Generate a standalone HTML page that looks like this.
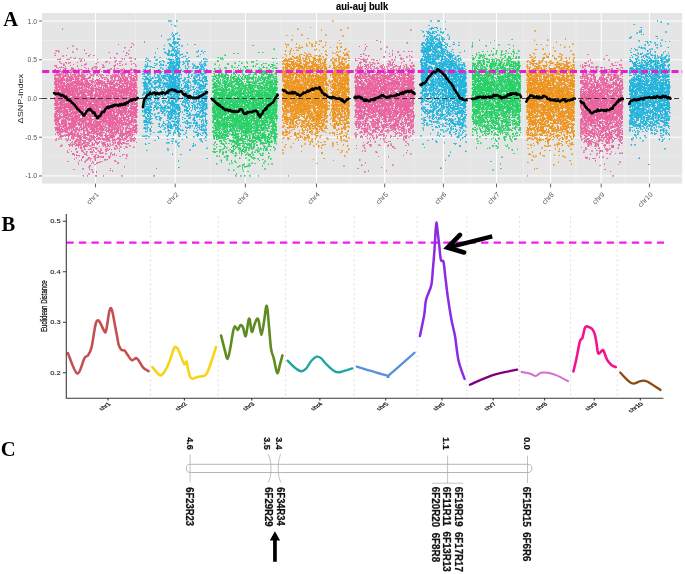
<!DOCTYPE html>
<html><head><meta charset="utf-8"><title>aui-auj bulk</title><style>html,body{margin:0;padding:0;background:#fff}svg{display:block;will-change:transform}</style></head><body>
<svg width="685" height="574" viewBox="0 0 685 574" font-family="Liberation Sans, sans-serif">
<rect width="685" height="574" fill="#fff"/>
<rect x="42.0" y="13.0" width="640.2" height="170.6" fill="#e5e5e5"/>
<path d="M42.0 40.41H682.2M42.0 79.14H682.2M42.0 117.86H682.2M42.0 156.59H682.2M135.35 13.0V183.6M210.30 13.0V183.6M280.95 13.0V183.6M350.60 13.0V183.6M414.05 13.0V183.6M469.95 13.0V183.6M523.55 13.0V183.6M575.90 13.0V183.6M625.35 13.0V183.6" stroke="#f0f0f0" stroke-width=".6" fill="none"/>
<path d="M42.0 21.05H682.2M42.0 59.77H682.2M42.0 98.50H682.2M42.0 137.22H682.2M42.0 175.95H682.2M95.50 13.0V183.6M175.20 13.0V183.6M245.40 13.0V183.6M316.50 13.0V183.6M384.70 13.0V183.6M443.40 13.0V183.6M496.50 13.0V183.6M550.60 13.0V183.6M601.20 13.0V183.6M649.50 13.0V183.6" stroke="#fff" stroke-width="1" fill="none"/>
<defs><marker id="m0" markerUnits="userSpaceOnUse" markerWidth="1.60" markerHeight="1.60" refX="0.80" refY="0.80"><rect width="1.60" height="1.60" fill="#e9639f"/></marker><marker id="m1" markerUnits="userSpaceOnUse" markerWidth="1.60" markerHeight="1.60" refX="0.80" refY="0.80"><rect width="1.60" height="1.60" fill="#21b4dd"/></marker><marker id="m2" markerUnits="userSpaceOnUse" markerWidth="1.60" markerHeight="1.60" refX="0.80" refY="0.80"><rect width="1.60" height="1.60" fill="#27d066"/></marker><marker id="m3" markerUnits="userSpaceOnUse" markerWidth="1.60" markerHeight="1.60" refX="0.80" refY="0.80"><rect width="1.60" height="1.60" fill="#ee941d"/></marker></defs>
<g fill="none" stroke="none">
<path d="M54.8 75.9l0 14.2 0 .7 0 26.2 0 4 .1-42.2 0 18.9 0 1.1 0 4.8 0 .2 .1-34.2 0 12.5 0 1.7 0 .2 0 10.4 0 10.4 0 2.6 0 12.5 .1-54 0 9.1 0 4.4 0 2 0 12.8 0 15.1 0 4.9 .1-58.9 0 14.2 0 8.4 0 9.5 0 6.7 0 19.5 0 2 .1-62.2 0 45.4 0 1.3 0 16.1 0 11.1 .1-39.2 0 16.7 0 2.6 0 1 0 5.8 0 6.3 0 10.1 .1-38.3 0 8.9 0 2.2 0 4.9 0 3 0 .2 0 3 0 5.6 0 7.7 0 .2 0 .1 .1-23.3 .1-19.9 0 6.5 0 6.9 0 .4 0 3.3 0 1 0 .4 0 30.9 .1-53.8 0 4.6 0 7.1 0 1.4 0 6.5 0 2.8 0 13.8 0 7.1 0 .8 0 4.4 .1-48.8 0 5.1 0 3 0 7 0 5.9 0 1 0 2.1 0 4.8 0 9.6 0 4.4 0 17.1 .1-64.8 0 2.9 0 10.3 0 16.5 0 14.1 .1-36 0 1 0 .5 0 2 0 25.2 0 2.3 0 3.3 0 4.3 0 5.8 .1-76.7 0 36.7 0 2.8 0 .2 0 27.5 .1-52.5 0 16.5 0 5.3 0 13 0 2.7 0 2.3 0 7.6 0 15.1 .1-49.4 0 12.3 0 .1 0 5.1 0 23.9 0 18.6 .1-71.8 0 12.4 0 1.3 0 .6 0 4.8 0 25.8 0 17.3 .1-45.5 0 .6 0 4.3 0 16.6 0 2.9 0 15.8 .1-44.7 0 14.1 0 1.6 0 3 0 .7 0 8.6 0 11.2 0 5.7 .1-56.5 0 7 0 8.9 0 4.5 0 .9 0 6.9 0 1.7 0 4.1 0 3.1 .1-24.4 0 4.7 0 7.4 0 9.5 0 3.9 0 4.8 0 3.7 0 5.5 .1-48.4 0 23.7 0 10.6 0 4.8 0 22.3 .1-48.3 0 6.2 0 1.2 .1-16.5 0 14.5 0 12.8 0 5.8 0 12.2 0 5.1 0 3.2 0 1.1 .1-56.2 0 6.9 0 10 0 3.5 0 2.2 0 1.1 0 2.6 0 11.6 0 4.3 0 11.3 0 .4 .1-56.5 0 2.1 0 15.7 0 12.1 0 18.6 .1-45.5 0 18.5 0 8.4 0 2.8 0 6.8 .1-51.1 0 27.8 0 6.6 0 2.4 0 10.7 0 12 0 9.6 0 3 0 2 .1-44.7 0 10.9 0 21.3 0 8.4 0 2.3 .1-51 0 9.5 0 2.6 0 5.8 0 5.4 .1-23.1 0 36.6 .1-67.2 0 24.1 0 4.3 0 4.7 0 3.3 0 3.2 0 2.8 0 5.3 0 1.9 0 28.4 .1-44.3 0 34.6 0 3.5 0 1.7 0 5 .1-34.1 0 3.8 0 10.4 0 2 0 .1 0 1 0 9 0 8.9 .1-44.6 0 22.1 0 2.1 0 4.9 0 5.5 .1-37 0 11.2 0 5.9 0 4.6 0 13.5 0 12.3 .1-54.9 0 15.6 0 5.5 .1-17.6 0 2.7 0 1 0 9 0 11.9 .1-44.3 0 8.9 0 12.2 0 14.2 0 9.6 0 .3 0 17.1 0 13.7 .1-83.7 0 25.8 0 5 0 2.5 0 2 0 24.9 0 26.8 .1-67.1 0 8.5 0 23 0 7.7 0 12.5 0 1 0 3.2 0 4.8 .1-39.2 0 3.3 0 18 0 13.7 .1-46.1 0 7.4 0 3.7 0 26.5 0 9.8 .1-48.9 0 26.5 0 2 0 8.6 0 0 0 .4 0 6.8 0 2 .1-53.2 0 6.7 0 15.7 0 .1 0 21.4 0 6.5 0 3.4 0 3.4 0 0 0 2.6 .1-58.1 0 30.9 0 2.6 0 8.4 0 6.5 .1-53 0 5.7 0 10.9 0 .6 0 7.6 0 2.3 0 1.8 0 8.1 0 21.6 .1-48.4 0 7.1 0 10.7 .1-17.6 0 5.1 0 4.2 0 2 0 6.1 0 2.1 0 9.6 0 2.9 0 3 0 8.5 0 5.3 .1-68.1 0 19.9 0 15.3 0 7.5 0 4 0 7.2 0 10.7 0 2.7 0 5.2 .1-66.7 0 6.9 0 .7 0 10.8 0 25.1 0 5.6 0 9.5 .1-46.2 0 18.2 0 5.6 0 3.7 0 9.4 0 20 .1-77.7 0 22.3 0 10.9 0 1.1 0 3.9 0 .5 .1-14.9 0 3.8 0 7.3 0 8 0 .5 0 1.8 0 20.4 0 0 0 4.4 0 1.9 .1-57.1 0 4 0 16.8 0 16.6 0 0 0 1.6 .1-23.8 0 19.1 0 7.3 .1-33.2 0 .5 0 13.1 0 9.1 0 26.7 0 2.3 0 .7 .1-58.7 0 23.1 0 4.8 0 1.3 0 1.4 0 1.8 0 24.3 .1-73.7 0 10.7 0 23.7 0 5.6 0 4.8 .1-6.3 0 2.4 0 3.1 0 .1 0 15 0 6.3 0 21.7 .1-74.9 0 22 0 3.2 0 4.5 0 3.2 0 32.6 .1-57.5 0 .4 0 14.7 0 10.2 0 3.4 0 .8 0 27.9 .1-73.3 0 16.4 0 5.2 0 7.7 0 9.2 0 6.6 0 3 0 5.1 0 13.1 0 5.7 .1-46.4 0 9.6 0 10.8 0 22.3 .1-47.5 0 3 0 4.6 0 5 0 7.7 0 2.4 0 2.2 0 19.9 0 .5 .1-38.7 0 0 0 7.5 .1-31.2 0 26.7 0 5.6 0 9.2 0 14.2 0 .7 0 3.3 .1-52.2 0 21.8 0 2.9 0 5.8 0 3.1 0 15.7 0 4.4 .1-55.6 0 6.9 0 12.6 0 5.8 0 16.4 0 6.5 0 2.9 0 15.1 .1-60.6 0 11.8 0 13.3 0 7.7 0 18 0 2.6 0 13.5 .1-64 0 .7 0 7.2 0 9.4 0 1.5 0 3.4 0 9 0 4.1 0 4.3 0 10.9 .1-54.4 0 6.2 0 .1 0 4.8 0 1.8 0 1.2 0 .9 0 2.1 0 4.9 0 6.1 0 16.7 0 14.1 .1-64.9 0 29.3 0 2.7 0 2.4 0 2.2 0 18.8 .1-48.5 0 4.7 0 3.6 0 2.6 0 10.9 0 10.3 0 .8 0 6.1 0 2.8 0 1.6 0 14.5 .1-56.6 0 .2 0 1.3 0 2.6 0 3.6 0 0 0 .4 0 1 0 4.5 0 6.2 0 .9 0 2.3 0 2.6 0 18.2 .1-94.1 0 47.5 0 9.3 0 4.7 .1-9.8 0 6.6 0 11.9 0 2.7 0 2 0 19.3 0 6.7 .1-35.3 0 2.4 0 1.8 0 3.4 0 29.5 .1-57.1 0 6.4 0 7.5 0 2.2 0 2.4 0 1.6 0 29.6 0 4.9 .1-57.4 0 7.5 0 8.2 0 3.6 0 .6 0 10 0 18.8 .1-28.4 0 .6 0 3.1 0 11 .1-51.1 0 24 0 16.6 0 11.3 0 2.6 0 2.4 .1-27.6 0 11.3 0 5.2 .1-34.2 0 4.4 0 15 0 .6 0 .8 0 9.2 0 4.8 0 18.5 0 5.4 .1-38.4 0 35.3 .1-37.4 0 .4 0 3.7 0 5.7 0 6.9 0 16.5 0 6.4 0 2 0 2.4 .1-56.9 0 4.5 0 13.6 0 2.4 0 6.8 0 7.8 0 .2 0 2.4 0 11.5 .1-51.4 0 22.1 0 7.4 0 .5 0 4.9 0 14.5 0 5.4 .1-55.7 0 4 0 2.7 0 1.6 0 18.6 0 4.8 0 6.2 0 .3 0 12.6 0 10.9 0 4.5 .1-71.8 0 12 0 7.2 0 2.8 0 3.6 0 10.8 0 4.1 0 10.6 .1-23 0 2.3 0 13 0 6.6 0 .3 0 .3 0 1.5 0 .2 0 4.8 0 10.3 .1-66.3 0 17.2 0 2.8 0 0 0 8.5 0 10.4 0 9.8 0 1.2 0 2 .1-38.8 0 11.5 0 24.6 0 6.2 0 6.1 .1-47 0 .3 0 21.1 0 8.5 0 1.4 0 15.5 .1-50.6 0 4.5 0 2.7 0 2.2 0 7 0 7.7 0 2 0 5.3 0 .6 0 3.8 0 .8 0 11.7 .1-32.1 0 .8 0 3.1 0 .5 0 2.1 0 9.5 .1-23.9 0 6.9 0 .4 0 3.8 0 1 0 3.6 0 7.3 0 2.5 0 7.4 0 5.5 0 .5 0 1.3 0 4.4 .1-53.4 0 11.1 0 19.4 0 .6 .1-22.5 0 .5 0 6.9 0 2.6 0 4.4 0 15.2 0 .8 0 15.4 0 1.8 .1-6.4 0 6 0 3.8 .1-51.6 0 5.3 0 1.1 0 3.6 0 19.1 0 4.7 0 7 .1-33.9 0 24.8 0 5.7 0 1.3 0 .9 .1-54.6 0 1.2 0 34.5 0 2 0 2.7 0 10.8 .1-15.1 0 15.3 0 2.6 .1-49 0 12.8 0 2.4 0 15.4 0 5.6 0 21.1 .1-56.1 0 11.4 0 3.8 0 1 0 1.2 0 16.2 0 6 0 1 0 .4 .1-39.2 0 12.2 0 7.7 0 9.1 0 12.5 0 .3 0 8.3 0 5.8 .1-69.8 0 4.2 0 2.1 0 6.9 0 31.2 0 .5 0 1.9 0 1.6 0 .9 0 24.8 .1-60.9 0 19.7 0 14.6 0 18.6 .1-56.5 0 .9 0 25.5 0 .4 0 5.8 0 6.3 0 13.4 .1-55.9 0 29 0 2.8 0 10.9 0 13.8 0 7.1 .1-44.6 0 2.6 0 11.3 0 4.5 0 .5 0 13.6 0 12.5 0 6.4 .1-53.4 0 2.9 0 .1 0 6.4 0 10.6 0 5.8 0 5.9 .1-41.5 0 5.1 0 5.1 0 35.7 0 1.2 0 2.6 0 1.8 0 .6 0 7.7 .1-55.8 0 8.5 0 10.1 0 5.6 0 5.9 0 1.3 0 1.5 0 12.8 0 .5 0 2.9 0 1.3 .1-50.6 0 2.9 0 9.4 0 2.9 0 11.7 0 9.8 0 .3 0 .8 0 .8 0 4.9 0 6.9 .1-43.1 0 3 0 2.8 0 12.9 0 10.2 0 11.5 0 .2 .1-55.9 0 18.2 0 9.5 0 1.7 0 8.4 0 5.3 0 3.3 .1-62.5 0 7.5 0 9.1 0 22.8 0 2.5 0 6.3 0 10.6 0 1 0 1.1 0 8.3 .1-39.4 0 12.6 0 2.5 0 6.6 0 .1 0 3.5 0 3.5 0 20.8 .1-35.8 0 13 0 6.2 .1-44.7 0 5.3 0 17.9 0 31.2 0 1.2 .1-69.7 0 15 0 6.6 0 6.8 0 7.9 0 5.5 0 1.9 0 .3 0 8.9 0 1.8 0 1.1 .1-37 0 6 0 3.9 0 3.9 0 6 0 .9 0 .4 0 1.8 0 30.1 0 9.5 .1-69.4 0 7.4 0 6.3 0 4.1 0 3.9 0 14.4 0 7.5 0 2.8 .1-38.4 0 1.5 0 13.3 0 .3 0 8.9 0 10.4 0 15.5 0 .6 .1-53.5 0 19.6 0 14.6 0 1.7 0 22.7 .1-86.7 0 35.2 0 0 0 16.8 0 4.5 0 5 0 2.8 0 19.9 0 19.8 .1-79.3 0 7.6 0 7 0 4 0 5.2 0 22.5 0 31.8 .1-61.4 0 8.1 0 .4 0 14.6 0 1.6 0 20.4 0 17.7 .1-82.1 0 11.3 0 8.5 0 4.3 0 11.4 0 3.7 0 1.8 0 18 .1-42.9 0 5.5 0 4.5 0 1.9 0 8.2 .1-29.4 0 2.6 0 10.7 0 1.4 0 2.7 0 4.9 0 14 0 2.3 0 16.9 .1-57.9 0 16 0 14.9 0 .9 0 21.7 0 33.4 .1-89.3 0 13.2 0 .8 0 6.9 0 13.2 0 13.8 0 3.7 0 15.4 .1-63.2 0 17.3 0 30.1 0 .3 .1-21 0 .7 0 20.8 0 2.8 .1-42.7 0 6.7 0 6.1 0 8.5 0 31 .1-42.9 0 13.8 0 7.9 0 .6 0 1 0 5.9 0 .2 0 3.1 0 7.8 0 2.8 0 1.3 .1-55 0 36.7 0 13 0 1.3 0 10.3 .1-81.4 0 21.3 0 3.3 0 3 0 6.3 0 10.7 0 26.2 .1-53.6 0 16.4 0 7.2 0 .7 0 29.4 0 1 0 .4 .1-76.2 0 29.8 0 .6 0 6.7 0 2.2 0 5.7 0 2.2 0 8.6 0 5.5 0 15.1 .1-42 0 2.2 0 4.7 0 18.5 .1-29.8 0 .2 0 1.4 0 17.2 0 10.3 .1-30.8 0 16.9 0 .6 0 5.4 0 3.9 0 12.6 0 3.7 0 14.3 0 4.6 .1-43.3 0 5 .1-23 0 12.8 0 24.1 0 3.7 .1-36 0 9.5 0 13 0 8.3 0 22.6 .1-68.1 0 1.4 0 .9 0 24.5 0 13.9 0 4.4 .1-51 0 13.8 0 5.9 0 .8 0 1.2 0 6.5 0 8.5 0 7.7 0 7.5 .1-47.2 0 6.3 0 6.8 0 9.6 0 .8 0 7.1 0 8.4 0 3.5 .1-33.5 0 6 0 9.7 0 6.6 0 5.1 0 10.5 0 3.2 .1-49.2 0 2.8 0 0 0 .4 0 26.7 0 18.4 .1-41 0 9.9 0 8.9 0 2.4 0 33.9 .1-70.1 0 4.6 0 2.4 0 14.4 0 13.5 0 3.4 0 1.3 0 5.6 .1-23.2 0 .9 0 1.5 0 4.5 0 1.5 0 5.5 0 21.4 .1-64.9 0 23.9 0 13.6 0 43.5 .1-78.2 0 15.2 0 3.5 0 27.5 .1-30.7 0 21 0 23 .1-67.3 0 15.3 0 3.4 0 2.6 0 12.1 0 2.2 0 12.9 0 1.9 0 15.8 0 9.7 0 11.7 .1-72.7 0 5.5 0 2.3 0 4.8 0 10.4 0 4.6 0 2.7 0 4.3 0 2.5 0 4.6 0 2.9 0 10.2 0 .6 0 4.7 0 1 .1-31.8 0 1.4 0 5.5 0 1.7 0 2.2 0 7.1 0 14.5 0 0 .1-46 0 20.6 0 9.5 0 7.2 0 3.4 .1-49 0 7.9 0 .7 0 .2 0 2.4 0 6.9 0 6.1 0 27.6 .1-42.4 0 1.5 0 8.8 0 1.9 0 50 .1-75.8 0 8.8 0 4.2 0 19.1 0 1 0 .8 0 4.1 0 6.6 0 16.8 0 5.2 .1-61.8 0 17.9 0 8.1 0 6.5 0 1.4 0 16.7 0 6.5 0 .4 .1-59 0 4.4 0 6.4 0 1.8 0 4 0 12.5 0 25.6 .1-48.1 0 23.3 0 .6 0 6.9 0 5.9 0 4.9 .1-59.3 0 1.9 0 15.4 0 .6 0 8.3 0 7.7 0 1.8 0 3.8 .1-35.9 0 27.9 0 2.8 0 18.9 0 .8 0 9.6 .1-62.8 0 14 0 23.1 0 1 0 17.4 0 0 0 8.6 0 1.8 .1-57.8 0 12.8 0 9.1 0 1.1 0 16 0 .5 0 10.6 0 7.7 .1-51.9 0 1.3 0 .7 0 3.4 0 1 0 2.7 0 .2 0 2.4 0 5 0 14.2 0 2.9 0 10.9 0 4.5 0 1.1 0 2.9 0 2.1 0 7 .1-68.8 0 7.7 0 8.9 0 7.1 0 2.8 0 7.3 .1-10.1 0 17.4 0 13.5 0 10.9 0 4.4 .1-62.2 0 23.6 0 11 0 25.7 .1-61.5 0 7.5 0 4.1 0 5.6 0 8.3 0 3.5 0 8 0 .9 0 .2 0 14.1 .1-47.4 0 .7 0 7.3 0 .4 0 4.8 0 15 0 2.5 0 .7 0 2.9 0 32.5 .1-79.8 0 8.8 0 38.3 0 3.5 0 28.6 .1-101.7 0 27.2 0 0 0 3 0 15.2 0 15.2 0 7.4 0 10.6 0 5.4 .1-89.9 0 22.6 0 21.2 0 .1 0 3.2 0 3 0 4 0 4.5 0 .7 0 3.8 0 13.1 0 5.6 .1-50.2 0 7.3 0 8.8 0 5 0 3.4 0 2.4 0 2.2 0 7.2 0 3.9 0 3.6 0 5.7 0 1.2 0 10.6 .1-49.7 0 2.8 0 4.7 0 7.8 0 7.5 .1-23.3 0 2.7 0 16.1 0 5.4 0 6.7 0 5.2 0 .5 0 10.3 0 1.6 .1-27.5 0 12.8 0 .6 0 5.1 0 1 .1-64.9 0 13 0 4.3 0 4.9 0 8.7 0 .9 0 8.5 .1-35.8 0 2.7 0 25.8 0 20.9 .1-29.3 0 4.8 0 .9 0 17.8 0 13.3 0 .1 0 43.7 .1-97.9 0 11 0 17.3 0 6.7 0 6.2 0 8.2 0 0 0 1 0 14.7 0 17.4 .1-79.2 0 12.4 0 .1 0 2.6 0 18.9 0 13.9 0 7.1 0 .1 0 4 0 4.5 .1-80.1 0 33.1 0 11.7 0 17.1 0 1.5 0 3.7 .1-19.2 0 20.7 0 6.7 0 10.4 .1-73.7 0 11 0 4 0 21.6 0 15 .1-27.1 0 2.2 0 6.8 0 .9 0 1.4 0 6.7 0 .7 0 2.8 0 7.7 0 .1 0 11.1 .1-61.9 0 31.2 0 4.5 0 7.1 0 39 .1-82.8 0 20.3 0 3.7 0 1.6 0 3.9 0 6.9 0 4.2 0 12.3 0 16.8 .1-54.4 0 13 0 1.5 0 1.4 0 2 0 .8 0 .3 0 2.6 0 3.4 0 46.5 .1-55.1 0 7.4 0 12 .1-49.4 0 1 0 1.3 0 5.7 0 3.6 0 .5 0 12 0 3 0 5.2 0 10.3 0 24.8 .1-71.7 0 5.6 0 7.8 0 14.4 0 1.5 .1-22.3 0 34.5 0 22.8 .1-44.9 0 6.9 0 20.9 0 1.9 0 .1 0 12.8 .1-52.6 0 9.3 0 15.3 0 10.8 0 .9 0 1.9 0 14.8 .1-56.3 0 14.9 0 4.3 0 .4 0 5.2 0 5.7 0 .4 0 .9 0 .2 0 4.4 0 4.2 0 4.6 0 19.5 .1-43.7 0 1.8 0 4.5 0 2.4 0 7.4 0 1.3 0 11.5 0 9.1 0 8 0 6.2 .1-72.5 0 41.7 .1-60.4 0 22.9 0 17.8 0 4.2 0 21.8 0 6 0 15 .1-55.7 0 11.5 0 2.7 0 8.4 0 1.9 0 8.3 0 6.4 .1-48.2 0 4 0 6 0 5.5 0 .1 0 7 0 3.3 0 6.4 .1-34.2 0 3.3 0 .3 0 7.9 0 .3 0 2 0 1.4 0 11.5 0 3.6 0 6.5 0 3.5 0 5.1 0 18.9 .1-65.2 0 3.8 0 6 0 9.4 0 39 0 9 .1-72 0 3.1 0 .8 0 15.3 0 1.8 0 16.4 0 4.4 0 5.4 0 7.4 .1-45.4 0 1.4 0 3.9 0 29.1 0 23.9 0 .1 .1-43.6 0 1.7 0 6.3 0 4.3 0 18.6 0 16.6 0 4 .1-66.4 0 18.2 0 .9 0 6 0 9.9 0 7.2 .1-42.6 0 .7 0 3.1 0 17.2 0 26.8 0 2 0 8.1 0 15.2 .1-78.6 0 7.6 0 1.9 0 14.7 0 .8 0 4.9 0 5.9 0 45.4 .1-108.7 0 29.2 0 23.5 0 1.6 0 4.8 0 .8 0 9.3 0 1.2 0 19.5 0 13 .1-49 0 5.1 0 3.4 0 6.8 0 22.8 0 3.7 .1-63.3 0 3.2 0 6.1 0 .6 0 20 0 10.3 .1-25 0 2.8 0 13.6 0 8.1 .1-35.1 0 17.1 0 2 0 7.5 0 4 0 11 0 1.7 0 4.9 0 1.2 .1-56.3 0 9.5 0 1 0 1.4 0 .4 0 10.3 0 4.9 0 2.8 0 6.6 0 2.5 .1-52.5 0 14.4 0 2.9 0 15.7 0 11.3 0 18.3 .1-48.1 0 4 0 11.8 0 15.1 0 5.7 0 22.1 .1-76.8 0 30.7 0 6.1 0 5.7 0 31.1 .1-60.6 0 16.7 0 3.2 0 0 0 21.9 0 6.3 0 10.7 0 17.9 .1-70.4 0 2.7 0 9.5 0 7.1 0 5.1 0 4.7 0 28.5 0 5.5 .1-68.5 0 18.4 0 2.8 0 7.3 0 4.4 0 46.1 .1-76 0 11.2 0 3.2 0 6.1 0 3.3 0 2.8 0 1.6 0 3.1 0 5.1 0 1.4 0 12.6 0 4.4 .1-58.1 0 .8 0 1.8 0 10.1 0 24.3 0 7.3 0 12.5 0 .5 .1-39.7 0 5.3 0 7.5 0 1.7 0 28.9 .1-66.2 0 3.1 0 5 0 2.2 0 1.4 0 5.2 0 7.6 0 .2 0 3.6 0 8.3 0 16.7 0 15.7 0 2.3 .1-58.5 0 20.3 0 19.1 0 23.9 0 17.6 .1-79.6 0 11.8 0 8.2 0 .7 0 3.1 0 8.5 0 2.2 0 5.1 0 5.3 0 5.3 0 27.6 .1-84.8 0 31.8 0 23.5 .1-64.3 0 7.2 0 8.2 0 8.2 0 1 0 .1 0 5.7 0 12.5 0 2.5 0 29.5 0 2.4 .1-70.3 0 9 0 11.8 0 .7 0 14 0 17.8 0 6 .1-47 0 37 0 10.7 .1-62.3 0 6.8 0 4.2 0 16.2 0 3.4 0 2.8 0 2.4 0 15.8 .1-31.9 0 5.2 0 11.3 0 5.2 0 3.6 0 3.9 0 7.5 .1-13.2 0 6.7 0 11.9 0 8.5 0 1.4 0 10.3 .1-62 0 3.8 0 4.8 0 8.4 0 8.7 .1-49.3 0 11.8 0 4.9 0 1.1 0 9.5 0 2.3 0 9.1 0 1.7 0 11.7 0 22.1 .1-74 0 4.9 0 7.7 0 1.3 0 5.8 0 9.8 0 6.9 0 2.3 0 5.3 0 16.9 0 4.8 0 1.3 0 .7 0 22.6 .1-82.3 0 8.6 0 4.8 0 7.2 0 2.4 0 8.7 0 2.4 0 16.1 0 13.6 .1-59.4 0 6.6 0 5.5 0 17.4 0 2.9 0 1.8 0 7.4 0 12.4 .1-78 0 25.4 0 13.2 0 9.8 0 1 0 4.1 0 8.6 0 10.8 0 6.3 0 2.3 .1-58.4 0 9.5 0 2.4 0 4.8 0 10.9 0 10.4 0 20.5 .1-38.8 0 5.3 0 1.2 0 11.5 0 .4 0 5.3 .1-49.4 0 27.8 0 2.6 0 21.1 .1-44.9 0 24.6 0 29.4 .1-45.2 0 1.8 0 10.1 0 11.3 0 5 0 16.2 .1-59.5 0 .1 0 26.5 0 30.8 .1-71.9 0 26.9 0 23.1 0 4 0 5.1 0 6.2 0 11.8 .1-53.7 0 5.3 0 1.4 0 9 0 .6 0 5.4 0 12.1 0 19 0 3.6 .1-57.5 0 27.5 0 1.5 0 12.3 0 12.1 0 8.3 .1-69.7 0 .6 0 15 0 5.4 0 2.1 0 9.7 0 20.9 0 6.1 0 12 .1-48.7 0 2.2 0 3.6 0 4.8 0 11.3 0 16.7 0 5.4 .1-73.6 0 11.1 0 3.1 0 13.1 0 7.7 0 3.2 0 6.7 0 15.3 .1-53.2 0 17.1 0 7.4 0 2.5 0 4.6 0 10.5 0 5.6 0 24.2 .1-65.5 0 5.2 0 3.9 0 18.6 0 13.9 0 13.6 0 1.6 0 5.2 .1-84.1 0 8.8 0 10.1 0 8.2 0 5.4 0 16.3 0 9 0 .3 0 2.9 0 15.6 0 9.5 0 .9 .1-60.1 0 18.7 0 1.2 0 5.9 0 11.5 .1-50.7 0 8.2 0 15.1 0 4.8 0 5.7 0 11 0 9 0 2 0 3.9 .1-56.5 0 13.2 0 .5 0 7.8 0 10.2 0 .4 0 11.7 0 3 0 2.1 0 34 .1-100.3 0 27.3 0 36.7 0 2.7 0 32.7 .1-77 0 2.2 0 1.5 0 12.8 0 10.3 0 9.5 0 10.2 .1-63.3 0 7 0 8.2 0 2.5 0 3.6 0 1.3 0 3.3 0 6.5 0 8.8 0 1.2 0 4.6 0 5.9 0 9.8 0 22.5 .1-75.7 0 13.8 0 5.7 0 .8 0 4.4 0 14.7 .1-29.7 0 8.1 0 4.4 0 9.3 .1-28.4 0 24 0 6.4 0 2.7 0 10.8 0 6.5 0 11.9 .1-69.9 0 1.4 0 7.6 0 5.9 0 1.3 0 13.5 0 7 0 4.8 0 38 .1-57.9 0 .2 0 .3 0 4 0 17 0 6.9 0 .4 0 1.8 0 21.2 .1-54.7 0 .3 0 3.3 0 2.2 0 1.6 0 8.2 0 1.4 0 38 .1-68.3 0 4.2 0 1.6 0 21.2 0 9.2 0 9.4 0 .5 0 21.8 .1-85.3 0 31.3 0 7.1 0 15 0 4.6 0 .1 0 1 0 3.7 0 36.3 .1-54.9 0 1.6 0 1.7 0 2.9 0 12.3 .1-47.1 0 4.1 0 11.6 0 14.2 0 2.9 0 1.9 0 2.9 0 7 0 3.6 0 14.1 .1-61.4 0 8.2 0 4.2 0 19.4 0 6.8 0 15.6 0 5.2 0 16.6 0 5.2 0 12.6 .1-92.1 0 16 0 3.9 0 4.6 0 8 0 7.6 0 2 .1-33.5 0 15.7 0 13.9 0 7.2 0 6 0 29 .1-74.1 0 9.6 0 1.5 0 1.5 0 3.6 0 7.1 0 3.8 0 13.8 0 51.3 .1-73 0 5.6 0 7.1 0 14.5 0 11.2 .1-62 0 .8 0 17.1 0 6.3 0 8 0 11.2 0 5.5 0 3.6 0 1 0 43.7 .1-97.6 0 6.1 0 26.6 0 4.7 0 10.6 0 1.1 0 14.9 0 1.2 .1-69.1 0 22.6 0 .2 0 5 0 2.3 0 2.3 0 3 0 5.1 0 9.4 0 1.3 0 5.4 0 2.5 .1-50.2 0 8.2 0 12.1 0 20.9 0 5.8 0 .1 0 .1 0 7.3 0 14.6 .1-75.2 0 1.2 0 13.4 0 .3 0 2.3 0 7.1 0 19.6 0 5.4 0 7 0 9.1 0 4.2 0 .1 .1-68.9 0 20.5 0 .5 0 .5 0 4.3 0 11 0 1 0 2.6 0 23.4 0 3.8 0 1.4 .1-57.8 0 3.6 0 27.9 0 14.7 .1-40.8 0 .5 0 5.4 0 .9 0 3.1 0 16.8 0 10.8 .1-52.8 0 12.8 0 4.4 0 1.7 0 3.2 0 14.3 .1-39 0 1.6 0 .8 0 40 0 29.7 0 5.3 .1-103.9 0 21.6 0 4.2 0 2.7 0 13.4 0 18.1 .1-37.2 0 11.3 0 .3 0 .5 0 5 0 1.1 0 1.6 0 6.7 0 28.4 .1-67.8 0 25.2 0 1.4 0 3.7 0 .4 0 3.2 0 .9 0 11.3 0 7.2 0 4.7 0 14.9 0 4.7 0 6 .1-76.4 0 36 .1-13.7 0 45.2 0 3.1 .1-73.1 0 14.2 0 2.7 0 2.9 0 6.8 0 5.2 0 6.2 0 7.8 0 2.2 0 7.4 0 6.5 0 10.9 .1-61.7 0 19.3 0 3.8 0 11 0 3.9 0 13.8 0 9.2 0 3.6 0 21.4 .1-80.7 0 24.6 0 2.6 0 7.5 0 6.9 0 15.6 0 .2 0 7.6 .1-59.4 0 8.5 0 2.4 0 37.8 0 14.1 .1-50 0 8 0 4.3 0 7.1 0 5.3 0 17.6 .1-60.6 0 14.7 0 17.6 0 8 .1-37.8 0 11 0 5.1 0 10.7 0 3.9 0 2 0 28.9 .1-64.5 0 16.9 0 15.9 0 20.7 .1-50.6 0 6.4 0 5.2 0 7.2 0 18.4 0 1.9 0 2.4 0 .5 0 28.8 .1-75.7 0 2.6 0 2.7 0 .1 0 11.6 0 5 0 36.9 .1-73.8 0 24.2 0 4.2 0 25.5 0 5.2 0 1.4 0 20 .1-90.9 0 31.1 0 .9 0 6.7 0 4.9 0 3.1 0 3.9 0 1.1 0 6.5 0 18.9 0 12.1 .1-60.6 0 16.9 0 4.8 0 8.1 0 5.8 0 8 0 3.9 0 24 .1-67.2 0 11.7 0 1.3 0 .8 0 2.3 0 1 0 13.8 0 7.8 0 12.5 0 8.1 0 14.8 .1-78.4 0 7.5 0 6.2 0 5.7 0 23.7 0 2.4 0 11.6 .1-70.7 0 23.7 0 13.9 0 1.6 0 3.5 0 8.1 0 32.2 .1-61.8 0 21.8 0 .7 0 6.8 0 10.6 0 16.6 .1-65.6 0 2.8 0 8.8 0 12.1 0 .9 0 .3 0 1 0 22.5 .1-50.2 0 31.3 0 1 0 3 .1-3.6 0 5.7 0 12.9 0 5.1 0 3.1 0 14.5 .1-69.1 0 .1 0 8 0 13.6 0 2.4 0 39.7 0 8.7 .1-81 0 6.5 0 5.7 0 13.7 0 30.2 0 29.3 .1-81.1 0 4.2 0 3.3 0 14.1 0 11.4 0 .3 0 7.6 .1-32.2 0 10.9 0 7.2 0 3.2 0 9.2 0 6.8 0 4.5 0 .2 0 5.8 0 7.4 .1-58.4 0 29.9 0 21.1 0 4.3 .1-58.4 0 20.3 0 11 0 12.7 0 8.4 .1-50.9 0 10.3 0 7.6 0 5.4 0 7.5 0 10.5 0 9.2 .1-22.2 0 2.5 0 .6 0 3.4 0 7.4 0 6.9 0 .4 0 12.1 0 31.8 .1-59.1 0 16.1 .1-42.6 0 2.6 0 5.9 .1-8.2 0 17.7 0 5.6 0 6.2 0 6.7 0 4 .1-40.7 0 4.7 0 .8 0 14.3 0 25.3 .1-43.9 0 6.5 0 6 0 6.3 0 5.1 0 3.2 0 6.2 0 10.4 0 10 0 14 .1-44.8 0 8.7 0 16 .1-55.4 0 11.1 0 13.6 0 10.7 0 8.4 .1-58.8 0 9.7 0 6.4 0 3.5 0 54.4 0 6.9 .1-80.5 0 38.5 0 12.1 0 4.1 0 1.8 .1-43.1 0 4.9 0 14 0 3.3 0 11.1 0 11.6 .1-71.5 0 45.7 0 1.7 0 1.6 0 21.1 0 8.2 .1-46.1 0 3.6 0 9.8 0 4.8 0 8.5 0 4.8 0 12.9 0 10.9 .1-65.5 0 8.1 0 .4 0 12.7 0 10.2 0 6.6 0 7.5 0 3.8 0 31.2 .1-73.4 0 7.6 0 10.7 0 9.1 0 28.5 0 8.9 0 24.3 .1-90.1 0 7.3 0 7.5 0 .6 0 21 0 37.1 0 9.7 .1-73.3 0 5.4 0 9.7 0 13.5 0 9.6 .1-48.5 0 18.7 0 7 0 4.8 0 1.6 0 1.7 0 3.5 0 3.9 0 1.2 0 14.9 .1-46.4 0 4.1 0 14.3 0 8.5 0 47.8 .1-96.3 0 14.6 0 6.4 0 7.2 0 1.1 0 1.1 0 4.6 0 3.6 0 2.2 0 1.8 0 1.1 0 5.5 0 18.3 .1-38.9 0 3.4 0 12.9 0 .2 0 19.2 .1-39.6 0 8.8 0 1.6 0 7.2 .1-37 0 2.9 0 27.5 0 12 0 2.4 0 1.3 0 8.6 0 6.2 .1-62.1 0 7.8 0 44.6 0 6.7 .1-40.7 0 4.4 0 2.8 0 5.4 0 8.6 0 3.1 0 26.5 .1-55.4 0 2.3 0 18.5 0 .1 0 6.9 0 14.7 0 6.3 0 1.2 0 .8 0 24.4 .1-71.6 0 9.4 0 .4 0 12.6 .1-39.2 0 10.8 0 .6 0 21.2 0 5.6 0 8.1 .1-38.1 0 8.9 0 12.3 0 10.6 0 9.7 0 21.2 0 4 .1-97.7 0 16.7 0 2.1 0 45.1 .1-.2 0 4.8 0 1 0 22.5 0 4.8 0 9.1 .1-68.3 0 1.3 0 17 0 5.3 0 42.9 .1-74.6 0 12.7 0 .5 0 2.4 0 2.6 0 .9 0 .9 0 1.4 0 11.2 0 1.7 0 9.6 .1-53 0 5.4 0 9.7 0 1.8 0 .7 0 3.5 0 11.1 0 .8 0 6.8 0 1.4 0 3.4 0 1.6 0 8.3 0 6.5 0 13.6 .1-54.2 0 6 0 2.8 0 3.2 0 3.7 0 10.9 0 3.2 0 .1 .1-31.7 0 1.4 0 1.1 0 .7 0 6 0 2.2 0 3.3 0 5 0 22.1 0 2.6 .1-28.6 0 12 .1-46.2 0 15.8 0 2.5 0 7.1 0 2.9 0 .4 0 9.5 0 19.4 0 19.5 .1-62.4 0 3.9 0 13.2 0 11.4 0 .5 0 1.3 0 11.5 0 31.6 .1-80.7 0 4.1 0 8.8 0 4.6 0 7.5 0 20.9 0 8.7 0 3.1 .1-58.5 0 6.6 0 17.5 0 17.4 .1-36.9 0 1.7 0 5 0 2 0 .1 0 20.9 0 .5 0 2.7 0 7 0 .9 0 24.4 .1-67.1 0 22.1 0 9.5 0 8 0 .9 0 44.9 .1-100.8 0 19.9 0 .3 0 1.2 0 3 0 12.8 0 4.7 0 26.4 0 7.6 .1-52.8 0 5.8 0 17.5 0 .6 0 15.4 0 16.2 .1-39.3 0 20.1 0 1.6 0 3.4 0 21.1 .1-72.1 0 10.4 0 18.6 0 18.5 0 9.5 0 3.3 0 9.3 .1-84.8 0 15 0 1 0 10.5 0 5.5 0 6.6 0 9.8 0 12.4 .1-48.2 0 8.8 0 11 0 13.3 .1-43 0 11.1 0 11.1 0 3.8 0 11 0 23.9 0 12.7 0 .3 0 1.3 .1-59.4 0 5.4 0 4.3 0 3.5 0 6.6 0 3.1 0 6.1 0 5 0 11.2 0 8.2 0 22.7 .1-94 0 36.5 0 4.9 0 2.7 0 13.3 .1-46.3 0 52.4 .1-56.5 0 12.8 0 .9 0 12.1 0 4.6 0 31.9 0 34.9 .1-82.2 0 1.5 0 33.5 0 5 0 6.8 .1-38.7 0 3.8 0 12.8 0 33 .1-71.5 0 13.5 0 17.4 0 .3 0 .8 0 16.9 0 .4 0 10.4 .1-47.1 0 22.1 0 4.2 0 4.3 0 4.5 0 .7 0 25.4 .1-76.9 0 27.6 0 5.1 0 4.6 0 9.1 0 2.9 0 .2 0 7.8 0 14.4 0 5.5 .1-68.3 0 8.5 0 9.6 0 9.1 0 6.5 0 6.3 0 1.6 0 10.5 .1-32.4 0 2.9 0 3.7 0 4.1 0 3.8 0 10.2 0 23.3 0 13.1 .1-63 0 5.4 0 2 0 21.1 0 3.2 0 1.3 .1-77.4 0 16.4 0 16.8 0 39.3 0 10 0 1.3 .1-48.6 0 19.5 0 5.1 0 1 .1-13.8 0 2.7 0 1 0 19.1 0 4.1 0 1.6 0 26.1 .1-70.8 0 36 0 9.7 0 5.5 .1-42.1 0 14.3 0 16.7 0 6.7 0 3.6 .1-63.7 0 34.6 0 18.6 0 14 0 3.3 0 1.7 0 6.3 .1-62.9 0 25.9 0 3.9 0 12.5 .1-34.2 0 .1 0 3.9 0 26.9 0 16 .1-68.8 0 28.9 0 5.2 0 1.9 0 1.1 0 20.2 .1-65 0 28.5 0 1.7 0 14.3 0 1.6 0 0 0 5.7 0 1.7 0 2.5 0 17.7 .1-67.2 0 9.5 0 13.6 0 .4 0 2.2 0 5 0 .3 .1-19.1 0 11.8 0 3 0 .6 0 4.6 0 5.4 0 4 0 5.7 0 9.4 0 17.6 0 .2 .1-66.5 0 7.2 0 6.6 0 0 0 31.7 0 37.7 .1-78.3 0 11.7 0 4.3 0 6.8 .1-36 0 12.2 0 15.4 0 4.1 0 50.6 0 1.5 0 .3 0 1.5 0 1.3 .1-73.6 0 2.3 0 8.3 0 0 0 3.5 0 5.3 0 15.9 0 2.5 0 13.6 0 4.1 .1-61 0 44.9 0 7.1 0 9.4 .1-75.4 0 24.3 0 8.6 0 14.6 0 1.4 0 .9 0 26 .1-57.9 0 2 0 6.4 0 13.1 0 3.3 0 3.3 0 2.2 0 5.1 0 7.8 0 32.5 .1-70.9 0 4.4 0 7.8 0 1.3 0 18.3 0 2.2 0 4 0 4.3 0 9.6 0 6.4 0 28.3 .1-67.7 0 3.2 0 4 0 .1 0 9.3 0 1.1 0 .9 0 25.6 .1-64.4 0 26 0 1.1 0 3.7 0 1.1 0 11.5 .1-62.9 0 20.7 0 2 0 3.3 0 20.4 0 11.1 0 8.2 0 8.6 0 6 .1-85.1 0 26.4 0 5.8 0 10.4 0 12.9 0 6.7 0 5.7 .1-61.5 0 28.7 0 11.3 0 .7 0 3.3 0 1.3 0 6.2 0 .5 0 3.3 0 7.6 0 15.3 .1-60.2 0 13.3 0 3.4 0 25.6 0 6.2 0 2.6 0 32.7 .1-89.6 0 23 0 6.4 0 3.5 0 14.3 0 46.4 .1-84 0 .8 0 3.4 0 .3 0 2.2 0 .5 0 .5 0 15.7 0 33.8 0 5.5 .1-79 0 6.7 0 1.3 0 11.7 0 5.3 0 22 0 2.5 0 3.1 0 44.3 .1-105.4 0 12.8 0 8.9 0 14.3 0 3.4 0 .9 0 19.9 .1-47.4 0 19.9 0 23.3 0 2.5 0 1.2 0 2.3 0 34.1 .1-80.7 0 1.2 0 16.2 0 1.8 0 6.6 0 .4 0 6.9 0 11.3 0 2 0 7.5 0 6.2 .1-67.3 0 36.8 0 1.9 0 1 0 21.1 .1-61.7 0 5.8 0 4.2 0 10.8 0 11.1 0 11.1 0 .2 0 7.2 0 14 0 18.7 .1-77.8 0 19.9 0 2.6 0 3.1 0 8.5 0 12.2 0 18.1 .1-84.7 0 38.7 0 2.6 0 16.1 0 8.5 0 9.5 0 13.5 0 .3 .1-43.8 0 5.2 0 6.2 0 7.8 .1-17.5 0 12.8 0 10.6 0 14 .1-71.1 0 11.5 0 8.3 0 1.1 0 4.9 0 .3 0 3.7 0 29.2 0 11.7 .1-61.2 0 1.7 0 17.3 0 15.4 0 2.7 0 2.6 0 11.8 .1-49.1 0 5.3 0 14.3 0 5.8 0 1.4 0 3.2 0 .6 0 6.1 .1-59 0 23.9 0 2.7 0 20.8 0 1.8 0 .7 0 9.6 0 9.6 0 26.1 .1-77.5 0 2.1 0 22.9 0 2.6 0 1 0 17.4 0 17.3 0 18.9 .1-80.4 0 10.6 0 4.3 0 2.5 0 9.9 0 3.5 0 6.3 0 19.1 0 17.6 .1-82.5 0 27.8 0 1.3 0 1.4 0 5.2 0 3.8 0 2.1 0 27.7 0 8.3 .1-66.3 0 16.6 0 2.5 0 14.4 0 5.3 .1-46.7 0 14 0 5.5 0 21.1 0 7.6 0 18.2 .1-55 0 .8 0 6.6 0 1.9 0 3.5 0 9.5 0 .7 0 11.5 0 16.8 .1-50.3 0 21.4 0 6.8 0 6.6 0 10.3 0 3.5 0 1 0 18.4 .1-73.2 0 23.2 0 7.5 0 .2 0 4 0 11.8 .1-2 .1-56.8 0 11.4 0 8.1 .1-1.8 0 5.3 0 3.6 0 .6 0 2 0 1.9 0 9.2 0 12 .1-17.6 0 9.8 0 .5 0 4.7 0 3.6 .1-44.8 0 12.5 0 3.6 0 18.1 0 14.8 0 3.7 .1-39.4 0 .8 0 .1 0 28.1 0 11.7 0 7.5 0 .7 .1-61.7 0 4.3 0 2.6 0 1.9 0 5.3 0 3.6 0 6 0 10.2 0 2.9 0 3.9 0 14 0 18 .1-78.9 0 35.9 0 1.8 0 25.5 0 14 .1-73.2 0 16.4 0 21.9 0 17.9 0 11.8 .1-63.4 0 .6 0 6.6 0 8 0 .8 0 13.5 0 2.6 0 12.7 0 34.3 .1-80.1 0 7.1 0 15.1 0 2.7 0 17 .1-49.5 0 19.8 0 .6 0 1.2 0 1.2 0 16.2 0 10.8 0 15.3 .1-59 0 6.9 0 13.3 0 13.4 0 1.6 0 2.9 0 6.8 0 8 0 23.3 .1-87.5 0 20.3 0 4.3 0 13 0 .6 0 5 0 7.4 0 6.6 .1-44.7 0 .2 0 22.9 0 5.4 0 8.5 0 5.2 0 15 .1-35.6 0 0 0 .1 0 .5 0 .7 0 17.8 0 7.2 .1-37.7 0 .8 0 3.2 0 7.3 0 23.6 0 2.4 0 6.9 0 15.4 .1-75.5 0 34.7 0 1.1 0 6.6 0 3.5 0 11.1 0 .1 .1 2 0 17.8 .1-34.3 0 6.2 0 1.1 .1-38.1 0 30.8 0 3.7 0 7.4 0 1.8 0 17.3 .1-65.3 0 13.6 0 3.7 0 16.4 0 10.6 0 25.3 .1-77.1 0 11.4 0 2.2 0 1.3 0 7 0 3.9 0 13.6 0 6.6 0 4.2 0 .1 0 3.1 0 3.7 0 17.4 .1-39.3 0 16.6 0 1.1 0 6.7 .1-52.6 0 15.4 0 1.2 0 4.1 0 25.3 0 9.4 .1-66.9 0 36.2 0 1.5 0 .2 0 11.8 0 29 .1-72.6 0 7.8 0 .3 0 5.5 0 12.7 0 5.5 0 7.7 0 8.3 0 7 0 8.9 .1-49.8 0 9.8 0 7.4 0 21.6 .1-41.2 0 9.7 0 3.1 0 1.7 0 1.1 0 .4 0 8.7 0 3.3 0 10.6 0 1.7 .1-47.9 0 9.8 0 12.5 0 25.8 0 .1 .1-40.4 0 4.7 0 7.5 0 8 0 6.7 0 3.5 0 6.4 .1-45.5 0 11.5 0 5.2 0 3.4 0 2.5 0 6.4 0 .9 0 6.6 0 10.7 0 6.5 0 22.3 .1-72.6 0 .9 0 9.5 0 7.2 0 4.1 0 5.7 0 .8 0 1.7 0 0 0 5.7 0 1.7 0 8.2 0 8.6 .1-24.9 0 29.9 0 18.2 .1-86.6 0 19.6 0 2 0 1.6 0 5.5 0 6.4 0 1.9 0 3.9 0 1.1 0 10.5 0 8.4 .1-52.3 0 8.2 0 .7 0 15.2 0 11.7 .1-41.1 0 6.3 0 14.5 0 .9 0 12.7 0 4.4 0 6.3 0 15.9 0 5.3 .1-59.4 0 7.1 0 2.8 0 9 0 2.4 0 10.9 0 9.9 0 3.8 0 8.1 0 .3 .1-54.4 0 6.1 0 5.9 0 5.2 0 3.2 0 1.5 0 4.1 0 .9 0 2.9 0 6.6 0 14.4 .1-68.4 0 24.1 0 1.7 0 11.7 0 2.5 0 13.5 0 3.1 0 5.5 0 3.1 0 .2 0 6.2 0 3.4 0 10.6 .1-70 0 23 0 32.9 0 .1 0 5.3 0 13.1 .1-92.3 0 28 0 17.4 0 3.1 0 6.5 .1-37.2 0 11.9 0 1.1 0 .9 0 6.6 0 1.2 0 5 0 .7 0 11.4 .1-23 0 3.5 0 13.4 0 30.4 .1-57.3 0 20.1 0 19.8 0 1.3 .1-54.4 0 44.6 0 10.6 .1-29.8 0 .1 0 5.1 0 19.6 0 .2 0 4 0 .2 .1-63.1 0 22.6 0 22.8 0 3.6 0 3.3 0 1 0 36.5 .1-69.6 0 .5 0 21.1 0 0 0 5.2 0 4.2 0 21.8 0 36 .1-90.2 0 4.1 0 3.5 0 11.8 0 1.7 0 14.9 0 1.1 0 3.4 0 12.4 0 4.5 .1-76.1 0 10.5 0 11.4 0 2.6 0 10.9 0 16.5 0 2.2 .1-34.9 0 8.3 0 4 0 10.7 0 2.8 0 7.6 0 1.5 .1-37.6 0 15.4 0 4.4 0 3.4 0 1.1 0 1.8 0 22.9 .1-50.3 0 35.8 0 21 .1-52.8 0 5.8 0 6 0 5.2 0 6.9 0 3.9 0 1.9 0 12.3 0 14.7 .1-33.9 0 9.1 .1-19.3 0 7.1 0 3.4 0 26.1 0 7.8 .1-61.7 0 8.4 0 16.1 0 .9 0 1.7 0 8.9 0 42.3 .1-80.7 0 14.4 0 15.7 0 4 0 30.6 .1-47.6 0 18.8 0 5.9 .1-37.5 0 .6 0 14.8 0 1.3 0 .8 0 4.3 0 4.5 0 3 0 9.4 .1-17.4 0 3.9 0 .8 0 5.3 0 1.2 0 .2 0 14.2 0 15.1 .1-40 0 38.9 0 .4 .1-65.1 0 6.6 0 5.2 0 5 0 22 0 8.6 0 13 .1-67.9 0 21.2 0 30.9 .1-26.4 0 5.9 .1-26.3 0 10.4 0 10.5 0 5.7 0 2.7 0 4.9 0 4.7 0 4.5 0 4.8 0 23.8 .1-63.7 0 10.6 0 2.9 0 19.5 0 2 0 5.1 0 10.8 0 5.8 .1-55.1 0 12.9 0 .6 0 11.1 0 12.9 0 4.7 .1-29.3 0 .9 0 .2 0 15.8 0 7.9 0 8.9 0 .8 0 .4 0 11.8 .1-63.2 0 5.5 0 .8 0 29.5 0 31.3 0 3 0 6 .1-82.3 0 7.1 0 5.5 0 5.4 0 12.8 .1-46.3 0 30.5 0 17.2 0 4 0 1.2 0 24.5 .1-44.3 0 .1 0 5 0 5.8 0 .4 0 6.1 0 1.8 0 3.5 0 20 .1-60.3 0 10 0 5 0 5.3 0 14.5 0 24.8 .1-38.5 0 4.5 0 3.6 0 15.2 0 6.9 0 3 .1-18 0 1.1 0 1 0 4.8 .1-45.3 0 25.3 0 12.9 0 7.5 0 2.5 0 4.1 .1-40.4 0 24.5 0 1.4 0 .5 0 9.2 0 6.3 0 2.3 0 8.8 0 8.7 0 2.4 .1-79 0 23.9 0 9.1 0 2.2 0 4 0 19.5 .1-39.3 0 8.3 0 7 0 31 .1-52.7 0 11.4 0 14.4 0 7.4 0 1.9 0 .5 0 1.1 0 15.2 0 1 0 0 .1-54.5 0 15.8 0 5.6 .1-43.8 0 20.2 0 3.7 0 .4 0 .8 0 3.5 0 11.9 0 .4 0 11.8 0 22.4 .1-57.6 0 56.4 0 3 0 2.9 0 18.1 .1-76.3 0 4.1 0 5.4 0 4.7 0 8.7 0 42.4 .1-68.4 0 .3 0 13.1 0 1 0 2.5 0 13.3 0 2.6 0 2.7 0 1.4 0 22.5 0 5.1 0 .4 .1-51.8 0 7.4 0 2.5 0 13.1 0 27.6 .1-55 .1 6.7 0 5.8 0 7.2 0 22.5 0 4.8 .1-38.5 0 15.6 0 9.9 0 8.2 0 15.7 0 3.6 .1-51.4 0 7.6 0 5.1 0 1.3 0 15.2 .1-58.4 0 11 0 .7 0 17.4 0 2.3 0 1.9 0 2.8 0 4.1 0 3.8 0 31.7 .1-69.8 0 15.2 0 3.5 0 6.7 0 1.9 0 11.6 0 1.7 0 7.9 0 .2 0 6.9 0 7.6 .1-57.5 0 8.5 0 1.6 0 5 0 16.9 0 12.2 .1-31.3 0 5.9 0 7.7 0 4.7 0 .2 0 6.5 0 19.9 .1-59 0 8 0 13.8 0 6.1 0 8.6 0 5 0 4.7 0 5.8 .1-50.1 0 9.6 0 2.3 0 3.3 0 7.3 0 12.8 0 14.7 0 6.3 .1-40.8 0 4.2 0 2.3 0 4.9 0 7.4 0 19.5 0 4.6 .1-34.1 0 1.3 0 9.7 0 1.2 0 6.8 0 10.4 .1-52.2 0 12.5 0 16.1 0 8.5 0 19.3 .1-47.1 0 19.5 0 3.5 0 14.1 0 .3 .1-56.4 0 50.3 .1-11.9 0 2.7 0 2.7 0 10.9 .1-75.8 0 47.9 0 5.5 0 16.3 0 6.4 0 12.5 0 15.6 0 1.3 .1-95.2 0 48.6 0 16.5 0 5.8 0 4.2 0 11.3 .1-66.1 0 11.5 0 1.5 0 2.3 0 12.5 0 8.5 0 .6 0 8.6 0 18 .1-50.4 0 1.9 0 12.6 0 14.6 0 1.4 0 10.6 .1-47.3 0 .6 0 7.5 0 .8 0 3.8 0 7.1 0 8.5 0 7 .1-55.6 0 12.9 0 11.6 0 4.6 0 3.9 0 3.2 0 3.1 0 .4 0 15.4 0 15.9 .1-58.4 0 2.2 0 4.8 0 3.6 0 5.7 0 7 0 13.5 0 5.7 0 5.3 0 26.6 .1-74.8 0 1.7 0 .5 0 4.1 0 14.1 0 18 0 1.2 0 1.9 .1-36.3 0 21.9 0 .3 0 23.1 0 2.8 0 1.5 .1-52.6 0 7.2 0 .2 0 17.4 0 .3 0 4.6 0 1.1 0 1 0 2.5 0 4.7 0 7.6 .1-46.6 0 2 0 15.8 0 5.6 0 5 0 1.1 0 .3 0 11.2 0 18.9 0 26.5 .1-112.3 0 35.4 0 12.3 0 5.1 0 15 0 .1 .1-42.1 0 6.1 0 6.1 0 6.2 0 20.1 0 8.5 0 23.9 0 13.6 .1-90.7 0 9.9 0 3.3 0 3.9 0 4.7 0 5.5 0 13.9 0 4.8 .1-42.7 0 7.1 0 1.5 0 1.9 0 0 0 8.6 0 16.4 0 .4 0 3.3 .1-23.6 0 14.6 0 3.7 0 7.1 0 4.3 0 10.8 0 8.2 .1-69.7 0 28.3 0 4.4 0 14.4 .1-36.2 0 1.8 0 1.6 0 3.6 0 11.4 0 .6 0 12.2 0 1.5 0 2.8 0 7.3 .1-51.8 0 15.4 0 4.9 0 7.2 0 .8 0 4.3 0 27.1 0 15.8 .1-84.4 0 19.9 0 6.9 0 7.3 0 9.7 0 .6 0 2.5 0 20.3 .1-54.9 0 2.3 0 15.9 0 7.5 0 5.6 0 2.5 0 12.2 0 7 .1-49.8 0 11.6 0 7.1 0 .6 0 2.2 0 24.9 0 5 0 13.9 .1-65.8 0 23.5 0 7.5 .1-31.8 0 1.6 0 3.7 0 .4 0 23.7 0 .6 0 4.9 0 10.3 0 2.9 .1-22.1 0 12.9 0 9.1 0 5.7 .1-59.6 0 1.4 0 7.9 0 4.7 0 2.2 0 3.8 0 7.7 0 5.1 0 1.3 0 4.4 0 1.2 0 3.2 0 1.4 0 3.5 0 4.1 0 3.5 0 5.3 .1-29.4 0 19.1 .1-44.7 0 .4 0 4.2 0 13 0 8.7 0 8 0 6.8 0 .5 .1-44.7 0 3.1 0 4.7 0 7.2 0 9 .1-26.3 0 10.4 0 12.9 0 4.4 0 6.4 0 4 0 12.4 0 1.6 0 1.5 0 6.3 .1-53.1 0 4.4 0 14.3 0 33.1 .1-17.3 0 7.1 0 9.2 .1-43.5 0 7.3 0 7.6 0 4 0 1 0 13.1 .1-31.5 0 24.3 0 4.5 0 49.3 .1-77.2 0 23.2 0 1.4 0 4.4 0 4.1 0 27.8 .1-79.8 0 15.8 0 3.2 0 6.9 0 7.4 0 17.2 0 4 0 3.6 0 7.8 0 1.6 .1-66 0 10.2 0 33.2 0 1 0 16.3 0 2.1 .1-56.3 0 20.9 0 .5 0 2 0 .3 0 17.1 0 21 .1-35.8 0 6.7 0 9.5 0 7.7 .1-44 0 4.6 0 10.3 0 3.4 0 6.4 0 8.1 0 .3 .1-41 0 .9 0 4.7 0 18.9 0 9.2 0 4.9 0 16.7 0 4.2 .1-54.9 0 .5 0 11.1 0 4.7 0 16.4 0 .9 .1-34.8 0 5 0 8.1 0 .6 0 .5 0 6.6 0 1.4 0 13.6 0 1.3 0 13.2 .1-58.4 0 13.9 0 4.9 0 8.7 0 8 0 7.9 0 7.6 0 5.2 0 10.9 .1-62.7 0 17.9 0 7.6 0 5.1 0 6.3 .1-32.6 0 4.3 0 3.7 0 3.2 0 4.8 0 5 0 6.5 0 1.5 0 9.5 0 5.8 0 6.4 .1-59.2 0 13.4 0 21.3 0 1.5 0 .6 0 1.3 0 2.7 .1-24.2 0 4.8 0 24.8 0 1.6 0 3.6 .1-42.9 0 2.6 0 22.1 0 1.6 0 .3 0 3.4 .1-48.8 0 3.6 0 17.4 0 0 0 1.2 0 15.1 0 .1 0 12.1 0 6.2 0 14.7 0 18.4 .1-69.1 0 9.9 0 2.8 0 6.3 0 8.2 0 24 0 3.1 .1-58.2 0 7.1 0 12.5 0 16.3 0 12.9 0 2.7 .1-37.2 0 32.5 0 1.2 .1-55.9 0 2.9 0 13.9 0 8.9 0 1.6 0 4.3 0 10.4 0 2.8 0 13.1 .1-65.1 0 1.8 0 21.1 0 29.8 0 17 0 11.2 0 6.1 .1-95.8 0 20 0 1.1 0 6 0 7.2 0 6.5 0 4.5 0 45.5 0 11.9 .1-60.6 0 17.7 0 4.7 0 16.9 .1-58.8 0 12.4 0 24 0 8.6 0 .6 .1-50.4 0 1.5 0 19.4 0 2.2 0 .9 0 1.1 0 7 0 23.4 0 9.4 .1-79 0 24 0 8.8 0 23.7 0 24.1 0 .6 .1-50.1 0 2.1 0 7.6 0 .7 0 31.5 .1-59.7 0 15.4 0 10.6 0 3.6 0 15.1 0 9.3 .1-63.8 0 36 0 15.1 0 6.8 .1-48.8 0 2.6 0 14 0 1.4 0 .1 0 2.6 0 1.8 0 6.8 0 12.3 0 .7 0 32.7 .1-57.4 0 9.9 0 3.4 0 17.4 0 4.6 .1-41.5 0 3.2 0 19.6 0 14.8 0 .3 0 1.1 0 7 0 .4 0 13.6 .1-33.2 0 2.8 0 4.8 0 4 .1-49.1 0 5.5 0 11.2 0 1.9 0 13.1 0 13.4 .1-48.9 0 3.7 0 14.7 0 .5 0 10.7 0 6.8 0 11.1 0 13.6 0 1.1 .1-49.8 0 1.1 0 5.6 0 6.1 0 .6 0 14.8 0 8 0 5.5 .1-64.7 0 22.8 0 6.4 0 6.8 0 1.8 0 7 0 1.1 0 3.5 0 51.5 .1-72.9 0 5.1 0 8.5 0 6.7 0 11.6 0 8.2 0 10.5 0 16.3 .1-72.4 0 8.4 0 1.5 0 1.5 0 .6 0 .3 0 13.7 0 .6 0 6.6 0 1.9 0 3.1 0 .2 0 12.2 0 11.9 .1-54.9 0 5.1 0 15.6 0 5 0 5.7 0 2.5 .2-71.2 0 23.2 0 19.4 0 8.2 0 .2 0 5.1 0 .4 0 6.6 0 5.3 0 8.5 0 .2 .1-46.7 0 14.8 0 2.5 0 5.4 0 9.4 0 12 0 2 .1-53.8 0 43.1 0 12.1 0 15.5 .1-49.9 0 2.3 0 .6 0 5 0 9.9 .1-39.5 0 8.2 0 .5 0 32.3 0 0 0 1.4 0 13.7 .1-51 0 16.1 0 15.9 0 2.5 0 6.2 0 5 0 3 0 19.3 .1-94.6 0 31.4 0 28.7 0 1.7 0 3.3 0 4.3 .1-41.8 0 3.2 0 1.2 0 8 0 2.9 0 22.3 0 3.3 0 .5 0 21.1 .1-79.8 0 50.7 0 2.5 0 9 0 12.4 0 3.9 .1-35.5 0 6.8 0 1.4 0 .1 0 2.4 0 6 0 6.1 0 13 .1-70.9 0 18.2 0 9.6 0 14.7 0 11.5 0 16.8 .1-74.2 0 22.9 0 5.4 0 8.5 0 9.6 0 7.1 0 7.3 0 8.7 .1-53.5 0 25 0 13.2 0 6.1 0 34.3 .1-49.4 0 1.3 0 5.4 0 2.5 0 19.8 .1-54.4 0 1.3 0 1.6 0 12.7 0 6.3 0 1.2 0 10.6 0 5.6 .1-32.7 0 14.8 0 4.5 0 18.1 0 .8 0 6.5 .1-95.3 0 28.6 0 4 0 1.6 0 8.8 0 10.7 0 8.2 0 4.6 0 2 0 20.6 0 29.7 .1-78.5 0 2.5 0 9.9 0 1.8 0 2.4 0 7.9 0 4.5 0 .9 0 7.4 0 19.7 .1-43.5 0 .6 0 31.5 0 1.4 0 12.6 .1-70.2 0 15.4 0 48.4 0 1.4 .1-62.4 0 3.4 0 .2 0 9.7 0 23.2 0 8 0 16.3 .1-57.9 0 9.9 0 12.7 0 1.2 0 3.9 0 15.3 0 4.4 .1-31.6 0 3.2 0 0 0 3.8 .1-26.4 0 29.9 .1-23 0 7.7 0 8.8 0 .7 0 6.4 0 1.5 0 .3 0 4.4 0 4.5 .1-25.4 0 1.1 0 9.6 0 17.4 0 4.8 .1-33.7 0 .6 0 31 0 2.3 0 23.7 .1-68.2 0 .3 0 15.6 0 3.2 0 9.6 0 .9 0 .5 0 .5 0 1.6 0 .5 0 4.9 0 5.2 0 18.1 0 3.5 .1-59.8 0 6.9 0 1.8 0 5.5 0 9.8 0 3.6 0 7.4 0 4.2 0 14.7 0 2.1 .1-56.8 0 .8 0 1.7 0 2.1 0 16.9 0 2.8 0 4.4 0 22.9 0 15.3 .1-87.6 0 13.7 0 21.8 0 8.7 0 5.1 .1-51.3 0 18.9 0 15.8 0 10.4 0 1.1 0 4.5 0 6 0 5.1 0 13.2 .1-54.7 0 8.5 0 17 0 3.3 0 2.4 0 8 0 6.7 0 5.8 0 1.7 0 3.1 0 1.3 0 3.9 .1-78.3 0 15.9 0 .7 0 5.3 0 .6 0 13 0 2.9 0 1.9 0 4.9 0 31.7 0 1.1 .1-40.9 0 27.4 0 4.4 0 6 0 16.1 .1-85.6 0 7 0 2 0 2 0 10.8 0 .4 0 18.5 0 1.2 0 15.7 0 18 .1-54.7 0 6.4 0 6.4 0 .7 0 7.5 0 1.6 0 7.6 0 1.8 .1-28.3 0 1.9 0 8.2 .1-31.5 0 21.4 0 24.1 .1-33.2 0 6.3 0 12.1 0 7.1 0 3.4 0 8.3 0 5.8 0 5.6 0 7.6 .1-60.2 0 .4 0 14.4 0 2.6 0 32.4 0 2.9 0 1.5 0 2.9 .1-68.8 0 8.2 0 .9 0 16.7 0 15.7 0 1.5 0 12.1 0 5.6 0 15.8 .1-56.9 0 4.5 0 4.2 0 27.9 .1-46.4 0 7.3 0 14.3 0 3.7 0 5.1 0 8.2 0 1.7 0 2.5 0 11 .1-51.1 0 2.4 0 0 0 4.8 0 6.1 0 1.8 0 3.2 0 3.7 0 9.1 0 4.1 0 .2 .1-48.8 0 17.3 0 16 0 2.7 0 .3 0 37.7 .1-71.6 0 7.1 0 6.5 0 7.2 0 12.2 0 3.7 0 3.5 0 4.1 0 7.6 .1-52.4 0 4.1 0 11.5 0 1.2 0 5.2 0 8.4 0 .2 0 7.3 0 11.9 0 12.5 .1-72.5 0 13.9 0 7.9 0 2.4 0 6.4 0 2.3 0 1.7 0 2.7 0 2.5 0 9.7 0 4.2 .1-31.5 0 8.1 0 3.7 0 7.7 0 1 0 8 0 1.1 .1-38.9 0 6.7 0 9.8 0 32.2 0 14.6 0 6.5 .1-67.8 0 4.2 0 5.3 0 12.7 0 7.3 0 .5 0 25.9 0 43.8 .1-79.7 0 14.4 0 3.6 .1-43.4 0 26.7 0 17 0 3.2 0 7.2 0 10.3 .1-43.8 0 5.1 0 10.9 0 5 0 8.3 0 11 0 2.6 0 5.1 .1-80.5 0 10.6 0 3.2 0 14.4 0 .9 0 3.8 0 7.3 0 5.4 0 .9 0 6.8 0 17.8 0 6 0 3.4 .1-74.5 0 11.5 0 2.2 0 13.9 0 .7 0 15.1 0 16.2 0 2.7 0 8.9 .1-63.6 0 11.7 0 16.1 0 2.7 0 9.1 0 1.9 0 .1 0 19.9 0 1.4 .1-48.6 0 .6 0 3.5 0 9.4 0 20.7 0 2.3 0 8.8 0 4.9 .1-46.7 0 14.2 0 8.7 0 24.2 0 17.8 .1-79.7 0 26.8 0 5.6 0 12.5 0 18.6 0 3.5 .1-68.5 0 .5 0 23.4 0 17.1 0 9.8 .1-43.6 0 8.2 0 .1 0 10.9 0 34.5 .1-57.8 0 6.9 0 40.7 0 3.4 0 7 .1-51.4 0 9 0 9.3 0 7.1 0 5.6 0 1.3 0 7.7 .1-51.1 0 1.2 0 3.7 0 13.7 0 4.5 0 3.8 0 2.6 0 8.4 0 6.9 .1-33 0 7 0 7.4 0 19.5 0 .7 0 3.3 0 .8 0 6.3 .1-78 0 27.3 0 6.9 0 7.2 0 7.6 0 3.2 0 3.8 0 8.2 0 7.3 0 5 .1-36.6 0 2.9 0 4.1 0 13.7 0 7.7 .1-51.2 0 22.3 0 9.1 0 43.5 .1-63.7 0 16.1 0 2.4 0 13.9 0 22.9 .1-55.8 0 25.3 0 2.1 0 10.6 0 16.3 .1-61.1 0 13.8 0 8.6 0 3.1 0 2.1 0 8.9 0 24.5 0 21.1 .1-66 0 13.7 0 16.9 0 21.1 0 2.2 .1-70.5 0 1.9 0 5.8 0 11.2 0 3.6 0 8.5 0 .6 0 3.8 0 1.1 0 26.3 .1-10.2 .1-65.4 0 10.2 0 10.9 0 .9 0 6.9 0 21.8 0 13 0 11.8 0 3.5 .1-67.1 0 14.6 0 .8 0 .5 0 2.5 0 44.3 0 33.1 .1-91.4 0 16.1 0 .6 0 14.5 0 3.5 0 1.4 0 6.5 0 3.9 0 26.5 .1-72 0 6.6 0 6.5 0 .5 0 .5 0 7.6 0 10.1 0 5 0 4.8 .1-70.3 0 31.8 0 3.1 0 8 0 2.2 0 1.2 0 24.6 .1-42.3 0 13.4 0 .1 0 2 0 6.9 0 9.3 0 11.9 0 23.6 .1-60.2 0 14.5 0 8.7 0 12 .1-45.5 0 7.6 0 16.8 0 36.2 0 4.6 .1-60.7 0 4.5 0 7.4 0 12.5 0 1.2 0 4.3 0 6.8 0 8.4 .1-13.9 0 1.6 .1-31.1 0 19 0 14.4 0 12.5 0 6.9 0 6.5 .1-29.6 0 15.3 .1-50.6 0 7.9 0 23.9 0 12.3 0 .1 .1-36.1 0 38.2 0 3.3 0 9.2 .1-68.2 0 19.6 0 21.3 0 23.6 0 .4 .1-48.5 0 1.9 0 1.7 0 2.4 0 1.9 0 3 0 8.5 0 8.1 0 2.8 0 6.5 0 13.6 .1-75.5 0 27.7 0 9.5 0 18.3 0 1.9 0 14.7 0 6.6 0 5.2 .1-52.9 0 7.5 0 1.7 0 7.9 0 32.8 .1-57.5 0 4.1 0 19.9 0 5.2 0 38.6 0 11.6 .1-69.4 0 19.4 0 1 0 29.9 0 7.7 .1-56.2 0 5.8 0 2.4 0 1.6 0 5.5 0 16.1 0 14.9 .1-59.3 0 9.3 0 2.2 0 2.2 0 12.3 0 1 0 1.6 0 6 0 10.7 0 12.8 0 1.2 0 4.4 .1-54.3 0 8.8 0 5.3 0 6.4 0 2.2 0 .5 0 20.4 0 13 .1-57.1 0 2.4 0 6.5 0 4.3 0 3.5 0 3.4 0 7.9 0 1.3 0 .1 0 16.8 0 1.8 0 4.8 .1-86.4 0 26.9 0 .6 0 10.4 0 9.9 0 2 0 5.8 .1-22.1 0 5.5 0 10 0 1 0 17 0 4.2 0 3.7 0 26.4 0 1.8 .1-73.9 0 2.6 0 13 0 8.4 .1-28.5 0 16.3 0 22.8 0 6.7 0 2.4 .1-40.2 0 33.6 0 8.4 0 5 .1-54.1 0 12.3 0 6.6 .1-25.4 0 7.6 0 8.4 0 17.3 0 1 0 25.2 0 4.7 0 11.1 .1-60.9 0 10.9 0 3 0 1.8 0 14.7 .1-28.7 0 2.8 0 4 0 19 0 6.8 0 11.6 0 1.4 0 3.7 .1-66 0 17.4 0 2.8 0 2.4 0 6.3 0 3.7 0 1.4 0 3.1 .1-24.7 0 5.2 0 2.4 0 5.9 0 27 .1-41.3 0 9.3 0 19.1 0 29.5 .1-59.2 0 9.9 0 52.1 .1-52.4 0 .6 0 8.7 0 1.1 0 3.7 0 6.4 0 4 0 10 0 10.2 .1-38.2 0 6.5 0 13 0 7.1 0 7.5 .1-56.6 0 14 0 9.9 0 5.6 0 1.5 0 .1 0 33.8 .1-65.2 0 6 0 10.5 0 2 0 16.5 0 1.1 0 4.8 0 16.6 0 0 0 2.8 .1-81.2 0 20.1 0 17.9 0 9.4 0 11.5 0 5.4 0 1.5 0 11 .1-60 0 31.7 0 2.5 0 4.9 0 9.2 0 14.8 0 1.3 .1-51.8 0 5.3 0 1.5 0 8.3 0 3 0 .9 0 15.5 0 1.5 0 2.3 .1-48.9 0 14.4 0 1.1 0 6.9 0 33.2 .1-54.4 0 26.8 0 10.8 0 4.4 0 7.1 0 1.5 0 7.1 .1-42.5 0 11.8 0 3.3 0 10.9 .1-38.7 0 21.8 0 .8 0 .7 0 18.3 .1-67.7 0 30.7 0 5.9 0 2 0 8.6 0 3.1 0 14.5 0 8.7 .1-49.9 0 19.4 0 2.3 0 2.9 0 3.5 0 16.2 0 13.3 .1-32.5 0 33.8 .1-49.5 0 1.7 0 23.2 0 14.1 0 12.5 0 2.4 .1-79.5 0 32.1 0 7.6 .1-10.8 0 8.7 0 2.4 0 3.6 0 9.4 0 16.2 0 1.1 .2-54.4 0 57.4 0 14.5 .1-69.2 0 12.9 0 7.5 0 1.4 0 1.9 0 11.7 0 8.6 0 .9 0 10.7 .1-50.8 0 2.8 0 8.1 0 2.3 0 2.9 0 5.1 0 6 0 5.6 0 8.6 0 7.1 .1-36 0 3.7 0 33.8 0 4.1 .1-57.3 0 4.7 0 5.2 0 4.8 0 1.7 0 14 0 7.5 0 23.3 .1-52.7 0 1.7 0 3 0 4.7 0 3.7 0 6 0 17.1 0 7.1 0 4.5 0 3.9 .1-47.2 0 5.5 0 13.6 0 1.6 0 1.4 0 2.6 0 6.2 0 .8 0 10.4 0 7 .1-70.8 0 16.6 0 .9 0 5 0 22.6 0 14.5 0 1.4 .1-52.3 0 5.2 0 2.3 0 12.5 0 15.8 .1-22.1 0 15.8 0 4.5 0 16.2 .1-54.1 0 2.8 0 3.6 0 10.4 0 2.6 0 1.3 0 1.7 0 15.8 0 16.2 0 .5 0 6.7 .1-65.8 0 20 0 5.9 0 6.1 0 28.8 0 7.2 0 3.3 .1-83.4 0 3.2 0 17.1 0 9.7 0 .9 0 13.3 0 1.6 0 6.2 0 1.9 0 26.5 .1-69.2 0 8.5 0 1.8 0 .6 0 4.6 0 28.9 0 11.2 .1-77.6 0 26.9 0 12.6 0 7.7 0 8.4 0 7.8 0 2.8 0 .8 0 .9 0 .3 0 7.1 0 9 .1-67.3 0 12.7 0 14.5 0 2.1 0 5.2 0 4.3 0 4.2 0 1 0 12.3 0 .7 0 15.3 .1-60.6 0 6.8 0 11.6 0 11.1 0 8.5 0 .4 .1-34.7 0 .1 0 .1 0 42.2 0 .7 0 8.8 .1-61 0 13.6 0 .2 0 7.6 0 2.3 0 20.9 .1-36.5 0 1.8 0 25.5 0 2.9 0 9.6 .1-36.1 0 .5 0 2.6 0 .4 0 6.8 0 1.4 0 9.6 0 .8 0 4.8 0 9.9 0 2.5 0 11.9 0 6.8 .1-62 0 1.1 0 7.6 0 3.8 0 .4 0 7.7 0 18 0 22.2 .1-66.8 0 3.2 0 5.1 0 4.7 0 4.6 0 24 0 4.6 0 .6 0 2.7 .1-78.3 0 40 0 11.3 0 8 0 .1 0 13.3 0 .3 0 2.4 0 1 .1-37.5 0 .3 0 21.5 0 27.9 0 2.3 .1-54.6 0 4.4 0 6.2 0 23.6 0 3 .1-25 0 6.3 0 9.7 0 5.8 .1-31.6 0 8.5 0 5.8 0 .8 0 3.5 0 10.6 0 1.2 0 16.4 0 6.7 .1-38.2 0 3.8 0 5.1 0 7.1 0 7.4 0 4.3 .1-44.9 0 14.2 0 7.2 0 18.9 0 6.9 .1-48.7 0 23.8 0 11.7 0 16.2 .1-46.8 0 1.6 0 2.3 0 3.9 0 27.4 .1-48.9 0 14.8 0 11 0 4.4 0 1.4 0 6.1 0 30.9 .1-36.2 0 .1 0 5.8 0 5.3 0 17 .1-32.8 0 5.6 0 13.6 0 12.5 0 .5 0 8.8 .1-61.4 0 1 0 3 0 7.2 0 14.7 0 7.3 0 12.8 0 6.6 0 8.5 .1-50.5 0 2.2 0 7 0 5 0 7.8 0 .4 0 .8 0 16.7 0 .9 .1-84.1 0 30.6 0 18 0 6.7 0 6.8 0 23.7 .1-51.8 0 1.8 0 26.6 0 19 .1-37.4 0 6.2 0 2.4 0 18.2 0 31.7 .1-83.8 0 21.5 0 3.1 0 0 0 5.9 0 3.3 0 18.4 .1-28.6 0 22.7 0 2.3 0 .4 0 9.5 0 10.6 .1-45.7 0 7 0 10.3 0 .6 0 29.8 0 6 0 .5 .1-60.8 0 7.8 0 5.1 0 28.6 0 5 0 13.8 .1-70.4 0 6.7 0 2.4 0 7.4 0 13.2 0 1.5 0 20.1 .1-44.8 0 8.2 0 3 0 3.1 0 1.1 0 2 0 13.1 0 3.1 0 3 0 4.4 0 1.9 0 1.7 0 .8 .1-38.4 0 5.1 0 13 0 .8 .1-23.5 0 3.2 0 2.2 0 2.3 0 10.9 0 5.9 0 .4 0 5.8 0 17.4 .1-55.9 0 18.4 0 17.7 0 .9 0 11.9 0 17.7 .1-67.8 0 16.2 0 1.4 0 2.2 0 2.5 0 22.5 0 16.5 .1-46.6 0 .8 0 2.1 0 11.3 0 4.8 0 10.8 0 2.8 0 13.5 0 .5 0 .2 .1-48.5 0 9.4 0 3.7 0 16.5 0 1.3 0 .9 0 6 0 8.6 .1-46.8 0 10 0 20.6 0 12.1 0 4.9 0 8.7 .1-64.7 0 6.6 0 4.3 0 18.9 0 22.1 .1-67 0 44.7 0 4.4 0 6.8 .1-50.5 0 37 .1-25.2 0 7.9 0 3.2 0 10.9 0 .7 0 12.5 0 8.4 0 5 0 7.4 .1-44.8 0 7.1 0 2 0 9.9 0 .5 0 10.4 .1-58.3 0 23.6 0 4.5 0 2.6 0 6 0 13.6 0 .8 0 6.3 0 3.8 0 8.8 0 .9 0 2.1 .1-62.5 0 2.2 0 5 0 18.1 0 .1 0 33.6 .1-39.1 0 17.8 0 .9 0 8.5 0 4.2 .1-54.8 0 14 0 4.3 0 30.5 0 7.6 0 3.6 .1-54 0 12.9 0 1 0 4.7 0 13.2 0 7.4 .1-37.7 0 9.1 0 8.3 0 1.4 0 3.3 0 32.1 0 .1 .1-55.8 0 2.8 0 2.1 0 3 0 14.5 0 4.4 0 5.6 0 3.1 0 7.5 0 2.3 0 4.5 .1-9.1 0 13.8 0 5.7 0 .7 .1-39.8 0 4.4 0 6.8 0 13.3 0 24.7 .1-66.8 0 16.2 0 13.5 0 10.6 0 13.6 0 .1 .1-39.3 0 4.6 0 .7 0 9.5 0 .3 0 4.3 0 .6 0 6.8 0 8 0 2.2 .1-51.5 0 2.4 0 1.8 0 11 0 2.5 0 9.1 0 3.7 0 3.7 0 2.3 0 4.2 0 11.9 .1-35.2 0 11.9 0 1.1 0 10.3 0 8.7 0 6 .1-60.1 0 16.6 0 12.3 0 3.3 0 6.7 .1-13.5" marker-start="url(#m0)" marker-mid="url(#m0)" marker-end="url(#m0)"/>
<path d="M142.7 74l0 21 0 15.4 0 1.3 .1-14.2 .1-26 0 7.2 0 57.5 .2-37.7 0 16.8 .1-32.4 .2 11 0 22.3 .4-15.6 .1-24.1 0 6.2 0 0 0 10.3 0 13 .1-36.1 0 16.2 0 3.2 0 11.2 .1-17.3 0 45 .1-54.3 0 11.2 0 6.7 0 1.6 0 .4 0 4.9 0 21.8 0 1.6 0 .4 .1-38 0 7.2 0 6.4 0 17.2 .1-73.1 0 55.6 0 5.3 0 .9 0 6.7 .1-23.4 0 4.6 0 6.2 .1-22 0 13.2 0 0 0 18.2 0 4.2 0 3.4 .1-32.8 0 6.5 0 10.2 0 2.7 0 19.6 .1-20.3 0 15.3 0 8.6 .1-58.4 0 13.1 0 19.7 0 4.6 0 5.3 0 2 0 25 .1-36.3 0 28.7 .1-47.5 0 2.4 0 3 0 6.1 0 19.9 0 14.9 .1-33.8 0 5.4 0 7.4 0 3.9 0 3.3 .1-11.4 0 3 0 17.3 .1-57.7 0 21.2 0 9.6 0 33.4 0 14.5 .1-74.4 0 3.4 0 26.4 .1-39.3 0 22.4 0 .9 0 22.9 0 6.1 0 9 .1-32.6 0 21.8 0 1.1 .1-49.8 0 23.1 0 14.7 0 4.5 0 13.7 0 14.3 0 12.8 .1-56.4 0 22.9 0 10.6 0 3.2 0 3.3 .1-51.5 0 12.2 0 12.3 0 16.4 0 .6 0 1.9 .1-52.8 0 10.3 0 20 0 40.8 .1-65 0 3.8 0 1.2 0 .9 0 17.8 0 11.9 0 4.6 0 4.4 0 3.8 0 .2 .1-38.7 0 10.7 0 3.5 0 2.6 0 20.9 .1-29.3 0 10.2 0 .1 0 5.1 0 2.2 0 3.5 .1-46.5 0 21 0 1.9 0 9.5 0 10.4 .1-50.8 0 39.1 .1-4.5 0 .7 0 2.7 0 6.5 0 33.1 .1-50.8 0 2 0 4 0 .9 0 4.7 0 1.1 0 2.1 0 24.6 0 26.2 .1-91.9 0 18.8 0 9.5 0 3.3 0 14.1 0 .2 .1-19.6 0 7.5 0 17.3 .1-18.2 0 8.3 0 29 .1-62.2 0 20 0 1.9 0 11.5 0 24.2 .1-59.5 0 13.5 0 .2 0 34.2 .1-39.3 0 5.7 0 12 0 30.9 .1-59 0 28.8 0 12.3 0 5.2 0 5.3 0 4.1 0 7.6 0 4.8 .1-44.7 0 32.5 .1-30 0 3.3 0 .7 0 5.9 0 1.3 0 16 0 5.7 .1-55.8 0 6.3 0 20.9 0 5.3 0 0 0 11.9 .1-39.6 0 4.1 0 31.9 0 9.7 .1-46.1 0 15.9 0 8 0 2.6 0 19.2 .1-43 0 35.4 0 2.2 0 16.9 .1-67.5 0 15.1 0 3.5 0 4.6 0 32.3 .1-32.8 0 .8 0 15 0 5.8 0 7.9 .1-11.5 0 8.5 0 9.1 0 2.2 .1-41.7 0 12.1 0 4.7 0 13.2 .1-35.6 0 5.9 0 1.6 0 9.9 0 .5 0 8.1 0 10.9 .1-29.3 0 9.2 0 10 0 10.6 .1-28.9 0 9 0 16.7 .1-14.6 0 17.5 0 9.8 0 2.9 .1-9.9 0 .1 0 23.5 .1-56.5 0 2.7 0 24 0 3.2 .1-21.7 0 33.7 0 21.4 .1-59.6 0 9.4 0 14.5 0 3.3 0 7.9 .1-49.1 0 13.4 0 5 0 4.7 .1-23.6 0 22.9 0 9.5 0 18.1 .1-16.2 0 9.2 0 .8 .1-32.1 0 10.2 0 4.4 0 .5 0 16.6 .1-40 0 6.2 0 .9 0 3.8 0 14.5 .1-10.8 0 .1 0 6.1 0 17.9 0 2.1 .1-37.3 0 4.1 0 48.3 0 .1 .1-68.3 0 10.5 0 3.1 0 5.5 0 36.9 .1-50.3 0 30.5 0 8 0 4.8 0 .4 0 20.4 .1-37.4 0 13.7 .1-37.8 0 2.2 0 18.7 0 22.4 0 3.1 0 8 .1-52.2 0 11.6 0 17.1 0 16.4 0 2.4 0 9.5 .1-30.4 0 12.2 0 .4 0 19.7 0 3.6 .1-33.4 0 6.8 0 16 .1-33.3 0 4.5 0 2.7 0 10.3 0 11.3 .1-35.6 0 33 0 5.6 .1-41.5 0 12.5 0 .2 0 10 0 27.9 .1-34.2 0 .3 0 2.5 0 7.1 0 .6 .1-28.6 0 31.1 .1-24.7 0 11.5 .1-30.1 0 20.2 .1 40.1 .1-24.5 .2 11.2 .1-9.5 .1-19.1 0 38.5 .1-28.3 0 23.3 .2-4.1 .3-27.5 0 4.5 .1 32.1 .1-56.1 0 10.8 .3 24.1 .1-24.7 0 4.7 0 10.3 .1 4.5 .1-1.4 0 1.7 0 10.8 .3 2.2 .1 22.2 .2-50.2 .1 5.2 0 .4 .1-20.6 0 108.5 .1-80.6 0 6.7 0 13.6 .1-32.1 0 21.9 0 1.6 .1-35.8 0 4.8 0 15.5 0 13.9 .1-32.1 0 36.1 .1-52.3 0 6.2 0 17.4 0 8.8 .2-16.3 0 9 .1 2 0 3.4 0 26.6 .1-40.4 0 14.2 0 52.5 .1-75.2 0 34.7 .1-7.5 .1 3.6 0 9.4 0 .4 .1-32.8 0 16.7 .1-36.9 0 20.8 0 9.3 0 9.4 0 14.4 .1-29.4 0 15 .1-14.6 0 8.8 0 8.1 0 2.2 0 6.1 0 4.1 0 10.7 .1-37.1 .1 6.1 0 18.4 .1-45.2 0 23 0 15.3 .1-8 0 26.5 .1-23.3 0 23.4 0 51.6 .1-72.6 .1 5.4 .1 7.5 .1-38.4 .1-6.3 0 29.7 0 9.9 .1-9.8 0 14.9 0 7.5 0 3.3 .1-10.7 .1-26.8 0 5.1 .1 4.6 .1 1.6 0 3.8 .1-37.4 0 14.9 0 57.9 .1-55.6 0 4.2 0 11.1 .1-43.8 .1 49.1 .1 2.7 0 6.9 0 29.2 .1-42.3 0 4.4 0 .9 0 3.4 .1-21.6 .1-.3 0 32.2 .2-36.6 0 60.8 .1-50.8 0 17.7 0 3.4 .1-21.1 0 15.8 .1-16.3 0 2.2 .1-8.7 0 19.5 0 8.8 0 30.5 .1-69 0 6.7 0 4.7 0 16.9 .1 15.4 0 18.7 .1-56.4 0 41.1 .1-38.3 0 4.4 0 41.9 0 1.9 .1-47.2 0 6.7 0 37.6 .1-45.4 0 6 0 10.8 0 31.9 0 5.4 .2-69.4 0 56.5 .1-32 0 10.4 0 5.4 .1-29.3 .1-8 0 16.3 0 5 0 18.6 .1-44.3 0 56.7 .2-60.7 0 37.8 0 25.6 .1-35.5 .1-13.8 0 11.2 0 10.4 0 26 0 12.2 .1-58.5 0 1.2 0 21.8 0 .7 .2-18.3 0 2.6 0 13.2 0 10.9 0 5.3 0 17.5 .1-66 0 2.5 0 8.7 0 10.2 0 25 0 9.4 .1-49.6 0 4.6 .1 60.2 .1-52.8 0 8 0 43.6 .1-37.1 0 24 .1-12 0 5.1 .1-75.5 0 43.5 0 1.8 0 6.2 0 38.9 .1-16.1 .1-34.3 0 13.3 .2-13.6 0 1.1 0 14.5 0 7.4 .2-27.1 0 20.4 .1-26.8 0 24.8 0 2.5 0 14.6 0 6.3 .1-5.2 .2-30.8 0 31.5 .1-21.3 0 8.5 0 5.8 0 9.7 .1 1.5 .1-12.1 0 23.5 .1-46.2 0 4.8 0 4.3 0 5.5 0 19.6 0 .5 .1-43.8 0 31.2 0 7.2 .1-46.9 0 35.2 .1-20.2 0 10.3 .1 14.9 .1 6.9 0 18.1 .1-61.5 0 1 0 26 0 30.2 .1-60.1 0 14 0 22.2 .1-32.4 0 15.5 0 4.4 0 16.7 0 20.2 .2-45.8 0 7.5 0 .3 .1-22.2 0 16.3 0 11.2 0 13.7 0 6.7 .1 1.6 0 12.2 0 6.1 .1-80.6 0 29 0 45.6 .2-47.8 .1 7.7 0 3.4 .1 21.8 .1-25.9 0 6.4 0 17 .1-60.8 0 43.2 0 1.6 0 5.2 0 5 .1-5.4 0 15.2 0 3.7 0 9.7 .1-71.3 0 63.4 .1-8.2 0 3.2 0 16.7 .1-48 0 21.1 0 7.7 .1-34.6 0 1.7 0 8.8 .1-7.2 0 15.3 0 36.2 .1-43.2 0 1.2 .1-13.6 0 22.6 0 36.4 .1-7.3 .1-31.7 0 1.5 0 7.1 .1-27.9 0 9.7 0 15.4 0 7.6 .1 18.6 .1-71.5 .1 12.2 0 13.3 .2 19.9 0 6.7 .1-36.2 0 33.1 0 6.4 .1-50.2 .1 25.8 0 27.8 .1-37.9 0 6.3 0 6.5 .2-6.7 0 3.8 0 2.7 .1-10.6 0 66.7 .1-72.9 .1 14.8 0 26.3 .1-28.7 0 8.3 0 30 0 15.2 .1-47.4 .1 15.6 .1-49.3 0 8.8 .1 34.1 0 9.3 0 11.4 .1-46.9 0 54.8 0 1.5 0 11.7 .1-65.3 0 40.8 0 10.6 0 23.1 .1-94.8 0 16.4 0 5.9 0 4.4 0 2.5 0 3.6 0 3.1 0 6.5 0 5.7 0 5.9 0 9 0 10.6 .1-87.6 0 14.1 0 33.9 0 9.6 0 9.5 0 16.9 .1-70.1 0 9.4 0 17.1 0 .5 0 3.6 0 .6 0 65.2 .1-90.8 0 8 0 21.3 0 4.7 0 18.1 0 19.4 .1-76.7 0 23.5 0 13.6 0 3.1 0 7 0 7 0 21.3 .1-40.9 0 .4 0 3 0 .7 0 14.2 0 9.1 0 1 0 8.8 .1-57 0 2.1 0 15.7 0 .4 0 9.6 0 15.2 0 9.1 0 13.7 .1-84.8 0 20.2 0 20.7 0 8.2 0 18.2 .1-66.5 0 4.4 0 45.6 0 12.4 0 2.2 0 6.8 0 9 .1-80.3 0 34 0 57.9 .1-121.8 0 47.1 0 0 0 2.6 0 19.2 0 13.7 0 23.3 .1-83.4 0 15.5 0 7.9 0 1.2 0 3.9 0 6.4 0 8.5 0 5.9 0 14.5 0 .5 0 3.9 .1-49.3 0 9.4 0 1.1 0 19.2 0 41.1 .1-80.4 0 9.7 0 6.5 0 9.1 0 14.8 0 4.3 0 1.9 0 1.8 0 18.1 .1-43 0 3.5 0 13.9 0 24.3 .1-53.2 0 3.8 0 14.7 0 2.7 0 6.8 0 1.2 0 5.9 0 30.9 .1-64.9 0 4.7 .1-.9 0 3.2 0 10.8 0 11 .1-49.7 0 7 0 20.9 0 1.8 0 9.5 0 23.8 0 6.8 .1-52.1 0 13.4 0 10.8 0 22.1 .1-69.8 0 21.6 0 42.3 0 24.7 .1-58.7 0 9.3 0 2 0 1.1 0 7.3 0 30.5 .1-41.5 0 10.3 0 .2 0 15 0 8.8 0 11 0 2.1 .1-79.1 0 9.3 0 4.5 0 3.7 0 49.7 0 5 .1-51.8 0 9.3 0 1.4 0 12.4 0 1.4 .1-25.3 0 11.8 0 13.4 0 1.1 0 33.2 .1-30.1 0 12 0 4.1 0 4.1 0 2.3 0 1.7 0 3.5 .1-60.7 0 10.7 0 11.9 0 2.4 0 4.3 0 .1 0 7.1 0 18.2 0 9.8 0 4.2 0 2.5 .1-55.9 0 4.7 0 1 0 6.9 0 2.4 0 1.2 0 5 0 30.2 .1-65.4 0 3.9 0 3.3 0 15.6 0 2.3 0 36.6 .1-103.8 0 23.5 0 18.1 0 1.5 0 3.7 0 4.5 0 31.3 0 5.9 .1-19.2 0 4.7 0 8.8 0 1.2 0 12.2 0 .9 0 9.8 .1-62 0 15.9 0 15.8 0 27.6 .1-54.1 0 5.5 0 3.4 0 1.8 0 8.7 0 5.4 0 31 .1-72.7 0 15.4 0 7.6 0 3.7 0 1 0 3.1 0 11.7 0 8.4 0 9.2 .1-89.7 0 54.6 0 3.9 0 5.7 0 21.2 .1-64.4 0 14.7 0 .7 0 11.6 .1-37.9 0 16.3 0 12.4 0 12.2 0 16.1 0 10.8 .1-35.1 0 12.2 0 15.1 0 8.2 0 7.1 0 3.1 .1-66.6 0 9.2 0 3.7 0 2.5 0 5.5 0 19.3 0 4.2 0 9.6 0 1 0 .5 0 2.4 0 7.6 0 4 0 11.2 .1-72.2 0 32.8 0 17.9 0 9.2 .1-36.7 0 .8 0 7.4 0 5.4 .1-37.5 0 .4 0 .4 0 .3 0 27.5 0 8.3 0 1.6 0 25.6 0 2.7 0 7.6 0 9.9 0 2.7 .1-50.9 0 6.9 0 7.4 .1-61.6 0 26.9 0 4.1 0 .7 0 22.6 .1-64.5 0 3.5 0 10.7 0 17 0 3.7 0 30.3 0 8 0 1.8 0 3.6 0 42.7 .1-106.3 0 30.1 0 5.3 0 19.8 0 1.5 0 5.3 0 2.9 0 30.6 .1-86.7 0 17 0 32 0 5.6 .1-64.7 0 16.4 0 37.8 0 7.8 0 6.7 0 3.2 .1-50.3 0 2.6 0 4.1 0 7 0 .6 0 3 0 11.7 0 14 0 30.4 .1-78.3 0 2.9 0 4.8 0 1.5 0 1.5 0 1.6 0 1.3 0 13 0 1.8 .1-24.2 0 9.2 0 9.7 0 25.5 0 6.4 .1-82 0 11.8 0 1.7 0 .1 0 4.3 0 5.4 0 6.4 0 12.3 0 4 0 2.1 0 .4 0 2.1 0 39.5 .1-75.9 0 17.1 0 6.3 0 .9 0 4.4 0 2.5 0 1 0 39 .1-50 0 21 0 3.6 0 5.9 0 3.2 .1-50 0 10.3 0 2.8 0 11.6 0 1.8 0 3.7 0 2.8 0 2.9 0 11.4 0 .3 0 .6 0 18 .1-78.6 0 21.2 0 11.6 0 1 0 7.8 0 10.7 .1-60.8 0 6.5 0 2.5 0 25.9 0 5.5 0 4.3 0 2.2 0 .6 0 1.1 0 14.2 0 16.4 0 10.7 0 10.5 0 4.1 .1-96.1 0 12.7 0 11.5 0 13.3 0 3 0 49.6 .1-93.6 0 11 0 12.7 0 24.4 0 22.8 .1-49 0 20.8 0 5.8 0 2.5 0 9.2 0 4.6 0 7.1 .1-19 0 3.9 .1-58.4 0 31.5 0 33.9 0 .1 0 3.1 0 15.3 .1-86.1 0 3.8 0 11.1 0 29.8 0 12.4 0 2.5 0 11.8 0 2.3 0 12 0 3.9 .1-80.1 0 3.1 0 28.5 0 10.4 0 26.9 .1-75.5 0 12.4 0 1 0 21.3 0 6.2 0 7.4 0 26.8 .1-72.2 0 1.7 0 18.4 0 12 0 6.8 0 2.7 0 7.6 0 14.6 0 1.3 0 26 .1-46 0 24.1 0 1.5 0 10.9 .1-97.4 0 41.9 0 1.4 0 4 0 11.3 0 3.8 0 1.6 0 2.6 0 1.6 0 11.5 0 4.2 0 21.4 .1-62.9 0 5.8 0 5.3 0 6.3 0 8.9 0 22.7 0 7.5 .1-82.2 0 1.6 0 22 0 .2 0 4 0 .3 0 7.6 0 5.6 0 14.6 0 7.1 0 5 .1-47.8 0 .4 0 5.8 0 21.2 0 1 .1-40.4 0 5.2 0 10 0 3.6 0 .5 0 12.5 0 8.2 0 20.7 0 14.6 .1-75.7 0 5.5 0 15.7 0 9.5 0 4 0 9 0 25.7 .1-41.6 0 15.4 0 4.9 0 1.1 0 8.5 .1-35.8 0 7.1 0 4 0 14 0 27.6 0 3.2 0 4.9 .1-78.7 0 3.2 0 11.9 0 17.2 0 11.2 0 2.8 0 7.3 0 11.9 .1-65.4 0 26.1 0 3.5 0 1.1 0 16.3 0 14.9 0 9.6 .1-99.2 0 7.7 0 7.7 0 1.5 0 34 0 4.6 0 22.3 0 7.5 0 6.3 0 6.6 .1-69.9 0 .7 0 16.5 0 13.1 0 32.6 0 6.6 .1-56.2 0 4.2 0 4.2 0 9.1 0 1.5 0 1.6 0 2.8 0 10.5 0 10.3 0 1.9 0 14.8 .1-81.8 0 43.9 0 10.4 0 6 0 14.4 0 19.2 0 1.4 .1-90.5 0 7.1 0 1.5 0 3.8 0 26.9 0 3.5 0 5.3 0 7.7 0 0 0 10.7 .1-63.2 0 13.9 0 .4 0 31.8 0 4.8 .1-40 0 4 0 2.3 0 4.6 0 3.5 0 7.6 0 16.6 0 .5 0 16.8 0 .5 .1-75.4 0 26.6 .1 1.5 0 7.7 0 2.8 0 .6 0 .7 0 6.9 0 7.1 0 6.3 .1-56.2 0 5.5 0 5.5 0 29.1 0 13.2 .1-50.7 0 9.5 0 .9 0 13.2 0 14.9 0 4.8 0 24.3 0 4.1 .1-104.5 0 32.2 0 3 0 .3 0 4.1 0 4.2 0 12.9 0 .3 0 11.1 0 5.4 0 2 0 8.6 .1-19 0 3.8 0 14.7 0 23.4 .1-66.8 0 2.8 0 22.5 0 1.4 0 4.7 0 12.2 0 3.6 .1-49.6 0 18.6 0 13.2 0 0 0 18.2 0 4.6 0 3 0 11.2 .1-94.3 0 9.2 0 .8 0 10 0 6 0 3.9 0 5.9 0 .5 0 19.1 0 10.1 0 2.1 .1-54.3 0 11.6 0 10.2 0 20.1 0 7.2 0 35.1 .1-81.7 0 21.6 0 6.8 0 6.2 0 2.2 0 19.9 0 4.1 0 13.1 .1-63.7 0 9.1 0 .3 0 17.3 0 1.9 0 6.8 0 24.3 0 25.8 .1-105.9 0 25.1 0 14.9 0 20.3 0 6 .1-66.2 0 20.3 0 2.8 0 10.7 0 4.4 0 8 0 3.5 0 1.1 0 1.3 0 16.1 0 14.9 0 4.4 .1-75.6 0 14.5 0 22.9 0 8.6 0 3 0 5.2 0 11.5 0 15 .1-67.6 0 29.1 .1-33.9 0 9.6 0 .3 0 7.2 0 3.6 0 1.9 0 9 0 15 0 14.6 0 7.1 0 1.8 0 14.3 .1-50 0 4.8 .1-36.8 0 8.8 0 .2 0 37.2 0 2.6 0 4.1 0 16.8 .1-89 0 30.4 0 5.7 0 43.3 0 .7 0 3.3 .1-45.8 0 33.5 0 4 0 11.4 .1-75.7 0 13.1 0 1.7 0 10.8 0 6.6 0 5.9 0 14.1 0 8.3 0 3.7 0 16.3 0 27.4 .1-96.4 0 19 0 3.3 0 9.2 .1-57 0 .6 0 35.2 0 11.7 0 12.8 0 5.4 0 11.8 0 7.4 0 11 .1-77 0 7.1 0 .5 0 .6 0 31.5 0 12.9 0 2 0 16.9 0 3.1 .1-79.6 0 17.4 0 1.7 0 1.5 0 14.5 0 2.3 0 18.4 0 1.6 0 3.2 0 32.7 0 21.4 .1-105.8 0 2.6 0 20.6 0 .1 0 7.7 0 1.7 0 39 0 2.8 .1-91.5 0 36.8 0 3.2 0 6.1 0 15.6 0 1.7 0 5.8 0 4.7 0 2.1 0 21.8 .1-94.3 0 14.4 0 16.2 0 19.7 0 17.2 .1-55.7 0 1.6 0 13.1 0 13.2 0 40.4 .1-92.9 0 15.7 0 11.1 0 50 .1-53.5 0 7.9 0 9.4 0 14.7 0 2 0 15.1 .1-44.5 0 13.1 0 4 0 9.8 0 5.3 0 17.1 0 23.5 .1-74.2 0 5.6 0 15.2 0 25 0 2.3 0 26.5 .1-97 0 34.3 0 4.9 0 8.5 0 2.1 0 19.8 .1-35.1 0 7.2 .2-26.3 .1 79 .2-61.4 0 28.9 .1 28.4 .1-18.1 0 13.9 .1-33.4 .2 62.3 .2-84.7 .1 8.3 .1-3.3 0 10.9 .2-1.5 .2 4.3 .1-34.1 0 49.5 .1-58.2 .1 43.8 .2-32.1 0 72.7 .1-41.5 .1 30.8 .1-65.4 0 43.7 0 14.2 0 27.4 .1-51.1 .1 13.5 0 3.1 0 12.5 .1-53.1 .1 16.3 .1-9.3 .1 17.1 0 14.2 0 19.7 .1-60.6 0 19.1 .1 49.5 .1-35.2 0 5.8 .2-17.3 .1-27 0 14.6 0 19.1 .3 24.3 .1-51.5 0 71.2 .1-54.3 0 7.3 0 10.9 0 7.5 .1-20.3 0 11.5 0 9.4 .1-11.6 0 .5 0 4.5 0 11.1 0 23.5 .1-62.5 0 19.3 0 15.4 0 3.2 0 8.8 .2-16.4 0 4.8 .1-36.5 0 11.8 0 3.9 0 12.1 .1-20.1 .1 24.1 .1-6.4 0 26.2 .1-42.4 0 17.9 .1-12.8 0 10.4 0 5.2 0 2.9 0 19.5 .1-33.5 0 29.3 .1-62.3 0 9.7 0 1 0 32.6 .1 3.4 0 .4 0 1.6 0 22.1 .1-16.7 .1-49.1 0 25.6 0 16.1 0 7.1 .1-26.2 0 13.8 0 35.2 .1-38.2 0 .1 0 1.4 .1-27.8 0 23.6 .1-30.4 0 26 0 18.8 0 3.8 .1-57.6 0 20.5 0 34 .1-34.5 0 20.2 0 .3 0 20.6 0 9.7 0 7.4 .1-45.1 0 24.7 0 26.5 .1-36.9 0 9.2 0 11.5 .1-39 0 5.5 0 6.6 0 27.2 .1-62 0 24.3 0 18.1 0 8.9 .1 .8 0 16.9 0 9.6 .1-29.7 0 8.3 .2-38.7 0 35.8 .1-43.5 0 19.2 0 5.9 0 13.7 .1-64 0 18.3 0 24.2 0 6 0 4.2 0 30.5 .1-74.8 0 11.8 0 4.1 0 13.6 0 15.5 0 2.4 .1-11.5 0 14.1 0 18.2 0 3 .1-39.5 0 1.3 0 25.1 0 11.2 .1-24.2 0 2.1 0 7.5 0 4 .1-18.4 0 3.9 0 3 0 2.8 0 20.2 .1-59.3 0 28.2 0 19.2 0 4.6 .1-54.6 0 50.3 .1-31.3 0 6.6 0 1.2 0 2.6 .1-8.1 0 12.5 0 10 .1-33.8 0 3.3 0 6.9 0 .3 0 23.2 .1-25.3 0 5.8 0 10.3 .1-29.3 0 8.9 0 35.9 .1-53.8 0 9.4 0 29.9 0 7.5 .1-27.4 0 41.4 .1-17.8 0 14.3 0 12.5 .1-66.3 0 12.6 0 3.9 0 4.4 0 36.8 .1-12.5 0 8.3 .1-24.2 0 .9 .1 10.8 0 7.5 0 3.9 0 12.2 .1-53.7 0 37.3 0 13.6 .1-61.6 0 47.9 .1-27.3 .1 32.2 0 13.8 .1-32.7 0 18.1 .2 2.6 0 34.1 .1-62.1 0 30 .1 8.3 .1-47.5 0 7.1 .3-2.6 0 16.5 0 8 .2-21.8 0 29.5 .2-25 0 32.7 .3-46.7 0 20.4 0 14.1 .4-8 .3-27.8 .1-3.9 0 25.5 .1 8.8 0 20.5 .1-28.1 0 8.5 .1 1.2 .1 1.5 .3-5.6 0 2.4 0 40.5 .1-82.2 0 17.2 .1-13.5 0 19.3 0 27.7 .1-25.1 0 9.9 .1-1.9 0 22.2 .1-23.5 0 1.2 .1-19 0 16.7 0 6.4 0 .3 0 17.4 0 4.3 0 20.1 .1-75.3 0 20.7 0 9 .1-11 0 5.8 0 38.1 .1-44.7 0 50.4 .1-18.3 0 .1 .1-52.6 0 15.7 0 18.2 0 2.6 0 42.9 .1-64.9 0 38.4 .1-41.6 0 4.8 0 12.3 0 23.2 0 5.2 .1-49.1 0 30.7 .1-11.8 0 3.8 0 1.7 0 1.3 .1-19.7 0 .2 0 9.6 0 31.2 0 .3 .1-42.7 0 19.4 0 10.3 0 9.1 .1-51.9 0 18.5 0 7.6 0 15 0 14 0 .3 0 7.7 .1-50.7 0 37.5 .1-31 0 12.5 0 10.7 0 2.3 .1-.6 0 14 .1-78.3 .1 31.3 0 26 0 4 0 26.2 .2-52.2 0 3.9 0 4.7 0 7.8 0 14.3 0 34.3 .1-65.8 0 41.2 .1 6.3 .1-60.6 .1 6 .1 9.1 0 17 0 16.7 0 10.7 .1-51.6 .1 8.1 0 .7 0 14 .1-28.7 0 .2 0 25.8 0 7.5 .1-9.3 0 .2 0 5.4 0 26.3 0 7.9 .1-31.1 0 21.9 0 1.9 0 3.8 .1-57.4 0 36.6 .1-25.5 0 11.8 0 6.5 0 .5 0 14.3 .1-34.4 0 6.5 0 10.5 0 15.2 0 10.4 .2-47.3 0 37.3 0 8.7 .1-25.7 0 18.1 0 1.4 0 1.5 .1-61.1 0 20.6 0 13.1 0 4.5 0 40.3 .1-83.1 .1 14.8 0 13.7 0 23.7 .1 4.2 .1-40.5 0 15.3 0 15.3 0 5.5 0 30.7 0 1.9 .1-69.8 0 27 0 30.1 .1-17.6 0 1.3 0 4 0 4.3 0 10.3 0 .4 0 3.7 .1-46.2 .1 .8 .1-10 0 17 0 3.5 0 37.3 .1-41.8 0 5.3 0 7.4 0 .2 0 23.9 0 6.6 .1-54.4 .1-4.2 0 11.8 .1-31.3 0 10.7 0 28 0 12.7 .1-24.6 0 28.7 0 4.5 .1-65.3 0 23.5 0 24.3 .1-31 0 23 0 3.6 0 5 0 1.3 0 34.7 .1-33.4 0 9.9 .1-19.9 0 8 0 33.8 .1-59.3 0 29.5 0 10.5 0 .8 .1-32.2 0 5.2 0 4.2 0 4.9 0 28.4 .1-29.3 .1-9.2 0 16.6 .1-23.5 0 5.9 0 2 0 5.2 0 32.5 .1-21.4 0 4.4 .1-23.1 0 7.5 0 12.3 0 19.8 0 2.6 0 .4 .1-52.4 0 3.2 0 9.9 0 6.4 .1-31.2 0 13.7 0 41.5 0 20.3 .1-41.2 0 14.5 .1-43.4 0 32.3 0 15.1 .1-32.4 .1 20.3 .1-42.3 0 6.3 0 16.2 0 10.9 0 1.4 0 10.7 0 4.2 0 17.4 .1-12.5 .1-14.5 .1-48.2 0 34.4 0 .4 0 5.8 0 15.7 .1-45.1 0 22.3 0 4.1 0 14.3 0 27.9 .1-65.9 0 12.6 0 8.8 0 6.9 .1-23.2 0 13.2 0 8.4 0 15.5 .1-30.2 0 21.2 .1-35.3 0 7.4 0 12.1 0 43.9 0 9.2 .1-70 0 4.4 .1 .7 0 12 0 9.2 0 31.7 0 13.9 .1-79.8 0 24.7 0 13.2 0 22.9 0 2.7 .1-57.4 0 48.6 0 .6 0 6.1 .1-37.9 0 13.1 0 13.4 .1-46.7 0 2.2 0 13.7 0 6.6 0 24.7 0 9.4 0 4.3 .1-39.4 0 8.2 0 13.8 0 9 0 11 .1-76.5 0 22.1 0 22.7 0 4.3 0 1.3 0 3.6 0 24.6 .1-43.7 0 8.7 0 3.1 0 9.7 0 27.9 .1-59.9 0 14 0 2.3 0 4.3 0 5.4 .1-9.8 0 6.5 0 2 0 3 0 5.9 0 6.8 0 1.1 0 13.1 .1-42 0 14.8 0 23.3 .1-52 0 5.7 .1 14 0 2.9 0 3.1 0 11.6 .1-46.5 0 17 0 24.1 0 4.4 0 1.1 .1-33.7 0 7.7 0 15.7 0 11.9 0 6.4 0 22 .2-75.3 0 42.3 .1-15.1 0 8.4 0 5.2 0 3 0 1.2 0 2.1 0 6.3 0 6.4 .1-48.2 0 8.1 0 21.6 0 16.5 0 8.9 .1-65.7 0 9.9 0 4.6 0 13.5 0 9 0 2.8 0 7.9 .1-46 0 29.4 0 14.7 .1-60.4 0 35.4 0 3.8 0 1.1 0 11.3 0 5.9 0 2.7 0 16.1 .1-70.2 0 24.2 0 9.8 .1-11.6 0 39.7 .1-46.5 0 .1 0 20.4 0 26.7 0 2.1 .1-38.8 0 22.1 .1-33.6 0 30.3 0 26 .1-32.7 0 15.2 0 12.7 0 7.3 .1-68.3 0 23.6 0 18.2 .1-34.8 0 5.7 0 11.2 0 .6 0 14.3 0 2.3 0 4.1 0 16.5 .1-24.3 0 15.2 .1-22.8 0 2.4 .1-9.8 0 18.7 .1-39.3 0 10.2 0 17.9 0 1.4 0 43.3 .1-69.6 0 8.7 0 10.3 .1-26.3 0 3.6 0 5.7 0 17.1 0 5.4 0 37.7 .1-51.5 0 5.6 0 5.5 0 8.8 0 .3 .1-48.6 0 21.4 0 3.8 0 14.8 0 7.9 0 5 0 25.7 .1-66.6 0 22.7 0 12.8 .1-40 0 22.7 0 4.5 0 13.1 0 13.9 0 3.6 .1-15.5 0 13.2 0 1 0 17.1 .1-47.9 0 20 0 9.9 0 3.6 .1-45.1 0 24.9 0 2 0 4.1 0 4.7 0 1.4 .1-15.1 0 19.5 0 4.8 0 1.5 0 6.3 .1 10.1 .1-65.5 0 1.1 0 5.1 0 44.3 .1-60.8 0 3.6 0 13.1 0 3.6 0 2.1 0 9.4 0 5.4 0 1.6 0 8.8 0 28 .1-60.4 0 20 0 25.6 .1-43.3 0 27.3 0 .9 0 22.1 0 3.5 0 1.1 0 6.6 .1-60.1 0 11.5 0 9.5 0 24 .1-48.4 0 22.1 0 22 .1-48.9 0 18.7 0 8.2 0 2.4 0 28.6 .1-57.6 0 27.4 0 4 0 10 .1-41 0 8.5 0 14.9 .1-17.4 0 11.1 0 7.4 .1 6.8 0 1.7 0 2 0 6.8 0 6 0 14.3 .1-65.2 0 11.9 0 16.4 0 25.3 .1-63.8 0 2.2 0 22.6 0 5.2 .1-18 0 23.1 0 2.1 0 11.8 .1-27.8 0 67.6 0 10.1" marker-start="url(#m1)" marker-mid="url(#m1)" marker-end="url(#m1)"/>
<path d="M212.7 80.8l0 18 0 28.6 .1-50.8 0 27.4 0 3.9 0 2.3 0 2 0 3.5 0 6.3 0 9.4 0 .4 .1-44 0 19.5 0 .2 0 1.2 0 1.8 0 2 0 3.8 .1-24.3 0 .1 0 .6 0 6.9 0 9.7 0 .9 .1-18.5 0 15.2 0 .7 0 2.2 0 41.6 .1-72.1 0 4.7 0 4.6 0 2.1 0 27.9 0 2.5 .1-49.5 0 26.7 0 12.2 0 8.6 .1-35 0 22 0 .1 0 5.2 0 5.9 0 13.1 0 4.3 0 1.5 0 15.4 0 .4 .1-75.2 0 31.6 0 14.4 0 8 0 4.2 0 3.1 0 6.6 .1-30.4 0 4.7 0 1.2 0 5.3 .1-43.9 0 3.6 0 25.6 0 1.6 0 15.8 .1-40.8 0 12.2 0 17.6 .1-33.5 0 15.2 0 1.7 0 .4 0 .4 0 1 0 6.3 0 8.7 0 1.4 .1-33.1 0 1.3 0 .1 0 9.8 0 .9 0 2.2 0 19.4 .1-45.7 0 2.8 0 8.4 0 10.6 0 1.3 0 15.9 0 19.7 0 .1 0 16.7 .1-54.3 0 6.5 0 5 0 .6 0 2.5 .1-40.7 0 5.8 0 10.1 0 5 0 3.6 0 3.4 0 7.9 0 5.6 0 8.5 0 .7 0 26 .1-66.9 0 4.6 0 7.8 0 14.5 0 3.8 0 4.7 0 12.6 0 6.7 0 5.7 .1-34 0 3.9 0 4.7 .1-28.7 0 1.2 0 9.2 0 1.8 0 .5 0 5 0 14.2 0 18.9 0 1.2 0 .4 0 5.9 .1-74.1 0 7 0 7.9 0 2.1 0 6.6 0 6.7 0 4.9 0 11.4 0 15.3 0 5.1 0 16.1 .1-80.4 0 14.4 0 1 0 2.5 0 12.6 0 5.2 0 .2 0 2 0 3.8 0 35.6 .1-73.6 0 4.1 0 10.3 0 7.2 0 .4 0 5.6 0 1 0 1.7 0 5.5 0 12.4 0 3.1 0 25.6 .1-55.7 0 1.7 0 1.1 0 2.5 0 3.7 0 6.6 0 4.1 0 6.5 0 1.5 .1-29.3 0 30.8 0 .5 .1-62.1 0 12 0 11.1 0 11.1 0 6 0 2.6 0 10.5 .1-34.8 0 10.1 0 7.4 0 15.7 0 10.1 0 6.8 .1-47 0 1.1 0 7.6 0 6.7 0 1 0 9.9 0 1.3 0 4 0 15.6 0 9.2 .1-58.9 0 2 0 28.1 0 16.8 .1-52.9 0 13.8 0 5.9 0 1.9 0 24.8 .1-8.9 0 3.5 0 10.8 0 6.2 .1-58.1 0 19 0 11.7 0 6.8 0 4.9 0 3.8 0 4.7 .1-41.6 0 7.3 0 5.1 0 4.3 0 1.2 0 6.6 0 4.5 0 11.6 0 3.4 0 1.9 .1-27.9 0 28.4 0 2.4 .1-49.8 0 2.5 0 2.5 0 9.1 0 1.2 0 4.2 0 5.6 .1-38.8 0 35.2 0 7.8 0 .4 .1-33.5 0 7.2 0 4.6 0 44.5 0 .8 0 8.4 .1-72 0 5.8 0 2.9 0 1.2 0 9.2 0 2 0 3.6 0 2.6 0 1.6 0 12.6 0 .4 .1-36.2 0 10 0 1.6 0 2.2 0 25.9 0 3.6 0 2.9 .1-34.4 0 6.8 0 1.8 0 6.4 0 9.6 0 3.8 0 15.6 0 .5 0 1.7 .1-61.3 0 6.2 0 17.4 0 8.1 0 11 0 43.6 .1-91.5 0 8.7 0 8.7 0 30.8 0 1.6 0 22.5 .1-69.2 0 14.7 0 .1 0 2.9 0 4.6 0 9.1 0 .9 0 .4 0 7.4 0 13.5 0 1.7 0 4.5 .1-56.6 0 10.4 0 3 0 .8 0 5.6 0 1.6 0 34.1 0 17.4 0 4.5 .1-69.3 0 11 0 1.6 0 3.6 0 6.7 0 3.7 0 1.4 0 11.4 0 10.5 .1-47.1 0 23 0 16.8 0 .5 .1-57.2 0 9.1 0 30.4 0 2.8 0 5.4 0 8.4 .1-68.2 0 10.2 0 8.4 0 .8 0 10.3 0 2.7 0 4.9 0 23.5 0 8.3 .1-49.2 0 6.2 0 8.4 0 7 0 1.1 0 4.2 0 1.6 0 3.6 0 .6 0 5.3 0 17.4 .1-64.2 0 14.1 0 23.4 0 8.3 0 2.8 0 2.5 0 2.5 0 1 0 1.8 .1-49 0 23 0 14 0 6.8 0 2.4 0 14.4 .1-78.2 0 31.2 0 13.8 0 9.1 0 4.6 0 4 .1-29.5 0 12.7 0 28.5 .1-78.4 0 3.6 0 25.9 0 10.5 0 .9 0 5.1 0 3.3 0 3.4 0 2.8 0 1.3 0 5.9 0 .3 0 9 0 7.6 .1-58.5 0 .1 0 28.4 0 4.8 0 1.6 0 19.1 .1-57.1 0 18.3 0 0 0 8.6 0 5.7 0 1.1 0 26.5 .1-59.8 0 4.5 0 12.8 0 4.4 0 12.1 0 2.2 0 4.2 0 .8 0 20.2 .1-61.5 0 18.4 0 .8 0 12.8 0 15.5 0 9.7 .1-65.1 0 15.4 0 3 0 33.5 0 7.7 0 11.4 .1-45.2 0 9 0 8.1 0 2.4 0 11.2 0 1.3 0 .8 0 .6 0 .4 0 8.4 0 .2 .1-61.9 0 18.5 0 2.6 0 2.5 0 8.3 0 4.8 0 5 0 1.1 0 6.2 0 6.8 .1-51.5 0 4.9 0 42.8 .1-54.4 0 3.1 0 7.2 0 7.5 0 10.4 0 3.1 0 4.3 0 4.1 0 5.5 0 5.1 .1-39.9 0 6.4 0 .1 0 1.4 0 7.3 0 1.2 0 7.1 .1-30.5 0 32 0 16.5 .1-50.6 0 16 0 5.3 0 10.5 0 5.6 0 7.5 0 7.6 0 3.4 0 4.2 .1-58 0 15.1 0 19.1 0 11.9 0 7.1 0 8.3 0 19.8 .1-57.7 0 2.7 0 1.2 0 4.8 0 .3 0 1.1 0 4 0 22.4 .1-57.9 0 9.1 0 3.9 0 8 0 3 0 3.8 0 20.2 0 3.1 0 7.7 0 1.9 0 3.5 .1-76.1 0 17.9 0 14.8 0 25.9 0 7.2 .1-44.6 0 19.8 0 1.3 0 .5 0 5.4 0 9.4 0 10.2 0 4.1 .1-61.4 0 8.4 0 5.8 0 5.3 0 5 0 30.1 0 21.6 .1-54.9 0 5.5 0 6.8 0 4.9 0 18.7 .1-39.3 0 .8 0 6.2 0 7 0 .9 0 1.4 0 4.6 0 .2 0 9 0 1.5 0 12 0 1.1 0 11.4 .1-66 0 6.3 0 .5 0 20.3 0 2.7 0 4.4 0 .5 0 6 0 .9 0 1.9 0 7.6 .1-65.8 0 7.4 0 11.6 0 4.6 0 13.2 0 35 0 5.5 .1-66.7 0 15.5 0 6.9 0 1.7 0 3.4 0 9.5 0 .9 0 6.8 0 26.5 .1-56.2 0 1.5 0 8.8 0 3.4 0 3 0 1.7 0 .9 0 9.1 .1-42.3 0 1.9 0 15.7 0 2.1 0 2.5 0 4 0 .2 0 3.6 0 4.7 0 13.2 .1-70.9 0 42.7 0 .4 0 12.5 .1-20.9 0 20.4 .1-17.2 0 .5 0 5.2 0 4.6 0 6 0 .5 0 13.8 .1-28.8 0 5.1 0 2.8 0 3 0 3.5 0 6.1 0 3.3 0 16.7 0 2.7 .1-55.9 0 10 0 11.5 0 17.6 0 19.6 .1-84.7 0 34.8 0 15.4 0 5.3 0 2.1 0 .4 0 16.9 .1-57.5 0 25.3 0 3.2 0 11.1 0 44.5 .1-86.5 0 17.7 0 11.6 0 6.1 0 6.3 0 2 0 14.9 0 5.3 0 4.6 .1-41.8 0 3 0 1.3 0 3.6 0 2.1 0 18.8 0 2.6 0 4.4 0 4.5 0 2.8 .1-68.5 0 32.7 0 1.1 0 9.7 0 1.9 0 21.3 0 20.3 .1-60.1 0 4.3 0 18.8 .1-37.8 0 2 0 1.6 0 4.9 0 7 0 4.6 0 .7 0 10.1 .1-41.7 0 22.4 0 9.2 .1-31.1 0 13.4 0 6.6 0 3.6 0 9.6 .1-9.1 0 5.7 0 28.5 0 14.1 .1-73.1 0 14.4 0 2 0 1.2 0 2.3 0 3.7 0 2.3 0 5.3 0 9.4 0 2.4 0 3.5 0 3.1 .1-26.1 0 2.5 .1-12.2 0 3.7 0 3 0 1.5 0 18.5 0 1.3 0 2.2 0 7.4 .1-69.7 0 16.1 0 .8 0 2.5 0 10.5 0 5.8 0 2.4 0 2.6 0 .7 0 4 0 20.7 0 0 0 11.7 0 1 .1-38.5 0 1.1 0 7.7 0 6.2 0 .6 0 15.3 0 6.4 .1-55.8 0 .8 0 8.2 0 4.4 0 12.5 0 2.6 0 8.3 0 17.5 .1-58 0 17.9 0 2 0 9.5 0 1.7 0 1.1 0 7.3 0 19.6 .1-51.5 0 2.2 0 3 0 .6 0 6.8 0 0 0 12.8 0 5.1 0 4.9 0 .4 0 5.3 0 1 0 1.7 0 2.3 0 0 0 14.3 .1-52.9 0 13.1 0 .6 0 5.8 0 .4 0 26.1 0 1 .1-78.5 0 22.5 0 16.4 0 2.1 0 6.1 0 6.3 0 21.8 0 17.1 0 1.2 .1-58.2 0 2.1 0 6.1 0 50.7 .1-79.5 0 22.1 0 4.9 0 6 0 12.5 0 1.6 0 3.1 0 19.5 .1-48.6 0 26 0 11.4 .1-43.9 0 3.2 0 .7 0 1.2 0 5.9 0 8.9 0 .9 0 1.8 0 23.2 0 9.5 .1-66.6 0 13.9 0 2.6 0 12.2 0 19.4 0 11.6 0 11.4 .1-55.8 0 .6 0 6.1 0 3.4 0 16.9 .1-42.7 0 1.3 0 16 0 11.9 0 6.5 0 1.5 .1 8.7 0 1.4 0 7 0 8.3 .1-61 0 11.9 0 4.4 0 .5 0 1 0 28.7 0 1.5 0 4.7 0 2.9 .1-44.3 0 .6 0 8.3 0 6.1 0 5.4 0 11.9 0 .4 0 5.2 0 6.5 .1-53.5 0 18.1 0 5.7 0 6.5 0 .9 0 1.3 0 5.4 0 9.8 .1-45.6 0 10.1 0 18.2 0 13.1 0 5.1 0 2.1 .1-50.7 0 13.5 0 2.6 0 8.6 0 4.1 0 18.3 0 8.3 0 1.2 0 8.2 .1-58.2 0 6.1 0 2.2 0 3.8 0 .9 0 2.4 0 15.8 0 4 0 1.3 0 8.2 0 12.8 0 3.5 .1-52.3 0 10.4 0 14.2 0 .1 0 9.9 0 .2 .1-25.5 0 7.2 0 21.9 .1-45.3 0 5.9 0 21.6 0 .9 0 0 0 .7 0 9 .1-51.5 0 .5 0 7.9 0 5 0 1.5 0 12.2 0 1.4 0 5.1 0 5.1 0 5.1 0 15.1 0 2.1 .1-56.4 0 2.3 0 1.3 0 .3 0 1.2 0 14 0 3.7 0 .4 0 7.1 0 6.7 0 6.7 0 8.2 0 6.5 0 17.7 .1-89 0 18.2 0 .5 0 2.8 0 18.5 0 18.3 0 2.2 0 18.6 .1-71.8 0 3.2 0 19.1 0 15.7 0 .1 0 5.6 0 6.9 0 1.2 0 14.7 .1-86.4 0 20.6 0 .5 0 2.3 0 14.2 0 5.8 0 2.1 0 6.2 0 2.8 0 2.9 0 2.4 0 9 0 6.5 .1-35.4 0 42.7 0 8.8 .1-43.5 0 23.1 0 5.6 0 3 .1-46.8 0 1.8 0 16.1 0 2.2 0 2.5 0 .2 0 15.9 0 7.4 0 1.2 .1-59.2 0 9 0 16.5 0 1.8 0 8.9 0 2.2 0 4.7 .1-37.3 0 20.7 0 20.5 0 1 0 27.8 .1-66.3 0 2.2 0 0 0 10.9 0 5.1 0 7.1 0 2.3 0 15.2 .1-54.3 0 7.7 0 9.1 0 1.7 0 39.3 .1-54.3 0 9.3 0 6.6 0 4.1 0 3 0 1.1 0 51 .1-68.5 0 14.4 0 4.2 0 6.9 .1-41.4 0 5 0 9.3 0 5.5 0 19.6 0 13.7 0 2.1 0 1.3 0 18.4 .1-64.1 0 11 0 15.7 0 11.9 0 .5 0 4 0 .7 0 2.9 .1-34.3 0 5.8 0 16.6 0 4.4 0 13.4 0 .1 0 19.9 .1-68.4 0 8 0 3.3 0 .6 0 1.2 0 27.8 0 27.8 0 4 .1-61.5 0 8.7 0 23 0 13.3 .1-43 0 10.7 0 3.3 0 10.4 0 6.1 0 5.1 .1-30.6 0 1.2 0 8.5 0 14.8 0 3.3 0 5.2 0 13.4 .1-76.6 0 8.2 0 10.5 0 11.9 0 18 0 10.1 0 4.3 0 1.7 0 .1 .1-54.2 0 8.2 0 6.8 0 5.3 0 9.7 0 13.4 0 10.6 0 19.8 .1-68.8 0 10.1 0 2.9 0 3.6 0 .8 0 54 0 1.6 .1-85.4 0 .6 0 4.3 0 19.2 0 11.5 0 .5 0 .7 .1-36.5 0 12.8 0 8 0 8.4 0 3.8 0 2.6 0 13.4 0 3.4 0 2.1 .1-49.1 0 5.5 0 24.1 0 3.7 0 7.1 0 13 0 2.4 .1-36.7 0 2.4 0 13.7 0 7.6 0 2.2 0 5.8 .1-53.1 0 18.6 0 2 0 .3 0 17.8 0 .6 0 1.4 0 1.6 0 10.4 0 5.7 .1-58.5 0 7.7 0 6.9 0 2.1 0 15.1 0 10.1 .1-55.9 0 14.4 0 3.1 0 27.2 0 0 .1-30.8 0 .7 0 1.5 0 29 0 10.4 0 14.2 0 .1 0 2 0 2.9 0 17.7 .1-72 0 19.8 0 6.7 0 .8 0 0 0 .6 0 4.7 0 2.7 0 7.2 .1-62.1 0 30.3 0 12.6 0 9.5 0 7.4 .1-27.1 0 8.9 0 16.5 0 3.6 0 5.4 .1-47.6 0 26.3 0 1.6 0 44.6 .1-78.1 0 11.5 0 12.5 0 34.1 .1-60.7 0 7.6 0 7 0 3 0 1.3 0 12.7 0 1 0 .4 0 4.8 .1-19.4 0 8.4 0 4.5 .1-18.2 0 8.3 0 21.4 0 14.3 0 17.6 0 19.2 .1-83.5 0 57.3 .1-57.9 0 21.3 0 5.3 0 12.1 .1-39.9 0 1.6 0 9.6 0 3.7 0 .8 0 .9 0 16.4 0 3.2 .1-22.1 0 4.3 0 1 0 17.1 .1-28.1 0 .7 0 1.6 0 1.1 0 10.4 0 0 .1-24.2 0 22.8 0 6.2 0 6.2 0 1 0 4.2 0 6.7 0 10 .1-50.5 0 5.5 0 8.5 0 1.3 0 3.1 0 20 0 2.6 .1-47.2 0 15.2 0 8.5 0 57.3 .1-92.8 0 .2 .1 18.7 0 1.9 0 12.6 0 1.7 0 9.5 0 10.6 .1-27.8 0 6.2 0 10.2 .1-30.4 0 16.5 0 7.5 0 1 0 5.6 0 3.2 0 6.9 0 5.9 0 3.4 0 6 .1-48.2 0 .8 0 12.5 0 1.3 0 3.4 .1-29.4 0 27.4 0 8.5 0 24.1 .1-44.6 0 .9 0 .6 0 7.5 0 19.4 0 24.7 .1-77.7 0 8.7 0 4.2 0 1.9 0 13 0 13.2 .1-40 0 4.6 0 24.8 .1-5.6 0 14.4 0 5 0 2.2 0 2.2 0 7.7 .1-51.2 0 19 0 3.7 0 2 0 2.6 0 2.4 0 1 0 4.7 0 6.2 0 4.8 .1-40.4 0 11 0 6.4 0 1.9 0 23.1 0 3.1 0 1.3 0 .9 .1-51.3 0 7.4 0 12.6 0 5.9 0 1.8 0 13.1 .1-33.3 0 11.1 0 11.2 0 1.8 0 3.8 0 9.8 .1-19.5 0 3.3 0 1.2 0 1.6 0 4 0 10.9 0 .7 .1-41.4 0 10.9 0 4.2 0 9.2 0 7.7 0 23.3 0 .5 .1-57.9 0 68.9 .1-54.1 0 6.9 0 8.7 0 10.2 0 11.2 0 9.2 .1-68.3 0 11.1 0 11.1 0 16.6 0 6.6 .1-46.7 0 6.6 0 12.2 0 7.8 0 4.1 0 3.1 0 9.8 0 23.6 0 2.9 0 3 .1-56.4 0 7.2 0 2.8 0 16.7 0 42.9 .1-77.1 0 8 0 3.1 0 6.2 0 15.1 0 9.5 .1-47.4 0 12.9 0 4.8 0 3.6 0 2.5 0 8.4 0 30.7 0 9.9 .1-55.7 0 6.3 0 10.4 0 4.9 0 12.4 0 1.7 0 .1 .1-65 0 23 0 1.6 0 .9 0 7.1 0 15.7 0 6.5 0 4.5 0 5.3 0 21.6 0 10.8 .1-78 0 2.2 0 5.3 0 8.7 0 7.2 0 17.5 .1-58.4 0 14.3 0 19.1 0 7.7 0 5.9 0 1.6 0 8 0 1.9 0 24.3 0 .8 .1-73.5 0 12.5 0 5.2 0 5.4 0 5.4 0 8.9 0 3.6 0 .4 0 2.8 0 3.2 0 2.1 0 .8 .1-39.2 0 15.6 0 6.6 0 2.5 0 3.6 0 17.6 .1-44.7 0 30.1 .1-28.4 0 2.6 0 8.7 0 12.2 0 .2 0 .9 .1-10.5 0 3.2 0 10.7 0 .7 0 26.2 .1-56.8 0 4.5 0 18.1 0 34.3 .1-68.8 0 4.5 0 4.6 0 25.3 0 1.8 0 5 0 13 0 1.6 0 1 0 7.4 0 4.1 .1-67.6 0 15.4 0 4.6 0 35 0 2 0 5.1 .1-59.3 0 8.8 0 9.6 0 3.1 0 4.2 0 5.5 0 9.3 0 4.2 0 8.9 0 6.6 .1-53.8 0 10.9 0 .2 0 .3 0 .1 0 10.2 0 7.7 0 7.5 0 1.4 0 6.5 0 4.7 0 9.3 0 7.1 .1-74.5 0 7.9 0 10.3 0 10.6 0 19.5 0 6.5 .1-57 0 14.1 0 2.8 0 6.1 0 18.4 0 1.3 0 7.3 0 1 0 .5 0 17.4 0 1.9 0 3.2 .1-68.6 0 5.3 0 3.5 0 .9 0 7.6 0 3.2 0 3.4 0 4.2 0 4.1 0 2.3 0 23.2 0 .7 .1-71.4 0 3.7 0 14.2 0 12.6 0 13.3 0 5.1 0 5.7 0 .5 0 3.4 0 5.1 0 16.1 0 2.6 .1-58.7 0 2 0 12.2 0 .4 0 2.4 0 .5 0 8.4 0 51.4 .1-72 0 31 0 11.2 .1-66.5 0 2.9 0 21 0 10.1 0 7.3 0 6.6 0 8 0 2.6 .1-51.2 0 12.6 0 9.4 0 21.4 0 .1 0 15.7 0 2.2 .1-89 0 18.5 0 32.7 0 0 0 .1 0 3.8 0 10.3 0 1.3 0 29.2 .1-76 0 8.2 0 3.2 0 1.1 0 15 0 3.7 0 2.6 0 30.4 .1-48.8 0 25.4 0 23.3 0 7.8 .1-67.2 0 19.4 0 5.9 0 .3 0 2.3 0 .2 0 8 0 5.7 0 10 0 4.7 .1-46.4 0 22.9 .1-22.6 0 2.4 0 6.7 0 21 0 3.5 0 3.9 0 2.6 0 1.8 0 5 0 13.9 .1-54.2 0 12 0 6.5 0 6 0 2.8 0 18.8 .1-46.2 0 6.6 0 3.9 0 14.7 0 4.3 .1-48.1 0 26.3 .1-35.2 0 50.3 0 5.3 0 20.5 .1-80.8 0 17.1 0 9.4 0 3.3 0 1.1 0 .7 0 5.4 0 22 0 4.4 0 .4 0 8 0 11.9 0 14.6 .1-59.1 0 3.9 0 12.4 0 12.9 0 4.5 0 20.1 .1-72.4 0 12.6 0 15.5 0 1.2 0 .4 0 5.5 0 19.4 .1-63.7 0 1.8 0 13.1 0 26.2 0 14.9 0 12.8 .1-56.9 0 13.7 0 13.8 0 5.4 0 12.7 0 1.2 0 15 .1-77.2 0 10.1 0 12.9 0 8.4 0 1.8 0 3.2 0 10.2 0 5.9 0 1.8 0 1.9 0 9 0 .7 .1-43.5 0 14.3 0 8.2 0 18.4 0 18.1 .1-68.1 0 .1 0 3.1 0 1.1 0 4.4 0 3.4 0 5.2 0 1.2 0 2.7 0 9.2 0 10.1 0 16.8 0 34.3 .1-87.6 0 3.9 0 1.1 0 8.6 0 5.7 0 14.5 0 11.3 0 20.1 0 9.2 .1-78.8 0 26 .1-31 0 2.8 0 32.1 0 7.4 0 .6 0 33.5 .1-78.6 0 2.4 0 15.9 0 25 0 4.7 .1-51.2 0 17.8 0 8.9 0 4 0 6.6 0 10.3 0 1.6 0 1 0 50.2 .1-102.4 0 33.3 0 4 0 21.3 0 4.1 0 1.9 .1-27.6 0 20 .1-50.1 0 12.5 0 10.4 0 5.3 0 9.6 0 2.7 0 10.3 0 7.6 .1-56.6 0 2 0 10.1 0 11.9 0 2.4 0 1.2 0 32 0 3 0 1 0 3.4 0 .5 .1-49.2 0 14.5 0 1.5 0 19.3 0 6.6 0 2.2 .1-48.7 0 23.5 0 9.4 0 2.2 .1-44.7 0 7.4 0 .4 0 27.5 0 5.2 0 9.2 0 4 .1-57.4 0 23 0 27.3 0 7 0 6.6 .1-45.8 0 19.5 0 12.2 0 11.6 .1-74.5 0 10.3 0 24.3 0 0 0 9.2 0 6.5 0 16.7 .1-33.9 0 4.1 0 8.2 0 1.3 0 2.5 0 2.7 0 6.1 0 9.1 .1-53.3 0 22.1 0 .5 0 11.9 0 4.9 0 .6 0 3.9 .1-37.4 0 6.8 0 3.3 0 7.1 0 2.2 0 6 0 4.7 0 4.1 0 5.6 0 9.2 0 9 .1-68.3 0 1.6 0 2.8 0 6.3 0 .1 0 .9 0 21.6 0 2.6 .1-59.9 0 26.1 0 4.1 0 7.9 0 5.2 0 9.3 0 10.3 0 21.9 0 2.4 .1-58.7 0 2.9 0 9.2 0 4.8 0 5.5 0 2.5 0 13.1 0 10.8 0 5.9 0 8.3 .1-51.7 0 3.5 0 .6 0 .3 0 11.7 0 3 .1-21.4 0 19.9 0 12.6 0 1.9 0 9.7 0 2 0 1.6 0 .1 0 2.6 0 2.6 0 22.9 .1-88.6 0 9.1 0 .4 0 8.2 0 8.7 0 .7 0 1.5 0 3 0 18.4 0 12.5 .1-71 0 14.6 0 5.1 0 11.6 0 7.2 0 7.8 0 2.9 0 2.6 0 1.5 0 13.7 0 5.1 .1-56.8 0 10.1 0 1.6 0 11.2 0 17.3 0 12.8 0 .2 .1-61.2 0 2.2 0 22.2 0 10.7 .1-24.5 0 32.5 0 25.2 .1-43.6 0 14.5 0 1.8 0 3.6 0 1.2 0 16 0 10.4 .1-83.9 0 17 0 3.4 0 18.6 0 2.2 0 4.4 0 25.6 .1-61.4 0 3.1 0 14.1 0 7.8 0 4.5 0 5.4 0 .7 0 14.7 0 8.2 .1-47 0 25.2 0 6.8 0 1.6 0 4.2 0 2.3 .1-45.1 0 2.6 0 11.1 0 6.8 0 8.3 0 15 0 5.7 .1-34.8 0 1 0 15.3 0 7.5 0 5.6 0 22.3 0 .2 .1-57.3 0 6.7 0 .4 0 .9 0 3.8 0 12.3 0 .8 0 27.5 .1-52.5 0 1.8 0 13.9 0 8.5 0 3.5 0 4.7 0 8.1 0 9.2 0 8.2 .1-69.6 0 5.7 0 3.1 0 18.1 0 5.3 0 5 0 5 0 19.1 0 4.7 .1-83.5 0 25 0 .9 0 4.4 0 .1 0 1.4 0 5.3 0 11.3 0 7.7 0 .1 0 22.1 0 5.3 0 7.7 .1-54.9 0 .4 0 11.5 0 10.7 0 37.6 0 7.6 .1-94.9 0 9.4 0 16.1 0 19.3 0 4.8 .1-36.8 0 10.7 0 3.5 0 3.1 0 0 0 2.6 0 7.7 0 15.9 0 1.1 0 1.5 0 15.4 0 5.8 .1-55.2 0 27.2 0 17.2 .1-50.4 0 1 0 11 0 36.8 0 .1 .1-58.6 0 15.4 0 5 0 6.7 0 4.1 0 32 .1-66.9 0 12.6 0 5.7 0 20 0 6.6 0 16.6 0 1.4 .1-37.5 0 1.6 0 2.9 0 41.8 .1-79.3 0 11.2 0 5.6 0 .1 0 24.8 0 14.1 0 1.7 .1-33.1 0 6.4 0 2.2 0 14.2 .1-30.9 0 64.5 .1-61.6 0 4.4 0 7.9 0 5 0 6.4 0 3.2 0 4.8 0 6.2 0 14.1 .1-44.1 0 25.8 0 7.2 0 4.4 0 .1 .1-41.6 0 41.5 0 6.5 0 36 .1-85.4 0 8.2 0 13.6 0 3.6 0 2.1 .1-37.1 0 .6 0 2.3 0 7 0 4 0 3.6 0 1.3 0 2.4 0 .4 0 1.8 0 4.1 0 9.1 0 7 0 2.8 0 .1 0 .8 0 12.1 .1-56.5 0 10 0 .1 0 12.1 0 .5 0 3.3 0 4.2 0 17.6 0 19.4 0 1.8 .1-72.2 0 14.7 0 2.3 0 18.9 0 .8 0 14.9 0 .2 .1-43.5 0 5.7 0 15.2 0 11.3 0 1.4 0 8.7 0 23.8 .1-61.7 0 32.7 .1-43.8 0 .1 0 17.9 0 1.8 0 4.9 0 5.9 0 4 0 3 0 16.5 0 2.2 .1-75.4 0 15.5 0 40.5 0 4.4 0 5.8 0 7.4 .1-59 0 .7 0 8.1 0 9.9 0 29.7 0 2.6 0 8.4 0 3.2 0 .2 .1-52.5 0 .5 0 16.1 0 4 0 1.8 0 2.7 0 4.5 0 8.9 0 8.7 0 3.7 0 4.5 .1-72.4 0 1 0 10.9 0 10.7 0 8 0 4.2 0 4.9 0 6.3 0 36.6 .1-64.2 0 18.2 0 2.3 0 13.6 0 2.2 .1-55.5 0 6.2 0 24 0 9.2 0 5.9 0 7 0 2.4 0 5.2 0 10 0 1 0 10.6 .1-38.2 0 9.6 .1-45.4 0 1.7 0 3.6 0 .1 0 1.9 0 .5 0 17.1 0 6.3 0 4.8 0 4.5 0 .9 0 12.7 0 35.2 0 2 .1-75.7 0 10.2 0 9.3 0 4.5 0 14.1 0 18.4 0 .8 .1-67.4 0 13.4 0 6.1 0 4.7 0 8.2 0 30.4 .1-75.6 0 3.9 0 20.1 0 7.3 0 6.7 0 2.4 0 .9 0 6.5 0 1.7 0 3.1 0 4.6 0 .6 0 3.2 .1-30.3 0 2.6 0 22.8 0 .5 0 19.5 0 19 .1-68.4 0 11.2 0 .8 0 .6 0 17.1 .1-27 0 3.3 0 5 0 11.6 0 8.1 0 37 .1-71.1 0 4 0 14.9 0 3 0 11.7 0 15 0 1.4 0 5.8 .1-65 0 32.8 0 4.3 0 18.6 .1-16.1 0 7.1 0 17 .1-64.5 0 6.7 0 8.6 0 11.6 0 60.6 .1-50.4 0 10.3 0 4.2 .1-43.5 0 0 0 1.8 0 9.2 0 5.9 0 11.9 0 30.9 .1-76.5 0 11.2 0 .8 0 1.3 0 4.9 0 .9 0 30.4 0 11.1 .1-56.2 0 12.9 0 6.9 0 1.1 0 6.2 0 2 0 .4 0 5.2 0 0 0 1.3 0 10.9 0 6.8 .1-47.2 0 21.1 0 1.9 0 2 0 .7 0 7 0 2.1 0 2.2 0 9.8 0 5.7 0 6.4 .1-43.6 0 10.3 0 1.2 .1-45.9 0 19 0 5.7 0 8.5 0 26.1 .1-31.7 0 2.2 0 1.9 0 .5 0 3.4 0 14.6 0 14.1 0 16.1 0 .4 0 2.9 0 16.1 .1-81.2 0 28.2 0 11.1 0 1.7 0 1.6 .1-46.4 0 10.1 0 12.7 0 8.4 0 10.4 0 8.4 0 9.9 .1-64.5 0 12.6 0 7 0 9.5 0 14.8 0 3.4 0 39.9 .1-73.7 0 14.1 0 2.5 0 17.5 0 .8 0 .4 0 9.4 0 17 .1-56.4 0 .8 0 6.5 0 13.3 0 6 0 53.4 .1-97.1 0 7.2 0 20.3 0 6.9 0 3.6 0 10.3 0 4.8 0 .7 0 6.6 0 0 .1-49.8 0 4.2 0 3.5 0 14.1 0 .5 0 3 0 10.9 .1-37.2 0 4.9 0 16.1 0 .4 0 7.6 0 6.6 0 17.5 .1-46.4 0 10 0 .3 0 11 0 13 0 5.3 0 8.6 0 23.7 .1-90.7 0 7.5 0 17.6 0 15.6 0 2.8 0 .2 0 9.1 0 3.2 .1-64.1 0 19.2 0 2.6 0 .3 0 10.6 0 3 0 4.9 0 8.6 0 3.3 0 5.7 0 10 0 19.4 .1-71.9 0 1.2 0 4.2 0 2.4 0 18.1 0 27 0 .6 .1-40.5 0 15.2 0 7 0 .8 0 10.3 0 0 0 4.4 .1-58.9 0 .1 0 13.6 0 42.2 0 1.8 .1-20.7 0 5.9 0 5.6 0 2.1 0 4.1 0 20.5 .1-73.1 0 9.6 0 28.1 0 24.1 0 18.7 .1-86.6 0 28.4 0 1.3 0 1.1 0 6.2 0 14.6 0 1.2 0 1.9 0 4.2 0 6.4 0 10.1 0 .9 0 2.4 .1-63.2 0 6.3 0 2.9 0 5.2 0 3 0 .6 0 7.8 0 4.2 0 11.6 0 .9 0 5.6 0 13.9 0 5.2 .1-54.5 0 .8 0 .7 0 20.4 0 7.8 0 7.2 .1-41.1 0 2.8 0 28.8 0 16.8 .1-45.1 0 9.6 0 3.4 0 12 0 12 .1-73.9 0 17 0 13.7 0 13.9 0 3.9 0 4.7 0 0 0 .3 0 1.4 0 9 0 1.7 0 2.9 0 2.9 0 14.2 .1-38.5 0 8.7 0 .7 0 10.1 0 20 .1-67.2 0 12.1 0 7.9 0 19.4 0 1.4 0 2.3 .1-23.6 0 6.9 0 8.7 0 3 0 1.1 0 2.5 0 2.3 0 18.9 0 22.4 .1-97.2 0 .6 0 8.9 0 17.8 0 1.2 0 8.8 0 .2 0 10.3 0 1.4 0 3.3 0 9.9 0 .3 .1-51.1 0 3.9 0 17.4 0 3.5 0 16.6 0 21.4 .1-77.1 0 18.7 0 3.4 0 15.6 0 15.2 .1-37.5 0 7.8 0 5.7 0 5.8 0 9.1 0 11.3 0 6.4 0 7.9 0 11.4 .1-84.6 0 41.6 0 11.1 0 .9 0 .3 0 7.5 .1-30 0 9.7 0 9.3 0 12.6 0 26.4 .1-74.8 0 4.8 0 23.2 0 15.4 0 7.2 0 4.6 0 8.3 .1-70.1 0 10.8 0 25.3 0 23.4 0 7.3 0 7.5 0 21 .1-90.7 0 24.9 0 2 0 24 0 3.6 0 15.3 .1-26.8 0 5.4 0 8.5 .1-31.7 0 1.7 0 12.7 0 6.2 0 8.2 0 1.6 .1-54.3 0 15.6 0 .3 0 19.5 0 1.9 0 7.2 0 .9 0 11.3 .1-53.8 0 2.4 0 .5 0 14.5 0 7 0 9 0 5.5 0 4.6 0 30.8 0 17.3 .1-93.5 0 9.8 0 2.2 0 2.1 0 3 0 10.4 0 16.7 0 17.3 .1-54.9 0 6.3 0 6.1 0 6.3 0 2.9 0 2.6 0 15.5 .1-1.6 0 9.7 .1-41.8 0 9.9 0 2.3 0 11.7 0 6.9 0 5.5 .1-31.7 0 13.4 0 16.5 0 18.5 0 11.7 .1-72.8 0 14.3 0 2.1 0 8.8 0 10.9 0 10 0 1.8 0 2.1 0 11.9 .1-69.5 0 16.3 0 .3 0 9 0 2.8 0 10.4 0 29.8 .1-61.3 0 1.9 0 2.8 0 .3 0 20.4 0 4.8 0 13.4 0 4.3 0 17.7 0 .9 0 1.5 0 16 .1-96.3 0 26.7 0 11.1 0 16.4 0 .2 0 2.1 0 3 0 1 0 10.1 0 .2 .1-55 0 .6 0 2.8 0 4.6 0 11.1 0 5.2 0 4.4 0 2.9 0 4.4 0 6.2 0 11.7 0 24.6 .1-68 0 7 0 14.5 0 17.4 0 25.2 .1-83.1 0 5.1 0 1.4 0 9.4 0 4.5 0 13.4 0 6 0 7.8 0 10 0 8.6 0 16.6 .1-81.1 0 23.4 0 25.4 0 2.5 0 10.1 .1-58.3 0 22.9 0 2.8 0 6.1 0 12.7 0 12.1 0 6 0 .3 0 2.7 0 7.2 .1-76 0 4.2 0 15.2 0 3.6 0 3 0 2.6 0 2 0 39.2 .1-63.9 0 8 0 0 0 6.3 0 1.9 0 19.5 0 9.5 0 6.7 0 11.8 .1-43.6 0 18.8 0 7.3 0 4.5 0 2.1 0 3.1 0 .2 0 4.4 .1-63 0 4.5 0 15.3 0 6.7 0 9.5 0 14.4 0 43.4 .1-89.7 0 36.2 0 9.1 0 9.8 0 4.6 .1-71.9 0 12.5 0 0 0 .7 0 19 0 49.7 .1-73.2 0 3.8 0 1.8 0 11.5 0 3.4 0 9.3 0 .9 0 2 0 14 0 36 .1-77.5 0 .5 0 .3 0 24.1 0 1.8 0 14.5 0 9.6 0 16 .1-68.6 0 14.8 0 24.6 .1-35.7 0 3.3 0 2 0 .5 .1-17.5 0 14.5 0 .5 0 8.4 0 10.6 0 4.2 0 3.8 0 6.5 .1-44.2 0 2.9 0 8.7 0 14.9 0 37.6 .1-76.1 0 16.5 0 .9 0 24.1 0 1.3 0 9.7 0 5.2 0 4.1 0 12.8 .1-54.2 0 5.9 0 0 0 12.6 0 2.4 0 3.6 0 10.4 0 3.1 0 .1 .1-41.2 0 3.8 0 5 0 24 0 12.3 0 8.3 .1-63 0 6.6 0 22.2 0 13 0 2.7 0 2.4 0 .1 0 18.8 .1-55.5 0 33.2 0 3.4 .1-47 0 33.1 0 10.4 0 22.6 0 1.8 .1-63.6 0 2.1 0 .7 0 2.7 0 1 0 4.9 0 4.6 0 10 0 .9 0 12.7 0 4.8 0 1.5 0 3.3 0 12.6 .1-56.5 0 8.7 0 2.3 0 6 0 1.5 0 1 0 1.8 0 2.2 0 4.7 0 10.9 0 20.5 0 9.6 .1-87.2 0 30.1 0 2.7 0 5 0 3.1 0 5.7 0 6.4 0 4.3 .1-55.7 0 26.2 0 1 0 6.3 0 5.7 0 3.3 0 11.1 0 2.4 0 12.7 .1-78.1 0 27.2 0 2.3 0 5.3 0 6.7 0 12.2 0 3.1 0 8.2 0 13.8 0 22.7 .1-91.2 0 5.4 0 39.5 0 10 0 1 0 2.8 0 18 0 4.3 .1-60.3 0 16.2 0 .6 0 18 0 3.8 0 26 .1-71.4 0 9.3 0 0 0 3 0 6.2 0 29.4 .1-54.8 0 15 0 .2 0 48.3 .1-51.1 0 4.1 0 13.1 .1-26.6 0 8.5 0 0 0 5.2 0 1.4 0 9.3 0 .1 0 10.4 0 20.4 0 .9 0 2.6 .1-42.4 0 13.2 0 40.2 .1-63.8 0 4.3 0 5 0 7.4 0 6.9 0 4.8 0 35.7 .1-47.3 0 4.5 0 18.3 0 21.1 .1-60.8 0 11.7 0 1.1 0 2.4 0 7.5 0 2.7 0 2.8 0 4.2 .1-35.1 0 9.3 0 3.7 0 1.3 0 4.4 0 1.9 0 1.8 0 4.6 0 3.3 0 2.1 0 2.7 0 20.9 0 16.7 .1-91.3 0 10.5 0 1 0 22.6 0 4.4 0 4.3 0 9.7 0 4.9 .1-40.8 0 11.6 0 1.8 0 .3 0 2.8 0 33.6 0 3.1 0 11.4 .1-102.3 0 16.4 0 10.6 0 13.7 0 6.1 0 10.2 0 8.7 0 5.7 0 2.6 0 15.2 0 1 0 19.3 .1-71.5 0 2.5 0 11.1 0 22.6 0 8.7 0 8.3 0 5.5 .1-76.4 0 9.4 0 3.8 0 25.6 0 2.6 0 .1 0 7.3 0 5.1 0 20.9 .1-51.4 0 2.7 0 22.5 0 4.7 0 3.9 0 15.2 0 8.8 .1-66.5 0 10.7 0 6.7 0 .4 0 3.5 0 1.3 0 12 0 43.7 .1-69.9 0 .8 0 15 0 6.4 0 1.2 0 .4 0 3.6 0 .8 0 1.9 0 1.9 0 5.4 0 17.6 .1-66.8 0 12.7 0 12.6 0 4.1 0 7.1 0 1.4 0 26.1 .1-43.9 0 .5 0 4.5 0 8.1 0 1.1 0 1.6 0 11.7 .1-42.9 0 37.4 0 11 0 6.6 0 .8 0 8.4 0 .9 .1-33.4 0 20.2 0 11 .1-45.3 0 1.1 0 8.2 0 23 0 15.8 .1-62.3 0 13.5 0 2.9 0 5.1 0 1.2 0 2.3 0 12.9 .1-26.4 0 5.2 0 10.5 0 1 0 6.9 0 6.6 .1-25.8 0 12.3 0 23.4 .1-44.9 0 6.8 0 6.1 0 0 0 1 0 8.3 0 .2 0 .5 0 2.6 0 40.2 .1-84.8 0 34.1 0 .8 0 .5 0 3.8 0 3.3 .1-32.2 0 3.7 0 6.5 0 14.2 0 3.7 0 7 0 2.1 .1-45.8 0 8.8 0 7.5 0 7.6 0 2.3 0 1.1 0 9.4 0 26.7 0 2.5 0 11.8 .1-55.1 0 6.8 0 1.2 0 23.1 0 2 0 13.1 0 20 .1-90.3 0 26.8 0 8 0 1 0 12.5 0 37.3 .1-76.4 0 12.3 0 1.4 0 15.4 0 27.3 0 2.3 .1-74.9 0 11.4 0 3.3 0 9.6 0 19.2 0 27.7 .1-46.7 0 8.1 0 9.3 0 1 0 12.2 0 .1 0 .5 0 1.3 .1-49.3 0 17.7 0 8.5 0 7 0 17.4 0 1.2 0 7.6 .1-14.8 0 4.4 0 2.4 0 6.6 .1-52.9 0 15.6 0 45 .1-54.5 0 .6 0 2 0 10.9 0 2.4 0 0 0 4.7 0 3.2 0 16 0 2.8 0 7.5 0 3.6 .1-48 0 13.5 0 7.1 0 0 0 2.4 0 0 0 6.8 0 1.5 0 5.1 0 4 .1-57.5 0 3.8 0 31.3 0 3.9 0 .9 .1-8 0 .1 0 5.7 0 18.5 0 20.5 .1-54.9 0 7.5 .1 15.3 0 3 0 4.1 0 12.5 0 4.1 .1-67.1 0 8.2 0 8.7 0 .3 0 8.4 0 16 0 2.4 0 1.3 0 .5 0 8.4 0 8.4 0 .1 0 7.6 .1-54 0 10.1 0 5.9 0 21.5 .1-35.1 0 5.6 0 3.9 0 5.8 0 1.3 0 5.6 0 10.1 0 1.3 0 1.3 0 4.3 .1-72.3 0 12.2 0 35.7 0 7.5 0 1.1 0 10.5 0 14.7 .1-50.7 0 .6 0 2.2 0 6.1 0 7.1 0 .3 0 5.1 0 1.5 0 9.8 0 13.1 .1-44.9 0 2.1 0 1.7 0 0 0 2.7 0 1.2 0 3.2 0 22.4 0 5 .1-66.5 0 31.1 0 9.5 0 12.5 0 5.6 0 16.7 .1-53.7 0 9.7 0 7.9 0 .1 0 .5 0 10.1 0 1 0 5.1 0 .5 0 3.1 0 7.8 .1-50.8 0 .7 0 22.6 0 1.3 0 0 0 22 .1-32.1 0 10.7 0 2.6 0 4.7 0 6.4 0 1.8 0 15.5 0 8.2 .1-63.9 0 4.8 0 10.9 0 3.6 0 .1 .1-21.7 0 12 0 31.1 0 1 0 3 0 2.3 0 11.1 .1-51.4 0 6.8 0 4 0 7.7 0 2.1 0 12.6 0 2.7 0 1.3 0 7.7 .1-38.6 0 13.5 0 7.3 0 10.5 0 10.2 0 2.4 .1-38.1 0 7.7 0 12 0 9.8 0 .8 0 6.4 0 13.4 0 1.7 .1-65 0 12.3 0 4 0 13 0 3.7 0 1.8 0 6.1 0 5.5 .1-40.1 0 .8 0 5.8 0 25.8 0 3.9 0 .4 0 18.2 .1-64.5 0 19 0 1.6 0 9.8 0 12.8 0 .4 0 10.3 .1-56.4 0 4.9 0 5.1 0 4.4 0 .3 0 22.7 0 3.2 0 8.7 0 28.4 .1-82 0 12.1 0 12.6 0 2.7 .1-9.7 0 2.5 0 .3 0 1.7 0 1.5 0 2.2 0 1.2 0 14 0 14.6 0 8 0 35.3 .1-61.7 .1-22.3 0 13.2 0 7.3 0 4.1 0 8.7 .1-36.3 0 5 0 4 0 1 0 2.1 0 34.1 0 3.4 0 1.8 .1-87.8 0 24.3 0 18.8 0 6 0 1.2 0 5.2 0 2.7 0 40.7 .1-81.6 0 16.2 0 2.2 0 1.8 0 43 .1-54 0 9.1 0 3.8 0 13.1 0 .2 0 11.1 0 1.4 0 9.7 0 13 .1-56.8 0 46.2 0 6.8 .1-47.2 0 4.5 0 1.3 0 16.5 0 1.4 0 16.9 0 7.3 0 .4 0 1.4 .1-47.5 0 5.4 0 0 0 5.9 0 1 0 6.7 0 .6 0 7.4 0 4.6 .1-55.4 0 3.2 0 20.7 0 12.7 0 9 0 5.6 0 4.9 .1-23.2 0 4.9 0 6.2 0 4.9 0 4 0 8.9 0 9 .1-33.6 0 1.6 0 1.9 0 .2 0 8 0 8.9 0 24.2 0 10.6 .1-52.8 0 1 0 13.4 .1-48.6 0 18.9 0 3.3 0 28.8 0 29.2 .1-81.8 0 8 0 3.4 0 1.4 0 .5 0 8.3 0 15.4 0 3.1 0 1.3 0 .6 0 4.5 .1-39.5 0 16.3 0 8.5 0 2.1 0 1.1 0 19.2 .1-31.7 0 7.3 0 2.7 0 28.2 0 .9 .1-42.2 0 3.7 0 14.1 0 3.7 0 11.8 0 17.3 .1-43.3 0 3.3 0 18.7 0 5.2 0 17.9 0 4.6 .1-67.7 0 10.4 0 4 0 9.3 0 4.6 0 39.6 .1-62.3 0 8.1 0 1.9 0 3.5 0 17.1 0 11.8 0 2.3 0 .6 0 8.3 .1-62.2 0 30.1 .1-20.4 0 3.2 0 .8 0 23.2 0 20.8 0 2.4 0 17.3 .1-57.6 0 20.9 0 21.9 0 .3 .1-37 0 .5 0 .4 0 4 0 35.6 .1-74.7 0 1.1 0 7.1 0 9.1 0 2 0 11.2 0 1.5 0 9.3 0 5.5 0 24.9 .1-60.5 0 2.6 0 7.2 0 5.5 0 2.3 0 17.7 0 2.5 0 8.9 0 1 0 2.5 0 7.5 0 11 .1-53.2 0 3.3 0 6.2 0 8 0 30.1 .1-66.2 0 10.3 0 1.2 0 5.1 0 .2 0 10.9 0 .1 0 7.5 0 1.5 0 .7 0 11.5 0 .5 0 2.3 0 .5 0 8.5 .1-39.3 0 3 0 1.2 0 3.3 0 3.1 0 1 0 6.6 0 12.3 .1-52.2 0 26.2 0 5.7 0 11.8 0 9 0 12.8 .1-22.9 0 6.7 0 .6 0 11 .1-73.1 0 10.7 0 13.7 0 2.9 0 10.2 0 9.8 0 9.2 0 2.8 0 3.8 .1-44.7 0 3.1 0 8.6 0 2 0 1.6 0 .5 0 11.8 0 2.3 0 1.8 0 7 .1-6.3 0 8.6 0 11.8 0 19.3 .1-71.9 0 19.4 0 .1 0 .5 0 9.4 0 3.8 0 8.1 0 .8 0 12.3 .1-63.4 0 2.5 0 16 0 2.6 0 11.7 0 2.3 0 19.7 0 5 .1-60.7 0 5.1 0 26.7 0 3.8 0 1.1 0 3.3 0 23.2 .1-58.8 0 6.1 0 9 0 2.6 0 1 0 4.9 0 1.5 0 19.7 0 5.1 0 37.9 .1-75.5 0 6.8 0 3 0 20.6 0 15.9 .1-57.5 0 7.9 0 2.3 0 8.1 0 1.7 0 12.4 0 2.1 0 7.7 0 14.4 0 1.7 .1-42.4 0 15.6 0 8.1 0 11.8 0 12.1 .1-90 0 19 0 17.4 0 5.2 0 .6 0 .3 0 14.6 0 2 0 1 0 20.5 0 10.7 0 11.2 .1-82 0 14.4 0 19.3 0 6.2 0 40.3 .1-56 0 3.1 0 23.1 0 12.4 0 23.6 .1-81.7 0 1.2 0 19 0 4 0 .8 0 18.2 0 1 0 5.6 0 1 0 7.8 0 1.5 .1-70.2 0 14.2 0 6.8 0 4 0 7.3 0 3.5 0 7.8 0 11.2 0 2.5 0 4.1 .1-46.2 0 5.3 0 18.9 0 21.3 .1-40.4 0 27.4 0 2.8 0 3.2 0 27.6 0 1.6 .1-49.2 0 .6 0 2 0 5.3 0 20.6 0 3.8 0 12.4 .1-79.6 0 9.2 0 26.7 0 .9 0 17.2 0 1.7 0 1.7 0 11.7 .1-50.2 0 10 0 3.2 0 5.7 0 3.1 0 35.5 .1-79.3 0 40.1 0 30.6 0 3.4 .1-67 0 3.8 0 24.7 0 10.3 0 4.6 0 13.1 0 8 .1-63.2 0 13.1 0 2.7 0 4.2 0 20.3 0 .6 0 17.4 0 12.7 0 20.3 .1-95.9 0 10 0 13.6 0 18.1 0 2.3 0 4.3 0 7 .1-41.5 0 .7 0 23.6 0 7.5 0 19.8 .1-61.2 0 8.4 0 2.5 0 4.9 0 5 0 4.7 0 2.5 0 5.4 0 14.6 0 16.7 .1-63.8 0 6.4 0 9.9 0 24.5 0 4 0 5.7 0 23.1 0 1.7 .1-74.2 0 13.8 0 4.1 0 10.2 0 13.1 0 2.6 0 5.2 0 2.1 .1-12.6 0 8.2 .1-33.7 0 7.2 0 14.6 0 .6 0 1.8 .1-30.7 0 7.2 0 7.5 0 .9 0 9 0 9.3 0 1.9 0 19.2 0 5.6 .1-60.8 0 27.8 0 4.5 0 2.3 0 23.4 0 5.6 .1-50.7 0 11.5 0 3.9 0 5.9 0 3 0 3.4 0 1.6 0 .7 0 .1 0 2.3 0 3.6 0 3.5 .1-46.7 0 27.3 0 2.5 0 21.7 0 2.7 0 29.1 .1-89.4 0 3.1 0 10.1 0 12.4 0 5.4 0 7.3 0 8.9 .1-53.2 0 15.2 0 7.3 0 4.7 0 24.2 0 2.2 0 11.5 0 22.6 .1-82.8 0 6.4 0 11.2 0 2.8 0 1.8 0 3 0 5.9 0 6.3 0 2.9 0 5.9 0 4 .1-51.1 0 11.3 0 3.6 0 8.8 0 5.3 0 4 0 2.3 0 7.4 0 1.6 .1-30.9 0 2.7 0 4.9 0 14.7 0 .9 0 10.3 0 22.3 .1-68.7 0 11.8 0 .9 0 16.7 0 .6 0 9.7 0 18.4 0 7.1 .1-71.1 0 5.1 0 11.1 0 4.1 0 2 0 .4 0 27.7 0 5.2 0 7.1 0 15.8 .1-78.5 0 25.5 0 26.9 0 12.1 0 12.2 .1-85.2 0 14.5 0 15.8 0 5.7 0 3.9 0 13 0 24.7 .1-41.6 0 .6 0 1.4 0 1.3 0 19.6 0 8 .1-57.5 0 10.9 0 3.6 0 17.4 0 .5 0 5.8 0 1.7 0 4 .1-8.1 0 .4 0 2.1 0 2.5 0 4.2 0 3.3 .1-25.8 0 1.5 0 17.3 0 3.3 0 2.1 0 8.5 0 15.4 .1-51.6 0 1.8 0 8.8 0 11.6 0 6.6 0 6.7 .1-60.1 0 6.5 0 10.1 0 12 0 13.8 0 4.9 0 1.8 0 4 .1-33.4 0 .1 0 .5 0 29 0 33.1 .1-55.4 0 17.5 0 25.7 .1-63.4 0 6.2 0 5.3 0 8.6 0 .8 0 3.9 0 1.5 0 12.9 0 6.3 0 17.9 .1-56.2 0 1.5 0 3.9 0 3.4 0 3.4 0 10.8 0 0 0 .6 0 3.7 0 9.2 0 7.5 0 22.7 .1-80.1 0 28.5 0 7.7 0 2.4 0 2.9 0 4.3 0 .2 0 0 0 14.2 0 10 0 3.7 .1-57.4 0 .3 0 .3 0 64.8 .1-51.2 0 .8 0 17.9 0 12.7 .1-42.3 0 1.5 0 .1 0 5.7 0 6 0 22.7 0 5.1 0 2.3 .1-23 0 .5 0 3.4 0 2.5 .1-36.3 0 5.6 0 14.1 0 15.4 0 11.9 .1-40.3 0 3.9 0 1.1 0 17.5 0 5.2 0 .6 0 1.8 0 7.1 0 8.4 .1-53.5 0 3 0 13.1 0 4 0 4.2 0 3.8 0 1.8 0 0 0 15.2 0 9 0 5.5 0 5.2 0 .3 .1-51.8 0 2 0 1.7 0 16.9 0 .4 0 6.7 0 2.9 0 19.2 0 1 .1-64.7 0 11.6 0 7.6 0 4 0 1.3 0 8.2 0 2.4 0 28 .1-65.2 0 7.2 0 12 0 17 0 1.7 0 4.3 0 22.8 .1-44.9 0 6.5 0 8.4 0 4.4 0 17.7 0 10.8 0 4.1 .1-63.3 0 11.3 0 1.7 0 15.3 .1-12.5 0 26 0 11.3 0 1.4 0 6.3 0 2.3 0 6.7 0 3.9 .1-80.4 0 1.8 0 10.4 0 .4 0 1.9 0 11.8 0 11.2 0 2.4 0 10.3 0 31.9 .1-62.5 0 7.7 0 .8 0 5.5 0 17.6 0 3.8 0 32.9 .1-89.8 0 22.1 0 .4 0 7.7 0 5.8 0 2.7 0 1.5 0 12.6 .1-62.1 0 18.3 0 19.9 0 7 0 2.9 0 5.1 0 16.6 .1-51.7 0 16.8 0 1.2 0 0 0 .8 0 5.4 0 1.8 0 .6 0 5.6 0 10.5 0 8.1 .1-58.8 0 3.9 0 2.6 0 17.8 0 .5 0 4.7 0 22.1 0 7.3 0 19.4 .1-76.4 0 11.9 0 11.2 0 4.7 0 4.4 0 7.8 0 .4 0 24.1 .1-56.4 0 5 0 7.6 0 4.8 0 .2 0 32.1 0 9.7 .1-75.3 0 14 0 6.2 0 .5 0 4.4 0 7.8 0 3.4 0 6.6 0 .7 0 5.1 0 10.6 0 13.6 0 1.8 .1-67.1 0 6.1 0 .3 0 13.9 0 1 0 9.8 0 3.6 0 10.9 .1-20.9 0 14 0 23.9 .1-52 0 4.1 0 6 0 10.6 0 16.3 0 2.1 0 29.9 .1-82.6 0 8.5 0 4.3 0 8.7 0 4.5 0 2.9 0 35.2 .1-58.7 0 3.4 0 16.3 0 12.1 0 8.2 0 15 .1-53.3 0 2.3 0 6.3 0 6 0 4.5 0 .6 0 1.9 0 .1 0 14.5 0 2.5 0 6.7 .1-55.3 0 17.5 0 4.3 0 10 0 1.5 0 3.3 0 3.6 0 26.5 0 8.2 .1-70.5 0 7.9 0 4.9 0 2.1 0 16.4 0 2.2 0 1.1 0 .9 0 .4 0 .7 0 1.2 0 24.7 .1-62.7 0 13.5 0 3.7 0 3.7 0 6.7 0 10.9 0 8.2 0 .9 0 .3 .1-39 0 3.2 0 1.2 0 14.1 0 3.6 0 24.8 .1-56.8 0 9.1 0 1.9 0 10.7 0 8 0 12.2 0 2.7 0 12.4 .1-45 0 1.6 0 13.8 0 9.4 0 4 0 1.1 0 1.9 0 .4 .1-40.6 0 4.1 0 6.1 0 2.9 0 6.1 0 1.9 0 9.6 0 6.6 0 1.8 .1-50.2 0 24.3 0 3.7 0 12.6 0 16.1 0 2.8 0 23.7 .1-74.9 0 6.8 0 4.1 0 32.6 .1-41.7 0 26.3 0 5.4 0 17.9 0 6.1 0 26.1 .1-82.9 0 5.8 0 2 0 17.1 0 17.9 0 2.6 0 17 0 4.2 .1-55.6 0 1 0 .1 0 7 0 11.8 .1-23.3 0 3.7 0 4.9 0 5.4 0 3.1 0 .5 0 .4 0 4.5 0 15.9 0 .8 0 10.8 0 2.6 .1-51 0 15.6 0 6.4 0 34 .1-51.2 0 3 0 3.4 0 8.2 0 9.9 0 1.2 0 1.3 0 1.6 0 17.5 .1-71.5 0 7.5 0 8.4 0 9.9 0 7.6 0 3 0 1 0 5.2 0 19.5 .1-40.9 0 26.9 0 8.1 .1-18.9 0 11.1 0 9.5 0 9.5 0 .1 0 4.2 0 10.2 .1-72.4 0 1.7 0 10.8 0 3.8 0 8.8 0 2.8 0 .8 0 14.1 0 12.5 0 2.4 0 2.8 0 6.4 .1-69.3 0 11.3 0 6.9 0 .1 0 30.2 0 6.2 0 7 0 9.2 .1-44.2 0 .5 0 2.3 0 6.1 0 5.3 0 2.3 0 5.1 0 13.5 .1-66.8 0 15.4 0 8.6 0 15.7 0 3.8 0 4.3 0 3.3 .1-37.5 0 6.7 0 6.6 0 1.5 0 15 0 6.1 0 2.6 0 18 0 4.9 0 22.2 .1-51.7 0 5.9 0 1.6 0 6.4 0 3.3 .1-64.1 0 23 0 22.4 0 0 0 3 0 .7 0 .6 0 14.9 0 3.3 .1-55.8 0 4.5 0 2.5 0 4.8 0 7.2 0 2.9 0 1.4 0 1.6 0 16.6 0 7 0 2.7 .1-43.5 0 1.2 0 3.6 0 4.5 0 18.4 0 12.8 .1-67 0 23.3 0 7.5 0 23.7 .1-21 0 6.4 0 4.8 0 3 0 16.4 0 5 0 8.8 .1-71.5 0 .2 0 10 0 16.2 0 .9 0 6 0 2.8 0 5.5 0 16.7 .1-54.8 0 21 0 6.8 0 6.3 0 .9 0 5.5 0 13.5 0 6.7 0 1 0 .7 .1-42.7 0 1.4 0 3.2 0 7.9 0 19.8 0 3.7 0 4 .1-38.3 0 2.4 0 6.2 0 12.4 0 7 0 4.4 0 11 .1-48.8 0 4.1 0 .4 0 1.6 0 1.2 0 2.2 0 11.5 0 8 0 8.4 .1-59.1 0 8.3 0 29.3 0 11.7 0 5.2 0 4 0 9.8 .1-53.5 0 5.5 0 10.8 0 5.2 0 8.1 0 14.1 0 9.3 0 .3 .1-37.4 0 5.5 0 1.6 0 12.6 0 5.4 0 6.8 0 4.2 .1-40.9 0 16.4 0 5.3 0 11.5 .1-63.3 0 44.8 0 1.7 0 27.7 0 4.7 .1-49.2 0 16.7 0 9.3 0 11.6 0 3.3 0 1.2 0 6.7 0 10.2 .1-79.5 0 9.2 0 16.6 0 5.3 0 1.9 0 2.1 0 .4 0 2 0 3.9 0 .3 0 27.6 .1-42.7 0 8.1 0 .6 0 5.3 0 1.8 0 .4 0 .2 0 13.6 0 7.4 .1-52.5 0 1.5 0 14.5 0 13.8 0 7.3 .1-67.1 0 44.2 0 9.5 0 6.7 0 9.2 0 7.5 0 12.5 .1-43.8 0 2.8 0 2.2 0 2.4 0 1.6 0 18.5 0 7.7 0 20.3 .1-62.6 0 2.8 0 5.5 0 3.2 0 1.8 0 2.2 0 15.8 .1-40.6 0 19.9 0 6.6 0 7.8 0 3.1 0 7.5 0 11.5 .1-45.6 0 7 0 19.8 0 5 0 13.6 0 .3 .1-56.5 0 8.5 0 5.1 0 1.6 0 10 0 5 0 3.4 0 2.8 0 19.8 0 6 .1-75.4 0 22.7 0 2.2 0 1.8 0 4.8 0 8 0 5.6 0 .1 0 13.6 0 1.3 .1-39.1 0 2.2 0 4.9 0 13 0 2.7 0 3.3 0 24.2 0 3.8 .1-55.5 0 28 0 5.6 0 14.1 0 1.3 0 3.2 0 5.8 .1-59.2 0 4.9 0 2.3 0 4.3 0 20.1 0 10.1 0 12.4 0 10.9 .1-74.9 0 7.2 0 .7 0 .4 0 13.7 0 6.2 0 6 0 25.7 0 5.3 .1-71 0 .2 0 18.3 0 52.6 .1-55.7 0 7.5 0 .3 0 8.8 0 4.4 0 22.5 .1-53.8 0 5 0 6.4 0 5.6 0 15.3 0 11.1 0 1 0 7 0 1.5 0 8.1 .1-40.5 0 2 0 13.3 0 17.2 0 14.8 .1-60.2 0 6.5 0 .6 0 7.6 0 3.7 0 12.3 0 .7 0 12.1 0 13.5 .1-40.1 0 1.2 0 1.2 0 11.8 0 .9 0 11.4 0 3.4 0 1.6 0 12.4 .1-47.6 0 5.2 0 2.6 0 .6 0 3.9 0 3.6 0 1.1 .1-38.2 0 10.2 0 1.2 0 .1 0 .1 0 17.4 0 3.1 0 10.2 0 1.4 0 10.8 .1-50.5 0 13.9 0 19 0 19.5 0 1.6 0 4 0 2.8 .1-48.6 0 1.2 0 13.9 0 5 0 1.9 0 1.1 .1-38 0 10.3 0 4.5 0 9.5 0 5.1 0 1.6 0 4.4 0 1.3 0 .6 0 .5 .1-53.4 0 17.8 0 4.3 0 20.4 0 10.8 0 15.1 0 10.7 .1-65.5 0 7.2 0 6.1 0 4.4 0 5 0 .8 0 16.5 0 5.2 0 26.6 .1-61.2 0 2.9 0 12.7 0 2.9 0 6.5 0 11.6 0 1.7 0 9.7 .1-62.6 0 11 0 2.7 0 12.4 0 1.6 0 .3 0 .6 0 3.2 0 4.6 0 10.7 0 2.8 0 .6 0 18.4 .1-64.6 0 12.1 0 4.4 0 1.6 0 3.2 0 15.5 0 7.5 .1-34.6 0 19.8 0 4.1 0 28 .1-70.4 0 18.2 0 6 0 18.9 0 11.4" marker-start="url(#m2)" marker-mid="url(#m2)" marker-end="url(#m2)"/>
<path d="M282.6 100.7l0 .3 0 3 0 3.1 0 27 0 8.4 .1-84.8 0 6.3 0 15.2 0 9.3 0 5.4 0 .7 0 5.9 0 3.1 0 1.1 0 4.1 0 1 0 22.1 0 18.3 .1-88.7 0 12.7 0 14.2 0 6.1 0 .4 0 6.3 0 8 0 11 .1-45.6 0 3.7 0 3.1 0 17 0 2.6 0 16.1 .1-48.9 0 7 0 1.8 0 21.1 0 .1 0 35.8 0 19.1 .1-72.4 0 9.4 0 7.4 0 2 0 1.7 0 25.1 0 .9 0 11.3 .1-49.3 0 6.2 0 13.1 0 6.8 0 .6 0 17 .1-65.7 0 10.3 0 20.3 0 4.9 0 20.3 .1-52.5 0 .2 0 1.2 0 .5 0 23.1 0 2.9 0 10.2 0 2.6 .1-42.2 0 0 0 23.9 0 3.7 0 6.2 0 24.9 .1-29.7 0 4.5 0 24.3 .1-41 0 3 0 .5 0 3.5 0 .7 0 .5 0 7.4 0 12.9 .1-53.7 0 2.7 .1 10.7 0 10.7 0 .7 0 10.9 .1-4.3 0 9.3 0 7.2 0 2.4 0 24.6 .1-68 0 4.1 0 5.3 0 .5 0 12.1 0 4.5 0 19 0 19.5 .1-52.1 0 .6 0 .1 0 14.5 0 8.5 0 .3 0 6.6 0 12.4 0 14.2 .1-50.7 0 1 0 14.2 0 4.7 .1-27.3 0 6.6 0 4.2 0 10.3 0 1.7 0 14.7 0 .2 0 1.6 .1-58.8 0 1 0 3.7 0 31.1 0 9.6 0 2 0 16.1 .1-42 0 7.4 0 2.9 0 3.8 0 26.1 0 4.4 .1-44.7 0 6.3 0 8 0 15.7 0 2.2 0 .5 0 32.8 .1-82.2 0 10.3 0 7.7 0 2 0 3.2 0 5.8 0 14.2 .1-35.9 0 4.6 0 4.7 0 13.9 0 3.1 0 8.3 0 5.1 0 7.9 .1-48.6 0 1.6 0 15.3 0 26.8 .1-50.1 0 8.6 0 3.7 0 8.8 0 14.1 0 .5 0 16.3 .1-62.1 0 19.8 0 2.1 0 16.5 0 3.1 0 1.8 0 3.4 .1-42.8 0 12.7 0 .3 0 13.7 0 33.2 0 1.7 .1-68.5 0 34.3 0 14.4 0 5.3 0 1.8 0 27.7 .1-67.7 0 15.9 0 3.1 0 6.5 0 .5 0 6.4 0 7.5 0 14.3 .1-77.6 0 25.5 .1-18.9 0 10.3 0 5.2 0 9.6 0 1.2 0 14.6 0 3 0 1.7 0 21.1 0 12.2 0 1.4 0 13.7 .1-76.2 0 5.4 0 15.5 0 11.5 0 1.9 0 6.4 0 1.9 0 1.2 0 6.7 .1-48.8 0 3.3 0 2.7 0 4.1 0 4.7 0 12.5 0 .5 0 3 0 7.5 0 24.1 .1-73.1 0 6.3 0 3.4 0 1.3 0 5 0 8.2 0 9.7 0 6.1 0 1.1 0 19.1 .1-55.9 0 23.1 0 8.5 0 10.1 .1-11.3 0 4.6 0 1.5 0 6.1 0 4.3 0 12.5 .1-62.1 0 0 0 28.2 0 6 0 6.5 0 1.1 0 4.2 0 7.2 0 10.3 .1-47.5 0 .7 0 17.4 0 4.1 .1-35.4 0 13.7 0 .5 0 4.1 0 2.1 0 3.3 0 4.6 0 7.9 0 .5 0 .4 .1-53.9 0 9.1 0 11.4 0 3.1 0 .6 0 4.1 0 6.3 0 3.2 0 .7 0 6.8 0 6.3 0 1.9 0 2.3 0 1.5 0 11.2 0 5.6 .1-85.6 0 36.8 0 4.1 0 .2 0 56.3 .1-60.9 0 27.9 0 3.7 0 14.7 0 16.6 .1-70.7 0 29.6 0 3.5 0 3.8 0 .9 0 15 0 14.8 .1-87 0 38 .1-12.7 0 11 0 23.7 0 1.1 0 4.4 0 17.5 .1-58.9 0 22.1 0 .7 0 18.1 0 9.5 0 3.5 0 9.3 .1-69.1 0 4.8 0 12.1 0 8.7 0 7.2 0 2.8 0 29.5 .1-63.5 0 1.4 0 11.2 0 28.6 0 7.1 0 8 .1-56.2 0 20.4 0 1.4 0 37.9 .1-60.7 0 3.3 0 4.4 0 28.8 .1-5.4 0 2.9 0 14.3 0 6.1 .1-52 0 10.7 0 .9 0 3.1 0 2.5 0 20.2 0 1.6 0 4.7 0 9.9 .1-59.3 0 1.3 0 3.7 0 1.4 0 3 0 6.4 0 2.4 0 17.9 0 2.5 0 12.2 0 6.6 0 6.8 0 13.4 .1-66 0 4 0 4.8 0 1.4 0 3.2 0 17.9 0 4.1 .1-25.4 0 5.2 0 0 0 10 0 15 .1-67.2 0 20.5 0 7.9 0 8.2 0 18 0 2.2 0 2.4 0 1.2 0 34.2 .1-58.6 0 23.6 0 6.5 .1-66.6 0 40.5 0 9 0 6.9 0 11.8 0 8.6 0 .4 .1-56 0 12.6 0 13.3 0 4.3 0 1.8 0 1.9 0 3.3 0 4.5 0 68.6 .1-116.1 0 11.4 0 .6 0 3.8 0 8.5 0 4.5 0 .8 0 9.8 0 7.8 0 10.7 .1-34.5 0 2.6 0 1.4 0 8.9 0 23.4 0 13.7 .1-56 0 .9 0 8.5 0 .2 0 8.2 0 1.5 0 .7 .1-33 0 1.6 0 5.5 0 1.6 0 19.9 0 4.5 0 14.7 .1-25 0 11.2 0 6.3 0 1.1 0 32.6 .1-64.1 0 12.5 0 2.5 0 1.2 0 3.1 0 6.3 0 2.3 0 3.1 0 .9 0 21.3 0 .8 .1-68.9 0 13.9 0 24.9 .1-23 0 17.9 0 4.3 0 4 0 2.1 0 1.3 0 .1 0 19 .1-57.3 0 3.4 0 3.4 0 .6 0 6.6 0 10.8 0 4.4 0 2.1 0 21.4 .1-57.9 0 3.5 0 2.2 0 24.6 0 6.2 0 6.9 0 2 .1-26.5 0 4.5 0 2.9 0 6.4 0 3.1 .1-30 0 15.2 0 3.1 0 5.2 0 7.1 0 1.9 0 18.2 0 13.2 .1-54.5 0 15 0 6.2 0 20.5 0 1.1 0 3.3 0 3.8 .1-72.4 0 18.6 0 2.7 0 3.2 0 28.3 0 26 .1-71 0 5 0 19.1 0 4.4 0 8.5 0 13.1 .1-60.2 0 20.4 0 14.1 0 12.6 0 6.3 0 20.7 .1-50.6 0 .5 0 30.4 0 2.4 0 1.5 .1-45 0 8.5 0 8.6 0 10.5 0 .4 0 16.2 0 9.6 0 2.1 .1-41.8 0 .5 0 1.4 0 5.6 0 2.3 0 6.2 0 9.9 0 2.7 0 15.3 .1-40.6 0 13.5 0 1.4 0 .9 0 11.5 0 0 .1-59.3 0 1.6 0 25.3 0 2.6 0 3.8 0 15.2 .1-40.5 0 1.2 0 20.7 0 17.1 0 6.3 0 2.3 0 7.6 0 3.7 0 2.7 0 7.3 .1-60.8 0 11.2 0 13 0 8.9 0 2.4 0 7.4 0 1.9 0 11.8 .1-54.6 0 3.6 0 2.1 0 3.9 0 9.8 0 2.3 0 3.7 0 4.9 0 4.1 0 12.9 0 5.8 0 2.5 .1-51.4 0 30.5 0 44 .1-88.2 0 10 0 6 0 7.6 0 6.6 0 47.3 .1-77.8 0 .2 0 2.8 0 3.1 0 8.2 0 19.5 0 5.6 0 1.9 .1-32.7 0 24.1 0 3.4 0 1.9 0 .3 0 11.2 0 3.1 0 .4 0 8.7 .1-41.5 0 14.4 0 15.4 0 1.9 0 20.2 .1-62.7 0 20 0 1.3 0 20.4 0 4.4 .1-65.3 0 13.7 0 6.9 0 13.6 0 .7 0 10.6 0 17.6 .1-40.8 0 9.9 0 1.5 0 6.6 0 6.3 0 7.3 0 4.3 0 2.9 .1-46.2 0 19.4 0 2.1 0 24.8 0 5.9 0 4.8 0 6.6 .1-38.5 0 9.7 .1-58.6 0 19.7 0 9.2 0 8.5 0 2.4 0 3.3 0 3.5 0 8.1 0 4.5 0 .2 .1-31.1 0 2.5 0 18.6 0 2.9 0 19.4 0 7.4 .1-39.3 0 5.1 0 8.9 0 .8 0 .4 .1-33.3 0 2.6 0 17.7 0 9.7 0 .3 0 .7 0 8.3 0 1.9 0 11.3 .1-78.6 0 27.5 0 20.5 0 5.2 0 1.1 0 6.8 0 3.9 0 5.1 .1-49.3 0 9.2 0 41.3 0 5.7 0 8.1 0 .7 0 3 .1-49.1 0 11.9 0 23.8 .1-51.2 0 36.8 0 11.1 0 6.9 0 15 .1-66.8 0 9.1 0 23.8 0 .7 .1-34.8 0 .9 0 11.6 0 9.5 0 4.9 0 13.3 0 2.1 0 6.6 .1-38.7 0 15.9 0 5.2 0 16.6 0 7.2 0 5.5 0 1.1 .1-59.7 0 23.1 0 30.5 0 .9 0 1.8 0 2.1 .1-53.3 0 .7 0 8.6 0 13.7 0 8.7 0 6.5 0 .1 0 1.1 0 2.4 0 12.2 0 4.7 .1-65.4 0 5.3 0 10.6 0 5.7 0 5.3 0 1.3 0 16.7 0 .4 0 15 .1-51 0 1.1 0 1.1 0 9.8 0 10.5 0 13.9 0 18.6 .1-69.5 0 14.6 0 3.8 0 .9 0 5.2 0 26.9 0 3.6 0 6.4 0 2 0 0 .1-69.7 0 21.5 0 10.3 0 28.4 0 32.8 .1-52.2 0 3 0 3.6 0 29.3 .1-69.5 0 9.7 0 13.9 0 9.5 0 9 0 0 0 2.2 0 1 .1-41.7 0 3.6 0 1 0 3.2 0 .8 0 4.9 0 20 0 3.4 0 1.8 0 6.4 0 11.5 0 1.4 0 5.8 .1-60.4 0 20.9 0 4.7 0 17.3 0 3.3 .1-37.1 0 19.6 0 .8 0 1 0 5 0 1.1 0 12 0 1.3 0 2.3 0 2.2 .1-34.9 0 1.7 0 3.9 0 1.9 0 4.4 0 7.1 0 3.7 0 8.4 .1-31.9 0 6.7 0 6.3 0 12.8 .1-44.4 0 18 0 17.2 0 6.3 0 8.1 .1-60.7 0 29.8 0 3.7 0 .9 0 9.2 0 6.4 0 12.4 .1-43.4 0 8.4 0 21 0 11.5 0 15.5 .1-70.8 0 8.7 0 0 0 15 0 .8 0 5.8 0 2.7 0 .7 0 4.5 0 2.4 0 2.5 0 .3 0 2.7 0 11.6 .1-27.8 0 12.3 0 4.3 0 4.5 0 24.3 0 .9 .1-70.5 0 22.5 0 2.1 0 1.1 0 16.1 0 7.7 .1-33.3 0 8.4 0 20.9 0 5.6 .1-15.7 0 3.8 0 31.8 0 .2 .1-21 0 3.8 0 14.5 0 1.5 0 1 .1-47.6 0 10.2 0 24.7 .1-43.7 0 8.1 0 1.8 0 6.4 0 3.4 0 3.5 0 12.9 0 3.8 0 6.9 0 1.8 0 12.3 .1-62.4 0 5.3 0 21.6 0 .5 0 1 0 3.1 .1-13 0 1.1 0 1.8 0 12.9 0 2.1 0 3.6 .1-39.8 0 3.8 0 13.3 0 15.9 0 .2 0 23.7 .1-49.9 0 22.9 .1-44.4 0 .3 0 13.8 0 2.8 0 2.1 0 .6 0 8.9 0 6.4 .1-39.3 0 14.8 0 .2 0 7 0 9.5 0 7.7 0 2.5 0 12.6 0 13 .1-59.2 0 .3 0 7.1 0 6.8 0 11.7 0 4 0 4.1 0 .6 0 4.4 .1-57.9 0 16.9 0 13.8 0 1.5 0 7.6 0 14.9 0 7.3 0 .4 0 12.3 0 .1 .1-78.5 0 16.7 0 15.8 0 1.9 0 24.1 0 2.1 0 0 0 8.6 .1-35.6 0 9.5 0 1.7 0 11.5 0 2.5 0 8.1 0 .3 0 4.2 0 1.7 0 4.2 0 1.2 0 1.2 .1-58.8 0 6.7 0 15.3 0 6.4 0 1 0 2.3 0 18.8 0 21 .1-70.1 0 19.7 0 .3 0 5.7 0 .8 0 3.4 0 3.3 0 8.6 0 5.1 0 4.3 .1-59.7 0 25 0 9.7 0 5.6 0 14.5 0 4.6 .1-41.7 0 22.7 0 6.9 .1-46.2 0 6.1 0 9.9 0 41 0 2.8 .1-45.9 .1-22.3 0 15.5 0 .3 0 3.5 0 4.1 0 10.8 0 22.7 0 5.9 0 .6 0 24.2 .1-81.5 0 12.9 0 11.5 0 1.7 0 9.9 0 .7 0 6.6 0 8.1 0 1.2 .1-45.5 0 1.3 0 10 0 5 0 2.6 0 9.6 0 25.9 0 .4 .1-49.1 0 8.4 0 8.6 0 1.1 0 .2 0 23.8 0 9.3 0 3.2 .1-63.6 0 1.1 0 26.2 0 23.3 0 1 0 .4 0 21.7 .1-33.6 0 3.6 0 3.2 0 19.8 .1-61.8 0 20.3 0 2.3 0 4.8 0 6.4 0 1.7 0 3.7 0 .9 0 7.7 .1-83.6 0 39.8 0 20.8 0 3.7 0 4.3 0 14.6 0 13.9 .1-61.3 0 14.3 0 1.8 0 .8 0 1.5 0 15.2 0 7.1 0 2.4 .1-27.3 0 8.3 .1-2.1 0 5 0 12.6 0 8.1 .1-51.1 0 4.2 0 5.2 0 3.8 0 .6 0 13 0 5 0 2.2 0 6.6 .1-11.6 0 28.5 0 .3 0 14.3 .1-76.2 0 6.7 0 6.2 0 12.2 0 1.8 0 9.5 0 5.4 0 38.1 0 1.9 .1-88.7 0 16.6 0 9 0 5.1 0 8 0 6.7 0 28.3 0 13.3 0 3 .1-64.9 0 16 0 2.2 0 4.1 0 1.7 0 6.5 0 8.3 .1-34.2 0 2.3 0 1.8 0 9.4 0 7.9 0 3.8 0 4.2 0 7.2 .1-69.2 0 34.8 0 7.5 0 1.4 0 7 0 18.7 0 16.1 .1-74.2 0 5.3 0 1.4 0 9.8 0 6.6 0 1.5 0 15.1 0 .3 0 5.1 0 1.7 0 2.1 0 25.4 .1-67.4 0 2.4 0 24.4 .1-22.5 0 17.5 0 15.6 0 7.9 0 3.3 0 2.5 0 3.6 .1-50.9 0 15.3 0 6.3 0 11.2 0 2.6 .1-59.8 0 9.9 0 24.1 0 26.2 0 17.4 .1-62.2 0 9.8 0 3.7 0 .5 0 12.1 0 10.8 0 13.8 0 2.8 0 16.3 .1-70.9 0 12.4 0 5.7 0 10.8 0 16.1 0 3 .1-43.8 0 16.3 0 4.9 0 8.2 0 5.4 0 1.6 0 1.8 0 9.1 0 3.9 0 15.6 .1-55.6 0 9.5 0 12.2 0 .9 0 1.5 0 .3 0 4.1 0 5.4 0 5.6 .1-35 0 13.5 0 .8 0 3.7 0 3.8 0 2 0 .3 0 .4 0 7.6 .1-54.9 0 6.6 0 .6 0 1.9 0 2.1 0 6.7 0 1.7 0 5.1 0 10.1 0 3.7 0 15.2 0 1.4 .1-63.9 0 6.5 0 7.1 0 5.7 0 7.6 0 6.3 0 3.5 0 3 0 .4 0 1.4 0 1.2 0 3.4 0 2.1 0 1.2 0 1.4 .1-37 0 4.2 0 19.4 0 5.3 0 10.6 0 1.4 0 5.4 0 11.9 0 15.8 .1-47.5 0 4.5 0 5.5 0 39 .1-75.9 0 30.2 0 2 0 5.9 0 5.5 0 3.4 0 2.9 .1-44 0 37.3 0 2.1 0 13.7 .1-61.6 0 25.1 0 6.5 0 2.6 0 11.9 0 3 .1-21.1 0 .8 0 3 0 3.9 0 1.1 0 .2 0 5.8 0 2.4 .1-19 0 4.6 0 .5 0 2.4 .1-29.2 0 .1 0 2.5 0 24.6 0 12.8 0 8.9 .1-38.8 0 16.9 0 5.5 0 3.7 0 2.6 0 6.2 0 2.9 0 25.6 .1-76.4 0 2.9 0 14.1 0 16 0 7.1 0 .9 0 4.9 .1-40.2 0 6.9 0 4.3 0 7 0 3.1 0 3.2 0 18.6 0 5 0 11.9 0 .4 .1-58.9 0 35.3 0 7.6 .1-33.2 0 1.6 0 10.5 .1-23.7 0 2.2 0 10.6 0 8 0 13.4 0 11.6 0 4.1 0 35.9 .1-64.7 0 13.5 0 4.1 0 5 0 17.8 .1-58.4 0 45.6 .1-43.1 0 9.6 0 7.3 0 1.2 0 16.7 0 40.1 .1-111.4 0 19.8 0 17.6 0 14.7 0 21.3 0 7.9 .1-50.2 0 20.3 0 6 0 4.8 0 6.2 0 .4 0 29.4 .1-44.1 0 23.5 0 1.6 0 8.2 0 1.9 0 .3 .1-57.8 0 1.9 0 4.8 0 1.6 0 18.9 0 8.2 0 1.1 .1-55.8 0 19.3 0 15 0 27 0 12 0 8.9 .1-55.6 0 1.1 0 34.5 0 2.6 0 25.2 .1-71.7 .1 19.2 0 4.6 0 2.4 0 22.4 0 14.5 .1-41 0 13 0 5.4 0 2.8 .1-41.4 0 4.8 0 26.9 0 2.3 0 3.8 0 4.6 0 16.1 .1-55.1 0 .5 0 7.7 0 5.9 0 2.2 0 7.6 0 17.1 0 21.8 .1-55.8 0 4.2 0 2.3 0 4.4 0 1.2 0 1 0 0 0 8 0 .4 0 9.9 0 7.4 0 14 .1-63.4 0 1 0 12.4 0 14.7 0 .9 0 14.3 0 11.2 .1-63 0 11.3 0 26.2 0 18.1 0 16.5 .1-55.2 0 22.2 0 .5 0 6.1 .1-32.7 0 28.7 0 0 0 10.3 0 10.5 .1-47.4 0 14.3 0 29.2 .1-59.2 0 11.5 0 4.5 0 9.2 0 14.4 0 8.9 .1-42.5 0 16.2 0 8.8 0 2.2 0 1.4 0 6.8 0 12.1 .1-35.9 0 25.5 0 2.1 0 3.9 .1-46.2 0 15.2 0 1.3 0 20.3 0 2.4 0 2.9 0 5.7 0 4.2 .1-33.5 0 19.9 0 4.6 0 22.8 0 7.5 .1-63.2 0 4.1 0 .2 0 2.3 0 9.3 0 1 0 3.9 0 29.9 0 1.4 0 2.1 .1-48.9 0 26.5 0 3.8 0 16.1 0 9.6 .1-76.9 0 13 0 13.5 0 5 0 14.7 0 3.4 0 11.7 0 22.2 .1-64.1 0 23.4 0 7 0 1.9 0 1.6 0 6.7 .1-63.2 0 12.4 0 5.7 0 2.2 0 2.6 0 8.3 0 .5 0 3.9 0 26.3 0 4.4 .1-57.2 0 4 0 23.4 0 23.9 0 17.7 0 6.6 .1-68 0 22.4 0 15.4 0 1.9 0 2.2 .1-34.2 0 8.3 0 8.5 0 6.4 0 9.2 .1-42.3 0 .5 0 21.1 0 .1 0 6.8 0 3.6 .1-38.1 0 17.3 0 17.9 0 9.8 0 33.9 .1-67.5 0 10.8 0 3.8 0 9.2 0 7.1 0 17.4 0 23.3 .1-72.9 0 33.4 0 23.1 .1-69.1 0 7.8 0 12 0 2.4 0 2.1 0 8.2 0 3.2 0 12.1 0 2.7 0 1.1 0 10.9 .1-59.2 0 12.6 0 10.7 0 7 0 8.8 0 28.8 .1-68.5 0 11.9 0 15.8 0 11.8 0 6.3 0 22.3 .1-39.5 0 5.2 0 5.6 .1-39.7 0 3.7 0 6.7 0 4.1 0 1.9 0 1.7 0 1.7 0 1.9 0 16.5 0 6.4 .1-32.4 0 1.1 0 14.5 0 5 0 3.8 0 9.1 0 1.8 0 1.4 0 9 0 7.7 0 11.5 .1-84.4 0 28.8 0 10.5 0 1.9 0 1 0 4.5 0 8.7 .1-45.8 0 48.1 0 2 0 7.6 0 .6 .1-40.3 0 2.7 0 3.6 0 18.6 0 .8 0 13.5 0 17.1 .1-78.4 0 .2 0 6.3 0 13.1 0 .5 0 6.6 0 1.2 0 2.6 0 1.7 0 3.8 0 23.1 0 1.9 0 .3 0 3.9 .1-67.1 0 1.6 0 11.8 0 1.2 0 13.6 0 4.5 0 7.7 0 .9 0 .9 0 5.9 0 15 .1-53.5 0 2.5 0 20 0 11.5 0 2.9 0 6.2 0 28.8 .1-94.4 0 24.6 0 14 0 11.4 0 3.3 0 20.6 .1-44.4 0 17.8 0 25.1 0 7.9 .1-51.3 0 17 0 .5 0 2 0 1.2 0 2.2 0 1 0 4.3 0 22.8 0 1.1 0 1.5 .1-59.9 0 23.2 0 .9 0 1.8 0 1.8 0 .9 0 8.3 0 4.3 0 3.3 0 6.5 .1-62 0 8.9 0 4.5 0 3.8 0 15.2 0 1.2 0 16.6 0 5.5 0 4.7 .1-54.3 0 16.8 0 22.4 0 8.1 .1-63.4 0 26.2 0 1.5 0 17 0 15.4 0 12 0 6.9 .1-69.6 0 4.3 0 18.7 0 6.4 0 8.4 0 7.6 0 .4 0 6.9 0 5.5 0 16.9 0 4.9 .1-72.8 0 1.3 0 4.8 0 26.5 0 4.8 0 .4 0 2 0 2.9 0 11.3 0 8.6 .1-49.5 0 15 0 .2 0 2.9 0 8.8 0 6.5 0 .3 0 14.5 .1-40.1 0 9.7 0 2.4 0 .9 0 2.9 0 18.8 0 13.4 .1-55.8 0 6.9 0 16.6 0 1.6 0 1.9 0 4.1 0 22.1 0 2.3 0 4.3 .1-52.9 0 29.8 .1-31.5 0 1.7 0 7.1 0 1.4 0 4.4 0 .6 0 21.3 0 11.8 .1-49.2 0 26.4 0 29.9 0 .7 .1-73.8 0 15.6 0 30.2 0 14.1 .1-43.6 0 22.3 0 .3 0 6.6 0 3.2 .1-55.6 0 40.7 0 6 0 2.7 0 3.2 0 5.4 .1-75.9 0 28.1 0 4.3 0 .3 0 13.2 0 .6 0 7.8 0 .5 0 8 0 8.9 0 1.1 0 3.9 0 1.2 0 5.2 .1-67.6 0 26.3 0 3.8 0 4.5 0 .7 0 14.7 0 9.4 .1-31.7 .1-16.5 0 20.2 0 17.2 0 32 0 5.8 .1-74.1 0 1.9 0 13.6 0 10.8 0 17.5 0 5.7 .1-31.6 0 10.7 0 5.8 0 7.1 0 3.7 0 11 0 4 .1-60.5 0 .5 0 31.8 0 4.6 0 1.5 0 6 0 1 0 5 0 8.4 .1-68 0 5.7 0 .2 0 10.1 0 1.9 0 7.2 0 11.8 0 5 0 .5 0 1.9 0 4.3 0 21 0 12 .1-62.3 0 3.6 0 13.5 0 .7 0 7.8 0 6.5 0 4.1 0 8.1 .1-48.4 0 5.8 0 .2 0 8.8 0 11 0 2.7 0 4.6 .1-46.7 0 18.2 0 15.7 0 44.5 .1-74.9 0 11.4 0 3.8 0 3.9 0 17.3 0 10.6 0 1.7 .1-35.7 0 10.2 0 1.6 0 .1 0 4.8 0 7.3 0 16.9 0 12 0 3.4 .1-88.7 0 .5 0 45.9 0 27.2 .1-56.4 0 21.6 0 12 0 19.9 0 8.9 .1-59.6 0 14.2 0 5.5 0 14.7 0 8.1 0 2.4 0 5.7 0 19.3 .1-72.3 0 6.9 0 7 0 16.4 0 53.9 .1-75.2 0 2.9 0 2.9 0 31.2 0 .2 0 .6 0 1.4 0 2.3 0 16.8 .1-61.2 0 20.3 0 .7 0 10.3 .1-43.5 0 14 0 31.1 0 11.3 0 3.2 0 4.1 0 .2 0 .4 0 7.8 0 2.5 0 .3 0 3.4 .1-59.3 0 2.8 0 4.3 0 7.5 0 7.4 0 2.4 0 1.3 0 7.5 0 9.1 0 3.9 0 6.2 0 16.4 .1-75.6 0 .1 0 5.5 0 10.6 0 1.9 0 58.8 .1-76.1 0 28.9 0 5.8 0 6 0 .2 0 10.7 .1-38.7 0 10 0 2.4 0 2.7 0 3.9 0 7 .1-78.5 0 26.8 0 19.2 0 23.4 0 6.1 .1-23.5 0 3.2 0 20.2 0 8.3 0 2.7 .1-34.5 0 16.1 0 .5 0 12.2 0 15.5 0 7.8 .1-62.3 0 7 0 4.1 0 3.7 0 1.9 0 2.1 0 11.6 0 9 .1-38.5 0 19.7 0 4.6 0 7.9 0 .3 .1-40.9 0 22.2 0 1.4 0 1.3 0 .1 0 6.1 0 4.1 0 19.7 .1-60.5 0 15.6 0 6.7 0 24 0 3.2 0 7.7 .1-46.6 0 9.4 0 .6 0 4.1 0 1.5 0 4.1 0 13.3 .1-29.6 0 12.6 0 1.2 0 0 0 3.1 0 3.1 0 14.9 0 9.2 0 1.6 .1-38.1 0 2.4 0 9.2 0 2.1 0 22.4 .1-34.6 0 1.3 0 5.7 0 1.3 0 5.2 0 3.6 .1-30.8 0 0 0 5.2 0 5.2 0 1.7 0 3.9 0 6.1 0 .5 0 35.8 .1-60.6 0 27.4 0 11.3 0 14 0 4.8 0 9.8 .1-86.5 0 23.1 0 14.1 0 9.4 0 4.6 0 4.1 0 13.2 0 18.3 0 3.2 0 6.9 .1-69.6 0 .4 0 16.9 0 2.4 0 14.7 0 11.7 0 7.4 .1-80.2 0 21.9 0 18.5 0 15 0 0 0 1.2 0 1.9 0 3 0 8.2 0 3.6 0 20.9 .1-92.8 0 17.5 0 18.7 0 .1 0 3.5 0 11.9 0 26.8 0 3.5 0 4.7 .1-71.3 0 2.2 0 12.1 0 2.8 0 10.8 0 1 0 8.5 0 16.1 .1-49.6 0 1.7 0 19.4 0 26.3 0 2.1 0 6 0 5.2 0 12.3 .1-44.2 0 2.2 0 20.7 0 2.4 0 7 0 15.3 .1-74.4 0 12.5 0 3.3 0 15.1 0 4.1 0 18.8 .1-52.1 0 10.8 0 20.7 .1-29.6 0 .9 0 .1 0 2.4 0 7.7 0 11.5 0 2.8 0 1.4 0 7.6 0 16.2 .1-57.8 0 27.2 0 2.8 0 5.2 0 1.7 0 4.4 0 9.3 .1-52.1 0 34.9 0 .3 0 10.2 .1-40.8 0 1.7 0 7.2 0 14.3 0 3.7 .1-36.1 0 10.8 0 7.9 0 4.2 0 13.3 0 7.2 0 17.1 0 .7 .1-48.8 0 1.1 0 5.7 0 3.7 0 9 0 11 0 2 0 .5 0 .8 0 3.4 0 6.3 .1-52.4 0 7.3 0 14.3 0 6.3 0 36.6 0 3 .1-57.5 0 9.3 0 12.7 0 14.7 0 9.7 0 42 .1-96.8 0 17.9 0 .9 0 6 0 10.4 0 5 0 6.3 .1-33.2 0 3.6 0 9.7 0 5.7 0 8.5 0 42.3 .1-77.1 0 6.7 0 5.7 0 8.2 0 .3 0 5.1 0 7.9 0 4.4 0 9.6 0 3.4 .1-61.5 0 12.2 0 .3 0 2.4 0 12.6 0 1.5 0 10.5 0 10.8 0 1.8 0 .5 0 5.4 0 .8 0 1.3 .1-59.5 0 20.2 0 5.8 0 4.2 0 .2 0 4.5 0 6 0 23.5 .1-58.9 0 .2 0 5.2 0 20.3 0 5.8 0 10.3 0 11.9 0 1.2 .1-59 0 25.3 0 12.8 0 27.6 .1-68 0 10.1 0 15.5 0 7.3 0 1.7 0 6 0 4.3 0 5.9 .1-42.7 0 13.2 0 .8 0 27 0 12 0 3.8 0 3.6 .1-68.5 0 23.4 0 1.2 0 2.6 0 1.3 0 11.2 0 4.9 0 .4 0 17.4 .1-54.9 0 12.5 0 15.6 0 19 .1-53 0 .2 0 15.2 0 10.7 0 1.2 0 7.2 0 12.8 0 4 0 1.1 0 3.3 0 2.3 .1-58.6 0 19.3 0 12.7 0 3.1 0 7.4 0 4.9 0 14 .1-62.7 0 32.9 0 2.6 0 32.4 0 8.1 .1-84.2 0 10.8 0 10.9 0 12.8 0 3.9 0 3.9 0 34.2 .1-70.5 0 7.3 0 15.7 0 13.9 0 12.3 .1-59.2 0 40.3 0 6.6 0 1.8 0 .3 0 4.4 0 1.2 0 3.1 0 .9 0 23.7 .1-50.2 0 22.2 0 1.6 0 23.3 .1-65.9 0 26.9 0 5 0 7.5 0 20 0 1.1 0 5.6 .1-43.8 0 2.1 0 1.2 0 5.8 0 1.2 0 2.2 0 14.7 0 1 0 3.3 0 12.1 .1-62.4 0 3.6 0 12 0 7.4 0 1.9 0 4.2 0 9.1 0 22.7 0 15.3 .1-60.8 0 5.7 0 2.2 0 .1 0 11.5 0 4.7 0 1 0 7.5 0 12.3 0 2.1 .1-55.7 0 1.5 0 4.5 0 8.3 0 3.6 0 14 0 31.7 .1-68.6 0 11.2 0 .5 0 9.7 0 7.2 0 9.1 0 2.4 0 10.5 0 13.2 .1-86.2 0 23.3 0 4.3 0 7 0 1.8 0 3.1 0 2.4 0 7.5 0 4.5 0 16.3 0 23.1 .1-92 0 35.5 0 3 0 5.9 0 3.6 0 3.4 0 1.2 0 .3 0 8.9 0 10.7 0 12.3 0 1.3 .1-55.5 0 17.2 0 3.9 0 .9 0 2 0 2.4 0 37.2 .1-88.3 0 35.2 0 17.2 0 19 0 1.5 0 .1 0 8.7 .1-54.8 0 3.1 0 13.3 0 7.6 0 11.6 0 4.7 0 2.7 0 2.4 0 22.6 .1-80 0 3.1 0 20.3 0 3.2 0 21.5 0 1.5 0 11.7 .1-63.8 0 20.5 0 3.3 0 8 0 1.9 0 1.5 0 7.3 0 8 0 13.1 .1-51 0 .4 0 19.7 0 6.8 0 15.8 .1-48.4 0 2.8 0 16.6 0 5.6 0 .4 0 .8 0 1.9 0 .5 0 2.2 0 24.9 0 11.6 .1-80.2 0 4 0 6.2 0 14.3 0 11.8 0 .3 0 3.9 0 .5 0 6.5 0 5.4 0 8.1 .1-37.3 0 9.8 0 4.1 0 6.5 0 2 0 2.4 0 4.1 0 9.9 0 4 0 41.4 .1-85.3 0 8.6 0 .6 0 15.2 0 9.3 0 6.6 0 .4 0 10.7 .1-70.3 0 8 0 21.7 0 7.7 0 18.1 0 1.5 0 16.9 .1-73.4 0 8.5 0 9.4 0 28.1 0 4.7 0 7.1 0 8.6 .1-55.5 0 10 0 15.1 0 1.2 0 3.7 .1-28.4 0 40.2 0 7.6 0 8.6 0 1.2 .1-45.4 0 2.8 0 3.4 0 9.9 0 3.7 0 .1 0 15.6 .1-54.9 0 3.9 0 17.2 0 20.5 0 8.4 0 9.7 0 6.6 0 4.2 .1-70.7 0 11.4 0 9.8 0 6.3 0 5.1 0 6 0 11.4 0 17.6 .1-37.6 0 22.2 0 6.8 .1-57.7 0 9.7 0 2.8 0 3 0 8.3 0 12.7 0 13.5 0 25.5 .1-69.6 0 4.1 0 9.6 0 .6 0 10.5 0 10.2 0 5.9 0 .6 .1-44.4 0 7.2 0 1 0 .6 0 22.6 0 14.2 0 1.6 .1-54.8 0 .4 0 6.7 0 18.7 0 7.5 0 .3 0 5.8 0 46 .1-85.1 0 4.3 0 17.9 0 3.5 0 13.3 0 8.7 .1-18.4 0 1.2 0 1 0 2.3 0 4.4 0 .3 0 7.5 0 3.1 0 8.3 0 .1 0 2.5 0 2.6 0 2.1 .1-70.1 0 18.6 0 4.7 0 19.6 0 .3 0 13.4 0 2.9 .1-48.5 0 3.7 0 4.5 0 1.8 0 2 0 1.3 0 12.1 0 12.7 0 10 0 2.4 .1-58.3 0 .4 0 36.4 0 1.8 0 1.7 0 .7 0 4 0 15.4 0 25.6 .1-64.4 0 1.7 0 18 0 2.2 0 9.6 .1-30.8 0 6.7 0 1.8 0 8.4 0 3.5 .1-58.1 0 38 0 4.5 0 3.4 0 2.3 0 4.3 0 4.7 0 12.8 .1-37.8 0 7.4 0 1.7 0 7.7 0 1.6 0 3.1 0 7.2 0 6.6 0 3.2 0 4.5 0 1.9 0 1.7 .1-72.6 0 7.4 0 19.8 0 1.4 0 3.3 0 16.1 0 17.8 0 9.5 .1-61.3 0 4.1 0 10.1 0 4.7 0 3.2 0 1.1 0 13.1 0 16.4 0 8.8 .1-70.3 0 11 0 12.2 0 .9 0 13 0 .7 0 1.1 0 9 0 5.2 .1-50.2 0 12.9 0 8.1 0 15.9 0 2.3 0 2 0 7.1 0 24.5 .1-65 0 17.6 0 14 0 9.8 0 19.2 0 2.2 .1-46.6 0 33.9 0 2 .1-77.4 0 14.6 0 12.4 0 3.7 0 7.7 0 6.9 0 10.2 0 19.7 0 2.8 .1-30.2 0 7 0 10.8 .1-47 0 31.4 0 23.7 0 2.5 0 2.2 0 17.5 .1-77 0 2 0 16.5 0 15.1 0 9.1 0 2.4 0 0 0 4.9 0 5.1 0 1.8 .1-57.2 0 6.4 0 5.5 0 29.4 0 3.6 0 1.6 0 7.5 .1-50.6 0 15.8 0 5.2 0 5.6 0 6.2 0 5.3 0 2.7 0 5.8 .1-31 0 .4 0 5 0 5.8 0 20.8 0 .1 0 9.1 .1-63.9 0 12.7 0 4.4 0 1.3 0 3.8 0 13.6 0 4.4 0 4.5 0 9.5 0 4.2 0 4.8 0 3.9 0 .2 0 3.9 0 .7 .1-57.2 0 7.4 0 2 0 4.6 0 2.8 0 2.5 0 23.5 .1-31.4 0 5.7 0 18.5 .1-42.8 0 1.5 0 4.2 0 2.5 0 29.7 0 10.1 .1-26 0 8.8 0 10 0 2.2 0 5.8 0 5.5 0 17.8 .1-76.8 0 17.4 0 2.1 0 2.1 0 5 0 3 0 .6 0 2.8 0 2 0 1.1 0 1.7 0 2.4 0 17.9 0 25.6 .1-72.4 0 6.9 0 26.9 0 3.1 0 19.1 .1-96.1 0 54.9 0 4 0 .1 0 3 0 1.4 0 1.5 0 .7 0 8.1 0 18.2 .1-68.3 0 19.4 0 8.2 0 16.8 0 1.4 0 3.8 0 .2 0 3 0 5.1 0 9.1 0 2.1 0 3.7 0 21.4 .1-107.1 0 31.6 0 16.8 0 11.5 0 16.2 .1-49.4 0 2.4 0 6.8 0 17.3 0 1 0 .1 0 1.2 0 1.3 0 10.9 0 1.1 0 19.8 0 .9 0 15.4 .1-56.4 0 2.7 0 1.9 0 4.2 0 1.2 0 2.8 0 8 0 3.1 0 14.8 0 .6 .1-46.7 0 3.7 0 .1 0 12.8 0 2 0 52.5 .1-82.5 0 1.5 0 7.2 0 9.5 0 17.3 0 10 0 6.8 .1-41.5 0 1.6 0 2.9 0 7.5 0 13.9 0 7.5 .1-46.3 0 9.8 0 3 0 2.1 0 11.8 0 16.6 0 1.2 0 13.6 0 3.7 .1-59.9 0 1.3 0 6.1 0 8.7 0 1.2 0 3.5 0 4.8 0 2.6 0 9.4 0 45.1 .1-85.2 0 26 0 7.2 0 6.5 0 1.9 0 21.5 .1-70.4 0 29 0 12.3 0 4.8 0 11 .1-51 0 15.1 0 .3 0 6.2 0 .4 0 .6 0 .8 0 2.5 0 .9 0 10.1 0 .6 0 1.7 .1-20.6 0 7.7 0 .1 0 2.6 0 1.1 0 5.5 .1-30 0 53.7 .1-62.3 0 11.2 0 21.6 0 23.9 0 3.8 0 2.1 .1-54.1 0 4.2 0 .4 0 10.7 0 9.2 0 1.6 0 46.8 .1-79 0 24.2 0 8.8 0 1.3 0 3.1 0 16.1 .1-62.5 0 5.8 0 15.4 0 .8 0 19.9 0 4.6 0 1.5 0 2.4 0 15.9 0 2 .1-78.2 0 37.8 0 2.1 0 12 .1-26.5 0 7.6 0 2.1 .1-17.7 0 20.3 0 1.6 0 2 0 11.1 0 24.8 .1-40.4 0 5.7 0 5.9 0 2.4 0 25.3 .1-42.2 0 7.8 0 1.7 0 17.8 .1-37.2 0 12.4 0 7.9 0 .1 0 5.5 0 18.4 0 2.3 0 2.2 0 3.5 .1-49 0 3 0 15.7 0 18.4 .1-41.1 0 2.7 0 7.1 0 7.8 0 2.2 0 9.2 0 .4 0 6.1 0 .1 0 .9 0 8.3 0 9.7 .1-45.1 0 .4 0 8.6 0 16.4 0 5.7 0 1.1 0 7.4 0 1.6 0 .4 .1-61.8 0 4.8 0 23 0 7.2 0 7.7 0 3.8 0 6.5 0 18.4 0 27.5 .1-90.8 0 11.8 0 9.7 .1-29.6 0 14.6 0 6.7 0 10.4 0 11.1 0 5.9 0 11.5 .1-48.9 0 3.8 0 4.7 0 19 0 14.3 0 1.1 .1-34.2 0 14 0 20.5 .1-22.6 0 7.4 0 2.5 0 .2 0 4.9 0 .3 0 17.6 .1-61.5 0 6.2 0 2.6 0 3.9 0 22.4 0 1.6 0 1.6 0 26.9 0 13.7 .1-76.1 0 12.5 0 10.4 0 10.6 0 16.2 0 2.9 0 .8 .1-57.8 0 6 0 23.4 0 5.9 0 10.4 0 .8 0 1.8 0 5.9 0 13 .1-67.7 0 5.6 0 10.6 0 17.2 0 22.4 .1-53.9 0 9.9 0 .3 0 12.1 0 7.6 0 4.4 0 .1 0 7.5 0 40 .1-76 0 30.5 0 0 .1-53.9 0 33.9 0 18.6 0 7.6 0 1.8 0 2.9 0 3.5 0 .9 .1-63.4 0 3.3 0 25 0 1 0 12.9 0 14.7 0 14.1 .1-52.8 0 21.4 0 13.7 .1-43.7 0 22.9 0 8.9 0 1.2 0 13.4 0 6.1 .1-31.1 0 8.2 0 5.5 0 4 .1-64.5 0 39.3 0 35.4 0 1.5 0 3.7 0 17.5 .1-89.9 0 16.9 0 15.8 0 1.3 0 .5 0 24.2 .1-29.4 0 7.5 0 4.8 0 9.1 0 .7 0 .4 0 5.3 0 3.7 0 6.1 0 .9 0 8.1 0 8.7 .1-68.8 0 5.9 0 9.9 0 19.1 0 4.2 0 3.2 0 6.2 0 18.9 .1-66.6 0 12.1 0 10.8 0 15.7 0 4.8 0 1 0 2.6 0 1 0 .6 0 5.4 0 3.3 0 11.7 .1-76.6 0 47.1 0 .6 0 6.5 0 6.8 .1-45.4 0 1.9 0 6.9 0 5.4 0 3.6 0 .1 0 7.8 0 4.8 0 10.5 .1-29.2 0 3.5 0 1.4 0 10.1 .1-39.1 0 35.5 0 3.7 0 6.4 0 1.6 0 10.8 .1-44.4 0 18.8 0 1.7 0 13.5 0 2.1 .1-26.8 0 13.2 0 .6 0 4.5 0 6.5 0 3.3 0 2.1 0 .3 0 .3 0 1.4 0 6.7 0 4.1 .1-50 0 1.3 0 21 0 2 0 5.5 0 5.2 0 2 0 9.2 .1-61.4 0 28.2 0 18.4 0 26.3 .1-6.6 0 16.2 .2-22.5 .4-21.5 0 2.1 .1-12 0 .9 .1 53.7 .1-30 .5-23 .1 3.7 .1 6.5 .1-14.8 .1 20.8 .1-4.3 0 11.3 .2-41.4 0 38.1 .2-25.6 0 23 .4 30 .1-50.3 0 32.3 .3-49.1 .1 20.1 .1-38.5 0 41.5 0 30.2 0 4.6 .1-48.2 0 6.5 .1 30.7 .1-30.9 .2 14.4 .1-21.8 0 9.8 .1-24.3 .1 32.9 .1 17.8 0 7.4 .3-27.6 .1-9.2 0 27.6 .1-49.3 0 27.3 0 5.5 0 12.6 .4-32.8 0 8.7 0 44.6 .2-32 0 7.1 0 6.8 .1-31.9 0 6.1 0 4.2 0 2.3 0 3.7 0 2.2 0 .8 0 8.3 0 4.9 0 3.7 0 3.2 .1-39.4 0 5.8 0 6.3 0 12.2 0 5.3 0 4.3 0 4.5 0 1.1 0 5.6 .1-99.8 0 47.5 0 5.4 0 6.5 0 52.2 .1-55.3 0 7.5 0 12.1 0 .5 0 2.3 0 3.4 0 9 0 30.9 .1-70 0 .1 0 11.2 0 17 0 19.7 0 12.1 0 11.2 0 2 .1-93.4 0 10.3 0 24.3 0 4.7 0 12.7 0 .8 .1-47.4 0 3.8 0 12.6 0 23 0 18.3 0 2.3 .1-55.8 0 26.2 0 14.4 0 3.3 0 9.6 0 3.9 .1-36.9 0 2.8 0 6.7 0 6.8 .1-25.1 0 5.4 0 7.7 0 .6 0 .3 0 5.3 0 4.4 0 13.5 0 9.3 .1-26.6 0 14.4 0 5.2 0 5.6 0 1 .1-43.5 0 1.8 0 12 0 .7 0 0 0 21.1 0 6.5 0 8.3 0 .4 0 32.8 .1-86.6 0 4.5 0 15.8 0 1.4 0 .9 0 9.8 0 1.5 .1-40.4 0 21.1 0 11.4 0 8.6 0 1.6 0 3.4 0 .5 0 10.5 0 2 .1-60.7 0 20.7 0 6.9 0 .6 0 1.7 0 14.6 0 7.3 0 10.3 0 5.8 .1-68.8 0 15.5 0 3.2 0 13.2 0 9.5 0 8.5 0 6.1 0 .4 .1-45.2 0 14.7 0 17.7 0 3.4 0 2.8 0 3.9 .1-44.9 0 12.5 0 7.9 0 7.3 0 8 .1-46.3 0 23.8 0 3.6 0 37.9 .1-59.9 0 3.8 0 25 0 2.7 0 11.8 0 4.7 0 1.3 0 17.2 .1-67.6 0 13.8 0 9.8 0 5.9 0 9.2 0 .4 0 1.9 0 3.9 .1-36.9 0 9.3 0 13.7 0 2.1 0 4.3 0 4.8 0 22.9 .1-72.1 0 8.7 0 6.5 0 2.5 0 0 0 1.8 0 5.7 0 13 0 2.4 0 3.9 0 14.3 .1-47.9 0 13.4 0 9.5 0 5.5 0 1.4 0 24.1 .1-65.9 0 22.3 0 6.5 0 .9 0 6.9 0 16.8 0 13.4 .1-55 0 10.1 0 4.7 0 3.5 0 4.1 0 1 0 11.7 0 18 .1-45.4 0 .7 0 3.9 0 9.7 0 2.7 0 4.6 0 23.4 0 5 .1-63.1 0 9.5 0 1.1 0 9.9 0 14.3 0 2 0 24.8 .1-55.8 0 2.9 0 7.5 0 7.1 0 2.7 0 13.2 0 8.1 0 7.8 .1-46.2 0 39.7 .1-30.6 0 2.9 0 5.3 0 6.3 0 .6 0 .3 0 11.5 0 10.1 .1-67.2 0 32.1 0 1.5 0 5.7 0 7.2 0 8.9 0 4.3 0 2.1 .1-41 0 4.5 0 10 0 3.6 0 7.8 0 1.7 .1-33.7 0 26.4 0 2.5 0 6.5 0 12.8 0 .9 .1-43.7 0 7.3 0 4.2 0 10.1 0 2.4 0 7.2 0 4.6 0 12 .1-51 0 1.8 0 7.7 0 .1 0 11.8 0 0 0 10.2 .1-40.4 0 5.9 0 5.9 0 3.2 0 .4 0 8.7 0 3.3 0 19.3 0 6.9 .1-54.8 0 21 0 5.6 0 17.6 .1-23.8 0 .5 0 8.7 0 10.8 .1-30.8 0 15.7 0 8.5 0 7 0 3.8 .1-24.9 0 15 0 11.9 0 15.7 .1-64.2 0 2.3 0 26 0 2.6 0 5.7 0 6.4 0 9.6 0 12 .1-71.1 0 18.1 0 4.8 .1 7.7 0 9.3 0 .5 0 6 0 7.4 0 9.6 0 7.7 0 1.7 0 5.5 0 4.3 0 7.9 .1-51.3 0 17.1 0 1.7 0 1.7 .1-16 0 0 .1-48.4 0 19.8 0 6 0 18.9 0 2.6 0 4 0 3.1 0 3 0 .5 .1-50.2 0 19.9 0 23.4 0 1.3 0 16 .1-73 0 48.7 0 1.4 0 9.7 0 .6 0 5.4 0 5 0 8.2 .1-51.8 0 3.7 0 7.9 0 23.3 0 1.8 0 5.5 0 24.6 0 1.5 0 4.5 .1-93.7 0 29.4 0 1.5 0 12.1 0 20 0 3.4 0 29.3 .1-77.8 0 17.5 0 12.3 0 8.7 0 12 0 4.5 0 3.8 0 6.9 .1-55 0 2.5 0 13.2 0 6.1 0 2.1 0 7.6 0 2.5 .1-40.8 0 7.5 0 4.5 0 .6 0 9.9 0 21.8 .1-45 0 7.9 0 19.3 0 9 .1-50.6 0 19.5 0 2.4 0 7.8 0 3.1 0 8.5 0 1.3 0 .4 0 6 0 10.3 0 3.1 0 5.9 .1-52.1 0 .7 0 11.1 0 2.3 0 9.9 .1-30.4 0 7.9 0 .3 0 9.6 0 11.2 0 19.5 0 35.7 .1-82 0 22.8 0 4 0 .2 0 2.3 0 .2 0 5 0 9 0 7.8 .1-59.4 0 31 0 33.5 .1-71.2 0 22.7 0 7.6 0 8.9 0 32.2 0 4.8 .1-59.5 0 15.7 0 2.7 0 3.7 0 32.3 .1-66.8 0 12.7 0 18.7 0 13.7 0 3.9 .1-45.4 0 29.6 0 2.7 0 5.3 0 27.2 .1-66.6 0 3.9 0 22.1 0 2.3 0 9 0 2.7 0 10 0 20.5 .1-61.6 0 1.3 0 4.5 0 16 0 7.4 0 2.1 .1-22.8 0 .8 0 14.4 0 19.7 0 .1 0 .1 0 1.9 0 1.2 .1-57.9 0 5.6 0 14.4 0 11.9 0 11.3 0 11.5 .1-32.5 0 5.1 0 4.9 0 1.6 0 1.7 0 4.2 0 15.8 0 7 0 15.3 .1-75.2 0 29.6 0 1.1 0 1.6 0 12.8 0 .4 0 2.9 .1-43.7 0 16.8 0 10.3 0 2.8 0 2.5 0 8.1 0 .3 0 18.5 .1-82.5 0 34 0 4 0 13.7 0 5.2 0 .5 0 4.1 .1 6.6 0 11.6 .1-31.8 0 .3 0 9.9 0 6.3 0 16.9 .1-58.6 0 11.7 0 7.5 0 6.8 0 44.5 .1-70.1 0 1.4 0 6 0 2.2 0 12.8 0 13.2 0 1 0 13.9 0 5.7 0 .8 0 2.4 .1-79.7 0 7.8 0 15.7 0 14.9 0 7 0 2.9 0 8.9 0 9.1 0 10.9 .1-45.7 0 23.5 0 6 0 13.5 .1-34.2 0 6.9 0 22.2 0 2.8 0 2.5 .1-61.1 0 12.6 0 9 0 1.5 0 4.5 0 2.9 0 17.2 0 .6 0 7.2 0 2 0 1.2 .2-38.3 0 2.5 0 4.7 0 7.9 .1-15.4 0 29 0 .2 .1-39.4 0 3.8 0 28.8 0 5.5 0 12.8 .1-34.7 0 3.2 0 2.2 0 1.9 0 9.9 0 16.8 0 7.1 0 12.5 .1-106.8 0 13.6 0 23.6 0 6.5 0 12.4 0 9.8 0 7.1 0 6.7 .1-62.6 0 33.7 0 2.6 0 1.8 0 7.5 .1-45.8 0 21.6 0 2.1 0 8.4 0 7.2 0 1.6 0 13.7 0 .3 0 14.6 0 20.9 0 .5 0 .2 0 2.1 0 12.7 .1-85.9 0 27.1 0 .9 0 12.3 0 4.4 0 2.2 .2-42.8 0 6.9 0 17.5 0 8.9 0 16.4 0 20.3 .1-43.8 0 6.9 0 7.5 0 5.5 0 14.2 0 1.4 .1-71.4 0 10.8 0 2.6 0 32.7 0 3.8 0 22.2 .1-71 0 1.8 0 25.3 0 21 0 3.9 0 14 0 3.5 .1-67.4 0 19.8 0 5.6 0 .2 0 2.6 0 25 0 7 .1-42.9 0 3.5 0 2.6 0 20.9 0 8.7 0 11.6 .1-69.9 0 4 0 4.6 0 1.3 0 13.7 0 .7 0 .5 0 .2 0 5.3 0 15.6 0 .7 0 10.4 0 1.2 0 3.4 0 30.2 .1-82.2 0 .3 0 17.4 0 11.3 0 5.8 0 2 0 14.9 0 4.2 .1-62.9 0 17.4 0 13.2 0 10.5 0 5.7 0 1.6 0 1.8 0 19.7 .1-56.7 0 13.9 0 7 0 10.8 0 1.5 .1-38.9 0 11.4 0 1.6 0 .2 0 .5 0 11.1 0 1.3 0 .2 0 2.5 0 2.2 0 6 0 4.1 0 18.2 .1-70.1 0 14.4 0 .1 0 8.2 0 24.3 0 2.6 .1-44.1 0 27.4 0 12.1 0 16.9 .1-35.2 0 6.3 0 10.8 0 2.4 0 16.4 .1-85.2 0 22 0 22.3 0 7.7 0 1.1 0 11.4 0 3.1 0 .8 .1-33.7 0 3.2 0 3.4 0 4.6 0 1.8 0 3.7 0 21.2 .1-44.8 0 1.4 0 21.9 0 .5 0 7.9 0 5.2 0 16.4 .1-38.6 0 17.9 0 14.8 .1-21.5 0 3 .1-.9 0 1 0 4.2 0 11.9 .1-38.8 0 3.7 0 3.5 0 6.3 0 5.3 0 3.7 0 .7 0 3.9 0 1 0 47 .1-92.1 0 50.3 0 33.5 .1-62.3 0 3.9 0 .4 0 2.2 0 14.1 0 11.3 0 1.1 0 .7 0 .6 0 18.4 .1-60.1 0 2.3 0 14.6 0 .4 0 8.6 0 14.8 .1-48.9 0 21 0 8 0 .9 0 0 0 7.1 0 12.7 .1-40.8 0 11.3 0 29.5 0 9 0 10.7 0 12 0 26.1 .1-101.5 0 9.8 0 17 0 19.1 0 2.8 0 9.6 .1-59.1 0 6.5 0 8.4 0 15.9 0 5.2 0 .4 0 .5 0 21.8 0 12.9 .1-80.4 0 17.1 0 4.6 0 4.3 0 12.3 0 4.8 0 18.5 0 3.3 .1-19.4 0 .2 .1-37.5 0 6.9 0 20.3 0 11.9 0 6.4 0 3.3 0 17.3 .1-69.6 0 8.4 0 15.1 0 4.2 0 21.4 0 2.3 .1-61.5 0 4.5 0 21.3 0 6.3 0 31.9 0 14.3 .1-49.3 0 2.2 0 3.3 0 20.1 0 3.5 0 5 0 6.4 0 5.1 0 31.6 .1-89.4 0 12.4 0 1.7 0 4.9 0 14.9 .1-22.1 0 2 0 5.9 0 .4 0 2.7 0 3.5 0 3.9 0 8.8 0 13.8 0 5.2 .1-41.9 0 9.5 0 3.1 0 17.8 0 6.1 0 6.1 0 1.2 0 1.5 .1-54 0 23.2 0 17.9 .1-42.8 0 16.1 0 20.6 .1-37.9 0 13.1 0 17.3 0 2.4 0 .1 0 11.6 0 13.7 0 3.1 .1-65 0 7.5 0 4.8 0 1.8 0 5.6 0 3.9 0 10.3 0 2 0 2.2 0 8.4 .1-38.1 0 13 0 .6 0 4.4 0 1.3 0 28.3 .1-63.7 0 15.1 0 19.5 0 .4 0 8.1 .1-53.8 0 6.6 0 22.1 0 2.6 0 .2 0 .9 0 1.4 0 8.5 0 6.1 0 7.4 0 0 0 11 0 3.6 0 .7 0 16.1 .1-64.9 0 .6 0 3.7 0 26.7 0 6.5 .1-47 0 6.3 0 6.7 0 3.6 0 17.3 0 3 0 3.7 0 .5 0 38.2 .1-69.2 0 25.6 0 3.4 .1-42.2 0 17 0 2.8 0 1.5 0 8.4 0 2.6 0 10.7 0 2.6 .1-37.5 0 6 0 2 0 16.1 0 2.8 0 2.8 0 24.2 0 16.7 .1-54.6 0 .3 0 4.9 0 .6 0 12.5 0 26.4 0 8.8 .1-64.1 0 18.7 0 .1 0 2.7 0 12.4 0 3.6 .1-55.4 0 11.7 0 10.8 0 21.1 0 11.1 0 8.7 .1-29.8 0 1.5 0 9.4 0 11 0 .6 0 5.5 0 1.9 0 34.2 .1-86.2 0 2.8 0 9.5 0 45.1 .1-54.6 0 14.2 0 14.1 0 14.3 0 11.3 .1-50.4 0 8.5 0 3 0 .5 0 13 0 .4 0 .7 0 20.8 0 4.6 0 10.2 .1-80.5 0 17.1 0 3.1 0 5.4 0 .1 0 .5 0 17.2 .1-28.4 0 6.2 0 8.9 0 7.6 0 11.2 0 4.7 0 .5 0 1.2 0 13 .1-66.3 0 16 0 3.1 0 5.1 0 1.4 0 2 0 2.2 0 23.4 0 37.9 .1-48.5 0 15.6 .1-48.7 0 7.5 0 8.6 0 2.3 0 2.2 0 16.9 .1-37.3 0 1.8 0 17.4 0 6.1 0 1.8 0 15.2 0 24.2 0 9.4 .1-58.9 0 .7 0 2.5 0 5.3 0 6.5 0 6.1 0 7 0 1.3 0 11.7 0 3.4 .1-61.8 0 10.2 0 1.4 0 4.7 0 2.5 0 5.3 0 3 0 4.9 0 2.8 0 10.8 0 .6 0 3.5 0 31.1 .1-78.1 0 15.4 0 7 0 2.9 0 4.2 0 5.4 0 1.1 0 1.3 0 12.9 .1-89.6 0 27.6 0 22 0 13.6 0 .8 0 5.1 0 1.6 0 5.8 0 1.7 0 3.3 .1-54.5 0 18.5 0 7.1 0 9.6 0 13.5 0 9.2 .1-38.6 0 9.3 0 4.3 0 8.8 0 6.4 0 14.3 0 5.8 0 7.8 .1-74.9 0 8.1 0 2 0 23.8 0 8.1 0 3.1 0 20.5 0 4.4 0 4.7 .1-70.1 .1 19 0 4.9 0 1.7 0 22 0 .3 0 13.3 .1-43.5 0 2 0 9.2 0 9.9 .1-32.3 0 5.6 0 27.2 0 9.9 0 3 0 .3 .1-55.1 0 9.6 0 .2 0 3.4 0 2.2 0 15.9 0 2.7 0 2.2 0 12.1 0 3 0 4.4 0 2.2 0 2.6 0 5 0 25.6 .1-97.8 0 28.6 0 22.8 0 3.1 0 9.5 .1-54.8 0 4.9 0 22.9 0 3.9 0 13 0 6.6 0 11.3 0 3.8 0 10.9 .1-64.6 0 76.2" marker-start="url(#m3)" marker-mid="url(#m3)" marker-end="url(#m3)"/>
<path d="M355.1 81.1l0 19.3 0 16.4 0 17.2 .1-57.9 0 1.8 0 4.2 0 5.5 0 7.1 0 2.4 0 2.5 0 6.2 0 4.6 0 12.8 .1-64.2 0 15.7 0 10.5 0 16.1 0 8.8 0 11.6 .1-46.4 0 1.4 0 8.9 0 1.6 0 13.6 .1-9 0 2.9 0 5 0 11.6 .1-51 0 35.8 0 9.2 0 5.7 0 2.4 .1-35.7 0 15.8 0 39.5 .1-58.5 0 14 0 2.3 0 .2 0 46.1 .1-67.5 0 1.1 0 8.1 0 18.5 0 15 0 2.9 0 20.6 .1-64.8 0 15.5 0 1.8 0 1.3 0 1.8 0 2.9 0 .2 0 10.7 0 6.6 0 13.7 .1-51.8 0 3.1 0 25 0 7.8 0 15.2 .1-33.7 0 9.8 0 .8 0 8.5 0 4.4 0 6.8 0 3.5 .1-.9 0 24.4 .1-66.8 0 10 0 7.5 0 27.9 .1-49 0 0 0 1.1 0 13.5 0 8.8 0 9.9 0 .7 .1-51.3 0 12.6 0 6.9 0 16.9 0 .5 0 8 0 1.5 0 38.4 .1-84.8 0 20.1 0 19.5 0 2.9 0 18.4 0 2.2 .1-45.1 0 11.3 0 .8 0 4.7 0 22.2 .1-37.4 0 .1 0 6.7 0 5.7 0 1.3 0 .5 0 1.1 0 8.8 0 12.8 .1-34.3 0 9.4 0 5.8 0 1.7 0 .2 0 10.4 0 12.3 .1-53.7 0 16.3 0 1.8 0 2 0 .9 0 .1 0 3 0 17.5 0 .1 0 23.9 .1-53.2 0 12.2 0 2.9 0 4.9 0 7.2 0 2.7 0 3.1 0 5.3 0 9.8 .1-28.6 0 6.8 0 4 .1-41.7 0 5.7 0 6.5 0 2.6 0 11.1 0 3.8 0 3.8 0 16.2 .1-48.7 0 5.4 0 3.5 0 30.8 0 9.1 .1-27.5 0 26.9 .1-25.3 0 .4 0 5.6 0 1.6 0 9.1 0 1.6 .1-45.1 0 10.4 0 22.9 0 5.7 0 7.8 0 5.5 .1-46.2 0 14.6 0 4.2 .1-23.5 0 18.3 0 1.8 0 14.5 .1-31.5 0 12.4 0 12.1 0 5.5 0 3.1 0 9.2 0 13.4 .1-60.5 0 10.3 0 3.6 0 3.5 0 7.1 0 15.7 0 5.9 0 9.9 0 45.8 .1-61.6 0 4.1 0 13.6 0 3.5 .1-56.1 0 4.9 0 7.9 0 10 0 3.3 .1-29.8 0 .2 0 26.4 0 2.5 0 .2 0 .4 0 1.8 0 2.7 0 3.3 0 4.4 0 14.7 .1-60 0 7.7 0 16.5 0 12.3 0 12.1 0 5.7 .1-32.3 0 6.8 0 5.5 0 19 0 .5 0 2.6 0 6.8 .1-49.6 0 47.2 .1-57.4 0 49 .1-58.8 0 19.6 0 3.2 0 16.2 0 2.4 0 1.4 0 9.9 0 4.5 0 8 0 2.9 .1-36.9 0 8.2 0 9.8 0 7 0 1.1 .1-48.6 0 4.2 0 6.3 0 4.4 0 4.1 0 6.6 0 2.1 0 5.3 0 6.6 0 9.1 0 2.4 .1-35.8 0 16.9 0 12.6 0 2.3 0 6.8 0 5.1 .1-39.5 0 2.9 0 3.6 0 2.8 0 7.8 0 .4 0 1 0 .3 0 2.3 0 1.8 0 17.4 .1-64.3 0 26.7 0 2.1 0 6.3 0 13.8 0 5 .1-70.3 0 36.9 0 .1 0 4.8 0 .5 0 1.3 0 4 .1-19 0 7 0 9.7 0 6.1 0 12.8 0 1.1 0 13 0 35.2 .1-88.3 0 4.4 0 10.3 0 3.1 0 5.5 0 8 0 3.2 .1-32.6 0 4.4 0 3.7 0 5.4 0 20.5 0 2.2 .1-39.9 0 13.8 0 9.2 0 23.7 .1-48 0 1.7 0 .6 0 20.7 0 41.2 .1-63.2 0 5.7 0 12.2 0 10.5 0 2.3 0 7.9 0 9.5 0 1.8 0 3.8 .1-59.6 0 26.2 0 4.8 0 13.8 .1-42.3 0 11.5 0 9.6 0 .3 0 2.1 0 6.4 0 6.9 0 1.6 0 5.8 0 11.3 0 .6 .1-55.8 0 11.2 0 .2 0 10 0 17 0 18.9 0 2.9 .1-51.9 0 19 0 2 0 6 0 9.7 0 3.8 0 1.6 0 2.4 .1-57 0 4.8 0 22.1 0 2.4 0 3.5 0 13.5 0 7.8 0 2.5 .1-39.4 0 2.2 0 1.1 0 4.5 0 12.2 0 10.5 0 26.5 .1-82.2 0 17.2 0 4.6 0 19.1 0 7.9 0 10.2 0 4.6 0 19.5 .1-77.8 0 3 0 6.6 0 40.8 0 8.5 0 13.8 .1-75.9 0 28.3 0 3.7 0 14.6 0 14.4 0 5.5 0 8.9 .1-58.6 0 8.1 0 .7 0 .1 0 14 0 10.1 0 7.7 0 1.6 0 .2 .1-47.7 0 13.6 0 13.8 0 21.1 .1-35.9 0 9.1 0 .2 0 3.8 0 2.4 0 1.5 0 2.9 0 1 0 1.4 .1-31.9 0 2.8 0 13 0 6.8 0 5.7 0 .8 0 11.4 0 4.4 0 10.8 .1-48.3 0 23.3 0 11.2 0 5.2 0 17.7 .1-52.2 0 4.9 0 7.1 .1-21.5 0 10.5 0 2.5 0 25.1 0 53.1 .1-95.7 0 13.7 0 2.5 0 7.5 0 4.1 0 31.5 0 3.8 .1-42.6 0 1.3 0 3.5 0 .5 0 5.3 0 4.4 0 1.4 0 4 0 17.7 .1-60.2 0 19.9 0 8.4 .1-18.2 0 29.7 0 4 0 4.2 .1-56.4 0 12.2 0 17.4 0 .9 0 6.4 0 2.9 0 5.5 0 19.3 0 .9 0 11.9 .1-70.5 0 9.2 0 8.8 0 10.5 0 4.4 0 1.4 0 7.6 .1-29.9 0 8.1 0 2.4 0 5.3 0 7.1 0 5.8 0 10.5 .1-36.8 0 8.1 0 .2 0 3.2 0 3.9 0 36.1 0 18.6 .1-74.8 0 11.2 0 5.3 0 2.9 0 18.7 0 .6 .1-19.2 0 3.6 0 3.1 0 8.9 0 6.3 0 6.6 .1-37.9 0 .1 0 1.2 0 26.8 0 4 0 3.1 .1-45.4 0 18.8 0 2.5 0 21.6 .1-25.3 0 7.8 0 5 0 1.8 0 16.3 .1-40.1 0 3.5 0 57.9 .1-62.9 0 15.5 0 14.1 0 11.9 0 18.1 .1-82.2 0 10.4 0 7.2 0 34.2 0 .8 0 5.4 0 10.4 .1-40.3 0 5.3 0 2 0 1.3 0 3.2 0 2.4 0 13.8 0 1.3 .1-33.9 0 3.2 0 8.8 0 1 0 2.2 0 4 0 2.9 0 .3 0 15.2 .1-67.4 0 30.7 0 4.4 0 .5 0 6.5 0 1.5 0 3 0 33.9 .1-75.5 0 23.7 0 15.7 0 24.6 .1-49.2 0 11.2 0 19.3 .1-44.4 0 24.4 0 15.9 0 6.5 0 7.3 0 16.6 .1-69.5 0 22.8 0 3.3 0 1.7 0 .6 0 .8 0 1 0 5.7 0 2.5 0 1.6 0 5.2 0 .3 0 5.5 .1-8.7 0 3.2 0 9.4 .1-49.7 0 14.3 0 12 0 14.8 0 5.8 0 31.7 .1-71.6 0 1.2 0 3.1 0 19.6 0 1.8 0 1.6 0 2.8 .1-53.2 0 10.6 0 27.8 0 20.1 0 6.7 0 9.1 0 2.1 0 3.5 .1-65.9 0 11.6 0 16.4 0 1 0 5.5 0 15.1 0 6.8 0 7.9 0 4.5 .1-31.3 0 8.2 0 3.8 0 .8 0 10.3 0 23.2 .1-48.6 0 12.5 0 2.1 0 0 0 11.6 0 6.4 0 39.6 .1-98.5 0 5.4 0 9.5 0 0 0 11 0 7.6 0 13.8 0 10.8 .1-40.4 0 2.9 0 2.6 0 23.9 .1-47.6 0 2.9 0 15.3 0 17.5 .1-40 0 9.2 0 2.8 0 6.8 0 3.7 0 6.1 0 2 0 3.7 0 7.9 0 40.3 .1-101.9 0 35.4 0 15.8 0 .8 0 22.8 0 39 .1-114.8 0 17.9 0 8.4 0 13.5 0 10.9 0 .3 0 8.9 0 .5 0 1.1 0 .4 .1-38.3 0 1.4 0 6.8 0 13.6 0 4.1 0 6 0 2.5 0 8 0 11.6 .1-81.1 0 46.8 0 27.4 0 13.8 .1-58.5 0 18.8 0 .5 0 3.8 0 1.5 0 6.6 0 15 0 2 0 6 0 1 0 .3 0 2.3 .1-50.6 0 32.6 0 6.8 0 1.3 0 3.4 .1-65.2 0 5 0 4.9 0 7.2 0 9.6 0 2.4 0 3.3 0 .4 0 6.4 0 1 0 4.6 0 25.7 0 6 .1-74.6 0 17.7 0 7.1 0 16.2 0 7.6 0 11 0 1.9 .1-67.9 0 6.9 0 23.1 0 9.3 0 7.7 0 2.2 0 9.3 .1-48.1 0 8.3 0 2.2 0 11.5 0 4.2 0 1.5 0 5 0 5.3 0 1.9 0 1 0 11.7 .1-36.5 0 7.1 0 3.2 0 24.4 .1-49.5 0 6.2 0 8.6 0 9.1 0 23.1 .1-33.3 0 10.9 0 .1 0 27.4 .1-28.4 .1-44.4 0 27.2 0 6 0 23.5 0 2.9 .1-28.4 0 3.5 0 15.8 0 3.8 0 14 0 15.3 .1-30 0 30.9 .1-20 .1-13.4 0 7.6 0 9 0 29.1 .1-54.8 0 5.6 .1-8.7 0 1.1 0 .2 0 23.9 0 3.7 0 11.4 0 2.1 .1-56 0 12.1 0 11.9 0 1.7 0 4.9 0 1 0 3.5 0 .6 0 5.9 0 18.1 .1-72.4 0 22.6 0 11.2 0 .2 0 3.2 0 2.3 0 19 0 2.9 0 14.5 .1-55.5 0 10.4 0 7.8 0 1.2 0 7 0 1.6 0 11.3 0 19.3 .1-68 0 25.6 0 1.3 0 .4 0 12.3 0 19.3 .1-60.5 0 18.1 0 .8 0 1.8 0 3.1 0 6.9 0 8 0 .1 0 10.3 0 .9 0 1.7 .1-54.7 0 19.1 0 3 0 1.5 .1-18.7 0 5.9 0 10.8 0 11.6 0 3.6 0 1.3 0 11.7 0 8.5 .1-59.1 0 11.1 0 7.8 0 4.7 0 3.3 0 7.9 0 5.2 0 6.3 0 13 0 8.8 .1-60.6 0 12.2 0 3.7 0 1 0 2.7 0 6 0 8.8 0 1.3 0 34.1 .1-52.8 0 12 .1-16 0 17.9 0 5.5 0 2 0 5.1 .1-42.2 0 1.6 0 .3 0 18.5 0 3 0 1 0 6.6 0 9.9 0 56.4 .1-91.8 0 6 0 11.6 0 5 0 9.8 0 13.2 .1-68.8 0 19.7 0 3.8 0 4.3 0 1 0 11.2 0 8.5 0 3.6 0 8.6 .1-49.4 0 15.4 0 5.2 0 5.4 0 1.1 0 10.2 0 28.7 .1-54.2 0 8.3 0 14 0 8.7 0 2.9 .1-32.6 0 5.5 0 12.6 0 8.8 .1-31.4 0 .3 0 9.2 0 14.7 0 .8 0 26.2 .1-46.4 0 .5 0 3.7 0 .2 0 5.5 0 1.6 0 5.6 0 2.3 0 4.4 0 7.3 .1-36.7 0 2 0 6.9 0 16 0 6.3 0 8 .1-31.5 0 4.2 0 12.5 0 2.9 0 3.9 0 6 .1-30.9 0 3.3 0 17.5 0 36.7 .1-67.1 0 2 0 2.3 0 7.6 0 4.4 0 4.6 0 6.5 0 2.2 0 6.8 0 .9 0 1.5 .1-26.7 0 15.6 0 8 0 .8 0 3 0 5.5 0 9.4 0 2.6 .1-38 0 21 0 15.4 0 17.6 .1-82 0 25.8 0 4.6 0 4.6 0 5 0 31.6 .1-41.7 0 4.2 0 3.6 0 5.1 0 .3 0 11.6 .1-34.2 0 4.1 0 .7 0 1 0 5.8 0 19.5 .1-33.1 0 3.7 0 2.7 0 1.1 0 1.3 0 7.2 0 20 0 4.1 .1-53.2 0 15.1 0 5.2 0 3.5 0 1.7 0 5.3 .1-20.7 0 3 0 .4 0 4.9 0 10.4 0 14.5 0 25.9 .1-71.3 0 75 .1-41.6 0 9.8 .1-37.3 0 4 0 12.8 0 3.8 0 .3 0 3.3 0 3.3 0 .4 0 8.7 .1-37.2 0 22.7 0 .6 0 12 0 23.5 0 3.6 0 12.4 .1-81.1 0 31.6 0 5.3 0 2.4 0 40.2 .1-63.7 0 4.9 0 3.6 0 3.9 0 3 0 6.3 0 10.2 0 4.8 .1-39.6 0 5.1 0 6.3 0 2 0 .4 0 4.6 0 7.9 0 8.1 0 3.8 0 2.1 0 4.3 0 12.3 .1-52.5 0 1.1 0 3.2 0 2.2 0 1.4 0 15.3 .1-36.8 0 23.1 0 .6 0 12 0 0 0 18.6 .1-46.2 0 0 0 7.9 0 4.5 0 2.1 0 14.3 0 2.2 .1-22.6 0 6.2 0 14.7 0 .7 0 10.1 .1-38 0 .5 0 22.2 0 7.5 0 8.8 .1-53.3 0 21.6 0 3.2 0 5.8 0 .1 0 10.8 0 .5 .1 18.4 .1-65.4 0 23.4 0 7.6 0 .9 0 9.3 0 4.6 0 .8 0 3.8 .1-14.3 0 6.7 0 6.3 0 9.1 .1-22.4 0 9.1 0 6.5 0 2.6 .1-34.8 0 8.3 0 18.9 0 3.6 0 12.2 .1-57.5 0 13.2 0 2.3 0 10.9 0 .8 0 5.9 0 0 0 4.3 0 18.2 0 13.5 .1-58.4 0 27.7 0 2.1 .1-29.5 0 8.9 0 3.9 0 16.4 0 4.5 0 2 0 24.4 .1-69.1 0 12.6 0 4.9 0 4.5 0 .7 0 4.5 0 .5 0 2.8 0 20.6 0 8.5 0 10.8 .1-74.1 0 25.6 0 6.6 0 13.3 0 7.7 0 10.7 0 .9 0 8.5 .1-59.3 0 10.6 0 9.1 0 14.3 0 2.8 .1-35.3 0 3.8 0 .3 0 5.1 0 6.6 0 29.9 0 6.7 0 1.6 .1-46.8 0 2.7 0 .3 0 6 0 8.8 0 9.6 0 7.2 .1-44.8 0 9.1 0 7.1 0 2 0 1.8 0 36.7 .1-69.1 0 37.5 0 .6 0 10 0 2.2 .1-36.2 0 25 0 9.7 0 11.6 .1-53.5 0 2.6 0 9.3 0 6.7 0 4.7 0 .7 0 7.9 0 19.4 .1-32.7 0 7.3 0 2.6 0 .1 0 21.1 0 4.6 0 1.9 .1-45 0 3.7 0 6.4 0 1.4 0 .3 0 1.4 0 21.3 0 4.4 .1-31.9 0 1.3 0 3.1 0 .8 0 0 0 11.1 0 12.8 0 21.8 .1-78.9 0 31.3 0 29.3 0 9.5 .1-50.6 0 14.2 0 1.9 0 .5 0 2.8 0 .7 0 3.2 0 5.7 0 .1 0 13 0 2.4 .1-49.4 0 2.6 0 14.5 0 1.4 0 14.7 0 2.1 0 4.7 0 17.2 .1-53 0 8.4 0 5.3 0 2.5 0 17.5 0 11.6 .1-57.6 0 4.4 0 8.9 0 11.5 0 3.2 0 .3 0 16.6 0 5.6 0 10.4 0 10.2 .1-61.6 0 16.7 0 5 0 4.2 0 .3 0 1 0 3.6 .1-38.4 0 4.4 0 10.1 0 4.5 0 15.7 0 20.5 0 2 .1-45.5 0 8.9 0 1.3 0 3.5 0 2 0 6.3 0 3.3 0 3.1 0 15.3 .1-30.8 0 3 0 3.2 0 7.3 0 1.1 .1-43.7 0 10.6 0 4.9 0 7.5 0 4.1 0 14.4 0 5.2 .1-35 0 2.4 0 10 0 .1 0 3.9 0 1.9 0 .9 0 .4 0 8.6 0 1.3 0 .2 0 18.6 .1-28.5 0 2.3 0 .8 0 .5 0 3.4 0 5.6 0 .6 0 22.7 .1-37.8 0 10.3 0 1.8 0 6.3 0 10.3 .1-36.8 0 8.4 0 5.1 0 3.5 0 13.6 .1-34.6 0 .7 0 2.7 0 .4 0 5.9 0 .5 0 3.2 0 3 0 44.2 .1-70.1 0 11 0 7.4 0 19.5 0 2.7 0 1.4 0 .5 0 2 0 3.4 0 1.7 0 7.2 .1-39.8 0 16.6 .1-22.2 0 10.4 0 2.1 0 3.7 0 8.1 0 4.8 0 1.3 0 2.9 0 9.6 .1-38.2 0 .6 0 .5 0 2.4 0 2 0 3.1 0 6.3 0 2.5 0 8.9 0 14.6 0 1.5 .1-50.3 0 15.6 0 1 0 1.5 0 8.4 0 17.4 .1-49.5 0 16.4 0 6.5 0 3.3 0 31.5 .1-43.5 0 6.8 0 6.6 0 26.1 .1-59.7 0 15.6 0 6.9 0 12.2 0 16.6 0 3.4 0 5.1 .1-50.3 0 8.4 0 14.3 0 1.4 0 7.9 0 7.8 0 4.9 0 29.3 .2-63.3 0 4.4 0 6.1 0 7.3 0 8.5 0 8.1 .1-62.5 0 34.1 0 12.9 0 4.4 0 15.8 0 1.5 0 6.1 0 17.3 .1-53.8 0 .5 0 1.2 0 7.6 .1-27.7 0 9.8 0 16 0 3.8 0 27.9 .1-49.9 0 .5 0 8.6 0 5.4 0 0 0 4.8 .1-66.7 0 27.2 0 7.4 0 9.7 0 6.3 0 4.8 0 .6 0 11 0 12.7 0 32.4 .1-78.7 0 5.7 0 6.7 0 19.6 0 5.4 0 3.2 0 22.7 .1-63.1 0 4.2 0 22.7 0 .9 0 6.3 0 1.8 0 1.4 0 8.5 0 7.3 0 9.5 .1-64 0 3.9 0 4.4 0 2 0 3.5 0 1.3 0 3.8 0 6.6 0 24.2 0 6.3 .1-48.6 0 19.4 0 9.9 0 2.2 .1-51.1 0 24.5 0 12.5 0 5.4 0 8.2 0 7.6 .1-37.9 0 2.4 0 20.7 0 3.2 .1-34 0 1.1 0 3.5 0 47.1 0 7.8 .1-40.4 0 2.9 0 11.6 0 2.5 0 9 0 .7 .1-48.2 0 7.5 0 14.1 0 4.7 0 3.7 0 5.8 0 .9 0 12 .1-56.3 0 6.8 0 14.2 0 17.4 0 26.2 .1-43.4 0 8.4 0 18.1 .1-30.7 0 9.5 0 30.3 0 1.9 0 2.4 .1-55.8 0 31.4 0 12.1 0 9.3 0 4.6 0 3.2 .1-56.3 0 8.2 0 6 0 0 0 11 0 .9 0 24.4 .1-36.3 0 5.5 0 15 0 3 0 16.9 .1-52.6 0 9 0 .3 0 11.4 0 15.5 0 .9 0 4.6 0 40.2 .1-68.2 0 6.4 0 10.9 0 6.7 .1-40.2 0 5.3 0 13.8 0 9 0 .9 0 3.1 .1-30 0 .5 0 8.4 0 11.5 0 18.4 0 8.7 .1-58.3 0 7.6 0 10.7 0 9.5 0 21.2 0 .6 .1-41.9 0 3.2 0 18.6 0 7.9 0 19.9 0 24.2 .1-64.7 0 .2 0 1.4 0 20.9 0 2.1 0 1.9 0 4.8 0 2 0 21.6 .1-63.8 0 2 0 9.4 0 10.7 0 1.1 0 .8 0 14.8 0 8.8 0 11.1 .1-39.8 0 7.5 0 17.3 0 6.7 .1-37.9 0 1.7 0 .2 0 8.6 0 6.2 0 13.1 0 .3 .1-47.7 0 7.6 0 6.6 0 .2 0 .7 0 10.6 0 2.3 0 .4 0 1.1 0 14.3 0 1 0 6.2 .1-27.2 0 13.6 0 4.2 0 2.6 0 9.5 .1-60.5 0 33.2 0 1.3 0 .8 0 7.3 0 14.6 0 .9 0 9.4 0 6.4 .1-41.7 0 2.9 0 4.1 0 10.3 0 2.8 0 6.5 .1-40.1 0 8 0 16.9 0 24.4 .1-42.2 0 9.3 0 11.8 0 2.9 0 1.4 .1-24.7 0 9.1 0 10.6 .1-32.1 0 3.1 0 7.1 0 .2 0 7.8 0 11.3 0 3.9 .2-29.2 0 2.7 0 9.8 0 3.9 0 20.9 .1-44.9 0 9.6 0 6.4 0 .1 0 13.1 0 1.1 0 1.9 .1-21.9 0 .7 0 5.7 0 1.2 0 5.8 0 17.3 0 23.2 0 4.3 0 6.7 .1-103.4 0 24.7 0 4.9 0 .3 0 12.8 0 1.6 0 8.7 0 36.8 .1-57.4 0 5.6 0 7.8 0 3.2 0 5.3 0 1.1 0 1.8 0 1.6 0 12.2 .1-23.3 0 11.4 .1-13.7 0 4.3 0 21.8 0 1 0 7.8 .1-73.3 0 17.9 0 25.9 0 3.1 0 .9 0 .2 0 5.2 0 32.7 .1-50.6 0 2.6 0 2 0 .9 0 4.2 0 12 0 6.7 0 3.8 .1-51.2 0 10.4 0 16.8 0 7.1 0 9.7 0 .4 0 3 0 2.5 .1-16.3 0 26.3 0 7.1 .1-64 0 14.5 0 8.7 0 6 0 24.5 .1-39.7 0 12.8 0 .3 0 5.7 0 4.6 0 11.6 0 5.6 .1-39.9 0 4.3 0 1.3 0 .1 0 5.1 0 15.8 0 4 0 8.7 0 7.9 0 37.2 .1-85.9 0 4.9 0 13.5 0 12.5 0 19 .1-60.6 0 32.4 0 .8 .1-36.6 0 4.2 0 6.6 0 2.3 0 21.5 0 2 0 5.2 0 5.5 .1-35.4 0 7.1 0 39.7 .1-51.1 0 4.8 0 12.2 0 3.9 0 2.9 0 2.9 0 6.4 0 3.1 0 3.7 0 19.6 .1-67 0 36.2 0 7.1 0 2.6 0 5.8 .1-50.3 0 7.3 0 11 0 12.4 0 5.9 0 1.5 0 8 0 16.9 .1-47.2 0 6 .1-24.3 0 22.3 0 .3 0 .9 0 37.8 .1-51.6 0 24.9 0 5.6 0 20.3 .1-39.1 0 2.8 .1-2.1 0 7.6 0 1.1 0 2.1 0 6.4 0 19.5 .1-48.5 0 5.8 0 7.6 0 14.1 0 25.9 .1-49.9 0 6.5 0 15.3 0 2.3 0 1.6 .1-22.7 0 4.7 0 5.1 0 4.4 0 4.3 0 8.6 0 3 0 11.9 .1-60.1 0 27.7 .1-14.5 0 .7 0 18.2 0 19 .1-40.3 0 2.4 0 3.3 0 22.1 0 2 0 .9 0 7.6 0 12.6 0 2.7 .1-52.6 0 5.8 0 4.2 0 23 0 8.4 0 3.2 .1-42.7 0 17.2 0 4.5 0 5.4 0 19.3 0 9.7 .1-66.1 0 4.4 0 38.8 0 4.8 0 21.5 .1-57.8 0 .6 0 5.9 0 13.6 0 12.2 0 1.9 0 6.5 0 .4 0 6.1 .1-55.3 0 7.4 0 3 0 2.6 0 2.4 0 1.9 0 3.9 0 42.4 .1-78.9 0 16.5 0 1.5 0 10.2 0 8.9 0 3.7 0 2.4 0 28 0 5.4 0 6.2 .1-63.2 0 3.5 0 16.8 0 14.8 0 7.2 0 16.6 .1-79.2 0 22.3 0 3.4 0 8.1 0 7.8 0 4.7 0 13.1 0 10.4 .1-22.5 0 2.4 0 10.5 0 7.6 .1-51.1 0 34.2 0 7 .1-30.9 0 3.5 0 2.3 0 2.5 0 0 0 15.7 .1-40.3 0 7.1 0 15.6 0 12.3 0 6.7 0 1.9 0 1.8 0 5.9 0 2.7 .1-44.7 0 7.9 0 3.7 0 1.2 0 7.1 0 2.1 0 2.5 0 .5 0 3.3 0 19.6 .1-55 0 1.8 0 19.8 0 8.1 0 11.1 0 7.7 .1-40.6 0 12.8 0 1.3 0 17 0 .7 0 4.7 0 13.3 0 14.9 .1-54.3 0 11.8 0 10.8 0 5.9 .1-43.6 0 .2 0 36.7 0 1.8 0 3.1 0 1.2 0 1.7 0 1.7 0 .1 .1-46.7 0 1.2 0 1.8 0 46.8 0 8.9 .1-39 0 7.5 0 3.3 0 5.3 0 1.4 .1-33.8 0 14.3 0 9.8 0 8 0 4.7 .1-60.7 0 24 0 13.1 0 15.9 0 2.1 0 8.2 0 4.8 0 5.5 .1-53.2 0 8.7 0 17 0 9.4 0 1.9 0 .4 0 1.3 0 6.2 0 20.8 .1-60.6 0 3.1 0 5.5 0 2.1 0 3.6 0 4 0 9.1 0 3.9 0 .9 0 .1 0 9.5 0 2 0 3.4 0 .7 .1-49.4 0 8.1 0 2.7 0 18.9 0 19.2 0 5.9 .1-52.2 0 5.4 0 3.3 0 1.1 0 1.1 0 1.4 0 2 0 9.8 0 2.7 0 20.1 .1-40.9 0 .4 0 19.5 0 1.1 0 20.7 .1-49.3 0 1.9 0 3.1 0 4.9 0 .1 0 2.9 0 14.2 0 3.8 0 2.7 0 11.3 .1-28.6 0 9.6 .1-25.4 0 32.4 0 7.7 0 7.7 .1-36.2 0 27.6 .1-23.6 0 42.9 .1-48.3 0 21.5 0 5.4 0 5.5 0 50.8 .1-79.4 0 13.8 0 37.2 .1-66.4 0 9.2 0 7.7 0 1.2 0 5.5 0 .6 0 3 0 13.3 0 11 0 4.2 .1-59 0 19.6 0 .2 0 3.4 .1-28.9 0 9.9 0 10.8 0 9.8 0 8.4 0 5.4 0 1.6 0 10.6 .1-76.4 0 29.1 0 22.6 0 16.1 .1-21.3 0 11.2 0 12.7 0 7.7 .1-39.9 0 2.6 0 20.8 0 2.2 0 3.7 .1-42.2 0 12.6 0 9.6 0 .3 0 5.3 0 2.2 .1-10.8 0 15.4 0 22.9 .1-60.8 0 5.5 0 21.8 0 .9 0 1.7 0 7.7 0 2 0 5.3 .1-36.6 0 .9 0 7.5 0 2.4 0 7.4 0 2.4 .1-6.7 0 13.7 0 3.9 0 1.8 .1-38 0 6.5 0 2.5 0 2.1 0 13.9 0 2 0 3.1 0 2.8 0 40.3 .1-66.1 0 2.3 0 1.4 0 8.8 0 11.1 0 29.4 .1-68.7 0 27.4 0 13.7 0 9.5 0 6.9 0 3.6 0 2.5 .1-57.5 0 6.7 0 13.2 0 13.5 0 .3 0 5.7 0 3.8 0 16.5 .1-25.8 0 52.7 .1-73.8 0 10 0 1.2 0 3.1 0 7.1 0 16.3 0 24.4 .1-62.3 0 5.6 0 1.1 0 9.2 0 8.8 0 3.8 0 .3 .1-45.3 0 12.3 0 7.5 0 4.1 0 10.6 0 4.8 0 2.5 0 .4 .1-42.2 0 12.5 0 6.8 .1 4.6 0 4.7 0 1.1 0 17 0 .7 0 .2 .1 7.3 .1-21.3 0 12.9 0 28.7 .1-80.2 0 3.3 0 8 0 3.3 0 .2 0 8.2 0 2.5 0 8.8 0 8.5 0 2.2 0 10.7 0 .9 0 13.1 .1-34.7 0 3.1 0 11 0 9.5 0 3.8 .1-70.2 0 29.8 0 13.9 0 12.5 0 1.3 .1-26.4 0 2.1 0 .5 0 1.6 0 12.5 0 1 0 5.5 0 1.2 0 2.1 0 3.6 0 9.9 .1-41.8 0 2 0 13.3 0 6.6 0 4.7 0 5.2 0 1.2 0 3 0 7.9 .1-52.5 0 3.9 0 26.6 .1-48.3 0 20.6 0 22.6 0 6.2 0 6.8 0 4.2 0 3.5 .1-8.7 0 .4 0 7 .1-39.5 0 9.8 0 21.2 0 8.9 .1-47 0 5 0 5.3 0 19.5 .1-27.7 0 29.7 0 9.4 .1-50.4 0 14 0 22.9 0 23.5 .1-61.3 0 9.2 0 12.2 0 1 0 0 0 7.6 0 16.7 0 8.6 0 24.1 .1-72.3 0 8.4 0 6.7 0 15.8 0 3.8 0 10 0 1.1 0 1.3 0 9.2 0 1.3 0 10.6 .1-67.5 0 5.4 0 16.9 0 12.3 0 3.7 0 1.2 0 .3 0 7.3 0 11 0 13.2 .1-61.4 0 10.2 0 4.3 .1-29.3 0 10.2 0 10.4 0 2.3 0 14.6 0 .3 0 .7 0 10.2 0 7.2 .1-49.2 0 10.6 0 8.6 0 13.7 0 4.4 .1-34.5 0 18 0 .7 0 10.1 0 .8 0 1 0 3.2 0 3 0 5.9 0 4.4 0 8.9 .1-61.8 0 4.5 0 10.7 0 1.1 0 12.3 0 .4 0 3.8 0 2.4 0 4.6 0 27.4 0 8.1 .1-59.6 0 14.4 0 .3 0 12.3 0 6.3 0 10.2 .1-44.3 0 14.2 0 47.4 .1-65.2 0 2.5 0 9.7 0 8 0 .9 0 .9 0 10.8 0 23.4 .1-60.6 0 7 0 3.7 0 15.6 0 2.4 0 3.2 0 .8 0 3.4 0 7.8 .1-30.2 0 4.1 0 6.1 .1 17.3 .1-42.2 0 13.6 0 6.8 0 31.8 .1-48.6 0 1.3 0 10.3 0 2.7 0 33.2 .1-49.8 0 2.3 0 15.7 0 12.5 0 .7 .1-42 0 9.4 0 4 0 2 0 .8 0 4.9 0 7.1 0 27 0 4.8 .1-65.4 0 23.1 0 4.8 0 8.1 0 12.8 0 16.6 .1-42.9 0 7.3 0 15.3 0 5.5 0 5.7 0 13.7 .1-59.8 0 10.6 0 2.3 0 18.1 .1-46 0 8 0 10.5 0 .7 0 9 0 8.2 0 15.2 0 7.8 0 4.3 .1-44.2 0 7.1 0 9.1 0 6.3 0 49.9 .1-96.2 0 3 0 11 0 14.2 0 7.4 0 3.1 0 20.2 .1-12.7 0 8.4 .1-17 0 3.4 0 6.9 0 4.4 0 16 .1 8.9 .1-43.7 0 2 0 5 0 5 0 7.8 0 2.9 0 1.5 0 8.6 0 2.8 0 45.3 .1-97.3 0 6.9 0 8.1 0 1.4 0 2.7 0 3.9 0 22 .1-8.9 0 11.2 .1-45.8 0 2.1 0 7.3 0 12.4 0 3.1 0 8.3 0 7.9 0 .9 0 13.9 0 6.4 .1-36.6 0 18.1 0 3.4 .1-42.3 0 3.8 0 25.9 0 7 0 10.4 .1-59.3 0 20.7 0 13.5 0 .7 0 .2 0 16.4 0 2.9 0 .9 0 14 .1-42.9 0 11.6 0 18 0 28.9 .1-74.7 0 8.6 0 2 0 2.4 0 10 0 .3 0 17.6 0 3 0 10.9 0 .9 .1-61 0 25.3 0 37 0 7.4 .1-66.2 0 3 0 4.5 0 3.2 0 1.9 0 3.5 0 .1 0 23.8 0 .7 0 1.1 0 11.8 0 .7 .1-44 0 12.4 0 1.1 0 16.8 0 14.7 .1-44.7 0 8 .1-18.3 0 4.2 0 8.4 0 3 0 1.9 0 4.4 0 5.2 0 .3 0 18.1 .1-51.7 0 13.2 0 4 0 21.2 .2-20.6 0 1.5 0 4.7 0 .3 0 2.3 0 3.7 0 15.2 0 13.8 .1-41.5 0 2.5 0 .3 0 15.2 0 25.1 0 1 0 1.7 .1-68.3 0 15.7 0 .5 0 19.9 0 6.6 0 6.7 0 10.2 .1-49.2 0 22.1 0 38.2 0 17.9 .1-67.2 0 3.5 0 4 0 5.3 0 .9 0 3.2 0 16.3 .1-27.8 0 15.3 0 4.5 0 5.3 .1-31.8 0 33 0 2.1 0 7.3 0 10.3 .1-75.5 0 .3 0 55.8 0 6 0 1 0 6.2 .1-52.9 0 9.5 0 .7 0 1.7 0 8.5 0 22.6 0 5.8 0 6.8 0 6.9 .1-69.8 0 7.2 0 .3 0 13 0 10.2 0 10.4 0 3.6 0 1.2 .1-36.2 0 5.9 0 7.4 0 5.5 0 1.5 0 22.2 0 1.8 .1-15.1 0 2 0 1.2 0 12.5 0 4.9 .1-49.5 0 23.9 0 2.9 0 3.8 0 .7 0 .8 0 1.9 0 13.3 0 .8 0 4.5 .1-28.9 0 10.9 0 9.2 0 2.1 0 2.9 .1-20.2 0 29.5 .1-53.3 0 16.7 0 4.1 .1-19.2 0 10.2 0 1.1 0 3.9 0 11.1 0 15.2 0 9.3 .1-55.7 0 6.9 0 2.1 0 .6 0 12.6 0 3.6 0 8 0 1.8 0 1.1 0 2.5 0 3.2 .1-54.3 0 17.4 0 9.5 0 2.7 0 12.7 0 6.8 0 16.6 .1-62.3 0 24.2 0 .8 0 3.5 0 3.9 0 7.1 0 .6 0 6 .1-45.1 0 11.2 0 15.4 0 15.1 0 2.9 0 1.8 .1-37.5 0 3.8 0 30.1 .1-34.5 0 7.9 0 8.2 0 2.2 0 2.2 0 15.5 0 4.7 0 2.6 0 3.1 .1-38.5 0 .4 0 18.2 0 .5 0 .3 0 8.2 0 0 .1-42 0 15.4 0 1.2 0 9 0 7.9 0 2.2 .1-35.1 0 15.7 0 .8 0 7.1 0 9.8 0 2 0 4.5 .1-30.3 0 12 0 1.6 0 2.1 .1-24.8 0 11.8 0 1.3 0 10 0 3.9 0 7.9 0 13.2 0 .3 .1-44.8 0 17.7 0 13.8 0 2.2 .1-38.5 0 14.1 0 17.1 0 14.9 .1-47.5 0 15.8 0 2.1 0 3 0 6.7 0 3.3 0 7.2 .1-28.7 0 6.1 0 11.7 0 1.3 0 4.7 0 18.1 0 3.1 0 2.1 0 .1 0 6 0 5.2 .1-35.7 0 1.6 .1-37.7 0 14.9 0 2.2 0 10.8 0 .3 0 3.7 0 13 0 9.6 0 3 .1-39.5 0 7.2 0 2.8 0 4.8 0 14.3 .1-61.6 0 32.6 0 10.7 0 4.8 0 3.8 0 2.7 0 5.1 0 9.9 0 3.4 .1-42.4 0 5 0 18.9 0 .3 0 5.1 0 16.7 .1-45.4 0 26.2 .1-39.6 0 12 0 2.7 0 1.1 0 11.3 0 4.1 0 11.3 0 5.1 0 4.8 0 .5 .1-54 0 31.5 0 2.8 0 10.2 .1-61.3 0 27.8 0 8.3 0 2.1 0 12.7 0 22.5 .1-56.4 0 36.4 .1-5 0 2.2 0 18.1 .1-51.9 0 13.5 0 2.9 0 9.7 0 5.6 0 4 .1-29.7 0 8.7 0 12.1 0 2.3 0 32.1 .1-53 0 .2 0 5.1 0 1.7 0 11.2 0 4.3 0 3.9 0 15.6 .1-40.7 0 5 0 14.7 0 18.5 .1-49.3 0 7.9 0 10.4 0 24.2 0 10.3 .1-45.8 0 10.2 0 1.8 0 5.1 0 1.3 0 24.3 .1-44.5 0 15.9 0 6.6 0 1.3 0 .4 0 21.7 0 4.5 0 4.5 .1-57.3 0 2.1 0 27 0 7.1 0 6 0 2.3 0 18.2 .1-40.5 0 11.4 0 12.2 0 11.3 0 9 .1-80.7 0 39.5 0 5.2 0 4.9 0 3.5 .1-17.1 0 3 0 11.4 0 1.6 0 1.8 0 24.3 .1-55.6 0 12 0 3.3 0 3.8 0 13.5 0 4.5 0 4.2 .1-47.7 0 15 0 7 0 8.7 0 7.4 0 6.2 0 1.2 0 18.6 .1-56.5 0 9.4 0 2.8 0 1.1 0 13.8 0 11.4 .1-51.2 0 23.1 0 7.2 0 5.9 0 .4 .1-37.1 0 25 0 6.1 0 1.9 0 1.5 0 3.5 0 1 0 10.6 0 8.3 0 0 .1-55.8 0 13 0 7.9 0 9.2 0 1.1 0 6.5 0 2.7 .1-5.7 0 .1 0 9.1 0 2.2 0 .5 .1-56.3 0 36 0 1.5 0 28.6 0 5.3 .1-45.2 0 9.9 0 5.7 0 9 .1-36.4 0 8.6 0 6 0 5.4 0 4.3 0 5.1 0 4.3 0 6.5 0 4.8 0 6.7 .1-65.5 0 21.1 0 8.9 0 1.5 .1-15.4 0 16.1 0 15.9 0 4.6 0 16.2 .1-55.4 0 1.3 0 5.5 0 .2 0 12.6 0 .9 0 3.3 0 5.6 0 4.8 0 1.4 0 8 0 1.7 0 16 .1-70.8 0 28.9 0 8.2 0 23.3 .1-41.7 0 6.1 0 .6 0 21.3 0 3.3 0 12.5 .1-35.7 0 2.6 0 1.3 0 .9 0 1.1 0 .3 0 6.6 0 9.1 0 2.9 0 6.7 .1-47.3 0 1.7 0 14.9 0 13.6 0 11.4 .1-27.6 0 13 0 4 0 2.4 0 21.1 0 2.8 .1-47.8 0 16 0 35.6 .1-75.7 0 18.5 0 43.9 .1-51.8 0 2.4 0 .3 0 11.1 0 1.8 0 2.6 0 2 0 6.4 0 11 0 3 0 2.4 .1-27.6 0 16.6 .1-7.8 0 13.4 0 5 0 6.5 .1-49.3 0 9.3 0 9.6 0 2.6 0 1 0 5.2 0 7.6 0 1.7 0 7.9 0 2 .1-31.1 0 2.5 0 1.6 0 .4 0 5.7 0 9.4 0 6.3 0 7.2 0 4.4 0 7.6 .1-31 0 2.3 .1-29.3 0 4.7 0 9.3 0 40.3 .1-45 0 .1 0 11.4 0 9.8 0 25.7 .1-57.1 0 6.9 0 8.1 0 8.2 0 11.8 .1-10.4 0 18.1 .1-33.4 0 33.3 0 8.6 .1-48.8 0 16 0 1.7 0 9.4 0 8.2 0 15.2 0 2.3 .1-57.1 0 5.4 0 1.9 0 7.7 0 1.5 0 1.5 0 0 0 .2 0 9 0 2.7 .1-41.2 0 23.3 0 3.2 0 9.6 0 14.3 0 .1 0 6.7 .1-44.3 0 12.7 0 .1 0 5.6 0 8.5 0 1.7 0 9.5 0 .9 0 15.6 0 13.1 .1-73.7 0 6.5 0 .5 0 12.7 0 11.5 0 17.2 0 41.7 .1-83.5 0 1.3 0 1.1 0 4.5 0 12.8 0 1.9 0 9.2 .1-21.5 0 3.6 0 7 0 3.8 0 1.4 0 6.9 0 33.1 .1-59.6 0 11.1 0 16.5 0 3.8 0 5.1 0 2.8 0 12.1 0 2.8 .1-42.2 0 6 0 1 0 9.4 0 .5 0 26.8 .1-81.8 0 9.7 0 6.8 0 7 0 .2 0 4.6 0 1 0 7.7 0 9 0 3.8 0 11 0 17.5 0 1.1 .1-43.8 0 7.9 0 4.7 0 4.3 0 .4 0 1.9 0 2.6 0 19.8 0 11.2 .1-33.4 0 .8 0 2 0 5.9 .1-34 0 2.1 0 8.4 0 3.1 0 2.8 0 7.7 0 9.4 .1-48.3 0 35.9 0 1.8 0 .3 0 8.2 0 2.6 0 .6 0 5.9 .1-32.6 0 10.8 .1-28.4 0 28.5 0 1.5 0 4.1 0 21.3 .1-49.9 0 1.4 0 6.6 0 25.5 0 9.3 .1-46.3 0 3 0 3.2 0 15.8 0 6.7 0 31.1 .1-43 0 5.3 0 1.9 0 3.9 0 9.3 .1-19 0 2.4 0 .2 0 2.4 0 10.4 0 2.2 0 10.5 0 3.8 .1-49.8 0 7.5 0 11.9 0 24.5 0 18.5 .1-38.6 0 6.9 0 9.1 0 5.8 0 1 .1-22.1 0 1.2 0 25.8 .1-42.5 0 .4 0 1.7 0 13 0 1.9 0 5 0 .7 0 3.8 0 2.5 0 1.4 0 1.5 .1-33.7 0 15.5 .1-25.7 0 34.3 0 1.7 0 0 0 4.2 0 1.7 0 5.7 0 5.4 0 13.4 0 .9 .1-63.5 0 7.4 0 1.3 0 9.5 0 5.1 0 .1 0 1.5 0 4 0 2.5 0 4.1 0 2.4 0 1.4 0 19.9 0 11.9 .1-75.2 0 8.1 0 12.3 0 8.2 0 1.5 0 1.3 0 1.9 0 1.8 0 2.5 .1-26.9 0 .9 0 8.4 0 2.5 0 9.8 0 1.5 0 14.8 0 3.3 0 .7 .1-58.6 0 21.1 0 1.9 0 20.1 0 .9 0 15 0 18.4 .1-72.6 0 6.5 0 8.7 0 3.5 0 2.2 0 .1 0 8.1 0 2.5 0 8.1 0 4 0 7.2 .1-38.5 0 6.8 0 1.5 0 18.4 0 21.8 0 7.8 .1-34.3 0 1.6 0 47.6 .1-87.4 0 12.6 0 28 0 .2 0 15.3 .1-56.8 0 32.2 0 10.1 0 3.2 0 0 0 21.7 .1-66.5 0 23.3 0 8.3 0 2.4 0 7.3 0 1.4 0 .7 0 28.3 .1-70.3 0 3.4 0 11 0 17.3 0 4.5 0 7.3 0 5.2 0 3.9 0 1.2 .1-52.3 0 24 0 10.7 0 32.9 .1-78.8 0 43.5 0 3.6 0 5 0 .1 .1-28.4 0 30.1 0 12.5 .1-13.8 .1-66.8 0 42.5 0 25.4 .1-41.7 0 1.6 0 .6 0 19.7 0 .5 0 18.4 0 .2 0 .4 0 2.3 0 1.1 0 11.5 0 25.3 .1-68.7 0 22.2 0 6.5 0 1.5 0 1.8 0 12.2 .1-51.9 0 6.7 0 14.4 0 .9 0 5.2 0 2.2 0 1.2 0 4.4 0 5.8 0 4.3 .1-36.7 0 1.6 0 14.7 0 4.1 0 1.2 0 7.9 .1-21.2 0 8.2 0 9 .1-32.5 0 3.3 0 .6 0 .1 0 .2 0 1 0 8.3 0 .1 0 5.4 0 4.5 0 7.5 0 1.1 .1-29.6 0 5.1 0 7.8 0 12.1 0 .5 0 1.8 0 6.3 0 3.4 0 1.7 0 1 0 6.9 0 18.9 .1-69.9 0 10.2 0 3.1 0 13.2 0 5.8 0 6.6 .1-23.6 0 19.4 0 8.6 .1-29.2 0 1.7 0 33.5 .1-49.2 0 .8 0 .4 .1-6.9 0 17.5 0 19.8 0 20.2 0 3.5 0 15.7 .1-74.6 0 3.1 0 2.2 0 17.3 0 .2 0 2.6 0 .9 0 5.4 0 8 0 1.8 0 4.3 .1-47.1 0 7.2 0 3.9 0 12.7 0 7 0 4 0 2.3 0 2.2 0 1.2 0 4.8 0 2 0 2 0 1.6 .1-44 0 2.9 0 6.2 0 1.7 0 5.3 0 1.5 0 4.8 0 6.1 0 18.4 0 6.7 .1-77.9 0 29.4 0 5.4 0 8.1 0 8.1 0 1.8 0 4.4 0 8.5 0 14.5 .1-57.3 0 5.5 0 .7 0 .5 0 3 0 2.7 0 .6 0 1.1 0 14.8 0 9.3 .1-35.2 0 10 0 2.1 0 3.4 0 1.5 0 0 0 .3 0 5.2 0 11.6 0 4.1 0 14.9 .1-61.4 0 13.5 0 .5 0 14.4 0 1 0 7.4 0 2.2 0 1.4 0 13.8 0 13.9 .1-51.4 0 3.7 0 9.1 0 1.9 0 8.3 0 2.3 0 12 .1-46.1 0 7.1 0 27.1 .1-55.5 0 18.2 0 .8 0 13.6 0 12.2 0 4.7 0 .4 0 3 0 2.8 0 1.1 0 4.9 .1-33.3 0 13 0 17.3 .1-45.4 0 20.1 0 10.7 0 2.1 0 5.5 0 16.9 0 1 .1-48 0 2.9 0 0 0 21.8 0 10.5 0 16.3 .1-57.5 0 15.5 0 43.2 0 .6 .1-70.6 0 15.9 0 9.2 0 2.8 .1 4.8 0 9.3 0 .8 0 13 0 16.9 .1-29 0 .8 0 13.6 .1-52.5 0 17 0 6.3 0 8.5 0 9.1 0 13.3 0 .6 .1-39 0 2.8 0 11.9 0 1.6 0 13.4 0 10.1 .1-44.8 0 6.6 0 11.2 0 8.2 0 18 .1-35.9 0 12.8 0 8 .1-26.5 0 .9 0 .6 0 3.8 0 7.3 0 2.9 0 5.2 0 3.5 0 11.1 0 2.4 0 9.8 .1-39.9 0 3.7 0 7.3 0 14 0 8.1 0 7.5 0 8.9 0 17.9 .1-70.5 0 8.5 0 18 0 12.9 .1-92.7 0 46.8 0 1 0 1.6 0 1.4 0 10.8 0 18.7 .1-18.4 0 3.9 0 8.4 0 6.4 0 11.1 .1-55 0 .3 0 10.2 0 3.2 0 1.4 0 7.1 0 17.6 0 18.7 0 2.7 .1-53.8 0 14.3 0 1.1 0 2.7 0 22.1 .1-41.9 0 .2 0 21.3 0 2.4 0 4.6 0 8.6 0 2.1 0 4.6 .1-43.4 0 4.8 0 .4 0 6.2 0 4.3 0 1.2 0 27.2 .1-40.3 0 3.9 0 6.7 0 2.4 0 5.5 0 7.5 .1-30.9 0 .4 0 10.1 0 6 0 8 0 4.9 0 .6 0 11.5 .1-56.2 0 24 0 28.5 0 19 .1-57.3 0 23.7 0 2.5 0 4.5 0 18.9 0 6.1 .1-75.6 0 27.8 0 6.5 0 .5 0 11.1 0 15.2 0 11.5 0 1.3 .1-62.3 0 12.2 0 10.7 0 7.1 0 13 .1-36.9 0 1.4 0 40.7 .1-7.6 .1-34.7 0 10.5 0 3.3 0 4.5 0 5.2 0 23.5 .1-30.9 0 14.8 0 2.4 0 8.5 0 5.5 .1-20.3 0 8.4 0 15.6 0 20.6 .1-70 0 14.3 0 19.1 0 12.9 0 15 .1-53.6 0 4.7 0 0 0 6.7 0 5.5 0 .1 0 5.4 0 8.3 0 11.9 0 13.1 .1-39.7 0 1.8 0 7.3 0 2.5 0 16.2 0 5.1 .1-60.6 0 20.4 0 13.1 0 11.4 .1-29.8 0 6.5 0 3 0 8.3 0 2.4 0 9.9 0 8.1 0 6.4 .1-60.2 0 7.3 0 2.9 0 12.8 0 1.2 0 3.5 0 9.2 0 1.4 0 9.2 .1-30.1 0 11.4 0 5.3 0 11.6 0 1 0 17.6 .1-65.1 0 14.1 0 14.8 0 7 0 .5 0 1.5 0 16.8 .1-36 0 .9 0 10.2 0 19.1 0 10.1 .1-46.8 0 21.1 0 9.5 0 10.7 .1-49 0 8.8 0 46.4 .1-55.8 0 20.3 0 6.1 0 19.7 0 .6 0 1.2 .1-47.1 0 27.4 0 6.2 0 13.5 .1-51.1 0 9.8 0 12.3 0 44.3 .1-53.6 0 4 0 5.8 0 26.9" marker-start="url(#m0)" marker-mid="url(#m0)" marker-end="url(#m0)"/>
<path d="M421 60.3l0 18.1 0 14.4 0 10 .1-42.8 0 .9 0 1 0 2.5 0 32.8 0 .2 0 38.5 .1-85.3 0 11.6 0 13.9 0 10 0 7.2 .1-62.8 0 20 0 8.3 0 1.7 0 8.7 0 1.4 0 3.1 0 33.6 0 7.6 .1-56.6 0 4.3 0 8 0 10.1 0 6.9 0 17 .1-41.4 0 1.9 0 11.6 0 2.9 .1-13.7 0 .8 0 10.2 0 6.3 0 .9 0 0 0 3.1 0 12.7 .1-55.9 0 15.2 0 5 0 20.4 0 24.3 .1-48.9 0 .2 0 .1 0 2.2 0 7.3 0 31.9 .1-56.7 0 7 0 10.8 0 .6 0 .2 0 7.4 0 9.4 0 4 0 23.3 0 1.3 0 10 0 4.3 .1-73.2 0 18 0 11.5 0 19.5 .1-51.4 0 3.3 0 .8 0 6.8 0 5.5 0 7.6 0 1.9 0 1.4 0 5.3 0 10.4 .2-45.5 0 13.6 0 14.2 0 19.6 0 5.7 .1-31.8 0 27.2 0 1.3 0 13.7 .1-52.4 0 3.3 0 4.8 0 2.6 0 3.5 0 3.3 0 5.6 0 0 0 .3 0 5 0 6.1 0 9.8 0 1.7 0 3.1 .1-55.3 0 15.9 0 .3 0 9.7 0 1.9 0 9.9 0 3 0 5.1 .1-46.5 0 18.1 0 2.5 0 19.8 0 11.9 .1-41.7 0 .5 0 3 0 8.6 0 .3 0 4.4 0 .6 0 46.1 .1-80.8 0 .5 0 22.9 0 6.3 0 .7 0 1.6 0 5.9 0 6.2 .1-38.4 0 33.8 0 13.1 0 4.5 0 28.3 0 16.1 .1-78.2 0 13 0 22.6 .1-69.8 0 13.8 0 14.8 0 8.1 0 .7 0 13.8 0 2 0 25.9 .1-54.5 0 22.1 0 1.4 .1-33.2 0 7.2 0 18.5 0 2 0 1.7 0 53.9 .1-77.5 0 1.6 0 .8 0 1.2 0 13.9 0 4.6 0 1.9 0 5.1 0 1.8 0 7.3 .1-43.1 0 2.8 0 15.3 0 5.2 0 3.4 0 5.9 0 10.1 0 .5 .1-54.2 0 28.9 0 24.3 0 17.3 .1-70.5 0 28.7 0 6.9 0 6.1 0 3.1 0 4 0 3.3 0 18.6 0 12.8 .1-57.7 0 3.7 0 3.6 0 7.3 0 31 0 3.5 .1-30.4 0 18.1 0 18.5 .1-66.9 0 .4 0 2.8 0 6.5 0 18.7 0 16.4 0 26.6 .1-69.9 0 .5 0 24.2 0 2.7 0 .2 0 2.1 0 15.2 0 11.6 0 16.2 .1-81.9 0 3.8 0 35.5 0 .1 0 5.5 0 32 0 27.5 .1-112.2 0 7.9 0 7.3 0 8.6 0 11.3 0 .2 0 3 0 7.7 0 3.6 0 9.2 0 1.8 .1-44.6 0 12.1 0 .6 0 4.2 0 5 0 3.2 0 .5 0 5.3 0 2.4 0 2.6 0 3.8 .1-40.6 0 19.1 0 10.1 0 7.6 0 13.5 0 12.1 .1-64.3 0 8.8 0 8.1 0 13.1 0 0 0 2.9 .1-34 0 25 0 4.2 0 1.8 0 15.8 0 25.8 .1-67.7 0 5 0 16.5 0 1.9 0 1.5 0 3.8 0 3.8 0 2.6 0 11.1 .1-49.2 0 10.1 0 .4 0 18.4 .1-23.3 0 4.6 0 3 0 6.4 0 8 .1-26.9 0 17.2 0 4.7 0 4.2 0 7.3 .1-31.9 0 12.9 0 .6 0 .6 0 8.8 0 11.9 0 2 0 19.2 0 4.2 0 .9 0 4.9 .1-49.1 0 4.4 0 0 0 .4 0 5.5 0 11.8 0 6.3 .1-45 0 5.5 0 5.7 0 .6 0 6.8 0 3.9 0 17 .1-51.1 0 8.6 0 7.2 0 37.4 0 4.5 .1-52.9 0 17.9 0 22.8 0 4 0 9 0 21.8 .1-48.7 0 12.6 0 25.1 0 1.9 .1-61.2 0 14.2 0 3.8 0 9.7 0 18 0 5 0 3.6 0 6.6 .1-66.9 0 10.3 0 19.8 0 1.3 0 19 .1-30.1 0 2.5 0 29.7 0 14.1 .1-60 0 6 0 1.6 0 2 0 1.1 0 6.1 0 14.8 0 11.6 0 19.4 .1-64.7 0 7.7 0 1.7 0 24.4 0 10.7 0 8 .1-50.8 0 14.3 0 6.2 0 2.5 0 .1 0 10.6 0 1.6 0 25.3 .1-72.4 0 14.5 0 7.2 0 6.1 0 .3 0 4.3 0 1.9 0 4.4 0 4.1 .1-37.6 0 12.9 0 2.6 0 2.9 0 .2 0 .6 0 3.1 0 2.2 0 1.2 0 4.8 0 5 0 9.3 0 .5 0 2.1 0 9.2 .1-54 0 19.1 0 9.5 0 11.1 0 25 .1-79.4 0 4.9 0 2.2 0 3.2 0 2.8 0 2.3 .1 4.7 0 7.3 0 3 0 2.9 0 15.2 0 1.4 0 15 .1-46.9 0 23.5 0 5.4 0 6.4 0 39.8 .1-74.7 0 3.2 0 3.4 0 1.2 0 7.1 0 4.6 0 10 0 3.3 0 13.7 0 26.7 0 .6 .1-70.8 0 5.6 0 14.5 0 5.4 0 16.4 0 21.5 .1-63.1 0 8.6 0 6.9 0 3.9 0 1.1 0 5.6 0 2.5 0 12 .1-39.2 0 2.6 0 11.6 0 18.6 0 12 .1-66.4 0 5.6 0 4.1 0 .9 0 5.8 0 19.7 0 .9 0 5.6 0 2.3 0 5.3 0 10.5 0 2 0 18.3 .1-63.4 0 .6 0 16.2 0 26.8 0 10.2 0 7.4 0 2.8 .1-71.1 0 2.6 0 1.8 0 8.5 0 11 0 10.3 0 .6 0 16.3 0 15 0 30.9 .1-100.9 0 2.5 0 12.7 0 6.2 0 1.3 0 8.6 0 18.3 .1-42.2 0 1.2 0 1.2 0 22 0 27.8 .1-52.2 0 .6 0 12.8 0 9.1 0 1.8 0 .2 0 4.8 0 14.2 0 13.6 .1-71.2 0 .2 0 4 0 17 0 17.5 0 3.6 0 18.2 0 7.7 .1-60.8 0 8.7 0 4 0 7.4 0 12.1 0 10.3 0 42.5 .1-94.3 0 17.8 0 19.4 0 .5 0 16.7 .1-48.6 0 3.3 0 18.9 0 .4 0 19 0 5 0 11.2 .1-43.2 0 2.9 0 1.3 0 2 0 2 0 9.4 0 25.5 .1-26.8 0 9.1 0 16.5 0 .6 .1-53.3 0 8.8 0 .4 0 11.8 0 18.1 0 4.7 0 14.2 .1-49.2 0 7.5 0 9.5 0 46.6 .1-87.6 0 17.2 0 4.1 0 2.8 0 62.3 .1-61.3 0 7.7 .1-15 0 27 0 .1 0 .4 0 17.8 .1-56.4 0 13.6 0 2.9 0 .1 0 5.8 0 7.5 0 8.3 0 42.2 0 5.3 .1-55.5 0 .4 0 6.9 0 42.1 0 9 .1-69.4 0 8.1 0 3.8 0 3 0 11.4 0 7.4 0 17.5 0 9.1 .1-48.8 0 6.6 0 9.8 0 31 0 5.9 .1-74.7 0 21 0 6.5 0 16.5 0 5.5 .1-45.9 0 9.2 0 1.6 0 12.3 .1-35.6 0 29.5 0 9.4 0 18.5 .1-51.4 0 9.6 0 17.7 0 11.1 0 7.4 0 3.6 0 4.9 .1-58.8 0 1.2 0 3.4 0 6.6 0 2.6 0 19.6 0 6.3 0 13.6 0 29.5 0 7.4 .1-95.5 0 16.6 0 11.4 0 0 0 3.1 0 10.5 0 31.7 0 18.4 .1-78 0 7.4 0 .9 0 12.8 0 10.3 0 16.3 0 8.4 .1-63 0 13.5 0 7.7 0 1.3 0 1.8 0 .1 0 .2 0 .5 0 25.6 0 1.6 0 17.8 .1-60.4 0 1.4 0 3.7 0 9.8 0 10.6 0 13.1 0 9.3 0 4.9 0 12 0 23.6 .1-89.1 0 3.3 0 26.4 0 22.8 .1-53.9 0 19.4 0 8.5 0 3.1 0 14.9 .1-51.7 0 9.1 0 15.2 0 8.8 0 1.6 0 1.9 0 11 0 19.4 0 7 0 .6 .1-68.8 0 37.3 .1-44.8 0 31.1 0 12.1 0 12.7 0 2.4 0 4.3 .1-77.4 0 16.6 0 1.7 0 .1 0 1.1 0 14.3 0 7.2 0 4.8 0 40.8 .1-35.9 0 2.1 0 3.5 0 18.8 0 5.8 0 .4 0 19 .1-87.7 0 34 0 13.6 0 25.6 .1-77.6 0 15.9 0 27.3 0 1.2 0 1.9 0 .1 0 7.7 0 .3 0 13.7 .1-54.9 0 21.7 0 4.3 0 3.1 0 5.8 0 4.9 0 5.7 .1-44.1 0 32.1 0 5.3 0 4.4 0 25.1 .1-69.6 0 3.7 0 4.6 0 .5 0 18.4 0 14.9 0 1.4 0 2.3 0 34.6 .1-30.6 0 10.7 0 20.4 .1-75.3 0 7.5 0 4.8 0 4.2 0 4.4 0 17.9 0 21.7 .1-50.5 0 6.4 0 9.2 0 3.5 0 7.8 0 41.1 .1-96.8 0 .4 0 7.9 0 5.2 0 22.3 0 4.6 0 1.9 0 19.5 0 .3 0 10.5 .1-64.4 0 1.5 0 12.5 0 4.4 0 39.6 0 17.3 .1-71.3 0 3.5 0 14.8 0 3.9 0 22.5 0 13.3 0 17.8 0 2.6 0 7.9 .1-67 0 3.1 0 30.5 0 6 0 13.9 .1-72.1 0 11.4 0 7.7 0 14.5 0 1.9 0 19.4 0 43.5 .1-86.8 0 3.6 0 11.7 0 .2 0 2.2 0 10.8 0 .1 0 30 .1-63.8 0 7.2 0 7.8 0 6.7 0 35.2 0 1.3 .1-57.1 0 6.4 0 4.3 0 1.9 0 1 0 37.4 0 3.9 0 14.2 .1-84.5 0 .1 0 4.9 0 6.1 0 1.8 0 17.4 0 7 0 16.7 0 2.3 0 14.4 0 11.5 .1-83.7 0 25.4 0 3.5 0 9.9 0 10.5 0 1.1 0 .6 0 47.4 .1-90.3 0 31.4 0 8.6 0 15.2 0 17.4 .1-73.1 0 2.2 0 6.6 0 3.7 0 12 0 15.7 0 3.2 0 1.4 0 1.7 0 23.8 0 6 0 4.3 .1-91.2 0 32.2 0 3.8 0 7.6 0 1.4 0 4.9 0 8.5 0 30.8 .1-84 0 25.2 0 3.5 0 2.1 0 .3 0 9 0 4.7 0 11.5 0 12.8 0 8.7 .1-47.1 0 8.7 0 1.4 0 28.6 0 9.4 .1-60.4 0 23.5 0 8.6 0 2.7 0 1.8 0 15.3 .1-60.8 0 11.3 0 4.3 0 15.2 0 6.2 0 16.4 0 0 0 20 .1-73.7 0 .7 0 11.3 0 17.1 0 .2 0 3.8 0 34.6 .1-53.3 0 2.6 0 0 0 2 0 10.4 0 11.5 0 7.2 0 1.4 0 2.8 0 11.2 0 4.1 0 4 0 7.6 .1-66.7 0 37.8 0 14.6 .1-59.4 0 1.5 0 22.2 0 .4 0 13 0 12 0 .4 0 8.5 0 .4 .1-51.2 0 5.4 0 9.9 0 .4 0 2.7 0 14.3 0 7.7 .1-14 0 2.7 0 8.5 0 9.5 0 6.1 0 .8 .1-72.6 0 15.6 0 .7 0 8.6 0 7.5 0 2.2 0 3.2 0 43.7 .1-84.8 0 4.6 0 26.5 0 9.7 .1-30.9 0 11.9 0 3.9 0 4.6 0 7 0 5.6 0 11.7 0 18.7 0 8.7 .1-72.9 0 30.9 0 11.1 0 3.5 0 6.8 0 3.8 .1-49.9 0 3.5 0 8.4 0 7.1 0 20.4 .1-51.6 0 10.4 .1-19.4 0 21.3 0 14.9 0 3.9 .1-36.3 0 14.5 0 3.4 0 2.5 0 1.1 0 21 0 11 0 9 0 7.7 .1-55.1 0 3.7 0 2.6 0 6.6 0 9.9 0 1 0 2.9 0 8 0 12.3 0 .2 0 11.9 0 16.4 .1-84.4 0 12.7 0 2.6 0 19.8 0 6.8 .1-42.3 0 28.2 0 33.9 0 9.7 .1-69.9 0 15.7 0 1.8 0 5.3 0 18 0 1.9 0 1 0 3.4 .1-49.4 0 13 0 3.8 0 15.2 0 5.2 0 27.1 .1-56.8 0 12.3 0 12.4 0 20.3 0 13.8 .1-34.9 0 11.2 0 11 0 27 .1-63.3 0 4 0 1.1 0 19.7 0 6.1 0 3.7 0 9.8 0 5.4 .1-62.5 0 17.2 0 6.9 0 .2 0 .4 0 39.3 .1-58.4 0 9 0 7.1 0 14.8 0 26.5 .1-52.3 0 4.2 0 11.2 0 38.7 0 1.7 0 13.6 .1-89.5 0 14.1 0 18.8 0 17.5 0 31.1 0 3.7 0 9.5 0 .2 0 14.2 .1-95.5 0 4.1 0 21.4 0 1.6 0 1.1 0 21.8 0 15.3 0 1.3 0 .6 .1-73.8 0 48.7 0 20.2 .1-62.8 0 23.1 0 45.3 0 4.9 .1-72.5 0 3.5 0 6.8 0 6.4 0 8.9 0 17.4 .1-61.4 0 8.3 0 15.2 0 7.7 0 5.4 0 7 0 3.8 0 22.9 0 16.1 .1-27.6 0 7.2 0 3.6 .1-58.4 0 32.7 0 1.6 0 10.4 0 5 0 6 0 6.2 0 6.7 0 35.3 .1-98.6 0 1.8 0 34.9 0 32.9 0 9.2 .1-79.4 0 2.7 0 2.5 0 15.4 0 3.9 0 .8 0 24.9 0 3.8 0 5.4 .1-74.5 0 10.9 0 18.5 0 33.5 0 16.1 0 4.7 .1-57.4 0 17.2 0 2 0 14.6 .1-44.8 0 10.5 0 26.5 0 2 0 4.5 0 5.5 0 18 .1-71.8 0 8.1 0 .1 0 5.6 0 18.9 0 1.2 0 2.6 0 18.2 0 7.3 0 6.6 0 19.9 .1-72.5 0 .1 0 11.7 0 .2 .1-32.1 0 9.8 0 10.1 0 1.5 0 22.9 0 3.2 0 6.2 0 25.5 0 1.5 0 19.7 .1-95.8 0 .1 0 15.7 0 1.8 0 14.9 0 4.8 0 13.7 .1-43 0 24.8 0 7.7 0 30.8 0 8.9 0 1.6 .1-100.2 0 9.4 0 10.2 0 10.8 0 5.4 0 2.8 0 54 .1-67.3 0 10.3 0 8.8 0 13.6 0 .5 0 5.5 0 14.2 0 7.7 0 4.1 0 10.4 0 11.4 .1-89.8 0 8 0 6.3 0 45.2 .1-60.1 0 3.8 0 13.5 0 3.3 0 6.9 0 5.9 0 18.6 0 17.3 .1-69.4 0 27.2 0 3.6 0 6.3 0 5.7 0 7.1 0 .4 0 2.1 0 1.5 0 1.9 .1-42.5 0 7.6 0 9.8 0 9.9 0 8.4 .1-20.5 0 .9 0 2.6 0 .7 0 2.2 0 12.2 0 29.1 .1-71.2 0 6.1 0 1.4 0 4.3 0 6.9 0 11.8 0 1.5 0 3.2 0 16.3 0 4.6 0 6.2 .1-62 0 15.5 0 8.4 0 6.7 0 7.2 0 33.9 0 6.5 .1-74.1 0 5.1 0 .5 0 15.1 0 9 0 2.5 0 .7 0 33.1 .1 5.4 .1-102.1 0 21.9 0 9.1 0 37.5 0 13.8 .1-56 0 23.9 0 1.2 0 13.8 0 18.8 .1-64.6 0 3.3 0 13.5 0 8.6 0 1.1 0 2.5 0 .5 0 8.1 0 5.5 0 34.7 0 17.7 .1-95.1 0 6.7 0 9.1 0 21.5 0 .6 0 .1 0 20.6 0 9.9 0 18.2 .1-89.4 0 29 0 3.9 0 4 0 1.5 0 25.1 0 2.8 0 5.4 0 5.3 .1-75.8 0 4.9 0 2.3 0 21.2 0 14.9 0 .6 0 1.3 0 1.9 0 3.1 0 1.9 0 3.6 0 4.8 0 1.5 0 1 0 24.9 .1-92 0 17.3 0 27.4 0 10.9 0 27.5 .1-55.7 0 1.1 0 1 0 3 0 1.1 0 14.9 .1-37.6 0 22.5 0 15.9 0 16 .1-45 0 9.8 0 7.8 0 21 0 4.8 .1-57.1 0 29.8 0 5.1 0 4.2 .1-18 0 17 0 6.8 0 24.4 .1-64.8 0 6.2 0 32.7 .1-41.7 0 4.4 0 6.1 0 1 0 14.2 0 .2 0 16.5 0 14.9 0 16.4 0 17 .1-91.7 0 5.3 0 8.9 0 11.9 0 24.1 0 11.1 .1-74.9 0 15.3 0 3.8 0 22.2 0 6 0 3.9 0 5.7 0 3.6 0 20.7 .1-59.5 0 16 0 4.2 0 .3 0 5.6 0 1.7 0 6.3 0 .1 0 12.3 0 .7 0 6.1 0 13 .1-85 0 44.2 0 18.5 .1-48.3 0 6.4 0 2.7 0 5.2 0 8.1 0 14 0 10.6 0 8.9 0 2.3 0 3.8 0 5.9 0 54 .1-135.5 0 13.2 0 18 0 51.7 0 14.4 .1-82.9 0 .8 0 15.9 0 9.4 0 2.4 0 2.8 0 36.3 0 4.3 0 5.7 .1-81.6 0 28.9 0 4.2 0 4.8 0 22.7 .1-66.9 0 2.3 0 21 0 .1 0 10.5 0 11 0 22.7 .1-56.9 0 3.5 0 10.7 0 7 0 1.5 0 11.8 0 2.6 0 3.9 .1-36.6 0 13.4 0 10.6 0 8.6 0 21.7 .1-60.6 0 3.3 0 14.1 0 8.9 0 4.4 0 9.9 .1-38.4 0 .3 0 11.7 0 8.2 0 4.5 0 2.1 0 5.9 0 17.2 0 9.3 .1-58.1 0 2.1 0 6 0 3.9 0 5.8 0 5.6 0 5.5 0 4.8 0 .5 0 .2 0 22.6 .1-61.3 0 13.6 0 9 0 2 0 2.7 0 5.2 0 1 0 3 0 5.3 0 25.9 0 3.7 .1-62.8 0 3.8 0 17.1 0 4.5 0 22.1 .1-31.3 0 .7 0 7.8 0 9.7 0 2.5 0 2.8 0 16.7 0 5.1 .1-64.4 0 2.3 0 4 0 8.7 0 11.9 0 2.1 0 1.4 0 9.8 0 .7 0 19.8 .1-65.7 0 9.8 0 3.5 0 .7 0 24.2 0 19.7 .1-69.7 0 19.1 0 6.7 0 5.1 0 10.7 0 51.1 .1-80.6 0 11.4 0 9.8 0 28.4 0 4 0 4.2 0 3.5 0 6.5 .1-59.7 0 2.6 0 7 0 6.1 0 5.3 0 4 0 14.5 0 21.8 .1-77.6 0 .8 0 1.9 0 14.5 0 4.2 0 11.3 0 .8 0 13.1 .1-44.3 0 8.7 0 3.5 0 12.3 0 15.8 0 .5 0 2.5 0 1.3 0 .8 0 8.7 0 2.2 0 18.8 .1-81.9 0 34.2 0 0 0 4.8 0 11 0 6.8 0 7.2 0 9.1 0 24 .1-88.6 0 11.8 0 19.8 0 12.8 0 10.1 0 5 0 23.1 .1-78.4 0 14 0 3.9 0 2.3 0 5.4 0 29.3 0 3 0 5.5 0 9 .1-58.4 0 18.9 0 6.4 0 2.6 0 8.9 .1-32.7 0 .7 0 32.3 0 7.3 .1-44.3 0 5.6 0 21.2 0 27.9 .1-82.3 0 17.7 0 4.8 0 13 0 7 0 12.1 0 15.3 .1-46 0 12.9 0 1.8 0 2.2 0 11.4 0 23.4 .1-56.3 0 10 0 14.5 0 .3 0 7.7 0 .6 0 2.5 0 28.3 0 16.7 0 4.2 .1-69.5 0 6.6 0 6.1 0 14.8 0 8.1 0 3.7 .1-31.2 0 4 0 11.4 .1-40.4 0 12.8 0 10.1 0 10.6 0 15.9 0 8.3 0 .8 0 17.7 .1-80.4 0 3.7 0 7.3 0 5.2 0 2.5 0 11.9 0 14.6 0 11.9 0 1 0 15.3 .1-53.9 0 6.6 0 .7 0 11.7 0 4.6 0 .4 .1-49.9 0 13 0 9.1 0 1.8 0 1.3 0 6.6 .1-11.9 0 2.4 0 81.3 .1-77.8 0 .7 0 29.4 0 5.8 .1-36.4 0 6.2 0 7.1 0 3.3 0 6.7 0 20.1 .1-65.4 0 9.2 0 31.3 0 6.1 0 12.2 .1-32.7 0 .9 0 6.5 0 3.2 0 11.3 0 1.4 0 15.2 .1-26.6 0 6 0 30.6 .1-52.8 0 19 0 31.4 .1-58.2 0 .6 0 7.7 0 5.8 0 1.8 0 17.1 0 1.3 0 8.4 0 5.4 .1-50.8 0 15.3 0 5.2 0 7.9 0 12.2 0 1.9 .1-39.8 0 35.8 .1-44.7 0 13.7 0 1.1 0 1.1 0 5.2 0 10.2 0 37.7 0 2.6 0 .8 .1-98.4 0 36.4 0 3.1 0 5.2 0 24.5 0 69.5 .1-131.1 0 52.1 0 13 0 .2 0 4.4 0 24.4 .1-40.5 0 1.2 0 10.8 0 16.1 0 15.5 .1-82.4 0 2.4 0 3.4 0 22.1 0 13.4 0 10.1 .1-14.9 0 2.3 0 8 0 6.8 0 0 .1-38.2 0 7.2 0 3.7 0 6.6 0 11.2 0 3.2 0 .3 0 4.4 0 23.3 0 11.7 .1-69.9 0 9.2 0 9.4 0 4.8 0 2.3 0 33.7 .1-37.2 0 2.3 .1-24.8 0 18.1 0 3.4 0 11.2 .1-29.1 0 .5 0 13.3 0 3.8 .1-23.3 0 16.5 0 5.6 0 8.1 0 .2 0 .9 0 11.7 0 1.2 0 2 0 2.6 .1-59.7 0 41 0 4.2 0 20.4 0 9.1 .1-67.7 0 3.7 0 18.1 0 2.6 0 1.6 0 12.5 0 2.3 0 3.6 0 7.4 .1-46.1 0 24 0 11.1 0 1.8 0 .2 0 2.7 0 15.2 .1-65 0 14.3 0 2.7 0 9.5 0 42.6 .1-7.2 0 7 0 4.7 .1-65.2 0 26.3 0 10.7 0 1 0 1.8 0 8.1 0 2.3 0 7.4 .1-64.2 0 10.8 0 .2 0 3.3 0 21.3 0 13.5 .1-57.2 0 1.3 0 5.9 0 10.1 0 10.2 0 12.6 0 27.9 .1-58 0 1 0 16.4 0 12.3 0 46.7 .1-75.2 0 9.1 .1-1.2 0 22.7 0 21.6 .1-35.9 0 2.1 0 11.6 0 11.6 .1-8.5 .1-53.5 0 17.2 0 18.5 0 .8 0 5.6 0 4.6 0 1.5 0 12.7 0 3.6 .1-26.7 0 4.3 0 .7 0 2.7 0 0 0 2.3 0 1 .1-28.2 0 .2 0 12 0 2.6 0 3.2 0 13 0 11.5 0 6.2 0 9.8 0 14.8 .1-74.5 0 10.3 0 28.4 0 5.5 0 2.1 0 10.2 0 1.2 .1-52.5 0 7.7 0 3.3 0 24.7 0 14.5 .1-43.1 0 .6 0 4.3 0 8.8 0 9.2 0 7.6 0 12.7 0 3.1 0 7.9 .1-64.5 0 35.1 0 4.4 0 3.1 0 .2 0 .5 0 13.2 .1-51.7 0 .7 0 3 0 6.3 0 5.2 0 26.2 .1-32.3 0 2.9 0 13.8 0 1 0 3.9 0 1.8 0 .2 0 12.8 .1-50.7 0 3.8 0 1.8 0 15.6 0 3.3 0 11 0 .8 0 10.9 .1-23.5 0 28.4 0 16.6 .1-55.3 0 3.3 0 1.4 0 16.6 0 .1 0 3 0 2.8 0 4.6 0 4.2 0 8.4 0 42 .1-116.8 0 21.4 0 2.6 0 4 0 8 0 15.5 0 33.8 .1-67.1 0 12.9 0 2.2 0 1 0 3.7 0 4.8 0 2.3 0 6.8 0 14 0 5.2 0 3.1 0 5.5 .1-31.4 0 8.9 0 5.5 0 14 .1-63.2 0 .9 0 15.5 0 7.4 0 5.8 0 2.3 0 25.1 0 10.3 0 .7 .1-23.1 0 7 0 19.2 .1-86.8 0 34.4 0 4.4 0 4.3 0 6.1 0 3.1 0 3.5 0 3.2 0 30.3 .1-72.3 0 4.1 0 6.6 0 3.3 0 12.8 0 7.4 0 8 0 28.8 0 8.4 .1-86.8 0 33.5 0 5.3 0 10.4 0 1.1 .1-32.3 0 1.4 0 27.8 0 1.4 0 36.8 0 .7 .1-77.6 0 7.4 0 1.6 0 8 0 12.2 0 5.2 0 2.9 0 13.4 .1-49.6 0 0 0 10.3 0 2.5 0 9.7 0 5.6 0 1.3 0 2.5 0 5.2 0 12.5 .1-49.2 0 13.1 0 16.1 0 3.3 0 11.3 0 3.2 0 11.5 .1-57.9 0 1.2 0 8.2 0 2.4 0 1.6 0 26.2 0 12.1 .1-37 0 28.5 0 6.2 0 13.9 0 8.4 .1-69.6 0 0 0 3.1 0 2.4 0 29.5 0 .4 0 20.2 0 4.6 0 1.2 0 31.7 .1-90.8 0 5.1 0 14.3 0 20.2 0 6.6 .1-50.8 0 5.6 0 5.1 0 6.3 0 5.6 0 2.8 0 7.5 0 .4 0 3.1 0 3.8 0 .2 0 11.1 0 3.5 .1-48.2 0 16.9 0 8.5 0 19.3 0 .4 0 5.4 0 8 .1-67.9 0 16.6 0 5.8 0 7.9 0 23 0 21 0 6.2 .1-73.3 0 1.7 0 23.7 0 41 .1-73 0 16.3 0 3.8 0 3.9 0 6.8 0 8.4 0 6.2 0 29.6 .1-65.3 0 7.9 0 1 0 9.5 0 28.2 .1-54.2 0 3.5 0 4.9 0 11.1 0 1.8 0 16.7 0 2.2 0 23.6 .1-69.4 0 11.6 0 9.2 0 1.5 0 11.4 0 2.1 0 .7 0 17.1 0 31.1 .1-82.4 0 4.1 0 3.7 0 6.5 0 12.1 0 10.7 0 4.2 0 24 .1-52.3 0 22.9 0 8.2 0 .6 .1-34.5 0 26.4 0 32.6 0 3.9 .1-50.7 0 3.3 0 7.3 0 10.7 .1-14.8 0 3.3 0 1.1 0 18.7 .1-45.4 0 10 0 10.6 0 10.4 0 5.1 0 2.1 0 22.5 .1-51.4 0 .1 0 3.3 0 .2 0 12.2 0 8.7 0 .7 0 12.7 .1-51.6 0 .6 0 5.2 0 1.8 0 2.4 0 10 0 4.7 0 2.6 0 27.7 0 10 .1-60.4 0 12.2 0 8.5 0 1.3 0 15 .1-39.1 0 .1 0 2.5 0 12.7 0 .3 0 1.3 0 6.3 0 9.3 0 12.2 .1-32.6 0 8.9 0 8.8 0 .5 0 .1 0 3.6 0 3.7 0 20.7 0 6.3 .1-58.9 0 10.4 0 18 0 .7 .1-43.8 0 15.8 0 20.9 0 .1 0 4.8 0 .6 0 7.5 0 20.5 .1-26.4 0 2.5 0 1.3 0 4.4 0 8.2 .1-65.1 0 18 0 9.8 0 2.1 0 23.3 0 15.4 0 9.8 .1-64.3 0 14.8 0 1.3 0 .1 0 14.2 0 19.5 0 .9 .1-48.4 0 .3 0 10.6 0 7.1 0 11.2 0 3.2 0 8.6 0 3.5 0 15.4 .1-55.8 0 1.1 0 14.9 0 15.1 0 11.8 0 8.1 0 12.9 .1-76.4 0 41.4 0 8.3 .1-32.4 0 20.9 .1-35.2 0 8 0 27.3 0 32.1 .1-51.2 0 23.2 0 9 0 2.8 0 17.6 0 4.2 .1-85.9 0 12.5 0 8.4 0 5.2 0 9.7 0 1 0 .2 0 1.9 0 1.6 0 3.3 0 6.7 0 .9 0 3.5 0 4.5 0 5.4 0 19.1 .1-52.5 0 4 0 28.2 0 1.5 .1-31.6 0 10.2 0 0 0 10 0 1.6 0 11.9 .1-43.6 0 1.7 0 4.7 0 1.6 0 1.7 0 1 0 .5 0 6.8 0 1.8 0 4.9 0 2.1 0 5.8 0 33.7 .1-60.4 0 5.3 0 15 0 51.1 .1-79.8 0 15.9 0 6.9 0 5.1 0 18.7 .1-40 0 30.2 0 23.6 .2-79.9 0 15.3 0 8.2 0 .9 0 3.7 0 9 0 12.1 0 .8 0 7 0 .4 0 .7 0 8.4 0 12.8 .1-26.6 0 10 .1-45.2 0 14.2 0 14 0 1.7 0 14.8 0 18 .1-59 0 17 0 6 0 14.4 .1-15.5 .1-14.4 0 3.4 0 2.2 0 6.6 0 2.9 0 3.1 0 22.5 0 10.3 0 1.2 .1-54.1 0 25.9 .1-38.9 0 18.6 0 .2 0 4.4 0 1.1 0 14.4 0 3.9 0 7.9 0 10.3 0 4.7 .1-54.2 0 6.1 0 9.7 0 1.6 0 22.3 0 4.7 0 12.8 0 7.8 0 9.9 .1-66.7 0 18.4 0 8.7 0 24.6 .1-53 0 1 0 5.1 0 3.7 0 .2 0 25.7 0 17.4 0 2.1 0 2.5 .1-69.7 0 26.6 0 1 0 3.5 0 4.8 0 5.6 .1-48.5 0 9.9 0 .7 0 3.3 0 2.6 0 1.5 0 4.4 0 9 0 7.1 0 1.5 0 .6 0 5.4 0 11 .1-55.1 0 5.3 0 3.4 0 3.6 0 5.2 0 2 0 8.7 0 2.8 0 1.7 0 8.5 0 6.1 .1-43 0 6.2 0 11.2 0 9 0 6.7 0 6.7 0 2.9 0 18.3 0 19.1 .1-78 0 7.2 0 1.8 0 4.6 0 5.9 0 3.8 0 11.8 0 2.8 0 10.2 0 7.7 .1-58.7 0 9.7 0 21.3 0 .1 0 1.1 0 38.7 .1-61.7 0 7.1 0 3.2 0 2 0 6.1 0 19.1 0 15.3 .1-50.7 0 5.9 0 6.6 0 2.6 0 3.9 0 5.9 0 1.4 0 8.3 0 16 .1-59.7 0 8.9 0 7.1 0 2 0 10.9 0 1.5 0 .8 0 35.1 .1-70.1 0 24.8 0 1.5 0 3.7 0 4.7 .1-16.6 0 5.5 0 1.5 0 20.5 .1-41 0 9.9 0 9.1 0 45.6 .1-57.7 0 6.6 0 .5 0 .7 0 5.6 0 15.6 0 12.4 .1-39.8 0 5.3 0 15.8 .1-29.2 0 11 0 18.1 0 .6 0 .8 .1-15.7 0 14.1 0 1.3 0 7.7 0 4.8 0 7.9 .1-41.7 0 2 0 7.4 0 .8 0 .7 0 6.8 0 6.5 0 13.1 0 1.8 0 9.3 0 13.6 .1-70 0 4.3 0 3.3 0 10.9 0 11.3 0 3.6 0 1.1 .1-27.8 0 .7 0 26.5 0 4 0 10.8 0 8 .1-42.4 0 10.9 0 2.2 0 8.2 0 .4 0 20.5 .1-57.8 0 3.5 .1-.5 0 12.3 0 3.1 0 8 0 9.8 0 2.4 0 2.3 0 .7 0 4.2 0 2.1 .1-57.1 0 11.7 0 8.1 0 1.4 0 16.8 0 27.3 0 1.7 .1-67.4 0 27.4 0 21.5 0 .9 0 6.2 0 11.6 0 .6 .1-56.1 0 16.6 0 10.3 0 4.2 0 5.5 0 17.6 .1-62.8 0 .4 0 32.2 0 1.6 0 1.1 0 18 0 10.7 .1-38.5 0 .6 0 17.3 0 6.4 0 8.7 0 5.7 .1-65.1 0 32.3 0 6.6 0 9.7 0 16.8 .1-47.8 0 11 0 4.5 0 21.5 0 4.5 0 2.1 0 .5 .1-45.9 0 11.4 0 1.4 0 1.8 0 1 0 1.6 0 28.8 .1-46.9 0 .7 0 3.5 0 2.1 0 5.9 0 .4 0 3.6 0 1.1 0 .8 0 3 0 23.7 0 18.2 .1-91.3 0 24.5 0 1.5 0 8.9 0 14 .1-33 0 3.9 0 13.1 0 4.2 0 10 0 2.3 0 5.7 0 1.1 0 35.6 .1-81.5 0 14.8 0 .4 0 3 0 5.3 0 15.7 0 .6 0 3 0 22.5 0 14.4 .1-71.2 0 4 0 17.4 0 1.4 0 6.7 0 3.8 0 5.8 0 5.7 0 1 0 23.1 .1-71.2 0 7.2 0 26.9 0 16.2 0 13 .1-82.6 0 24.2 0 13.3 0 2.6 0 4.3 0 26.6 .1-34 0 10.4 0 .7 0 6.6 .1-16.8 0 31.4 0 .3 .1-38 0 4.1 0 9.3 0 2.9 0 .7 0 4 0 5.8 0 4.8 0 13.7 .1-50.7 0 14.2 0 3.8 0 12.5 0 3.6 0 16.3 0 2.9 .1-53.7 0 16 0 4.5 0 13 .1-43.3 0 12.5 0 1.3 0 13.7 0 0 0 15 0 29 .1-77.4 0 38.1 0 1.3 0 35.4 0 18.1 .1-75.2 0 6.1 0 5.4 0 .6 0 28.5 0 1.1 0 11.9 .1-59.1 0 4.9 0 11.2 0 .5 0 5.8 0 1.3 0 2.8 0 6.6 0 4.4 0 15.6 0 28.7 .1-72.3 0 0 0 2.7 0 1 0 6.8 0 5 0 3.1 0 .8 0 13.9 0 13.8 .1-62.3 0 34.2 0 2.6 0 3.5 0 3.7 0 1.3 0 20.3 .1-66.5 0 17.1 0 2.1 0 8.7 0 12.9 .1-30.3 0 3 0 24 0 3.7 0 11.5 0 1.3 0 5.2 0 2.4 0 1.6 0 9.9 .1-55.3 0 3.8 0 19.2 0 1.4 0 5.3 0 2 0 3.4 0 28.7 .1-56.6 0 2.1 0 3.1 0 2.1 .1 2 0 3.4 0 5.1 0 7.3 .1-48.4 0 13.3 0 4.1 0 .4 0 3.8 0 1.5 0 4.5 0 2.4 0 5 0 12.8 0 2.7 0 3.3 0 10.2 0 3.9 0 .1 .1-33.7 0 10.7 0 0 0 19.9 .1-55.2 0 1 0 3.8 0 7.6 0 13.5 .1-24.4 0 12.8 0 9.9 0 22 0 6.7 0 12.4 .1-59.4 0 1.3 0 10.3 .1 1.3 0 4.1 0 8.5 0 13.1 .1-33.6 0 .7 0 12.3 0 11.6 .1-42.7 0 18.8 0 9.6 .1-22.7 0 5.8 0 6.8 0 2.4 0 2.9 0 12.9 .1-11.6 0 .1 0 7.5 0 3.8 0 5.4 0 6.3 .1-30.6 0 3.3 0 11.3 0 17.5 0 4 .1-34.5 0 28.3 0 5.1 0 4.6 0 3.9 .1-58.6 0 1 0 3.2 0 1.1 0 12.5 0 2.6 0 5.4 0 9.9 .1-33.2 0 23.6 0 3.6 0 1.3 0 20.6 0 10.2 0 1.6 .1-55.9 0 8.6 0 2.4 0 4.2 0 2.3 0 .8 0 6.6 0 11.9 0 6.9 0 22.4 .1-70 0 4.3 0 4.3 0 4.8 0 50.2 .1-58.2 0 5.1 0 10.7 0 15.3 0 .8 0 9.1 0 4.4 0 4.9 .1-30.6 0 25.7 0 4.2 0 10.4 .1-34.4 0 14 0 .4 0 0 .1-32.5 0 .9 0 30.1 0 8.4 0 4.3 0 .3 .1-55.3 0 2.8 0 11.5 0 2.7 0 6.2 0 .1 0 2.8 0 14.2 0 1.4 0 11.7 0 14.2 .1-46.1 0 19.6 .1-39.3 0 5.8 0 2.3 0 1.7 0 12.4 0 2.7 0 7.3 .1-31.9 0 2.6 0 .1 0 3.7 0 1.1 0 6.4 0 9.9 0 12.9 .1-32.9 0 4 0 5 0 2.1 0 6 0 1 0 8.1 0 15.4 0 15 .1-68.2 0 8.6 0 13 0 8.1 0 1 0 0 0 .6 0 .9 0 1.5 0 21.5 .1-41.7 0 7.9 0 3.8 0 .5 0 2.6 0 1.1 0 9.6 0 2.6 0 .2 0 12.4 .1-23.9 0 8.5 0 19.3 0 7.9 .1-65.4 0 9.9 0 1.2 0 8.7 0 2.4 0 2.9 0 18.5 .1-45.2 0 17.5 0 2.8 0 8.5 0 .3 0 2.6 0 13 0 .3 0 3.1 0 10.7 0 3.9 .1-47.8 0 5 0 2.1 0 1.7 0 6.6 0 13.4 .1-43.1 0 4.5 0 8.8 0 9 0 .8 0 6.4 0 11.4 .1-29.9 0 .6 0 3.6 0 8.9 0 12.9 0 .6 0 2.2 0 1.8 .1-32.6 0 10.6 0 6.1 0 2.8 0 7.5 0 20.2 .1-41.1 0 1.7 0 27.7 0 8.6 .1-32.6 0 9 0 .9 0 1.4 0 16.5 0 2.2 .1-36.4 0 1.8 0 5.1 0 .4 0 4.7 0 7.5 0 1.5 0 .5 0 .7 0 .4 0 2.6 0 1.5 0 31.9 .1-85.5 0 13.9 0 7.2 0 1.5 0 4.8 0 8.8 0 5.4 0 7.9 0 18.9 .1-32.9 0 .2 0 4.5 0 4.2 0 .3 0 5.3 0 1 0 0 0 .1 0 2.1 .1-31.8 0 7.5 0 2.3 0 4.1 0 3.8 .1-24 0 6.3 0 4.3 0 10.1 0 31.1 .1-38.9 0 14.5 0 7.2 0 5 0 19.5 .1-51.7 0 16.4 0 6.6 0 2.4 0 1.8 0 7.1 0 23.2 .1-56.8 0 4.9 0 5 0 14.5 0 2.9 0 .3 0 4 0 1.2 0 11.1 .1-46.7 0 4.9 0 17.4 0 16.6 0 11 0 15.5 .1-63.9 0 5 0 8.3 0 14.3 0 7 0 2.8 0 6.8 .1-50.6 0 6.1 0 5.5 0 20.3 0 1.3 0 5 0 7.7 .1-36.5 0 5.5 0 3.9 0 3.3 0 1.9 0 1.3 0 6.9 .1-24.7 0 9.5 0 2.1 0 5 0 10.1 0 2.4 0 .6 0 2.8 0 4 0 40.8 .1-66.3 0 3.8 0 6.7 0 2.9 .1-26.9 0 1.5 0 4.1 0 1.4 0 5.5 0 2.3 0 3.9 0 2 0 22.2 0 .7 0 11.7 .1-57.2 0 13.4 0 8.1 0 43.7 0 7.3" marker-start="url(#m1)" marker-mid="url(#m1)" marker-end="url(#m1)"/>
<path d="M472.2 46.7l0 41.6 0 7.5 0 21.2 .1-74.1 0 16.6 0 6.3 0 1.5 0 .6 0 14.1 0 12.9 0 7.5 0 16.6 .1-63.7 0 13.6 0 6.2 0 4 0 18.4 0 12.8 0 21.4 .1-60.5 0 17.5 0 15.5 0 3.2 .1-62.2 0 24.3 0 3.8 0 12.3 0 12.6 0 3.8 0 2.8 0 16.6 .1-55.2 0 12.4 0 3 0 3.9 0 6.3 0 11.3 0 1 0 1.3 0 9.6 0 3 0 3.4 .1-44.4 0 2.4 0 10.2 0 10.9 0 28.4 0 6.2 .1-71.9 0 21.2 0 9.3 0 3.7 0 .5 0 6.7 0 1.6 0 3.1 0 19.7 .1-52.9 0 1.2 0 14.9 0 1.7 0 5.5 0 1.6 0 3.4 0 14.8 .1-53.9 0 10 0 8.4 0 .6 0 .6 0 2.6 0 .2 0 11 .1-40.5 0 51.3 0 1.6 0 .6 0 6.2 0 1.7 .1-59.7 0 15.2 0 16.6 0 3.1 .1-19 0 5.8 0 1.9 0 .3 0 1.9 0 1.9 0 1.8 0 21.9 0 6.9 .1-54.3 0 7.3 0 22.2 0 20.3 0 10.2 .1-66.5 0 13.7 0 4.3 0 3 0 5 0 7.1 0 2.9 0 2.3 0 19.3 0 4.5 0 1.9 .1-56.6 0 13.3 0 5.8 0 7.7 0 24.2 .1-56.9 0 5.2 0 26.8 0 17.9 .1-23.5 0 7.4 0 7.5 .1-21.1 0 11.8 0 11.2 0 2.6 0 17.8 .1-64.2 0 17 0 3.5 0 7.3 0 3.2 0 12.5 0 3.3 0 7.6 0 .1 0 .5 0 .5 .1-39.3 0 15.7 0 2 0 12 0 16.7 .1-56.7 0 2.2 0 30 0 4.9 0 26.2 .1-52.2 0 5.2 0 1.4 0 6.2 0 1.8 0 3 0 1.5 0 1.9 0 2.5 .1-21.6 0 13.9 0 10.3 0 8.9 .1-44.8 0 5.3 0 9.9 0 5.9 0 .1 0 2.3 0 .2 0 22 0 2.6 0 8.4 .1-52.2 0 7.3 0 .1 0 .8 0 6.2 0 8 0 8.1 0 8.9 0 .2 .1-40.8 0 31.5 0 1 0 .3 0 12.8 .1-46.3 0 .9 0 3.8 0 8.6 0 9.8 0 11.2 0 1.2 0 9.7 0 10.1 .1-54.7 0 1.3 0 5.4 0 8.3 0 9 0 6.8 0 29.9 0 .5 .1-53.4 0 10.5 0 4.7 0 9 0 2.1 .1-29.5 0 1 0 2.6 0 10 0 .8 0 8.7 0 3.8 0 6.6 0 13.1 .1-37.1 0 9.1 0 4.7 0 4.7 0 3.7 .1-48.3 0 7 0 4.6 0 7.5 0 3.1 0 5.6 0 7.8 0 3.3 0 1 0 8 0 0 .1-40.7 0 17 0 5.8 0 6.6 0 .3 0 1 0 1.8 0 26.9 0 4 .1-39.1 0 .7 0 11.8 0 .2 0 11.1 0 2.1 0 3.7 0 5.3 0 .9 .1-42.7 0 9.6 0 6.4 0 22.1 .1-41.2 0 4.3 0 9 0 1.8 0 3.6 0 13.8 0 .2 .1-39.1 0 15.2 0 1.5 0 5.9 0 17.6 0 2.1 0 16.3 .1-42.7 0 9.2 0 3 0 .1 0 2.4 0 13.5 0 .7 0 .9 .1-50.8 0 14.4 0 18.5 0 1 0 6.8 0 2.1 0 1.8 0 .9 0 9.6 .1-54.6 0 14.9 0 5.1 0 7.9 0 2.7 0 7.8 0 14.7 0 1.5 .1-36.3 0 4 0 3.5 0 20.4 0 18.1 .1-50.5 0 .8 0 3.7 0 7.2 0 33 0 22.3 .1-94.2 0 20.1 0 1.4 0 12.2 0 5.6 0 .3 0 13.9 0 3.6 .1-40.3 0 14.9 0 3.4 0 22.3 0 12.5 .1-63.2 0 11.4 0 .6 0 6.7 0 2.4 0 4.1 0 1.6 0 8.3 0 6.7 0 2.6 0 4.6 .1-54.8 0 11.2 0 23.7 0 2.8 0 .9 0 11.7 0 .1 0 18.1 .1-57 0 2.2 0 4.7 0 7.2 0 1 0 23.1 0 1.7 0 18.3 0 14.4 .1-67.5 0 20.5 0 7.7 0 6.9 0 4.2 0 22.5 .1-60.3 0 18.6 0 10.2 0 27.4 .1-53.3 0 9.1 0 9.9 0 7.2 .1-38.3 0 5.1 0 39.2 0 .6 0 1.4 0 1.6 0 9.8 .1-42 0 5.8 0 .6 0 32.5 0 17.5 .1-66.7 0 3.5 0 8.7 0 11.7 0 20.5 0 .4 .1-44.8 0 3 0 15.4 0 3.1 0 13.7 .1-39.2 0 10.2 0 1.3 0 13.8 0 11.3 0 .9 0 4.1 0 5.4 0 .9 0 10.3 .1-48.6 0 5.8 0 6.4 0 20.6 0 9.3 .1-43 0 4.6 0 .6 0 .1 0 .4 0 5.9 0 .3 0 .8 0 12.8 0 44.2 .1-64 0 8.1 0 6 0 4.9 0 12.6 0 1.7 0 28.4 .1-67 0 6 0 3.7 0 14.7 0 .8 0 0 0 .9 0 .4 0 3.3 0 1.2 .1-42.9 0 14.5 0 11.1 0 .9 0 .3 0 22.4 0 9.6 0 2.3 .1-33.9 0 .7 0 3.5 0 .1 0 2.5 0 3.4 0 6.2 0 4.3 .1-38.5 0 7.8 0 3.7 0 .6 0 4.1 0 3.7 0 4.5 0 .5 0 7.5 0 .7 0 21.3 .1-58.9 0 2.7 0 26.4 0 2.1 0 11.4 0 13.4 .1-59.2 0 7.7 0 27.3 0 8.6 0 .4 0 2.7 .1-37.5 0 .6 0 8.3 0 12.4 0 14.1 0 9.2 0 5.4 .1-64.7 0 2.3 0 2.5 0 12.5 0 5.8 0 11.8 0 7.4 0 3.7 0 3.5 0 12 .1-46.5 0 2.5 0 5.2 0 14.7 0 1.4 0 4.1 0 7.2 .1-36 0 0 0 9.6 0 19.5 0 11.8 .1-61 0 24.2 0 1.6 0 2.3 0 8.7 0 7.5 0 2.9 0 8 0 8.7 0 .7 0 1 0 .7 .1-60.8 0 26.7 0 1.5 0 13 0 .3 0 3.2 0 .4 0 2.3 0 10.4 0 9.2 .1-53.7 0 16 0 5.4 0 1.7 0 .5 0 12.9 0 .7 0 5.3 0 14.1 .1-87.5 0 20.9 0 24.4 0 1.8 0 22.3 .1-54.5 0 22 0 3.2 0 5.1 0 12 0 9 0 7.1 .1-50.8 0 26.2 0 5.6 0 12 0 2.9 0 1.5 0 17.7 .1-42.9 0 4.3 0 1.4 0 3.7 0 .3 0 1.7 0 2.7 0 .8 .1-35.1 0 4.3 0 4.6 0 27.1 0 5.9 0 11.3 0 2.1 0 4.1 .1-39.4 0 27.3 0 5.1 0 18.9 .1-66.8 0 5.5 0 16.9 0 2.3 0 7.9 0 20.2 .1-66.9 0 19.4 0 8.3 0 2.8 0 5.1 0 1.6 0 .3 0 8.6 0 4.7 .1-25.3 0 22.4 0 .3 0 10.4 0 6.4 .1-64 0 10 0 8.7 0 1.9 0 7.5 0 5 0 1.5 0 1.8 0 13.9 0 5.5 0 16.3 0 1 .1-69.2 0 1.8 0 20.3 0 1.9 0 11.3 0 10 .1-45.8 0 32.8 0 9.6 0 3.3 0 11.8 0 12.9 .1-63.2 0 46.9 0 4.8 0 4.6 0 7 .1-70.3 0 17.9 0 9.1 0 1.8 0 1.6 0 28.8 0 2.8 0 20.5 .1-64.1 0 5.2 .1-11.7 0 7.7 0 8.2 0 11.3 0 9.5 0 6.7 0 3.9 0 6.3 .1-55.7 0 4.9 0 5.3 0 11.5 0 7.5 .1-44.5 0 13.9 0 14.1 0 7.2 0 2.8 .1-29 0 4.3 0 3.7 0 2.2 0 9.4 0 11.8 0 16 .1-40.1 0 12.5 0 3.5 0 11.2 0 6.2 0 4.7 .1-46.1 0 9.4 0 5.4 0 11.3 0 9 0 .8 0 .8 0 2.2 0 .6 0 27.5 .1-60.5 0 4.5 0 .7 0 3.1 0 5.4 0 14.6 0 10.6 .1-30.7 0 1.2 0 1.2 0 7 0 44.9 .1-66.6 0 14.1 0 13.1 0 3.5 0 3.1 0 .1 0 .7 0 9 0 1.9 0 10.4 .1-65.9 0 9.3 0 15.1 0 6.4 0 5.4 0 1.8 0 38.3 .1-61.4 0 4.8 0 12.3 0 20.4 0 8.3 0 6.5 .1-44.1 0 9.3 0 28.6 0 1 0 .6 .1-48.4 0 5.4 0 .1 0 11.4 0 .5 0 8.6 0 3 0 .9 .1-33.9 0 21.3 0 3.2 0 17.6 0 2.8 0 4.7 0 5.3 0 3.8 .1-59.2 0 3 0 .5 0 20.3 0 38.4 .1-69.9 0 20.3 0 5.9 0 1.2 0 5.9 0 4 0 1 0 7.8 0 7.7 0 16.3 .1-51.5 0 1.8 0 3.3 0 4.4 0 5.7 0 5.5 0 10.7 0 4.5 .1-40.7 0 .2 0 3.9 0 15.8 0 31 .1-70.9 0 17.8 0 20.3 0 2.6 0 1 0 5.3 0 4.8 0 3.2 .1-36.8 0 1.6 0 13.4 0 .4 0 7.3 0 1.2 0 2.3 0 6 0 13.1 0 11.2 0 8.8 .1-74.4 0 44.4 0 .3 0 3.7 0 10.6 .1-52.1 0 10.5 0 .4 0 11.2 0 2.7 .1-12.1 0 .8 0 9.1 0 3.8 0 4.3 0 7.6 0 2.6 0 .1 0 5.9 .1-52.5 0 36.3 0 22.8 .1-61.2 0 22.4 0 29.6 0 9.8 0 3.7 .1-56 0 5.9 0 11.6 0 3.8 0 7.6 0 6.2 0 10.6 0 11.1 0 5.3 .1-76.4 0 27.9 0 .6 0 9.4 0 1.5 0 1 0 3.1 .1-15.7 0 5.9 0 30.2 0 1.4 .1-34.8 0 3.8 0 3.3 0 5.8 0 5.9 0 3.2 0 .4 0 18.3 .1-61.8 0 15.8 0 4.4 0 .1 0 .7 0 10.5 .1-35 0 1.9 0 1.2 0 28.9 0 3.8 0 .9 0 1.2 0 27.7 .1-48.3 0 1.2 .1-22.6 0 6.5 0 8.1 0 1 0 5.2 0 .7 0 6.3 0 11.1 0 30.5 .1-59.4 0 15.5 0 .6 0 10.9 0 .5 0 2.7 0 4.8 0 4.3 0 3.7 0 7.3 .1-61.1 0 2.3 0 16.4 0 1.7 0 5.5 0 8.5 0 8.1 0 23.4 .1-61.3 0 6.9 0 6.7 0 10.5 .1-13.4 0 9.8 0 5.8 0 13.2 0 14.5 0 10.2 .1-54.9 0 8.8 0 5.7 0 10.6 0 3.6 0 5.4 0 18.1 0 2.7 .1-50.2 0 21.8 0 .6 0 2.2 0 3.6 0 17.2 0 5 .1-49.1 0 7.2 0 0 0 3 0 .3 0 .6 0 13 0 1.8 0 1.5 0 10.7 0 19 .1-55 0 .1 0 .9 0 16.9 0 5.7 0 2.7 0 10.5 .1-34.2 0 7.6 .1-8.8 0 7.3 0 2.6 0 .8 0 .5 0 8.5 0 13.9 0 2.5 0 5.7 0 1 0 4.9 0 4 .1-63.4 0 11.4 0 4.2 0 3.1 0 9.5 0 .1 .1-37.5 0 27.2 0 .2 0 .8 0 21.9 0 8.5 0 1.2 0 12 .1-50.4 0 2.2 0 4.4 0 12.5 0 .7 0 11.7 0 1.1 .1-43.3 0 2.8 0 5.3 0 4.7 0 52 .1-79.7 0 13.3 0 28.3 0 2.6 0 2 0 2.7 0 25.9 .1-40.7 0 16.7 0 2.8 0 30.6 .1-57.7 0 3.7 0 .2 0 6.1 0 14.1 0 8.5 0 17.1 .1-60.4 0 2.8 0 9.5 0 5.1 0 4.8 0 5.5 0 33.2 .1-9.6 .1-48.7 0 1.6 0 .3 0 6.4 0 0 0 10.8 0 2.4 0 .5 0 14.1 0 26.5 .1-89.5 0 23.1 0 5.4 0 8.3 0 7.4 0 11 0 3.9 0 20.9 .1-53.6 0 .3 0 25.8 0 11.8 .1-39.3 0 4.1 0 4.4 0 3.5 0 6.7 0 5.4 0 17.4 .1-47.8 0 22.7 0 12 0 2.4 0 3.7 0 .5 0 5.4 0 1.8 0 14.8 .1-55.9 0 4.7 0 15.4 0 .5 0 2.7 0 7.8 0 15.5 0 .1 .1-59.7 0 6 0 4.3 0 12.3 0 13 0 1.6 0 6.7 0 6.5 0 5.7 0 12.9 .1-68.9 0 6.7 0 11.2 0 7.8 0 23.1 0 8 0 1 0 .2 .1-38 0 .4 0 3.5 0 2.1 0 8.2 0 28.1 0 4.5 0 1.9 .1-66.4 0 24.2 .1 3.2 0 .7 0 4.2 0 .2 0 9.5 0 1.5 0 8.2 0 20.5 .1-71.2 0 10.6 0 2.1 0 8.6 0 .6 0 10.7 0 4.5 .1-39.9 0 13.8 0 11.8 0 26.1 .1-59.7 0 33.9 0 2.5 0 3.3 0 2.6 0 1.3 0 17.8 0 2.6 0 4.5 .1-53.9 0 6.5 0 5.2 0 6.2 0 3 0 1.8 0 22.3 0 3.9 0 16.2 0 17.2 .1-76.8 0 30.7 0 3.6 0 3 0 10.7 0 1 0 4.1 .1-38.2 0 35.6 0 7.4 .1-51.7 0 2.5 0 3.7 0 0 0 9.4 0 7.8 0 1.6 0 19.8 0 3.3 0 2.4 .1-46.8 0 .5 0 .7 0 .9 0 5.4 0 5.3 0 2.5 0 .5 0 9.3 0 8.6 .1-41.8 0 7.8 0 3 0 5.9 0 .1 0 .5 .1-28.6 0 12.1 0 2.5 0 13.2 0 9.1 0 8.6 0 26.6 .1-62.7 0 .9 0 2.7 0 1.6 0 44.9 .1-35.2 0 7 .1 12.2 0 .3 0 5.5 .1-22.4 0 .1 0 6 0 30.7 .1-41.5 0 19.5 0 26.3 .1-74.9 0 7 0 12.8 0 .9 0 6.8 0 .8 0 3.3 0 1 0 1.1 0 14.5 0 9.9 0 3.8 0 6.5 0 5.3 0 4.4 .1-43.5 0 1.5 0 2.4 0 8.8 0 10.5 .1-15.4 0 5.3 0 25 0 3.1 .1-68.6 0 25.7 0 9.1 0 9.3 .1-46.8 0 20.1 0 6.3 0 1.6 0 4.7 0 2 .1-23.7 0 5.4 0 .3 0 .1 0 12 0 2.3 0 4.4 0 5.5 0 3.4 0 4.9 0 4.7 .1-52.7 0 4.2 0 9.2 0 1.4 0 7.7 0 6 0 2.7 0 .1 0 .6 0 9.3 0 3.4 0 27.4 .1-58.3 0 8.7 0 3.6 .1-20.3 0 6.2 0 6.1 0 3.3 0 5.5 0 1.1 0 1.1 0 11.9 .1-16.6 0 5.4 0 10.4 0 8.4 0 4.7 0 6.5 .1-31.9 0 2.8 0 3.6 0 7 0 1.5 0 1.4 0 3.6 0 7 0 4.9 0 8.7 0 .6 0 18 .1-73.8 0 8.5 0 7.9 0 11 0 23.7 .1-70.4 0 57 .1-38.3 0 13.3 0 9.7 0 14.7 0 .8 0 0 .1-45.7 0 3.7 0 5.1 0 9.4 0 6.6 0 8.8 .1-18 0 22.4 .1-62.1 0 25.4 0 1.5 0 2.9 0 25.8 0 .2 0 3 0 4.9 0 11.6 0 .9 .1-48.4 0 22.5 0 10.9 0 3 0 1.6 0 .8 .1-42.8 0 .2 0 3.9 0 15 0 2.8 0 23.4 .1-44.6 0 1.8 0 45.5 0 5 0 6.1 .1-50.3 0 10.5 0 5.2 0 .4 0 .2 0 5.1 0 3.3 0 18 .1-54.2 0 11.2 0 9.4 0 3.1 0 3.1 0 4.2 0 1.7 0 1.7 0 6.7 0 6.8 0 10.1 0 40.2 .1-97.6 0 1.1 0 10.7 0 9.1 0 5.3 0 .4 0 3.9 0 18.5 0 8.3 0 5.9 .1-62.4 0 10.9 0 1.6 0 1.4 0 5.9 0 3.6 0 10.9 0 .3 0 8.5 0 5.1 0 1.3 0 .3 0 1.7 .1-33.2 0 .7 0 4.8 0 10.4 0 15.8 .1-51.5 0 3.8 0 .5 0 .4 0 13.7 0 4.6 0 4.3 0 13.7 0 3.6 0 6.2 .1-41.4 0 31.9 0 1.6 0 4.5 0 5.9 0 9.7 0 1.2 0 .8 0 10.8 .1-70.9 0 7.4 0 6.9 0 3 0 18.9 0 .1 0 3.2 0 8.3 0 7.2 .1-41.9 0 3 0 8.5 0 6 0 13.3 .1-60.9 0 20.2 0 8.6 0 2.1 0 6.3 0 .6 0 4.2 0 5.9 0 9.9 0 6.3 0 10 0 8.9 .1-71 0 7.1 0 14.8 0 .3 0 8.5 0 .9 0 11.2 0 12.7 0 2 .1-52.9 0 23.8 0 1.8 0 1.8 0 18.6 0 2.4 .1-39 0 10.9 0 5.8 0 2.7 0 6.4 .1-43.6 0 4.1 0 24.7 0 38.7 0 4.9 .1-65.4 0 4.6 0 18.9 0 1.5 0 7.9 0 18.1 0 14.3 .1-70 0 4.3 0 3.8 0 21 0 18.4 0 22.2 .1-72.2 0 16.5 0 1.1 0 0 0 24 0 8.2 0 3.6 0 .4 0 8.8 0 5.8 .1-50.2 0 36.8 .1-43.8 0 8 0 15.5 0 6.1 0 20.2 .1-24.7 0 11.6 .1-51.5 0 4.8 0 9.7 0 12.6 0 7.2 0 .4 0 8.2 0 4.9 0 2.6 0 2.6 0 6.1 0 2.5 0 5.2 .1-57.5 0 13.2 0 .6 0 0 0 3.5 0 .8 0 1.6 0 21.3 0 5.5 0 11.7 0 5.5 0 16.9 .1-72 0 4.8 0 4.6 0 12.2 0 12.2 0 38.9 .1-82.5 0 17.3 0 13.9 0 5.3 0 .1 0 .1 0 .2 0 4 0 .3 0 3.1 .1-43.4 0 12.3 0 8.3 0 12 0 7.6 0 6.9 0 1.2 0 6.8 0 50.2 .1-115.7 0 21.9 0 5.9 0 10.2 0 19.3 0 13 .1-41.2 0 5.3 0 4.5 0 1.3 0 25.4 0 .3 0 10.4 .1-60.9 0 .2 0 32.4 0 18.9 .1-48.9 0 1.2 0 12.7 0 34 0 2 0 15.6 .1-58.5 0 12.1 .1-28.2 0 .1 0 11.4 0 33.6 0 .4 .1-60.2 0 24.7 0 .1 0 .7 0 31.8 0 4.5 0 15.1 .1-58.5 0 13.4 0 3.8 0 6.3 0 6.8 0 13.9 0 9.6 .1-59.2 0 8.8 0 19.6 0 7.9 0 11.9 0 18.4 .1-68.6 0 18.1 0 7.4 .1-20.4 0 19.4 0 9.1 0 4.2 0 20.6 0 17.1 .1-50.7 0 .2 0 2 0 .2 0 1.2 0 6.1 0 6.8 0 22.3 0 3 0 17.6 .1-103.3 0 20.9 0 4.4 0 19.9 0 12 0 2.5 0 5.7 0 15.9 .1-41 0 20.2 0 10.3 0 3 0 .4 0 11.7 .1-40.1 0 23.8 0 .4 .1-41.9 0 12.9 0 41.2 .1-50.8 0 10.4 0 4.4 0 12.7 0 22.2 0 6.4 .1-61.8 0 5.5 0 23.7 0 1.1 0 11.3 0 5 0 8.7 .1-49 0 1.9 0 38.9 0 20.1 .1-68.5 0 8.5 0 12.7 0 28.9 0 .7 0 2.5 .1-54.7 0 18.1 0 5.4 0 3.6 0 6.2 0 1.9 0 .4 0 30.1 .1-50.8 0 0 0 12.9 0 3.2 0 1.1 0 1.1 0 25 .1-56 0 22.9 0 1.3 0 .7 0 9.6 0 6.9 0 14.6 0 17.4 .1-65.2 0 12 0 3.9 0 2.3 0 5.5 0 2.2 0 3.2 0 .5 0 2.6 0 19.3 .1-55.3 0 2.3 0 2.3 0 15.7 0 4.3 0 7.1 0 21.7 0 4.9 0 12.3 .1-54.9 0 13.2 0 7.7 0 7.5 0 2.2 0 3.5 .1-36.1 0 .1 0 10.7 0 15.7 0 8.3 .1-60.1 0 11 0 16.9 0 3.9 0 8.9 0 3.9 0 14.8 .1-54.9 0 23.5 0 24.3 0 7.7 0 4.7 0 5.8 0 5.6 .1-80.6 0 31.8 0 26.6 0 17.1 .1-65.6 0 30 0 .5 0 9.9 0 3.3 0 11.7 0 26.8 .1-51.9 0 1.6 0 19.5 0 6.8 .1-69.6 0 8.9 0 17.9 0 6.6 0 9.3 0 4.3 0 16.6 0 29.8 .1-94.6 0 21 0 46.2 0 2.7 0 19.4 .1-55.5 0 2.2 0 1.2 0 1.6 0 7.5 0 5 0 16.3 0 1.5 .1-38.3 0 5.5 0 1.6 0 2.9 0 3.8 0 1.3 0 9.2 0 3.4 0 32 .1-47.4 0 3.2 0 12.3 0 6.3 .1-65.4 0 19.2 0 14.5 0 4.9 0 10 0 24.9 .1-36.4 0 10.6 0 4.6 0 .1 0 7.2 0 2 0 1.2 .1-53.4 0 20.4 0 25.7 0 .5 0 41.7 .1-82.6 0 1.7 0 .6 0 6.5 0 13.8 0 13.7 0 8.6 0 9.9 0 2.2 0 12.2 .1-64.2 0 33.1 0 14.1 .1-31.4 0 2.7 0 10.2 0 .9 0 6.5 0 17 0 7.6 .1-62.3 0 6.8 0 13.1 0 4.1 0 4 0 19.2 0 11.3 .1-43.5 0 3.7 0 41.1 .1-52.7 0 4.3 0 5.1 0 3.8 0 2.1 0 8.4 0 24.1 .1-50.3 0 4.5 0 19.5 0 17.7 0 8.4 .1-37.8 0 9.6 0 .2 0 21.8 .1-48 0 12.3 0 4.9 0 5 0 5.7 0 7.7 .1-37.3 0 8.6 0 9.6 0 16.2 0 4.8 0 7.7 0 3 0 .3 0 5 0 24 .1-81.5 0 6.3 0 1.7 0 28.8 0 3.7 0 22.8 0 6.4 .1-71.3 0 .1 0 14.3 0 5 0 3 0 9.5 0 8.1 0 11.7 0 4.3 .1-43.2 0 12.1 0 4.8 0 12.8 0 1.4 0 .1 0 2 0 33.7 .1-50.7 0 5.3 0 20.3 0 3.1 .1-41 0 8 0 5.3 0 8.9 0 7.2 0 3.8 0 1.7 .1-38.2 0 2.7 0 10.6 0 4 0 5.5 0 4 0 3.1 0 1.8 0 20.6 0 9 .1-62.4 0 17.3 0 1.7 0 1.2 0 7.9 0 1.8 .1-46.5 0 4.8 0 6.4 0 24.9 0 3.9 0 12.1 0 12.3 0 .7 0 1.7 0 6 .1-87.6 0 34.3 0 5.6 0 6.4 0 .1 0 12.9 0 3.5 0 30.5 .1-72.5 0 8.7 0 28.5 0 .3 0 3 0 3.9 0 16.9 .1-66.7 0 34.8 0 1.5 0 1.8 0 2.8 0 23.8 0 7 .1-63.5 0 11.3 0 1.6 0 8.3 0 8.9 0 2.9 0 1.2 0 5 0 .6 0 2 0 8.6 0 9.9 .1-65.1 0 7.2 0 16.5 0 10.7 0 3.6 0 25.1 .1-54.4 0 11.3 0 13.5 0 17.9 0 4 .1-58.6 0 16.5 0 18.4 0 5.2 0 .4 0 3.5 .1-39.8 0 13.5 0 3 0 1.7 0 1.8 0 5.4 0 1.5 .1-29.9 0 11.5 0 8.1 0 2.2 0 15.8 0 4.9 0 6 0 21 .1-66 0 9.3 0 18.2 0 10 0 1.5 0 2.4 0 22.2 .1-54.1 0 2.4 0 8 0 29.2 0 3.7 .1-51.8 0 24.3 0 1.7 0 1.6 0 .6 0 10.6 0 22 0 3.2 .1-35 .1-30.5 0 3.2 0 3.7 0 .9 0 4.6 0 6 0 10.5 0 7 0 4.4 0 4.1 0 24.9 0 29.9 .1-101.9 0 15.9 0 15 .1-25.9 0 4.1 0 22.7 0 7 0 7 0 25.3 .1-67.7 0 2.5 0 3.8 0 6.7 0 6.3 0 .4 0 1.1 0 5.8 0 18.5 .1-47.2 0 13.6 0 3.3 0 5.6 .1-28.4 0 19.5 0 29.6 .1-42.7 0 47 0 9.6 0 48 .1-86.1 0 6 0 7.3 0 1.7 0 2.8 0 8.1 .1-46.1 0 19.7 0 1.1 0 14.4 0 7.6 0 3.8 0 4 .1-57.9 0 12.9 0 4.3 0 5.2 0 12.3 0 2.1 0 3.4 0 3.8 0 2.1 0 13 0 15.7 .1-61.5 0 10.9 0 1.8 0 10.7 0 1.3 0 1.6 0 .9 .1-22.9 0 4.7 0 12.3 0 2.5 0 3.8 0 19.4 0 6.8 .1-50.4 0 13.6 0 6.3 0 9.2 0 4.1 0 2.3 0 .2 0 13.7 0 4.3 .1-72.3 0 7.2 0 8.7 0 13.8 0 13.5 0 9.7 .1-50.7 0 12.2 0 19.7 0 3.3 0 9.9 0 6.5 0 .5 0 8.3 .1-64.3 0 .1 0 8.5 0 20 0 14.7 0 7.5 .1-39.7 0 4.2 0 13.8 0 4.4 0 5.9 0 1.8 0 3.9 0 8.5 0 3.6 0 7.3 0 11.2 0 1.2 0 2.9 .1-49.1 0 24.4 0 4.4 0 13.3 0 7.8 0 25.4 .1-73.4 0 4.2 0 12 0 9.3 0 9.3 0 2.3 0 2.6 .1-64 0 14 0 17.3 .1-12.7 0 17.5 0 7.3 0 5.9 0 11.6 .1-50.3 0 15.7 0 2.1 0 8.5 0 5.1 0 4.7 .1-39.4 0 27.9 0 3.2 0 1.5 0 5.2 0 28.6 .1-62.1 0 9.5 0 4.7 0 3.8 0 2.1 0 21.8 0 8.8 0 8.5 .1-50.8 0 11.1 0 11.2 0 20.8 .1-47.1 0 1.3 0 8.2 0 24.4 0 5.6 0 12.1 .1-58.5 0 1.9 0 15.5 0 14.1 0 0 0 10.8 0 14.6 .1-67 0 8.3 0 28.3 0 15.7 0 4.5 .1-50 0 6.6 0 23.7 0 12.7 0 7.8 .1-51.6 0 33.3 0 2.9 0 6.1 0 4.6 .1-44.9 0 11.6 0 1.1 0 9.4 0 20 0 .3 0 2 0 6.8 0 1.8 0 9.8 .1-62.7 0 4.8 0 22.4 0 14.5 0 5.7 0 7.3 0 .3 0 7.9 .1-31.8 0 8.4 0 8.7 .1-50.4 0 16.8 0 10.2 0 2.5 0 4.6 0 5 .1-21.7 0 6.3 0 32.6 .1-66.1 0 10.5 0 4.4 0 20.7 0 11.4 0 24.6 .1-58.6 0 5 0 6.7 0 16 0 6.7 0 11 0 .4 0 16.8 .1-53.3 0 5.7 0 5.3 0 3.2 0 2.9 0 7.1 0 15.4 0 3.6 0 8.8 0 8.3 .1-74 0 9 0 10.1 0 4.9 0 13.1 0 19 .1-49 0 3.5 0 6.7 0 10.1 0 10.3 0 2.2 0 4.4 0 5.6 0 .1 0 3.5 0 15.9 0 5.9 .1-20.9 .1-44.3 0 4.6 0 16.7 0 .7 0 4 0 2.1 0 5 0 8.5 .1-47.1 0 14 0 6.8 0 15.4 0 1.8 0 10.9 .1-59.3 0 13.2 0 4.9 0 7.6 0 20.1 0 11.3 .1-53.9 0 35.4 0 4.6 0 4.2 0 3.4 0 6.5 0 24.6 .1-70.3 0 1.1 0 2.6 0 22.2 0 4.2 0 3.8 .1-29.5 0 7.8 0 7.8 0 8.4 0 25.2 0 17.6 .1-83.2 0 15 0 13.4 0 0 0 2.1 0 .1 0 3.5 0 5.2 0 3.4 0 7.2 0 7.8 .1-46.6 0 5.9 0 7.1 0 13.9 0 16.8 0 9.6 0 .7 0 14.7 .1-67.3 0 2.2 0 9.4 0 4 0 2.8 0 9.1 0 7 0 10.9 .1-20.4 0 4.9 0 4.8 0 26.3 .1-55.9 0 26.8 0 15.8 .1-51.5 0 12 0 1.9 0 4.4 0 17.4 0 1.8 0 19.3 0 5.4 .1-72.2 0 14.9 0 25.1 0 4 0 8 0 37.6 .1-91.9 0 24.1 0 26.7 0 7.6 0 8.2 0 4.8 0 .2 0 3.2 .1-52.1 0 .5 0 9.9 0 1.9 0 2.6 0 43.4 .1-52.4 0 3.2 0 11.1 0 1.1 0 4.8 0 1.8 0 12.9 0 3.4 0 5.6 0 10.9 .1-45.7 0 3.2 0 30.9 0 .1 0 7.5 .1-36.9 0 23.8 .1-68.8 0 26.7 0 9.7 0 3.8 0 21.6 0 .7 0 4.8 .1-40.6 0 8.2 0 7.7 0 3.1 0 1.6 0 5.3 0 6.5 0 13.3 .1-60.2 0 23.5 0 8.5 0 2.6 0 23.9 0 2.7 .1-47.1 0 5.2 0 1.5 0 3.7 0 7.4 0 3.2 0 2.2 0 6.5 0 2.6 .1-44.4 0 14.7 0 7.6 0 .1 0 4.9 0 3.9 0 20.4 0 1.6 0 3.9 .1-46.4 0 6.3 0 3.3 0 5.5 0 10.8 0 3.5 .1-41 0 6.5 0 14.6 0 9.5 0 1.3 0 1 0 5.8 0 4.2 0 7.5 0 31.7 .1-69 0 2.3 0 2.8 0 4.2 0 6 0 3.6 0 4 0 25.5 .1-65 0 3.7 0 24.6 0 6.9 0 1 0 1.6 0 36.5 .1-65.9 0 17.1 0 1.7 0 7 0 .7 0 13.3 0 2 0 19.1 .1-70.9 0 14.2 0 1.7 0 18.4 0 17.1 0 .3 0 .3 0 10.2 .1-50 0 3 0 2.8 0 8.6 0 5.8 0 14.4 0 4.8 0 34.3 .1-54 0 1.6 0 2.6 0 1.9 0 4 0 14.8 .1-24.3 0 6.1 0 1.6 0 1.8 0 6.2 0 3.1 0 5.9 0 6.3 0 1.1 .1-58.8 0 10.9 0 3.8 0 4.6 0 1.4 0 6.8 0 4.1 0 8.2 0 4 0 17.4 .1-52.2 0 6.9 0 .2 0 3.5 0 .9 0 8.6 0 .4 0 16.2 0 .6 0 10.8 .1-57 0 3.9 0 6.1 0 .5 0 22.8 0 10.1 0 2 0 2 0 20.6 .1-46.9 0 20.9 0 22.3 0 1.2 .1-67.6 0 11 0 4.2 0 17.1 0 7.1 0 16.8 0 4.3 0 3.8 .1-53.4 0 2.1 0 12.9 0 2.6 0 20.1 0 17.4 .1-68.3 0 13.1 0 4.7 0 2.1 0 17.4 0 3.3 0 8.6 0 2.7 .1-39.6 0 10.7 0 5.7 0 38.8 .1-55.1 0 .8 0 3.1 0 2 0 2.2 0 8.6 0 7.3 0 24.3 0 3.5 0 4 0 5.7 .1-75.7 0 20.6 0 5.2 0 7 0 25.9 .1-64.2 0 23.4 0 5.6 0 .4 0 11 0 1.4 0 8.8 0 2 0 1.3 .1-45.2 0 .3 0 27.3 0 7.6 0 5.6 0 25.4 .1-71.3 0 33 0 .7 0 5.8 0 .6 0 9.3 0 2.1 0 39.7 .1-103.7 0 16 0 22.4 0 2 0 6 0 .4 0 4.7 0 6.8 0 11.4 0 8.3 0 3.3 0 3.6 .1-71.3 0 19.8 0 .8 0 11.7 0 .4 0 26 .1-46 0 22.7 0 7 0 9.4 0 3.8 .1-50 0 23.8 0 6.9 0 1 0 1.6 0 3.9 0 6.6 0 2.9 0 6 0 1.6 .1-51.9 0 23.3 0 11.7 0 2.6 0 26.4 .1-66.2 0 1.4 0 7.7 0 7.2 0 .6 0 .9 0 .2 0 3.8 0 21.5 0 1.6 0 3.8 0 8 0 2 .1-74 0 21.2 0 4.5 0 .5 0 8.8 0 5.9 .1-14.7 0 6.7 0 11.7 0 5.3 0 20.9 .1-44.4 0 1.8 0 24 0 9.4 0 19.3 0 7.5 .1-80 0 8.9 0 2.3 0 16.3 0 .5 0 1.6 0 2.4 0 1.8 0 3.4 0 9.8 0 .8 0 31.5 .1-78.1 0 21.1 0 23.5 .1-29.7 0 0 0 21 0 3.8 0 7.6 0 5.9 0 1.3 0 12.7 .1-64.6 0 15.1 0 3.9 0 4.5 0 12.5 0 6.1 0 16.8 0 4.7 0 14.2 .1-64.1 0 1.7 0 8.1 0 3.3 0 3.4 0 4.2 0 6.1 0 9.2 0 11.8 .1-57.8 0 1.9 0 5.3 0 20.8 0 5 0 27.9 .1-56.3 0 14.7 0 6.6 0 6.1 0 8.8 .1-33.9 0 10 0 3.5 0 1.1 0 1.6 0 8.4 0 0 0 1.1 0 .5 0 5.8 0 11.9 .1-43.2 0 15.7 0 .5 0 .7 0 11 0 2.3 0 8.4 .1-35 0 24.7 .1-28 0 10.1 0 8.1 0 2.8 0 6.7 0 2.5 0 1.4 0 .4 .1-28.6 0 21.9 0 4.4 0 .1 0 6 0 .8 .1-49.7 0 32.9 0 .9 0 6.7 0 8.2 0 .8 0 .7 0 30.4 .1-78 0 18.4 0 8.6 0 5.1 0 14.3 0 21.6 .1-65.6 0 .2 0 1.1 0 20.6 0 20.9 0 10.7 .1-55.7 0 21.6 0 4.3 0 2.8 0 4.1 0 4.5 .1-33.3 0 17.1 0 2.9 0 4 0 18.1 .1-43.5 0 33.1 0 11.2 .1-55.1 0 28.7 0 4.6 0 22.1 0 11.4 .1-52.2 0 9.3 0 4.5 0 1.9 0 5.1 0 12.1 .1-26.7 0 7.3 0 11.2 0 .7 0 4.6 0 2.1 0 41 .1-58.9 0 2.9 0 .2 0 4.3 0 .6 0 2 0 10 .1-40.8 0 12.1 0 12.8 0 6 0 0 0 4.4 0 15 .1-72.7 0 27.1 0 14.5 0 3.2 0 9.5 0 6.7 0 6 0 .2 0 8.1 0 3 0 12.9 .1-54.8 0 3.6 0 1.4 0 3.3 0 7.5 0 2 0 14.5 0 41.8 .1-64.5 0 1.9 0 20.2 0 5.5 0 2.3 0 7.4 .1-44 0 25.3 0 6.1 0 1.9 0 10.1 .1-46.2 0 2.9 0 1.1 0 16.3 0 .9 0 7.4 0 12.1 0 6.2 .1-44.7 0 10.8 0 1.4 0 2.9 0 7.9 0 12.1 0 23.9 .1-62.8 0 3.2 0 13.1 0 6.5 0 1.7 0 .4 0 1.3 0 2.6 0 .6 0 7.7 .1-37.3 0 9.9 0 4.7 0 1.8 0 3.2 0 3.8 0 8.3 0 .2 0 5.3 0 4.9 0 4.4 0 7.6 0 6 .1-65.4 0 19.9 0 1.5 0 1 0 8.3 0 3.1 0 8.4 .1-59.4 0 19.4 0 18.6 0 7.9 0 11.2 0 16.3 .1-62.9 0 2.5 0 1.5 0 20.2 0 5.8 0 1.4 0 10.2 0 6 0 3.7 0 4.2 0 16.1 .1-75.3 0 38.5 0 26.8 .1-67.5 0 21.6 0 11.7 0 9.2 0 10.9 0 3.1 .1-66.8 0 9.2 0 11 0 2.1 0 1.6 0 12.1 0 6.7 0 4.4 0 3.6 0 7.1 0 1.2 0 1.5 .1-43.5 0 23.1 0 .5 0 8.1 0 10.6 0 3.3 0 1.1 .1-59.7 0 46.3 0 4 0 5.2 0 4.4 0 3.6 0 8.3 .1-69.7 0 19.2 0 4.6 0 17.9 0 12.8 0 2.7 0 .2 0 2.8 0 .8 .1-51 0 1.8 0 2.3 0 19 0 .1 0 0 0 2.6 0 4.6 0 1.8 0 7.3 0 2.5 .1-14.8 0 3 0 22.7 0 38.5 .1-77 0 1.8 0 15.4 0 2.9 0 .8 0 22.6 .1-56.3 0 13 0 5.2 0 10.9 0 3.7 0 15.2 0 6.1 0 18.4 .1-61.1 0 5 0 1.4 0 1.2 0 2.1 0 .6 0 6.3 0 6.2 0 2.4 0 1 .1-37.5 0 11.8 0 9.4 0 7.9 0 2.9 0 3.5 0 12.2 0 12.5 0 15.3 .1-72.3 0 25.2 0 2.9 0 .3 0 1.3 0 .1 0 9.5 0 9.6 0 4.5 0 3.5 .1-70.7 0 31 0 17.2 .1-31.5 0 15.3 0 1.8 0 5 .1-29.1 0 14.4 0 2.3 0 4 0 5.5 0 13.6 0 3.3 0 15.5 0 6.6 .1-37.6 0 16 0 .6 .1-40.2 0 3.7 0 17.1 0 17.9 0 .6 .1-34.5 0 3.1 0 3.7 0 9.7 0 3.2 0 1.5 0 1.3 0 2.4 0 27.1 .1-48.9 0 1.9 0 20.1 0 13.4 0 5.2 0 1.7 0 3.6 0 18.5 .1-40.1 0 3.2 0 3.8 0 22.9 .1-41.5 0 4.1 0 4.6 0 .1 0 5.7 0 27.7 0 4.4 .1-45.8 0 38.3 .1-64.6 0 25.8 0 13.9 0 12.6 .1-48.7 0 2.4 0 7.6 0 2.3 0 10.6 0 9.2 0 1.6 0 .2 0 34.3 .1-64.9 0 5.8 0 .9 0 4 0 5.4 0 3.9 0 3.1 0 11.4 0 8.8 0 10.6 0 1 0 3.3 .1-63.1 0 7.1 0 12.5 0 7.2 0 9.8 0 10.3 .1-44.1 0 16 0 3.9 0 4.4 0 11.7 0 1.5 0 3.1 0 5.6 0 1.7 .1-56.7 0 .2 0 7.2 0 6.3 0 21.3 0 7 0 39.1 .1-46.4 0 12.2 0 9.4 0 8.2 0 2.5 .1-41.9 0 25.9 0 1.1 .1-53.2 0 12.7 0 11.1 0 5.7 0 9.6 0 12.8 0 2 0 21.6 .1-50.9 0 12.2 0 .3 0 1.6 0 .5 .1-19 0 15.9 0 3 0 .6 0 9.1 0 1.5 .1-41.9 0 13.7 0 3 0 2.7 0 8.9 0 4.7 0 1.4 0 5.8 0 3.2 .1-45.3 0 7.2 0 1.4 0 6.9 0 3.2 0 1.5 0 20.3 0 1.5 0 9.1 0 4.2 0 3.3 0 13.9 .1-65.7 0 3.4 0 10.6 0 2.2 0 12.5 0 .3 0 7.1 0 9.1 .1-61.9 0 10.2 0 5.7 0 8.8 0 11.5 0 6.1 0 14 0 .2 .1-30.4 0 22.5 0 6.1 0 3.8 0 15.5 .1-46.3 0 1.5 0 41.2 0 9.3 .1-59.9 0 1.8 0 .5 0 13.8 0 3 0 10.4 0 6.3 0 26.5 .1-65.1 0 5 0 1.1 0 13.2 0 .3 0 2.9 0 16 0 16.6 .1-52 0 2.1 0 7 0 2 0 3.9 0 1.8 0 13.4 0 1.8 0 .5 0 18 0 25.3 .1-84.8 0 5.4 0 10.8 0 8.3 .1-13.3 0 17.7 0 2.8 0 4.8 0 9.8 0 .9 0 0 .1-47.7 0 9.5 0 10.8 0 23.6 .1-37.1 0 10.3 0 0 0 9 0 1.1 0 4.7 0 1 0 1.6 0 3.2 0 5.5 .1-43.3 0 1.3 0 3.1 0 37.2 0 9.5 0 3.9 .1-43.1 0 6.6 0 1.2 0 .9 0 19.7 0 1 0 5.9 0 .9 0 5.7 .1-50.4 0 2.5 0 21.4 0 .2 .1-29.7 0 6.5 0 39 0 .9 0 3.3 0 6 .1-66.3 0 16.7 0 20.3 0 .7 0 .2 0 2.6 0 7.4 .1-35.8 0 10.3 0 9.5 0 3.3 0 7.1 0 15.1 0 1.8 0 2.1 0 4.6 0 1.9 .1-51.4 0 .2 0 6.1 0 24.4 0 .8 0 17.3 0 1.5 0 .3 .1-67.4 0 10.5 0 1.3 0 21.3 0 3.9 0 2.3 0 1.2 0 .5 0 13.8 0 1.2 .1-48.9 0 7.4 0 1.7 0 3.1 0 4.6 0 24.7 0 22.5 .1-63.9 0 6 0 13.7 0 17.2 0 10.5 0 24.3 .1-78.3 0 12 0 8.1 0 4.6 0 2.4 0 4.7 0 2.3 0 2.7 0 1.1 0 14.7 0 6 0 6.7 0 8.9 .1-69.1 0 10.7 0 19.9 0 11.2 0 19.6 0 1.3 0 4.7 0 6.2 .1-63.2 0 18.4 0 7.1 0 8.4 0 .1 0 5.5 0 6.3 0 1.5 0 10.9 .1-62.9 0 16.3 0 4.8 0 1.9 .1-17 0 7 0 1.1 0 1.7 0 7.8 0 30.3 0 19.1 .1-17.6 0 5.2 .2-13.4 0 2.2 0 6.1 0 3.5 0 2.9 .1-35.7 0 32 .1-54.6 0 .2 0 13.7 0 3.8 0 8.8 0 10.7 0 14.4 0 5 0 5.4 .1-43.8 0 25.7 .1-31.6 0 4 0 4.4 0 .6 0 .4 0 3.2 0 4.2 0 6.6 0 8.1 0 20.5 .1-34.8 0 5.1 0 9.9 0 18.6 .1-53.3 0 1.3 0 8.4 0 3.6 0 4.4 0 13 0 2 0 20 .1-54.9 0 7.9 0 .4 0 5.4 0 11.2 0 6.2 0 .6 0 27.6 .1-52.9 0 9 0 7 0 2.2 0 13.6" marker-start="url(#m2)" marker-mid="url(#m2)" marker-end="url(#m2)"/>
<path d="M527 100.5l0 4.8 0 25.5 .1-64.4 0 14.2 0 2 0 8.7 0 17.9 0 7.4 0 1.6 0 .6 0 15.1 0 6.4 .1-74.1 0 7.7 0 1.2 0 3.9 0 3.6 0 9.8 0 5.5 0 1.6 0 7.7 0 4.7 0 15.5 0 5.3 .1-71.3 0 13.5 0 10 0 20.6 0 6.6 0 4.9 .1-52.1 0 21.5 0 1.7 0 7.2 0 8.2 0 2.4 0 5.8 0 23.9 .1-49.2 0 9.9 0 2.2 0 1.3 0 2 0 5.3 0 31.2 .1-70.4 0 5.3 0 3.3 0 8.5 0 3.1 0 .7 0 .5 0 5.8 0 4.4 0 7.5 0 21.8 0 11.9 .1-78.8 0 28.1 0 3 0 8.5 0 1.1 0 6.9 0 .7 0 8.3 0 57.4 .1-109.4 0 2 0 16.5 0 8.1 0 14.3 .1 2 0 13.3 0 39.9 .1-87.4 0 .6 0 16 0 8.8 0 3.8 0 3.1 0 21.5 0 1 .1-69.2 0 9.6 0 10.1 0 8.3 0 2.1 0 12.6 0 12.5 0 16.4 0 2.4 0 9.6 .1-56.4 0 18.2 0 .4 0 10.8 .1-45.7 0 5.2 0 5.9 0 16.2 0 49.5 .1-68.5 0 2.6 0 1.2 0 5.7 0 22.3 0 13.1 0 6.5 0 7.4 .1-67.6 0 28.9 0 14.2 0 7 .1-39.2 0 7.7 0 1.8 0 7.5 0 .6 0 .5 .1-23.1 0 3.1 0 23.5 0 3.8 0 4.5 0 18 0 3.7 .1-47.6 0 15.8 0 10.6 0 .2 0 7 0 10.3 .1-54.6 0 15.5 0 7.3 0 26.5 0 13.9 .1-65.4 0 .3 0 5.7 0 21.2 0 3 0 7.7 0 .8 0 1.8 0 40.6 .1-65.5 0 2.1 0 9.1 0 5.6 0 11.2 0 .7 0 10.9 .1-60.2 0 12.6 0 8.2 0 8.6 0 6.8 0 5.2 0 28.4 .1-53.8 0 14.7 0 5.3 0 3.7 0 15.7 .1-54.5 0 13.6 0 21.5 0 11.7 0 4.7 0 6.8 0 7.5 .1-63.3 0 9.1 0 17 0 8.1 0 .5 0 28.5 .1-61.8 0 4.1 0 10.7 0 47 .1-56.4 0 3.2 0 2.7 0 8.5 0 8.2 0 2.4 0 8.6 0 4 0 5 .1-15.9 0 6.1 0 3 0 6.4 .1-50.1 0 4.5 0 .7 0 3.6 0 .9 0 4.7 0 8.6 0 13.2 0 9 .1-53.6 0 9.5 0 .3 0 .5 0 5.3 0 14.6 0 10.8 0 15.5 0 10.6 .1-50.5 0 4.9 0 1.9 0 2.8 0 1.7 0 3.8 0 5.5 0 3.1 0 1.4 0 14.8 0 4 0 1.7 0 2 0 2 .1-70.6 0 25 0 .6 0 16.2 0 2.5 0 2.9 0 3.4 0 9.1 0 .1 0 36.8 .1-99.1 0 9.5 0 2.6 0 12.4 0 3.5 0 .6 0 9.7 0 26.6 .1-49.3 0 15.5 0 11.1 0 6.4 0 17.8 .1-47.3 0 10 0 11.1 0 1 0 1.4 0 1.5 0 18.5 .1-33.1 0 7.1 0 3.1 0 2.7 0 9.3 0 8.9 0 18 .1-41.4 0 8.4 0 6.4 0 16.7 0 2.8 0 2.2 0 16.4 .1-67.1 0 2.3 0 5 0 12.6 0 5.7 0 1.3 0 1.7 0 5.9 0 9.8 0 13 .1-59.8 0 4.1 0 10.4 0 4 0 4.4 0 8.3 0 17.7 .1-31 0 20.4 0 .6 0 23.5 .1-75.2 0 26 0 .2 0 6.9 0 19.2 0 2.7 0 1.8 0 1.4 0 7.3 0 1.9 .1-56.1 0 16.4 0 3.1 0 6.4 0 32.5 .1-68.9 0 7.8 0 5.7 0 8.6 0 3.3 0 7.4 0 3.8 0 8.4 0 4.5 .1-40 0 2.1 0 7.6 0 17 0 3.8 0 3.7 0 1 0 5.7 0 33.5 .1-57.5 0 8.3 0 5.9 0 5.9 0 9.8 0 9 .1-44.5 0 2.2 0 11.4 0 11.9 0 3.2 0 7.7 .1-46.7 0 13.2 0 .3 0 .3 0 16.4 0 18.1 0 22.4 .1-68.9 0 4.7 0 1.7 0 1.4 0 3.1 0 6.1 0 .1 0 15.3 0 .1 .1-51.5 0 3.1 0 11.6 0 1.6 0 11.5 0 .3 0 7.8 0 1.7 0 16.6 0 .6 .1-22 0 1.7 0 .7 0 13 0 1.8 0 15.3 0 16.6 .1-68.6 0 9 0 .6 0 3.2 0 8.9 0 2.6 0 8.3 0 20.8 0 1.1 0 35.4 .1-71.3 0 1.1 0 6.4 0 4.5 0 .8 0 21.1 0 10.7 0 2.3 .1-33.3 0 .7 0 9.7 0 9.4 0 6.7 .1-67.9 0 2.8 0 26.1 0 9.7 0 .7 0 6.9 0 1.7 0 7.3 0 4.7 .1-47.4 0 .2 0 6.6 0 1.1 0 7.8 0 6.8 0 1.6 0 3 0 1.7 0 26.1 0 10.9 .1-61.3 0 19.7 0 .8 0 37.3 .1-51.7 0 11 0 8.9 0 .3 0 4.9 0 15.4 0 9.2 0 18.2 .1-72.2 0 14.3 0 3.6 0 3.9 0 32.9 0 .6 .1-75.3 0 5 0 15.3 0 4.4 0 12.9 0 1.5 0 6.7 0 1 0 2 0 9.1 0 .4 0 2.6 .1-59.7 0 27.4 0 3.7 0 4.1 0 5.5 0 4.8 0 4.1 0 3.9 0 13.3 0 1.2 .1-58 0 6.9 0 18 0 29.6 .1-63.9 0 2.2 0 19.8 0 7.2 0 1.8 0 3.4 0 4.7 0 10 0 4.1 0 8.9 0 12.1 .1-66.6 0 1.5 0 8.5 0 4.5 0 15.6 0 6.8 0 6.1 0 9.6 0 .1 0 33.9 .1-79.7 0 4 0 10.8 0 14 0 7.3 0 13.1 .1-31.1 .1-31.1 0 2.5 0 5.8 0 25.3 0 6.3 0 1.5 0 2.5 0 32.6 .1-86.3 0 25.2 0 3 0 6.2 0 2.2 0 8.6 0 4.8 0 7.4 0 1.5 0 7.7 0 4 0 19.7 .1-72.4 0 9.3 0 1.1 0 2.1 0 2.9 0 1.4 0 9 0 7.4 0 .3 0 3.1 0 16.7 .1-41.1 0 5.4 0 8 0 8.3 0 3.4 0 8.2 .1-34.4 0 20.2 .1-44.3 0 15.2 0 11.1 0 10.6 0 5.8 0 .7 0 9 0 17.6 .1-56.1 0 7 0 6 0 10.6 0 1.8 0 .4 0 1.8 0 7.6 0 .3 0 9.8 0 11.8 0 6.5 .1-67.4 0 7.4 0 .6 0 14.7 0 2.6 0 15.9 0 2.7 0 8.1 0 1.1 0 .7 0 1.4 0 21.9 .1-61.9 0 8.9 0 8 0 3.7 0 15.9 0 48.9 .1-107.9 0 14.2 0 20.9 0 4.9 0 26.4 .1-66.6 0 19.6 0 .9 0 2.7 0 9.9 0 12.8 0 50.6 .1-117.1 0 13.7 0 12.4 0 11.9 0 7.5 0 2.2 0 13.8 0 1.8 .1-31.8 0 3.8 0 6.6 0 .1 0 14.6 0 8.5 0 1.5 0 1.5 0 3.3 .1-35.6 0 9.5 0 28 0 24.4 .1-77.4 0 9.5 0 8.6 0 2.3 0 3.1 0 14.9 0 .2 0 .2 0 7 0 17.5 0 3.6 0 4.3 0 1.9 .1-102.9 0 32.6 0 15.3 0 11 0 3.5 0 19.2 0 9 0 16.6 .1-71.7 0 2.1 0 11.3 0 12.2 0 .9 0 8.4 0 2.7 0 12.3 0 4.6 0 .8 0 12.8 .1-84.8 0 20.1 0 18.1 0 3 0 8 0 16.9 0 7.1 0 7.7 .1-50.8 0 17.2 0 19.1 0 2.2 0 .1 0 5.5 .1-46.5 0 24.3 0 11.4 0 6.6 0 5.7 .1-68.1 0 9.1 0 8 0 13.5 0 8.6 0 3 0 .8 0 10.7 0 5.7 .1-45.7 0 16.1 0 6.1 0 4.8 0 10.5 0 1.2 0 16.2 .1-51.6 0 3 0 11.3 0 1.9 0 10.3 .1-26.4 0 14.8 0 9 0 37.4 .1-62.8 0 .4 0 1.1 0 8.8 0 13.6 0 20.7 0 0 0 38.9 .1-85.9 0 20.4 0 8.9 0 .5 0 5.3 0 .3 0 10.4 .1-52.5 0 10.6 0 7.4 0 6.9 0 4.2 0 1 0 12 0 19.2 0 1.3 0 3.3 .1-60.8 0 12.1 0 1.7 0 .6 0 .1 0 0 0 5.5 0 7.5 0 1.4 0 1 0 4.6 0 .9 0 1.8 0 13.5 .1-37 0 11.7 0 21.4 0 4 .1-51 0 8.8 0 4.8 0 2.2 0 6.5 0 5.9 0 3.5 0 1.2 0 5.3 .1-57 0 26.5 0 19.6 0 3.4 0 .9 0 1.3 0 9 0 18.6 .1-61.6 0 7.8 0 8.9 0 17.4 0 1 0 1.1 0 16.1 0 3.4 0 1.6 0 4 0 4.9 .1-51 0 1.5 0 22.7 0 1.3 0 3.4 .1-66.8 0 21.8 0 20.9 0 3.6 0 47.2 0 .9 0 2.8 .1-77.6 0 4.4 0 7.8 0 1.6 0 .8 0 2.1 0 .9 0 11.4 0 4.2 0 .9 0 4.1 0 4.3 0 8.3 0 1.5 0 6.4 .1-33.2 0 6.3 0 15 0 9.5 0 2 0 6.3 0 39.5 .1-94.1 0 .9 0 12.1 0 2.8 0 19.5 0 18.5 0 6.7 .1-56.4 0 1.4 0 10.9 0 11.3 0 4 0 8.2 0 17.7 .1-51.1 0 3.2 0 22.3 0 2.4 0 12.2 0 .3 .1-45.8 0 9.3 0 5.8 0 26.3 0 12.6 0 .3 0 1.4 .1-17.5 0 16.2 .1-59.2 0 9 0 15.7 0 7.9 0 .8 0 4.6 0 .7 0 1.4 0 30.2 .1-32.3 0 1.6 0 1.2 0 .6 0 1.2 0 14.9 .1-60.9 0 1.6 0 16.1 0 2.1 0 .4 0 6.7 0 1.6 0 0 0 .2 0 1.4 0 45.4 .1-72.5 0 10.6 0 7.7 0 2.2 0 8.2 0 .4 0 .1 0 11 .1-20 0 1.2 0 12.4 0 2.5 0 37.3 .1-60.5 0 6.7 0 36.8 0 4.3 .1-39.3 0 2.6 .1-24 0 14.1 0 4.3 0 2.3 0 2.4 0 26.1 .1-50.7 0 3.9 0 10.8 0 9.3 0 5.7 0 21.4 0 2.1 0 2.6 .1-59.7 0 20.9 0 30.4 0 4.1 0 4.6 0 3.8 .1-58.9 0 15.8 0 1.3 0 10.3 0 10.2 0 12.9 .1-30.3 0 8.9 0 6 0 2.2 0 .1 0 3.4 .1-47.8 0 5.2 0 8.2 0 13.9 0 5.5 0 14.4 0 5.9 .1-49.2 0 8.5 0 7.9 0 4.3 0 4.3 0 6.5 0 .5 0 .6 0 22.8 0 5.4 .1-67 0 9.8 0 4.9 0 19.7 0 3.8 0 3 0 28.2 0 9.9 .1-68.6 0 14.8 0 4.6 0 6.4 0 3.3 0 11.3 .1-14.3 0 7.5 0 14.5 0 15 .1-42.9 0 .3 0 5.3 0 1.7 0 6.6 .1-34.5 0 6.9 0 5.1 0 .2 0 13.3 0 14.3 0 26.6 0 2.4 0 1.1 .1-64.8 0 13.6 0 2.6 0 .2 0 .2 .1-29.2 0 .3 0 16.5 0 9 0 7.8 0 .3 0 19.3 0 7.3 .1-51.5 0 11.8 0 11.7 0 3.3 0 34.9 .1-68.4 0 13 0 20.3 0 .8 0 12.9 .1-50.7 0 13.6 0 3.5 0 5.8 0 1.7 0 25.6 0 11.1 0 6 0 .8 .1-56.9 0 11.3 0 14.8 0 .8 0 22.7 0 7.9 .1-42.8 0 1.2 0 16.4 0 12.9 0 20.8 .1-49.7 0 30.8 0 33.4 .1-63.7 0 2.1 0 2.5 0 7 0 14.7 0 36 .1-54.1 0 .3 0 6.3 0 7 0 6.5 .1-35.6 0 7.9 0 4.2 0 3.4 0 2.1 0 6.3 0 7.5 0 2.9 0 18.2 .1-72.5 0 13.6 0 4.3 0 8.4 0 33.3 0 7.4 .1-49.2 0 5.9 0 5.1 0 3.8 0 12.8 0 10.9 0 1.3 0 4.5 0 1.9 0 1.2 0 12.5 .1-66.4 0 27.3 0 22.4 .1-51.1 0 4 0 5 0 2.8 0 5.2 0 1.9 0 7.7 0 .4 0 28.4 0 .9 .1-48.3 0 1.1 0 2.1 0 .9 0 10.9 0 5.8 0 11.6 0 2.7 .1-48 0 1.3 0 17.1 0 7.8 0 1.5 0 14.8 0 20.3 0 4.5 .1-46.4 0 6.4 0 15.1 0 14.4 0 .3 .1-62.9 0 12.8 0 17.4 0 41.7 .1-63.2 0 .5 0 13.5 0 4.2 0 2.7 0 8.8 0 5.1 .1-61.1 0 29.7 0 8.9 0 6.1 0 5.3 0 4.3 0 14.8 0 .5 0 2.4 0 7.7 .1-46.2 0 7.2 0 6.1 0 2.4 0 12.1 0 .4 0 4.3 0 5.5 0 6.2 0 2.1 .1-41.2 0 9 0 3.2 0 6 0 3.8 0 10.1 0 1 0 11.3 0 2.5 .1-44.7 0 5.1 0 22.3 0 1.7 0 6.5 0 10.1 0 8.8 .1-38.1 0 5.7 0 5.7 0 1.1 0 7.2 0 1.1 0 7.8 0 .5 0 1 0 2.3 0 1.4 0 12.7 .1-52.2 0 2 0 23.6 0 6.3 .1-57.6 0 9.2 0 9.4 0 7.8 0 .2 0 4.5 0 2.6 0 15.8 0 7 0 .8 .1-66.3 0 31.9 0 2.2 0 6.1 0 13.9 .1-43 0 21.6 0 18.9 0 42.8 .1-84.7 0 11.8 0 .8 0 3.5 0 2.5 0 .4 0 1.1 0 3.2 0 1.7 0 .3 0 .3 0 7.6 0 1.2 0 .5 0 25.9 0 .9 .1-49.8 0 11.7 0 12.2 0 1.9 0 .8 0 9.6 .1-34.1 0 8.6 0 .9 0 17.9 0 11.8 0 3.8 .1-19.8 0 .4 0 9.3 0 13.4 .1-71.2 0 9.7 0 1.7 0 2 0 13 0 3.1 0 2.1 0 .7 0 12.3 0 3.7 0 21.4 .1-63.9 0 5.8 0 .1 0 16.4 0 25.3 0 13.7 0 3.6 .1-81.5 0 9.2 0 13.7 0 18.4 0 15.5 0 3.8 .1-35.4 0 10.4 0 .1 0 3.4 0 1 0 15.9 0 15.6 0 4.1 .1-40.4 0 3.4 0 8.7 0 .1 0 .9 0 3.4 0 7.9 0 1.4 0 2.9 0 13.9 .1-52.8 0 3.1 0 15.4 0 14.6 0 12.6 0 9.7 0 1.6 .1-65.2 0 5.6 0 7.5 0 2.9 0 1.1 0 1.4 0 12.8 0 19.2 0 10.8 0 0 .1-45.7 0 5.6 0 2 0 .8 0 5.1 0 4.3 0 2.3 0 .8 0 11.3 0 2.8 0 7.3 0 4.9 .1-47.6 0 8 0 8.1 0 9.6 0 5.1 0 2.9 0 .3 0 .4 0 2.7 0 2.1 0 19.3 .1-55.4 0 17.3 0 15.7 0 6 0 9.5 .1-74.7 0 13.1 0 15.6 0 6.2 0 4 0 .5 .1-42.9 0 17.9 0 13.9 0 8.5 0 2 0 12.6 0 .2 0 1.6 0 10.3 .1-55.1 0 8.6 0 1.6 0 7.6 0 6.2 0 4.8 0 .2 0 9.9 0 .3 0 3.9 0 9.4 0 37.2 .1-98.4 0 19.7 0 3.9 0 9.4 0 41.9 .1-64.6 0 13.9 0 13.7 0 5.9 0 17.2 .1-26 0 4.9 0 .7 0 5.1 0 3.1 0 3.6 0 7.7 0 14.5 .1-63.5 0 2.3 0 4.5 0 3.2 0 7.3 0 1.9 0 1.2 0 2.6 0 11.1 0 7.7 0 8.4 .1-42.5 0 4.2 0 3.8 0 .4 0 3.9 0 1.4 0 7.6 0 4.6 0 3.8 0 6.3 0 6.9 0 3.1 0 1.5 0 6.8 .1-58.4 0 24.2 0 11.8 0 4.3 0 19.5 .1-34.6 0 10.1 0 27.6 .1-57 0 5.9 0 9.5 0 1.8 0 18.2 0 16.5 0 15.5 0 4.8 .1-85.1 0 4 0 10.1 0 8.7 0 4.7 0 4.1 0 2.4 0 3.1 0 23.9 0 5.2 .1-77.9 0 32.4 0 5.9 0 10 0 5.5 0 5 0 12.2 .1-53.5 0 10.5 0 4.4 0 1.5 0 12 0 26.3 .1-52.2 0 9.4 0 2.2 0 7.9 0 .1 0 1 0 3.1 .1-36.2 0 17.4 0 8.2 0 19.8 0 31.8 .1-51.3 0 6.7 0 14.9 0 4.8 0 5 0 1.4 .1-53.4 0 13.9 0 6.3 0 6.6 0 6.4 0 13.5 0 8 0 .8 .1-19.6 0 3 0 1.6 0 5.1 0 12.3 0 16.8 .1-53.6 0 4 0 .5 0 2.1 0 7.2 0 8.7 .1-48.5 0 29 0 13.7 0 5.8 0 2.9 0 19.5 .1-54.8 0 9.4 0 9.2 0 .2 0 8.3 0 2.4 0 7.8 0 23.6 .1-45.4 0 19.1 0 11.1 .1-47 0 .2 0 3.5 0 14.6 0 9 0 3.6 0 23.2 0 2.3 .1-54.1 0 5.2 0 1.9 0 3.4 0 12.7 .1-1.4 0 4.6 0 7.9 0 1.3 0 .4 0 6.8 0 3.8 0 4.9 0 5.1 .1-79.8 0 7.4 0 2.4 0 .7 0 43.4 .1-41.2 0 15.6 0 3.1 0 10.9 0 2.2 0 2.8 0 1.9 0 2.7 0 8 0 5.7 .1-27.4 0 1.9 0 14.5 0 19 .1-58.6 0 3.3 0 12.8 0 7.3 0 5.2 0 8 0 10.3 .1-52.4 0 9.4 0 2.7 0 .7 0 3.3 0 39.1 0 15.3 0 2.3 0 8.4 .1-53.9 0 33.2 .1-80.3 0 11.7 0 32.7 0 22.8 0 2.9 0 6 0 5 .1-55.2 0 9.7 0 8.1 0 46 .1-59.3 0 5.1 0 2.6 0 34.6 .1-31.4 0 1.1 0 9.1 0 2.7 0 2.7 0 9.5 0 4.7 .1-31.1 0 2.3 0 5.2 0 1.6 0 .9 0 2.4 0 11.8 0 .4 0 13.7 0 16 .1-63 0 5.7 0 6.7 0 16.4 0 7.7 0 10 0 3.1 0 9.6 .1-54.8 0 7.4 0 7 0 8.9 0 12.6 .1-76.8 0 37.2 0 6 0 1.1 0 .1 0 2.8 0 1.7 0 3.8 0 7 0 9.4 0 5.9 0 16.6 .1-33.5 0 5.6 0 5.3 0 9.1 0 7.8 0 15.2 .1-52.7 0 2.1 0 2.1 0 4.3 0 1.3 0 .2 0 2.2 0 1.4 0 4.3 0 11.9 0 2.7 0 20 0 1.8 .1-85.8 0 26.3 0 5.1 0 3.3 0 1.2 0 .2 0 17.9 0 5.2 0 3 0 26.6 .1-69.1 0 3.9 0 16.4 0 4.5 0 2.3 0 10.2 0 7 0 1.6 0 18.2 .1-83.6 0 14.3 0 3.4 0 23.5 0 13.6 0 .2 0 14.4 0 5.9 .1-70 0 26.7 0 18.9 0 .2 0 2.3 0 1.9 0 2.8 0 23.9 0 .3 0 .8 .1-67.2 0 11.7 0 9.4 0 6.6 0 2.1 0 4.2 0 22.8 .1-59.5 0 8.8 0 4 0 11.3 0 .9 0 .6 0 2.5 0 .8 0 17 0 1.7 .1-32.5 0 15.3 0 8.3 0 7 0 6.3 0 21.3 .1-61.9 0 7 0 4.5 0 37.7 .1-55.4 0 8.9 0 2.8 0 19.7 0 17.8 0 8.1 .1-65.3 0 22.3 0 8.6 0 26.9 .1-44.9 0 1.9 .1 17.7 0 2.3 0 2.8 0 20.9 .1-71.9 0 17.4 0 4.7 0 7.4 0 13.6 0 12.9 0 8 0 6.1 0 15.3 0 .6 .1-71.3 0 7.5 0 7.5 0 11.9 0 2.2 0 2.2 0 8.1 0 5.4 .1-59.3 0 13.5 0 1.2 0 13.3 0 8.2 0 5.8 0 3.7 0 .2 0 1.3 0 8.9 0 .2 0 3.5 0 3.2 0 1.9 .1-33.7 0 2.4 0 9.9 0 11.3 0 27 .1-67.9 0 7.8 0 36.4 0 2.1 0 2.9 .1-55.4 0 23.4 0 9.1 0 4.1 0 .6 0 .6 0 5.4 0 11.8 .1-51.7 0 22.8 0 6.1 0 1.2 0 4.3 0 3 0 12.9 0 11.3 .1-51 0 5.7 0 10.2 0 .6 0 35.5 0 .6 0 21.7 .1-66.7 0 6.2 0 3 0 1.3 0 .5 0 19.1 0 12.6 .1-54.4 0 22.3 0 7.7 0 2.4 0 2.7 0 8.1 0 .8 0 1.9 0 28 .1-56.1 0 11.3 0 16.2 0 2.6 0 16.1 0 3.3 .1-53.1 0 1.8 0 .2 0 1 0 5.4 0 0 0 8 0 8.8 0 2 0 .1 .1-42.1 0 24.3 0 37.5 .1-38.8 0 9.1 0 5.3 0 6.9 0 .6 0 3.9 0 6.4 .1-62.7 0 13.7 0 .5 0 4.9 0 2.3 0 9.1 0 3.4 0 6.2 0 6.5 0 .8 0 .3 0 2.3 0 1.3 .1-46.3 0 .4 0 4.9 0 3.4 0 2.5 0 19.1 0 23.9 0 4.2 .1-66.4 0 36.6 0 2.9 0 1.2 .1-32.3 0 6.2 0 14.7 0 .4 0 2.8 0 11.9 0 4.5 0 8.5 0 5.3 0 11.2 .1-64 0 .8 0 7.4 0 4.8 0 7.5 0 .5 0 10.4 0 10 0 4.7 0 1 0 2 0 .4 .1-32.4 0 5.2 0 .3 0 3.5 0 10.4 0 8.5 .1-41.2 0 5.9 0 17.1 0 1.5 0 4.3 .1-34.2 0 9.5 0 7 0 2.6 0 19.5 0 3.1 0 6.3 .1-46.7 0 23.6 0 7.4 0 5.4 0 20.6 .1-64.2 0 11.9 0 16.3 0 .7 0 2.5 0 1.6 0 11.4 0 1.5 .1-38.7 0 19.6 0 .7 0 2.4 0 6.5 0 7.9 0 12.6 0 17.3 .1-65.6 0 9.5 0 22.5 0 24 0 6.4 .1-36 0 .8 0 2 0 .3 0 19.2 0 6.7 0 2.7 .1-60.4 0 31.1 0 9.9 0 15.6 0 2.5 0 2.6 .1-68.5 0 8.7 0 .8 0 17.5 0 1 0 1.4 0 .8 0 .2 0 9.9 0 3.6 0 2.5 0 1.3 0 4.9 .1-42.7 0 4.3 .1 8.5 0 7.9 0 10.1 0 7.5 0 8.1 0 6.2 .1-43.5 0 3.4 0 3.2 0 1 0 9.3 0 3.2 0 14.7 0 2 .1-37.6 0 6.5 0 2.2 0 4.6 0 2 .1-27.5 0 6.7 0 2.9 0 1.3 0 30 0 1.4 0 7.2 .1-45.3 0 5.8 0 10.1 0 6.3 0 4.3 0 2.7 0 11.3 0 .2 0 9.8 .1-33.8 0 4.4 0 4.3 0 4.9 0 1.4 0 26.2 0 3.8 0 4.8 .1-83.6 0 7.3 0 11.4 0 .3 0 8.9 0 7.1 0 17.1 0 4.8 0 3.6 0 10.1 .1-42.9 0 .3 0 9.6 0 7.9 0 5.7 0 4.5 0 8.9 .1-43.6 0 2.5 0 .2 0 2.7 0 1.6 0 20.2 0 3.5 0 2 0 1.8 0 18.1 .1-44.7 0 .8 0 10.9 0 1.4 0 11.4 0 16.9 0 10.2 .1-42.8 0 1.8 0 28.4 .1-54.7 0 18.9 0 .5 0 8.5 0 2.4 0 13.3 0 17.8 .1-52.5 0 6.1 0 9.9 0 .3 0 15.5 0 18.7 .1-56 0 16.4 0 10.6 0 3.1 0 3.9 0 5 0 4.1 0 .7 0 .9 0 4.6 0 13 .1-86.9 0 28.1 0 5.8 0 17.8 0 1.9 0 2.3 0 10.9 0 6.7 0 8.8 0 6.8 0 2.6 .1-59.1 0 1.2 0 3.9 0 8.5 0 7.8 0 21.1 0 .6 0 7.2 .1-44.6 0 34.4 0 44.2 .1-78.7 0 8.2 0 13.5 0 .7 0 22.9 .1-56.7 0 4.5 0 2.9 0 5.2 0 .3 0 7.1 0 1 .1-26.8 0 3.5 0 18 0 5.3 0 38 .1-55.1 0 14.1 0 3 0 18.5 0 5.1 .1-44.9 0 10.8 .1-27.1 0 46.4 0 2.1 0 48.7 .1-84.6 0 3.4 0 19.8 0 1.1 0 4.6 0 6.3 0 1.8 0 5.9 0 5.8 .1-39.6 0 1.1 0 9.3 0 10 0 2.9 0 1.4 0 11.8 0 4.4 0 1.2 0 .3 0 15.3 .1-60.7 0 2.9 0 16.9 0 4.7 0 1.6 0 25 0 .3 0 2.1 .1-71.4 0 9 0 23.2 0 7.8 0 3.2 0 2.4 .1-3.7 0 6 0 .7 0 37.7 .1-75.3 0 3.8 0 13.3 0 1.3 0 10.5 0 12.2 0 1.7 0 10.4 .1-72 0 17.7 0 4.2 0 27.7 0 2 0 5.6 0 11.8 0 1.2 .1-56.4 0 14 0 .9 0 15.9 0 3.7 0 1 0 4.1 0 .5 .1-35.4 0 .3 0 21.1 0 .9 0 6.3 0 24.5 0 .2 .1-36.7 0 2.6 0 4 0 7.4 .1-29.3 0 7.6 0 .5 0 13.1 0 9 0 34.6 .1-34.4 0 5.7 0 42 .1-56 0 13 0 .3 0 2.9 0 1.2 0 25.9 .1-36.9 0 1.7 0 2.2 0 6.5 .1-27.8 0 7 0 1.5 0 .3 0 12.6 0 1 0 3.1 0 1.7 .1-31 0 10.1 0 8.1 0 8.6 0 1.3 0 .5 0 5.8 0 2.2 .1-43.4 0 2 0 24.8 0 31.3 0 1.7 .1-44.3 0 1.7 0 4.2 0 2.3 0 .6 0 7.1 0 3.1 0 3.9 .1-50.8 0 11.9 0 28.1 0 5.3 0 7.9 .1-38.8 0 1.2 0 8.5 0 25.6 0 6.2 0 1 0 4.3 .1-53.1 0 9.1 0 8.2 0 7.4 0 5.1 0 1.8 0 4.9 0 19.5 0 9.7 .1-90.5 0 16.9 0 38.4 0 2.6 0 2.3 0 19.9 0 7.8 .1-64.5 0 28.8 0 5.3 0 2.5 0 6.4 0 1 0 1.8 0 18.8 0 5.3 .1-43.7 0 3.5 0 2.7 0 6.9 0 3.5 .1-43.8 0 2 0 7.9 0 18.5 0 1 0 22.3 .1-29.1 0 10.6 0 .9 0 5.6 0 22.1 0 10.9 .1-52.5 0 6.2 0 3.6 0 10.1 0 14.3 0 25.2 .1-81.3 0 10.1 0 5.1 0 6.7 0 13.1 0 1.5 0 7.8 .1-18.8 0 8.5 0 9.1 0 19.1 0 3.6 0 9.3 .1-46.8 0 4.7 0 17.7 0 5 .1-56.8 0 28.9 0 24.7 0 5.9 0 24.8 .1-78.9 0 26.7 0 7.6 0 18.1 0 15.6 .1-72.3 0 22.8 0 3.8 0 15.5 0 1.4 0 3.1 0 22 .1-52.5 0 4 0 13.4 0 3.2 0 9.8 0 7.3 0 6.9 .1-61.3 0 8.6 0 1.9 0 11 0 4.6 0 6.3 0 3.6 0 4.8 0 24.4 0 8.7 .1-71.9 0 2.5 0 7.1 0 3.1 0 1.9 0 30.7 0 .4 0 3.2 0 14.6 .1-37.9 0 1 0 1.3 0 1.2 0 5.7 0 12.5 0 9 0 2 .1-51.2 0 24.9 0 24.2 0 7.9 0 1.6 0 14.5 .1-67.4 0 5.1 0 12.1 0 6.2 0 27.7 .1-48.9 0 6 0 .5 0 11.2 0 .1 0 9.4 0 .3 0 35.6 .1-52.9 0 1.8 0 1.1 0 13.7 0 7.9 0 1.9 0 19.1 .1-57 0 16 0 10.7 0 5.8 0 .3 0 16.2 0 35.2 .1-83.3 0 1.4 0 6.8 0 3.8 0 .1 0 7.2 0 1.2 .1-42.7 0 20.7 0 .5 0 15.3 0 5.8 0 6.7 0 2.5 0 35 0 1.2 .1-76.3 0 27.9 0 4.6 0 13.4 0 3.3 0 22.7 0 11.2 .1-62.3 .1-1.7 0 .6 0 5.1 0 .2 0 17 0 8.7 0 2.8 .1-57.1 0 8.8 0 4.5 0 12.6 0 2.7 0 24.1 0 1.6 0 2.6 0 8.8 0 25.4 .1-91.1 0 1.7 0 1 0 13.1 0 .1 0 7.6 0 1.3 0 2.6 0 3.2 0 14.2 0 3 0 4.6 0 6.5 .1-43 0 29.4 .1-29.6 0 4.4 0 6 0 .4 0 1.6 0 5.3 0 1.6 0 8.9 0 5.6 0 7.4 .1-50.3 0 3.2 0 2.9 0 2.4 0 6 0 2.7 0 2.7 0 3.5 0 2.4 0 5.8 0 46.3 .1-75.7 0 15.7 0 1.6 0 .1 0 3.9 0 9.2 0 15.7 0 .3 0 12.5 0 3.4 .1-75.2 0 3.3 0 17.1 0 .9 0 2.3 0 13.8 0 4.2 0 12.4 0 3.1 .1-48.6 0 28.3 0 4.3 0 1 0 28 .1-59.4 0 3.8 0 36.8 0 26.7 .1-84.5 0 27.7 0 14.7 0 18.7 0 4.1 0 13.2 .1-47.5 0 4.9 0 17.7 .1-26.5 0 10.7 0 .8 0 8.4 0 2.7 0 9.2 0 10.2 0 6 .1-84 0 50.3 0 17.7 0 .1 0 14.1 0 1.6 .1-56.2 0 18.3 0 5.8 0 4.8 0 19.1 .1-47.5 0 8.9 0 32.7 0 1.8 0 .4 0 5 .1-56.7 0 14 0 4.3 0 16.5 0 1.7 0 3.5 .1-16.3 0 2.8 0 11.7 0 .5 0 3.6 0 .6 0 .4 0 5.3 0 .2 0 .7 0 9.3 .1-29.8 0 19.8 0 9.7 .1-54.3 0 11.2 0 8.9 0 8.8 0 2.1 0 5.4 0 7.2 0 2.1 0 28.4 .1-86.5 0 11 0 19.3 0 4.2 0 5.7 0 2.6 0 .2 .1-40.2 0 10.1 0 7.5 0 2.6 0 1.9 .1-16.5 0 4.6 0 5.5 0 8.1 0 8.3 0 .8 0 .4 0 2.1 0 1.3 0 .3 0 1.4 0 .3 0 1.6 0 .4 0 .5 0 15.3 .1-26 0 2.9 0 5.2 0 17 0 2.2 0 4.1 0 12.2 .1-53.5 0 9.6 0 5.9 0 7.8 0 .7 0 1 0 24.1 0 3.1 .1-46.7 0 2.6 0 1.9 0 5.5 0 .9 0 1.4 0 4.1 0 3.5 0 1.1 0 5 0 3.3 0 1.5 .1-57.9 0 8.5 0 19.1 0 4.7 0 11.3 0 .2 0 14.5 0 2.6 0 8.3 .1-36.8 0 8.7 0 5.8 .1-33.2 0 7.5 0 14.3 0 2.8 0 7.6 0 9.9 0 .5 0 2.7 0 4.3 .1-58.3 0 14.8 0 5.3 0 8.9 0 18.1 0 2.7 0 3.9 0 20.1 0 3.8 .1-73.3 0 15.9 0 26.9 0 20.1 0 14.6 .1-90.7 0 14.8 0 1.9 0 7.5 0 13.1 0 5.5 0 4.5 0 1.2 0 3.3 0 19.6 .1 18.1 .1-55.1 0 2.5 0 17.6 0 3.1 0 17 0 8.3 .1-68.6 0 6.3 0 1.8 0 32.1 0 1.2 0 .2 0 45.7 .1-68.1 0 4 0 1.4 0 3.3 0 1 0 11 0 16.4 0 5.2 0 8.7 .1-62.3 0 13.1 0 9.6 0 8.2 0 4.4 0 .2 0 4.3 0 12.3 .1-56.4 0 3.5 0 7.6 0 10.9 0 .4 0 2.5 0 1.7 0 6.4 0 15.1 0 .4 0 5.3 .1-51.4 0 1 0 6.5 0 13.1 0 1.3 0 3.2 0 24.2 0 13.9 0 .3 0 .1 .1-63.2 0 4.2 0 8.4 0 .8 0 2.5 0 4 0 .7 0 5.9 0 5.1 0 43.6 .1-79.8 0 .9 0 1.8 0 5.7 0 28.2 0 7.7 0 7.8 .1-39.5 0 6.4 0 6.7 0 19.7 0 8.3 .1-57.4 0 9.1 0 3.5 0 38.1 0 .8 0 4 .1-58.8 0 42.9 0 4.6 0 3.1 0 14.6 .1-61.2 0 10.9 0 21.9 0 6.4 0 4.2 0 3.2 0 3.4 0 4.5 0 15.9 .1-69.1 0 2.7 0 2.3 0 2.3 0 3.9 0 3.9 0 2.9 0 4.6 0 14.2 0 12.4 0 37.2 .1-88.4 0 12 0 .3 0 16.6 0 .9 0 .1 0 .1 0 1.3 0 13.8 0 7.7 0 .1 .1-58.7 0 11 0 7 0 23.9 .1-27.9 0 4.3 0 4 0 4.8 0 1.3 0 1.8 0 10.1 0 1.1 0 17.4 0 2.7 0 3.5 0 8.1 .1-58.7 0 17.4 0 1.6 0 1.2 0 4.6 0 1.1 0 11.1 0 4.2 0 10.5 0 4.2 0 3.2 .1-63.6 0 1.8 0 13.8 0 6 0 10.7 0 10.3 0 8.7 0 1.2 .1-57.8 0 16.2 0 17.2 0 3.1 .1-24.8 0 1.5 0 1.1 0 44.5 0 10.2 .1-50.7 0 30.3 0 1.2 .1-33.9 0 4 0 7.1 0 1.8 0 .6 0 1 0 1.6 0 1.9 0 1.4 0 .4 0 10 0 17.6 .1-61 0 10.2 0 1.4 0 7.2 0 6.7 0 4.9 .1-51.7 0 31 0 2.8 0 13.6 0 4.3 0 29.3 0 8.9 .1-68.8 0 13.2 0 22.3 0 53.4 .1-91.9 0 23.5 0 17.2 0 13.6 .1-32.1 0 6.7 0 3.4 0 1.3 0 2.1 0 6.7 0 18.3 0 2.6 0 1 .1-63.7 0 15.3 0 3.9 0 14.6 0 .1 0 1.8 0 .9 .1-37.4 0 35.1 0 13.5 0 4.8 0 6.1 .1-53.8 0 15.2 0 12.4 0 2.1 .1-9.8 0 13.1 0 12 0 .2 .1-31.9 0 6.3 0 .3 0 .7 0 7.4 0 12.4 0 12.2 0 6.1 .1-90.4 0 57 0 .3 0 .3 0 5.5 0 2.8 0 3.2 0 10.6 .1-48.5 0 19.4 0 25.8 0 11 .1-55.2 0 .4 0 58.1 0 .1 .1-64.1 0 5.3 0 14.5 0 19.9 0 .4 0 0 0 16.6 0 0 .1-44 0 2.9 0 29.1 0 2.8 0 13 0 12.6 .1-80.6 0 3.8 0 6.6 0 3.2 0 15.4 0 14.1 0 11.4 0 4.1 0 3.3 0 .8 0 2.7 0 18.4 .1-68.8 0 6.3 0 6.1 0 11.5 .1-35.4 0 17.2 0 20.4 0 11.6 0 14.4 .1-56.3 0 24.7 0 4.4 0 5.6 0 2.7 0 26.2 0 4.9 .1-73.8 0 13.1 0 3.5 0 5.7 0 5.2 0 1.3 0 12.5 .1-39 0 12.9 0 2.7 0 30.4 0 .8 0 24 0 6.5 .1-73.4 0 11.5 0 7.3 0 6 0 .8 0 3.7 0 28.2 0 1.3 0 2.8 0 5.2 .1-75.8 0 9.6 0 3.7 0 5.1 0 8.2 0 3.9 0 7.9 .1-33.5 0 10.2 0 4.8 0 21.2 0 18.7 0 7.4 .1-51.5 0 .8 0 10.6 0 16.6 0 21.3 0 12.1 .1-74.2 0 17.2 0 16.9 0 3.2 0 5.7 0 24.7 0 .4 0 9.6 .1-57.2 0 2.1 0 4.3 0 17.2 0 .3 0 .6 0 9.7 0 3.5 0 .8 0 8.2 0 .6 0 2.2 0 2.8 .1-69 0 23 0 9.1 0 5.3 0 12.3 0 16.4 .1-65.5 0 20.6 0 18.3 0 8.6 0 2.9 0 5.9 .1-59.4 0 5.3 0 22.1 0 5.9 0 3.2 0 .3 0 3 0 .3 0 6.6 .1-42 0 3.7 0 3 0 8 0 5.2 0 1.7 0 .6 0 1.2 0 .6 0 13.6 0 .6 0 1.6 0 .4 0 16.5 0 5.7 0 .6 0 .2 .1-57.5 0 12.8 0 6.5 0 2.4 0 5.7 .1-36.3 0 15.7 0 12.3 0 9.4 0 4.2 0 3 0 1.2 0 10 0 8.8 .1-63.1 0 7.6 0 3.8 0 17.8 0 .7 0 7.1 0 20.7 0 19.5 .1-82.4 0 15.1 0 10.6 0 2.7 0 1.6 0 2.2 0 3.7 0 .8 0 .6 0 9.1 0 3.3 0 3.7 .1-48.8 0 8.8 0 12.3 0 6.1 0 .1 0 1.6 0 8.7 0 2.8 0 .1 0 2.2 0 5.5 .1-24.2 0 15.4 0 2 0 4.1 0 4.6 0 4.1 0 10.2 .1-65.8 0 27.1 0 2.2 0 1.2 0 7.1 0 2 0 6.1 0 3.2 0 16.5 .1-55.9 0 7 0 7.6 0 5.8 0 11.8 0 6.9 0 9.5 0 2.2 0 1.2 .1-58.1 0 .9 0 24.7 0 3.4 0 4.4 0 10 0 5.5 0 7.4 .1-45 0 7.9 0 6.9 0 2.6 0 .4 0 .3 .1-31.9 0 8.9 0 9.5 0 0 0 7.2 0 13.5 0 1.7 0 3.3 0 .1 .1-8.6 0 1.2 0 3.7 0 39 .1-83.4 0 16.8 0 6.9 0 2.5 0 6.9 0 .4 0 1 0 5.1 0 2.8 0 9.8 0 2.5 0 9.8 0 12.9 .1-68.8 0 4.5 0 7.1 0 24.4 0 .8 0 4.3 0 4.2 .1-27.9 0 .3 0 4.2 0 7.5 0 2.3 0 1.8 0 8.9 0 18.3 .1-62.3 0 2.5 0 16.2 0 20.8 .1-51.7 0 30.6 0 .9 0 3.1 0 2.9 0 5.3 0 2.7 0 10.8 0 7.3 0 14.3 .1-76.8 0 7.8 0 18 0 12.9 0 25.7 0 4.6 0 5.2 .1-48.4 0 .3 0 3.5 0 3.3 0 17.5 0 3.7 .1-66.2 0 55.3 0 10.7 0 3.5 0 24.5 .1-40.8 0 2.9 0 5.3 0 10.5 .1-36.1 0 2.8 0 6.9 0 2.6 0 3.5 0 3.5 0 6.8 0 15.2 0 8.4 0 11.3 .1-51.7 0 3.8 0 1.7 0 0 0 20.4 0 1 0 4.8 .1-37.3 0 6.1 0 .5 0 8.6 0 1.9 0 1.6 0 3.1 0 15.2 0 9.5 .1-52.7 0 4.8 0 3.4 0 11.1 0 5.8 0 13 .1-45.3 0 24.7 0 14.2 0 1.1 0 3.4 0 44.3 .1-98.2 0 8.4 0 3.6 0 8.9 0 2.8 0 1.9 0 12.6 0 14.4 0 3.3 .1-33.5 0 13.8 0 6.9 0 .2 0 1.8 0 15.6 0 4.4 0 9.1 .1-47.2 0 3.8 0 2.9 0 14.1 0 6.7 .1-36.1 0 5.1 0 3.2 0 8.6 0 1.2 0 20.2 .1-40.3 0 10 0 0 0 12.7 0 2.8 0 3.3 0 .3 0 29.1 .1-86.1 0 18.2 0 12.2 0 14.4 0 1.8 .1-26.4 0 4.6 0 7 0 18.2 0 9.1 0 7.6 .1-52.1 0 19.8 0 12.4 0 .6 0 17.8 0 33 .1-80.6 0 11.6 0 15.5 0 12 0 .6 0 5.6 0 9.7 0 21.2 .1-75.2 0 6.8 0 4.7 0 4.3 0 4.5 0 2.5 0 7.2 0 7.8 .1-3.7 0 8.9 0 13.9 .1-31.1 0 10.1 0 4.7 0 .7 .1-27.6 0 .1 0 37.6 0 22 .1-76.7 0 27.4 0 2.5 0 .4 0 .8 0 2.6 0 4.4 0 4.1 0 4.9 0 10.4 0 5.7 0 8.9 0 25.8 .1-87.3 0 7.7 0 1.2 0 8.5 0 10.9 0 .7 0 4.2 0 .1 0 8.8 0 2.4 0 9.3 0 .5 0 8.3 .1-64.3 0 7.9 0 1.2 0 .9 0 14.1 0 14.4 0 6.6 0 6.3 0 3.6 .1-57.9 0 10.9 0 1 0 2 0 26.6 0 14.5 0 .7 0 .4 0 3.5 .1-46.8 0 12.4 0 2.9 0 14.6 0 4.9 0 12.6 .1-30.5 0 14.7 0 8 0 2 0 2.8 0 24.6 .1-79.4 0 9.7 0 16.5 0 4.9 0 4.5 0 9.6 .1-51 0 38.2 0 2.2 0 33.7 .1-66.5 0 3 0 8.6 0 1.7 0 5.6 0 2.6 0 5.5 0 40.7 .1-90 0 19.1 0 5.3 0 .6 0 3.3 0 17 0 .6 .1-17.4 0 2.3 0 4.7 0 4.8 0 1.6 0 4.8 0 .1 0 10.6 0 4.3 0 9.4 .1-44.4 0 1.7 0 15 0 1.5 0 .1 0 3.7 0 .6 0 12.3 .1-71.6 0 20.7 0 2.4 0 2.6 0 12.7 0 3.1 0 1.3 0 7.7 0 9.7 0 1.9 0 5.8 .1-39 0 2.1 0 5.5 0 2.9 0 8.6 0 4 0 1.7 0 7.4 .1-19.5 0 8.7 0 6.9 0 8.5 0 .8 0 2.6 0 19.7 .1-59.5 0 13.2 0 37.4 .1-64.3 0 39.4 0 7.3 0 6 0 6.3 .1-53.8 0 5.7 0 .7 0 3.4 0 19.5 0 5.3 0 3.5 0 7.6 0 5.7 0 1.2 .1-27.6 0 5.7 0 4.4 0 17.2 0 2.7 0 7.9 0 4.4 0 12.2 .1-82.1 0 12.2 0 15.8 0 3.7 0 8.9 0 9.3 0 25.4 .1-60.1 0 8.3 0 10.9 0 2.5 0 1.9 0 19.3 0 4.8 0 .2 0 7.3 .1-71.1 0 11 0 8.5 0 16 0 1.2 0 33.1 0 4.6 .1-54.4 0 2.3 0 1.1 0 2 0 20.7 0 1.5 0 6.6 0 18.9 .1-80.1 0 15.7 0 5.4 0 4.8 0 4.1 0 51.2 .1-71 0 20.8 0 8.2 0 7.8 0 29 0 5.1 .1-68.8 0 11.1 0 17.8 0 8.1 0 7.4 0 .4 0 1.6 0 6.8 .1-62.2 0 12.7 0 14.5 0 4.5 0 2.2 0 10.2 0 .1 0 2.6 0 13.9 0 .6 0 5.1 .1-55.2 0 8.8" marker-start="url(#m3)" marker-mid="url(#m3)" marker-end="url(#m3)"/>
<path d="M580.3 81l0 39.1 .1-39.4 0 39 0 4.8 0 8.5 0 .1 .1-55.9 0 13.3 0 16.3 0 .8 0 15 0 12.9 .1-52.2 0 9.5 0 4.2 0 2.6 0 1.5 0 21.2 0 1.9 0 .3 .1-58.5 0 5.8 0 9.4 0 1 0 11.1 0 2.5 0 2.5 0 6 0 1.5 0 1.5 .1-31 0 13.9 0 8.8 0 3.9 0 11.5 0 6.5 0 6.8 0 5.8 .1-33.3 0 .1 0 1.2 0 23.5 0 11.5 .1-35.1 0 4.8 0 1.2 0 .6 .1-31.6 0 7.1 0 5.9 0 2 0 8.6 0 6 0 17.5 0 2.7 0 .6 0 1.9 0 8.4 .1-58.5 0 16.5 0 5.5 0 2.3 0 2.4 0 1.1 0 13.8 0 3.1 0 8.8 .1-51.1 0 7.6 0 4.1 0 1.6 0 1.3 0 34.6 0 .5 0 3.9 .1-37.6 0 2.3 0 2.3 0 8.9 0 12.2 0 24.9 .1-65.4 0 15.2 0 10.1 0 11 0 11.4 0 .7 .1-50 0 14.8 0 7.3 0 4.6 0 2.6 0 3.4 0 16.9 .1-27.3 0 9.9 0 27.9 .1-32 0 4.1 .1-30.2 0 14.8 0 37.3 .1-52.6 0 16.8 0 3.1 0 17.9 0 1.1 .1-33.5 0 7.4 0 1.1 0 .5 0 1.5 0 6.1 0 1.9 0 4 0 9.8 0 9.3 0 2.4 0 7.7 .1-60.7 0 19.1 0 7.8 0 3.1 0 .9 0 10.4 0 1.9 0 0 0 10.3 .1-55.4 0 18.6 0 3.8 0 29.8 .1-64.2 0 16.5 0 3.4 0 9.1 0 6.2 0 3.4 0 6.6 0 5.1 0 3.9 0 13.9 .1-66.6 0 1.7 0 18.9 0 .9 0 9.5 0 4.7 0 4.7 0 22.2 .1-22.7 0 6.6 0 13 .1-36.1 0 2 0 5.9 0 3.8 0 5.4 0 6.3 0 6.4 0 .4 .1-45.3 0 2.7 0 7.1 0 9.8 0 18.1 0 4.5 0 11.7 0 .3 0 4.1 0 1.6 .1-60 0 1.2 0 9 0 13.4 0 .9 0 10.6 0 12.7 0 2.8 .1-44.4 0 3.4 0 3.2 0 10.1 0 2 0 9.4 .1-34.2 0 2.2 0 22.2 0 9.7 0 .4 0 2.7 .1-29.1 0 22.1 0 5.9 0 .3 0 6.9 0 6.2 .1-50.6 0 13.9 0 43.1 .1-40.7 0 2.8 0 5 0 6.3 0 5.3 0 14.7 .1-56.5 0 31.4 0 .7 0 1.3 0 3.2 0 14 .1-27.8 0 8.9 0 5.1 0 5.4 0 12.3 0 10.7 0 .3 .1-61 0 9.1 0 11.1 0 14.3 0 10 0 14.5 .1-41.1 0 18.6 0 6.1 0 1.9 0 11.3 0 3.5 0 2 .1-60.4 0 25.3 0 7.6 0 1.8 0 20.8 0 24.2 .1-58.8 0 .5 0 .6 0 12.4 0 .6 0 6 0 29.1 .1-67.6 0 9.1 0 .6 0 8.2 0 2.1 0 8 0 13.5 0 33.8 .1-39.8 0 2.3 0 1.8 0 2.2 0 .4 0 20.9 .1-67.8 0 23.8 0 1.9 0 14.8 0 1.2 0 4.9 0 3.3 0 6.3 .1-50.9 0 19.4 0 2.1 0 1.1 0 3 0 2.7 0 8.9 0 18.8 .1-51.5 0 4.2 0 2.1 0 10.6 0 1.1 0 13.9 0 11 0 17.4 0 .4 .1-61.8 0 5.7 0 7.8 0 3.7 0 17.8 0 9.8 0 7.5 .1-54.7 0 8 0 6.8 0 10.9 0 8.6 0 .1 0 1.9 0 2.5 0 1.6 0 2 0 16.2 .1-50 0 10.3 0 5 0 3.4 0 8 0 3.1 0 2 0 1 0 .4 0 9.4 .1-62.3 0 3.6 0 7.8 0 10.5 0 19.3 0 11.4 0 2.4 0 6.2 0 3.3 0 5.3 .1-62.8 0 16.2 0 5.7 0 1.1 0 7.5 0 21.3 .1-61.4 0 19.7 0 8.7 0 .3 0 1.5 0 5.4 0 19.2 0 1.3 .1-35.7 0 34.9 0 5.4 0 5.3 0 6.4 .1-69.2 0 33.1 0 12.8 0 4 0 9.1 0 12.2 0 4.2 .1-39.1 0 .8 0 1.6 0 16.4 0 9 .1-34.3 0 1.7 0 3.1 0 2.6 0 5.4 0 3.4 0 24.5 0 20.4 .1-78.8 0 0 0 2.2 0 .1 0 3 0 8.1 0 3.2 0 10.3 0 7.9 0 20.2 0 6.6 .1-51.8 0 7.5 .1-11.4 0 0 0 18.9 0 22.6 0 22.3 .1-74 0 12.7 0 21.5 0 .8 0 19.3 0 2.8 0 2.2 0 3 0 .7 0 12.2 .1-76 0 12.5 0 11.1 0 17.4 0 2.4 0 4 0 5.3 0 4.8 .1-54.4 0 4.7 0 7.6 0 20.3 0 23.4 .1-50.4 0 2.8 0 22.9 0 1.1 0 1 0 1.3 0 0 0 4.2 0 10 0 1.2 0 6.8 .1-42.3 0 18.9 0 12.7 0 17.5 0 9.5 0 8.3 .1-82.5 0 18.9 0 9.5 0 3 0 10.8 0 4 0 8.6 0 11.8 .1-53.6 0 4.4 0 6.5 0 0 0 1.4 0 8.3 0 3 .1-23.9 0 22.7 0 3.9 0 9.9 0 5.8 .1-67.3 0 38 0 3.9 0 2.6 0 15.7 .1-44.9 0 9.5 0 12 0 8.8 0 1.4 .1-44.3 0 17.7 0 4.8 0 8.3 0 .6 0 6.9 0 7.1 0 13.8 0 11.4 0 22 .1-58.6 0 9.4 0 4.4 0 5.1 0 15.2 .1-57.2 0 7.6 0 14.1 0 1.9 0 3.5 0 .4 0 2.3 0 7.1 .1-29.4 0 23.3 0 4.6 0 8.3 0 18.8 .1-63.4 0 10.4 0 9.3 0 4.8 0 4.8 0 8.4 0 18.1 .1-51.7 0 21 0 3.8 0 1 0 5.2 0 1.1 0 8.1 .1-43 0 4 0 6 0 15.9 0 3.6 0 15 .1-37.8 0 21 0 11.1 0 14 0 27.8 .1-66.1 0 3.1 0 3.9 0 33.1 0 11.9 .1-24.3 0 11.4 0 3.2 0 7.9 .1-59.1 0 21.9 0 1.8 0 11.6 0 10 .1-38.3 0 9.4 0 15.4 0 8.5 0 2.6 .1-46.6 0 20.5 0 34.1 .1-79 0 19.8 0 10.1 0 8.4 0 4.7 0 16.3 0 20.1 0 5.2 0 0 0 5.2 .1-66.8 0 8.6 0 8 0 16.1 0 9.5 0 7.6 0 12.1 0 6.6 .1-84.7 0 27.4 0 11.9 0 1.8 0 11.2 .1-34.3 0 22 0 1.2 0 1.9 0 4 .1-18.6 0 11.5 0 3.2 0 11.8 0 .8 0 2.8 0 22.2 .1-33.4 0 3.4 0 7 .1-26.4 0 .1 0 4.8 0 13.1 0 .2 0 8.3 0 4.9 0 14.7 0 6.9 .1-56.7 0 1.5 0 5.8 0 9.8 0 28.6 0 6.4 .1-69.5 0 11.3 0 8.1 0 14.2 0 14.2 0 1.9 0 13.7 0 .1 .1-68.7 0 37.1 0 7 0 10.6 0 2.8 0 7.1 .1-39.4 0 3.7 0 22.5 0 14.5 .1-67.4 0 24.2 0 1 0 2.8 0 2.9 0 .7 0 1.3 0 5 0 7 0 9.3 0 2.5 0 10.6 0 3.1 .1-48.1 0 5.6 0 4.4 0 .1 0 2.2 0 4.8 0 54.8 .1-48 .1-22.4 0 5.2 0 1.2 0 1.4 0 13.4 0 18.8 .1-55.8 0 10.6 0 5.9 0 2.8 0 3.8 0 11.1 0 3.6 0 3 0 1.4 0 5.4 0 20.7 0 1 0 1.7 .1-62.9 0 11.1 0 40.5 .1-42.7 0 7.6 0 12 0 8.7 0 .5 0 11.9 0 1.2 .1-57.1 0 8.5 0 9.9 0 10.9 0 4 0 2.9 0 1 0 0 0 4.5 0 25.4 .1-40.1 0 5.8 0 9.5 .1-7.8 0 .1 0 15.5 0 8.6 0 9.9 .1-64.2 0 4.7 0 6.5 0 5.5 0 5.6 0 7.8 0 4.9 0 1.5 .1-35.3 0 7.2 0 4.1 0 1.3 0 6.7 0 2.3 0 1.3 0 2.5 0 13.6 0 .5 0 1.6 .1-40.3 0 6.1 0 14.1 0 19.4 0 16.5 0 17.1 .1-94.3 0 14.3 0 12.9 0 5.2 0 8.1 0 4.7 0 16.4 0 1.4 0 9.4 .1-62.6 0 1.4 0 6.5 0 22.9 0 .3 0 8.7 0 22.6 0 3.8 0 1.2 .1-37.3 0 .9 0 .3 0 4.4 0 1.6 0 .7 0 32.7 .1-68.8 0 12.8 0 12.8 0 13 0 5.5 0 1.3 0 7.5 .1-44.5 0 18.5 0 .4 0 3.1 0 .9 0 1.4 0 .2 0 6.5 0 11.2 0 1.8 0 17.5 .1-48.7 0 1.5 0 5.2 0 8.2 0 10.3 0 2.1 0 4.9 .1-58 0 13.6 0 8.4 0 5.7 0 14.2 0 22.6 0 3.8 .1-34.7 0 15.5 0 2.3 0 7.5 0 18.8 .1-68.2 0 9.2 0 11.9 0 8.6 0 5.9 0 6.3 0 .8 0 10.3 0 3.4 .1-54.2 0 28.1 0 8.8 .1-40.5 0 5.2 0 7.6 0 2.8 0 1.2 0 6.8 0 1.8 0 2.8 0 3.7 0 .5 0 6.2 0 5.1 0 2.9 0 .7 0 .6 0 2.3 0 7 .1-47.7 0 3.5 0 .4 0 1.5 0 2.5 0 4.3 0 .1 0 15.3 0 1.6 0 6.4 0 22.9 .1-57.1 0 8.9 0 4.4 0 2.3 0 7.4 0 11.9 0 11.3 .1-57.8 0 25.4 0 2.7 0 9.2 0 2.3 0 1.2 0 5.3 .1-57.7 0 8.2 0 8.5 0 2 0 6.7 0 2.4 0 5.9 0 4.1 0 2.2 0 4.2 0 16 0 13.5 0 .1 0 14.3 .1-76.5 0 20 0 7.4 0 4.1 0 3.9 0 1.3 0 5 0 2.5 0 11.5 0 2.7 .1-61.5 0 12.2 0 1.2 0 10.4 0 .2 0 5.1 0 1.6 0 2.1 0 .6 0 6.6 0 1 0 3.5 0 5.5 0 18.3 .1-55 0 3.3 0 16.5 0 26.3 0 10.8 .1-69.6 0 47.2 0 13.2 0 1.6 .1-39 0 4 0 8.3 0 .9 0 3.5 0 1.8 0 14.4 .1-19.6 0 0 .1-11.3 0 3.1 0 2.9 0 1.7 .1-7.5 0 7.3 0 3.2 0 12.8 0 4.9 0 3.6 .1-42.3 0 5.3 0 15 0 3.6 0 23.8 .1-50.9 0 9.8 0 .4 0 .2 0 8.1 0 .9 0 3.3 0 14 0 2.7 0 .8 .1-56.5 0 8 0 35.8 0 47.4 .1-54.2 0 1.2 0 1.1 0 4 0 6.6 .1-42.2 0 20.3 0 .8 0 2.8 0 2 0 13 0 1 0 .5 0 27.2 .1-56 0 .9 0 24 0 6.4 0 12 .1-53.3 0 6.6 0 18.2 0 19.9 0 4.3 .1-47.4 0 19.8 0 5.3 0 .2 0 .5 0 5.1 0 11.8 .1-50.8 0 3.4 0 30.4 0 13.9 0 3.5 0 0 0 16.8 .1-47.9 0 16.8 0 15.3 0 13.7 0 .5 .1-44.5 0 1.7 0 3.3 0 18.6 0 17.9 .1-60.9 0 14.2 0 0 0 3.2 0 5.4 0 1.1 0 .8 0 13.5 0 9.9 0 22.1 .1-66.6 0 1.9 0 7.2 0 .7 0 7.5 0 2.4 0 0 0 10.5 0 2 0 6.3 0 7.4 0 .9 0 3.9 0 3.1 0 4.6 0 2.4 .1-58 0 27.3 0 .1 0 3.7 0 6.9 0 2.3 0 6.2 0 7.3 .1-51.3 0 8.3 0 22.7 0 10.7 .1-38.7 0 15.6 0 1.8 0 4.9 0 12.7 0 .1 .1-39.5 0 21.9 0 9.1 0 29.4 .1-66 0 14.2 0 1.3 0 24 0 .1 0 16.7 0 1.4 0 2.8 .1-37.1 0 20.2 .1-36 0 .3 0 5.1 0 1.5 0 3.3 0 8.2 0 3.6 0 3.5 0 8.3 .1-26.3 0 15.9 0 3 0 2.2 0 47.8 .1-86.6 0 15.8 0 4.8 0 22.3 0 15.9 0 12.1 0 3.3 .1-69.2 0 19 0 5.1 0 5 0 3.7 0 23.9 .1-54.6 0 .8 0 1 0 17.5 0 5 0 16.2 0 .3 0 5.8 .1-52.5 0 14.6 0 4.4 0 5.7 0 14.2 0 16.2 .1-35.1 0 5.3 0 5.5 0 1 0 5 0 34.9 0 16.1 .1-71.6 0 .9 0 32.8 0 14.9 .1-65.2 0 4.4 0 16.5 0 3.6 0 .9 0 1.7 0 2.5 0 20.8 0 1.1 0 2.7 0 1.2 .1-33.5 0 13.9 0 39.9 .1-48.9 0 9.9 0 5.2 0 5.1 0 6.9 .1-38.9 0 4.4 0 2 0 13.1 0 .6 0 .1 0 7.2 0 28.8 0 .1 0 2.4 .1-78.3 0 20.7 0 2.2 0 14.8 0 3.4 0 5.7 0 6.1 .1-53.9 0 20.9 0 10.1 0 17.6 0 16.2 0 3 .1-52.5 0 .1 0 4.6 0 14.4 0 1.3 0 9.2 0 .2 0 31.2 .1-52.4 0 7.3 0 2.1 0 4.2 .1-34.2 0 14 0 3.6 0 8.6 0 5.6 0 3.4 0 13.7 0 6.4 .1-32.1 0 10 0 7.6 0 1.7 0 19.3 0 .1 .1-64.4 0 15.5 0 2 0 10 0 5.6 0 2.4 0 11 0 1.5 0 3.1 0 10.1 .1-45.4 0 12.1 0 4.2 0 2.7 0 .4 0 8.7 0 5.4 0 38.6 .1-71.7 0 6.4 0 7.2 0 1.3 0 2.6 0 2.4 0 30.3 0 11.5 0 4.9 .1-66.9 0 2.5 0 1.1 0 16.7 0 3.2 0 13.2 0 2.9 .1-53.3 0 18 0 11 0 5.2 0 15.9 0 5.5 0 15.6 .1-41.8 0 7.7 0 1.9 .1-10.1 0 3.9 0 13.6 0 1.9 0 1.3 0 9.1 0 5.8 0 19.3 .1-69.7 0 28 0 9.6 .1-34.5 0 .8 0 8.8 0 7.9 0 .2 0 1.4 0 11.7 0 .5 0 16 0 .4 .1-48.8 0 1.9 0 4.8 0 9.2 0 6 0 17.3 0 4.3 0 14.6 .1-56.5 0 4.4 0 2.2 0 16.3 0 1.7 0 2 0 3 0 4.4 0 1.8 0 0 .1-39.2 0 6.7 0 4.6 0 3.5 0 1 0 1 0 7.2 0 3.6 0 4.3 0 3.4 0 2.8 0 2.7 0 10.4 0 .4 .1-55.4 0 1.8 0 2.8 0 9.1 0 5.2 0 19.9 0 11.4 .1-63.8 0 19.5 0 23.1 0 3.7 0 7.6 .1-10.1 0 4.9 0 5.8 .1-34.8 0 15.1 0 8.3 0 .7 0 25.6 .1-52.1 0 1.1 0 20.3 0 2.3 0 5.5 0 11.5 .1-31.3 0 6.7 0 6 0 2.8 0 1.3 0 4.1 0 18.5 .1-47.5 0 10.2 0 7.5 0 13.5 0 .8 0 29 0 2.2 .1-55.2 0 31.1 0 12.9 0 8.4 .1-61.2 0 .1 0 4.6 0 6.5 0 6.5 0 4.1 0 12 0 2.7 0 3.7 0 1.8 0 2.8 0 12.3 0 2.4 .1-62.3 0 9.7 0 12.4 0 1.4 0 .2 0 4.3 0 .4 0 7.4 .1-27.6 0 .1 .1-2.6 0 11.9 0 2.1 0 12.8 0 10.8 0 6.5 0 .2 0 4.9 .1-51.8 0 .9 0 25 0 1.4 0 5.8 0 21.7 .1-42.3 0 1.6 0 1.1 0 13.2 0 1.8 0 19.4 .1-55 0 13.5 0 19.5 0 6.2 0 7 0 14.8 .1-44.5 0 14.6 0 2.6 0 25 0 2.7 .1-62.5 0 16.8 0 14.7 0 .9 0 5.7 0 5.2 0 6.3 0 3.6 0 16.4 0 .3 .1-54.2 0 5.5 0 5.8 0 .9 0 4.6 .1-24.9 0 14.9 0 3.6 0 .3 0 18.1 0 1 0 .6 0 13.4 0 14.9 .1-81.4 0 12.1 0 7 0 19.6 0 .4 0 8.9 0 14.6 0 1.1 0 5.5 0 7.7 0 8.7 .1-71.7 0 21.5 0 28.2 .1-55.7 0 14.2 0 4.5 0 15.2 0 9.9 0 11.3 .1-57 0 13 0 13.7 0 .1 0 9.9 0 3.4 0 4 0 4.9 0 24.3 .1-56.4 0 71 .1-87.3 0 17.4 0 .9 0 .6 0 1.5 0 0 0 4.4 0 .7 0 7.7 0 4.4 0 2.1 0 1.4 0 .3 0 0 0 3.1 0 3.3 0 .9 .1-38.8 0 16.5 0 26.1 0 4.2 0 5.1 0 11.3 .1-56.7 0 6.5 0 .4 0 .8 0 .3 0 3.4 0 9.3 0 .4 0 2.9 0 4.7 0 .2 0 .1 .1-34.2 0 6.8 0 12.5 0 9.9 0 9.6 .1-60.5 0 31.3 0 3.4 0 6 0 1.7 0 .2 0 8 .1-47.4 0 18.6 0 3.2 0 5.5 0 1.9 0 33.7 .1-53.5 0 2.2 0 6.8 0 .9 0 42.3 .1-47.6 0 1.4 0 7.5 0 9.2 0 2.3 0 3.4 0 7.3 0 35.3 .1-77.6 0 20.4 0 10.8 0 .2 0 .9 0 1.2 0 3.5 0 4.3 0 16.1 .1-37.5 0 7.9 0 3.9 0 8 0 .9 0 1.4 0 .1 0 .8 0 5.1 .1-45.5 0 11.7 0 6.6 0 10.4 0 4.7 0 26.2 .1-55 0 1.3 0 7.3 0 9.2 0 0 0 7.6 0 1.3 0 16.1 0 14.3 .1-67.7 0 6.4 0 15.6 0 1.4 0 9.4 0 3.8 0 20.7 0 5.5 .1-59.5 0 16.6 0 13.1 0 28.2 0 8.2 .1-37.4 0 14.3 0 5 0 .8 0 5.7 .1-60 0 30.1 0 5.8 0 10.1 0 1.6 0 16.6 .1-58.3 0 22.2 0 20.2 0 1.7 0 9.8 0 4.9 .1-54.8 0 4.7 0 6.7 0 7.4 0 1.4 0 12.2 .1-30.6 0 18.2 0 4.9 0 26.5 0 6.7 0 1.2 .1-65.7 0 7.3 0 5.4 0 13.7 0 1.9 0 23.5 0 9.3 0 8.3 .1-67.1 0 10.8 0 8.2 0 8.4 0 2.6 0 3.4 0 6.8 0 4.3 0 32.2 .1-59.6 0 .2 0 .2 0 18.9 0 5.3 0 28.1 .1-63.6 0 9.6 0 5.5 0 11.4 0 10.6 0 10 0 16.4 0 8.2 .1-30.6 .1-53.6 0 24.3 0 4.7 0 1 0 4.2 0 8 0 14.3 0 4.3 0 2 0 7.3 .1-36.2 0 24.4 0 3.4 .1-55 0 21.7 0 5.5 0 10.3 0 2.4 0 2 0 2.8 0 6.3 0 15.7 .1-61 0 2.6 0 1.8 0 14.9 0 6.1 0 26 .1-55.7 0 2.2 0 15.5 0 34.3 0 .7 0 .6 0 6.7 0 21.6 .1-82.3 0 11.1 0 9.6 0 10 0 .6 0 1.1 0 4.6 0 11.9 0 7 .1-49 0 30.2 0 5.9 0 16.9 0 .6 .1-53.1 0 8.3 0 14.3 0 6.4 0 19.3 .1-43.5 0 10.2 0 30.8 0 3 .1-52.2 0 4.3 0 20.9 .1-27 0 7.4 0 21.4 0 3.4 0 5.7 0 12.1 .1-44.8 0 .2 0 17.7 0 .1 0 1.9 0 2.5 0 .8 0 5.7 0 2.5 0 15.5 0 16.6 .1-71.5 0 14.6 0 49.1 .1-52.5 0 11.9 0 .4 0 2.5 0 10.7 0 10.6 0 6 0 1 0 1.5 0 8.9 .1-60.3 0 11.6 0 5.3 0 6.3 0 .8 .1-22.2 0 11.4 0 9.8 0 1.4 0 14.7 0 7.8 .1-66.2 0 16.2 0 5.2 0 6.9 0 5.3 0 25.7 0 9.3 .1-35.6 0 2.4 0 12.6 0 12 .1-51.5 0 27.5 0 8.9 0 41.5 0 18.5 .1-91.2 0 6.8 0 2.4 0 10.2 0 2.5 0 2 0 19.8 0 30.9 .1-51.9 0 6.5 0 3.8 0 4.4 .1-31 0 16 0 4.1 0 3.9 0 1.7 0 8.7 .1-31.1 0 5.9 0 15.9 0 1.9 0 8.5 0 1.3 0 5.8 .1-30.2 0 0 0 17.3 0 .8 0 2.4 0 14.6 0 1.8 0 1.8 0 14.4 .1-61.4 0 25 0 5.8 .1-44.6 0 14.5 0 1.4 0 15.3 0 5.2 0 4.3 0 3.7 0 2.8 0 1.5 0 8.5 0 10.1 0 8.9 0 23.6 .1-80 0 21.1 0 7.7 .1-39.8 0 5.3 0 10.6 0 5.5 0 4.1 0 5.4 0 2.7 0 10.7 0 8.8 0 2.4 .1-2.4 0 13.3 .1-59.7 0 6.1 0 3.2 0 3.2 0 3.3 0 4.9 0 6 0 12.7 .1-53.7 0 2.7 0 20.4 0 .7 0 4.9 0 7.6 0 3.1 0 3.4 0 10 0 2.8 0 7.8 0 10.4 .1-65.2 0 3.5 0 15.2 0 2.3 0 4.5 0 .9 0 3.5 0 1 0 3.6 0 5.9 0 6.5 0 7.2 .1-62.8 0 12 0 11.9 0 10.2 0 3.1 0 .3 0 9 0 15.8 0 1.1 .1-47.4 0 12.2 0 2.8 0 2.1 0 1 0 5.1 0 .1 0 25 0 5.3 .1-70.7 0 13.6 0 1.6 0 41.8 0 3.2 0 3.4 .1-47.6 0 24.3 0 .7 0 .6 0 1.7 0 3.1 0 19 0 14.1 .1-61.9 0 2.4 0 9.7 0 25 0 5.8 0 6.3 0 .9 0 11.9 .1-61.7 0 6.9 0 11.6 0 8.6 0 3.7 0 2.1 0 10 0 11.3 0 .1 .1-51.2 0 18.9 0 .7 0 5.6 0 27.1 .1-61 0 14.5 0 5 0 2.6 0 5 0 .9 0 1.6 0 2.8 0 9.4 0 12.7 .1-55.1 0 1.5 0 4.6 0 12.4 0 4.6 0 2.1 0 17.5 0 .7 .1-46.8 0 1.7 0 1 0 17.7 0 1.3 0 12.2 0 .5 .1-56.8 0 37.4 0 3.2 0 6.6 0 5.9 0 14.3 0 16.3 .1-52 0 6.1 0 7.4 0 1.3 0 2.9 0 13.1 0 3.9 0 7.3 0 5.3 .1-44.3 0 26.6 0 .9 0 1.4 0 4.2 0 27.5 0 2.6 .1-75.8 0 9.7 0 3.7 0 3 0 15.9 0 10.3 0 1.7 0 5.1 0 1.7 .1-41.6 0 7.2 0 16.7 0 1.9 0 2.4 0 12.8 .1-37 0 26.4 0 2.5 0 38.3 .1-72.4 0 16.8 0 5.3 0 3.8 0 14.9 0 15.9 .1-62.5 0 12.9 0 1.8 0 .9 0 4.3 0 3.6 0 39.9 .1-60 0 4.3 0 6.6 0 6.9 0 14 0 .9 0 1.7 0 7.9 0 12.6 0 5 .1-40.4 0 13.5 0 32.7 .1-67.9 0 7.2 0 1.5 0 27.9 0 10.4 0 5.2 0 5.6 .1-32.6 0 1.8 0 8.3 0 8.8 0 16.9 .1-40.5 0 8.8 0 24.6 0 14.5 .1-72.7 0 17.6 0 41.2 0 5.4 .1-71.8 0 3.5 0 1.4 0 9.8 0 13.1 0 .7 0 1.8 0 11.1 0 1.6 0 2.6 0 9.7 0 10 .1-59.5 0 42.6 0 1.7 0 15.8 0 2.3 .1-51.4 .1 9.5 0 .4 0 13.6 0 13.7 0 4.3 .1-30.3 0 12.6 0 30.1 .1-23.5 .1-44.5 0 .5 0 18 0 .8 0 8.4 0 17.5 0 11.7 .1-41.5 0 30.1 0 3.4 0 5.4 .1-41.3 0 10.9 0 2.6 0 5.2 0 8.7 0 4.8 0 .2 0 13.6 0 4.7 .1-75.9 0 25.7 0 .1 0 4.2 0 14.8 0 1.7 0 27.4 .1-26.7 0 36.3 .1-51.5 0 8.4 0 4.6 0 2.8 0 4.7 0 4.1 0 8.4 0 4.7 0 8.4 .1-52.8 0 16.3 0 3 0 12.9 0 21.5 0 1.2 0 .5 0 2.2 0 2.5 .1-62.9 0 13.9 0 4.4 0 8.1 .1-20.9 0 13.7 .1-15.4 0 4.1 0 2.6 0 5.8 0 1.7 0 2 0 13.1 0 7.2 0 14.6 .1-67.3 0 4.6 0 14 0 16.7 0 2 0 5.9 0 1.1 0 9.4 0 8.5 0 16.6 .1-66.5 0 33.4 0 3.4 0 13.5 0 1 0 4.4 .1-66.1 0 14.2 0 .9 0 9.8 0 6.3 0 6.7 0 2.7 .1-37.5 0 30.3 0 13.2 0 35.4 .1-75.1 0 8.2 0 3.7 0 15.3 0 1.6 0 3.3 0 3.5 0 2 0 3.7 0 16.8 .1-56.3 0 34.9 0 7 .1-36.2 0 1.6 0 5.1 0 2.3 0 8.3 0 4.9 0 17.9 0 1.4 0 5.3 .1-58.4 0 25.9 0 .2 0 .1 0 5.9 0 2.9 0 9.5 0 7.2 0 6.5 .1-66.5 0 11.9 0 7.3 0 22.7 0 12.4 0 2 .1-43 0 16.1 0 2.1 0 3 0 1 0 19.9 0 5.5 0 .5 0 6.1 0 37.5 .1-63.8 0 3.5 0 9.8 0 2.5 0 .3 0 8.7 0 5.5 .1-57.9 0 21.4 0 5.9 0 2.7 .1-25.7 0 10.9 0 1.3 0 6.3 0 8.9 0 5.9 0 8.7 .1-49.7 0 24.3 0 8.9 0 1.3 0 6.5 0 9.5 0 6.5 0 1.2 0 1.1 0 2.8 .1-60.5 0 12 0 46.9 .1-44.7 0 16.7 0 2.7 0 16.5 0 5.7 .1-57.1 0 8.4 0 17.4 0 5.4 0 1.6 0 27.2 .1-58 0 1.2 0 16.2 0 5.9 0 1.7 0 6.5 0 .8 0 8.7 0 25.8 0 6.1 .2-77.8 0 13 0 5 0 7.1 0 13.1 0 1.6 0 12.6 .1-56.5 0 9.7 0 7.6 0 13.5 0 .5 0 7.5 0 10.1 0 7.9 0 .4 0 4.8 0 15.5 .1-49.2 0 .5 0 19.8 .1-39.2 0 1 0 17.7 0 10.9 0 5.4 0 2.2 0 17.8 .1-70.4 0 8.6 0 23.6 0 13.3 0 5.9 0 3.7 0 3.4 0 8.3 .1-62 0 15.8 0 19.1 0 1.2 0 1.8 0 4.4 0 31 0 4.5 .1-59.2 0 9.5 0 1.7 0 6.3 0 3 0 1.6 0 4.6 0 3.2 0 5.4 .1-26 0 3.5 0 14.2 0 0 0 1.5 .1-18.4 0 4.9 0 3.3 0 8 .1-33.1 0 18.5 0 9.6 0 5.2 0 .5 0 3.2 0 1.3 0 6.1 0 14.6 .1-75.5 0 18.8 0 11.3 0 13.3 0 2.6 0 6.4 0 9.2 0 10.5 0 4.2 .1-44.9 0 3 0 6.2 0 11.2 0 31.4 .1-55.9 0 2.5 0 6.2 0 8.2 0 14.3 0 23.3 .1-80.2 0 21.3 0 27.8 0 12.2 .1-36.4 0 5.3 0 3.1 0 2.4 0 4.1 0 3 0 67.4 .1-85.8 0 4.5 0 7.4 0 0 0 14.6 0 1.2 0 3.1 0 16.6 0 3.5 0 5.4 .1-71.6 0 24.5 0 8.7 0 4.3 0 33.2 .1-68.4 0 2.3 0 16.2 0 5.7 0 .2 0 2.2 0 2.1 0 9.8 0 2.5 0 .1 .1-35.9 0 3 0 11.8 0 3.2 0 1.6 0 11.6 0 4.5 .1-38.5 0 2.5 0 11.7 0 3.6 0 8.3 0 1.7 0 4.6 0 6.9 0 12.8 .1-47.8 0 .2 0 2.5 0 6 0 22.9 0 15.6 0 16 .1-70.6 0 2.3 0 34 0 21 .1-50.5 0 14.9 0 3.4 0 1.6 0 5.4 0 .2 0 .4 0 1.7 0 1.5 0 14.5 .1-61.2 0 43.7 .1-6.9 0 2.9 0 2.1 0 6.4 .1-24.9 0 10.8 0 0 0 17.1 .1-34.3 0 1.4 0 29.4 0 6.3 .1-13.8 0 33.9 .1-45.4 0 1.1 0 15.2 0 18.9 .1-54.8 0 3.9 0 16.1 0 8.2 0 3.1 0 6.9 0 11.5 0 13.9 .1-63.2 0 8 0 39.1 .1-47 0 20.6 0 3.3 0 .9 0 8.8 0 15.6 0 2.6 .1-54 0 2.5 0 1.5 0 1 0 13.9 0 12.5 0 7.8 0 19.1 .1-54.6 0 22.3 0 2.1 0 .4 0 5.9 0 1.9 0 9.1 0 7 0 7.2 .1-42 0 7.5 0 3.1 0 .3 0 6.8 0 4.2 0 7.7 .1-44.6 0 1.7 0 16 0 25.7 .1-24.9 0 11.8 .1-43.3 0 11.8 0 14.3 0 1.7 0 10.4 0 3.6 0 1.6 0 2.1 0 .7 0 .8 0 1.9 0 26.9 .1-66 0 11.6 0 6.9 0 8.4 0 11.4 0 0 0 7.4 0 6 0 10.3 .1-59.5 0 .3 0 5.7 0 9.2 0 2.2 0 17.5 0 7.3 0 14.4 .1-53.6 0 6.7 0 .6 0 5.7 0 0 0 2.9 0 19.2 0 40.6 .1-70.5 0 2.2 0 13.5 0 10.8 0 3.5 0 11.9 0 9.9 .1-57.6 0 10.3 0 42.4 .1-48.7 0 11.2 0 9.5 .1-30.2 0 34 0 .4 0 4.6 0 11.6 0 8.2 .1-65.1 0 6 0 24.3 0 2.6 0 .1 0 1.3 0 4.5 0 22 .1-31.9 0 6 0 .9 0 2.6 0 5.8 0 2.6 0 .4 0 4.2 0 1.7 0 1.3 0 .4 .1-38.5 0 18.4 0 2.1 0 5.3 0 4.7 0 1.6 0 6.2 0 2.1 0 13.3 0 3.2 .1-70 0 19 0 23.6 .1-22.2 0 4.3 0 17.9 0 1.9 0 3.3 0 .9 0 3.9 0 1.7 0 .7 .1-51.5 0 10.6 0 .9 0 1.6 0 7.6 0 5.6 0 4.4 0 5.2 0 5.1 0 5.2 0 4.9 .1-48.3 0 23.4 0 12 0 15.5 .1-53.1 0 25.5 0 5.4 0 2.6 0 18.6 0 11.1 .1-45.2 0 7.9 0 .4 0 1.7 0 2.6 0 10.8 0 5.4 .1-42.5 0 19.2 0 14.5 0 4.7 0 2.8 0 3.6 0 4.5 0 8.4 .1-56.3 0 1.4 0 4.1 0 3.2 0 19.2 0 6.2 0 16.3 .1-40.6 0 4.1 0 3.6 0 6.5 0 3.8 0 6.3 0 5.1 0 17.1 .1-50 0 5.8 0 2.4 0 12 0 2.5 0 16.9 0 4.8 0 6.9 .1-36.9 0 0 0 7 0 3.9 0 8.3 0 18.6 .1-58 0 16.9 0 8.7 0 3.3 0 20.7 0 4 .1-70.1 0 14.1 0 9.2 0 1.7 0 0 0 3.7 0 4.5 0 5.4 0 3.2 0 9.5 0 1 .1-46.1 0 9.3 0 .2 0 11.8 0 1.5 0 4.1 0 8.5 0 6.4 .1-40.2 0 20.2 0 11.9 0 .1 0 9.2 0 17.2 .1-57.9 0 33.5 0 7.9 0 10.3 0 5.2 .1-48.5 0 24.4 0 9.8 0 17 0 3.9 0 .4 .1-54.2 0 5.2 0 3.4 0 1.1 0 12.5 0 3.9 0 6.3 0 8.5 0 1.7 0 7.7 .1-54.9 0 3.8 0 .6 0 17.4 0 6.9 0 10.9 0 .6 0 7.4 0 1.6 0 5.6 0 2.7 0 .4 0 14 .1-63.6 0 13.2 0 12 0 1.8 0 3.3 0 6 0 11.1 0 32.9 .1-66.9 0 11.2 0 .7 0 16.9 .1-29.9 0 14.3 0 15.7 .1-47.2 0 10.7 0 13.7 0 .7 0 3 0 32 .1-55.1 0 9.9 0 12.3 0 38.5 .1-59.7 0 .5 0 13.6 0 3.4 0 5.2 0 6.5 0 10.7 .1-10.6 0 5.4 .1-14.6 0 .8 0 .7 0 7.5 0 .4 0 20.6 0 1.4 .1-30.1 0 24.7 .1-52.8 0 26.8 0 1.9 0 3.1 0 3 0 2.2 0 13.8 0 4.5 0 5.9 0 4.7 .1-48.1 0 7.7 0 6.9 0 3.9 0 4.2 0 4.6 0 4 0 5.3 .1-51 0 5.8 0 19.4 0 13.4 .1-36.5 0 .1 0 17.5 0 8.9 0 1.8 0 14.9 .1-41 0 2.4 0 3.2 0 15 0 16.3 .1-58.6 0 18.9 0 9.8 0 2.6 0 11.1 0 .5 0 1.6 0 1.8 .1-23.9 0 4.6 0 13.9 0 7.7 0 .3 0 .4 0 18.4 0 8.4 .1-51.4 0 15.9 0 3.5 0 8.7 0 3.2 0 41.3 .1-76.2 0 5 0 10.5 0 13.2 0 15.8 0 1.5 0 4.6 0 16.8 .1-83.1 0 8.3 0 10.5 0 3.1 0 3.5 0 2.2 0 7 0 8.6 0 24.9 .1-62.8 0 15.8 0 26.9 0 5.9 .1-43.7 0 6 0 8.6 0 14.6 0 4.7 0 1.7 0 20.5 .1-39.1 0 3.4 0 21.5 0 3.7 .1-53 0 7.7 0 24.2 0 1.7 0 2.2 0 30.1 0 3.4 .1-61.1 0 .8 0 22.5 0 2.6 0 20.6 0 10.5 .1-59.8 0 17.7 0 14.5 0 .2 0 11.3 .1-41.1 0 .4 0 10.6 0 .6 0 1.5 0 7.1 0 11.9 0 13.4 0 3.7 .1-35.8 0 2.7 0 14.9 0 5.9 0 5.9 .1-63.5 0 7.4 0 22.2 0 6.3 0 12.5 .1-43.6 0 9.5 0 31.5 0 6.5 0 5.2 0 15.9 0 6.4 .1-59.8 0 9.2 0 11.9 0 9.6 0 25.8 .1-33.2 0 .2 0 5.6 0 2.7 0 2 0 1.2 0 .2 0 24.9 .1-58.9 0 6.7 0 7.6 0 11.5 0 7 0 .9 0 2 .1-21 0 4.7 0 10.4 .1-30.6 0 7.9 0 11.6 0 13.5 0 1.9 0 21.7 .1-56.7 0 4.7 0 34.1 0 23.8 .1-70.6 0 12.7 0 10 0 2 0 7.5 0 4.2 0 2.5 0 7.4 .1-29.3 0 27.2 0 5.2 0 6.7 .1-54.8 0 .3 0 21.6 0 7.2 0 1.4 0 9.1 0 9.3 .1-49.8 0 9.6 0 6 0 7.7 0 5 0 6 0 18.4 0 7.3 0 1.5 .1-55.1 0 5.8 0 1.5 0 5.9 0 5.1 0 2.6 0 17.5 0 4.1 0 31.3 .1-71.5 0 3.2 0 3.7 0 16.5 0 3.2 0 13.7 .1-48.6 0 12.2 0 1.7 0 14.6 0 4 0 5.7 0 18.8 0 .7 0 1.5 0 4.4 0 1.8 .1-55.2 0 3.6 0 15 0 7.3 0 2.4 .1-43.9 0 8.6 0 15.8 0 5.9 0 6.2 0 11.1 0 .5 0 .8 0 14.7 .1-43.6 0 13.6 0 5.1" marker-start="url(#m0)" marker-mid="url(#m0)" marker-end="url(#m0)"/>
<path d="M629.3 86.7l0 23.2 .1-28.1 0 7.6 0 4.7 .1-22.6 0 10.9 0 9.1 0 7.2 0 0 0 21.6 0 .8 .1-61.4 .1 11.2 0 17.7 0 18.9 0 23.4 .1-92.7 0 30.5 0 19.3 0 1.3 0 2.2 0 15.4 0 9.6 0 7.5 .1-52.1 0 3.7 0 15.2 0 24.8 0 11.7 .1-65.8 0 10.8 0 1.3 0 1.9 0 5 0 23 0 19.1 0 6.5 .1-42.4 0 1 0 16.5 0 20 0 6 .1-44.2 0 17.1 0 6.3 0 .6 0 5.8 0 14.6 .1-68.9 0 18.8 0 7.1 0 .6 0 1.6 0 13.4 0 11.5 0 8.1 .1-63.1 0 16.2 0 8.5 0 12.6 0 9.1 0 3.4 .1-58.8 0 18.7 0 3.4 0 18.5 0 3.1 0 13.5 0 10.2 .1-60.2 0 41.9 0 12.4 0 .7 .1-28.7 0 31 0 .8 .1-47.8 0 14.5 0 16.2 0 5 0 2 0 18.2 .1-33 0 5.6 0 22.4 .1-58.5 0 8.9 0 16.8 0 14 0 9.7 .1-39.7 0 5.5 0 5 0 10.3 0 23.7 0 5.7 0 1.5 0 2.4 .1-86.9 0 30.3 0 2.3 0 2.5 0 23.5 0 8.2 0 .7 0 4.6 .1-56.9 0 29 0 9 0 2.3 0 5.1 0 1.8 0 .5 0 44.7 .1-66 0 24.3 0 2.4 0 10.5 .1-60.6 0 46.1 0 4.7 0 32.6 .1-67 0 11.8 0 .2 0 12.4 0 15 0 .2 0 .6 0 3 0 2.5 0 .4 .1-69.5 0 21 0 22.4 0 3 0 1.6 0 4.2 0 12.3 .1-23.7 0 14.4 0 11.1 0 9.3 .1-62.6 0 6.7 0 15.2 0 1.7 0 17.9 0 1 0 9.2 0 6.7 0 1.9 .1-38.6 0 27.2 0 12.9 0 16.5 .1-60.3 0 13.6 0 .7 0 .6 0 5.9 0 1.8 0 1 0 18.6 0 5.8 .1-31.3 0 9.7 .1-20.9 0 5.7 0 11.9 0 17.2 .1-52 0 34 0 5.6 0 20.1 .1-65.7 0 25.3 0 6.8 0 .1 0 2.5 0 1 0 8.8 0 11.6 0 13.2 .1-74 0 30.7 0 3.5 .1-28.4 0 6 0 .8 0 10.9 0 7.6 0 5.2 0 18.6 0 3.3 0 1.8 .1-30.5 0 2.1 0 9.7 0 2.4 0 7.6 0 2.1 0 .3 0 3.8 .1-34.6 0 2.4 0 6.9 0 9.4 0 .3 0 1.9 0 5.1 0 15.5 0 1.8 .1-54.9 0 11.9 0 5.6 0 3.3 0 1.1 0 5.3 0 9.4 0 6.8 0 10.1 0 3.1 .1-36.8 0 4.1 0 8.3 0 1.5 0 3.9 0 3.8 0 1 .1-32.7 0 5.3 0 4.4 0 25.3 0 5.9 .1-38.1 0 57.1 .1-71.3 0 13.2 0 19.5 0 10.2 .1-25 0 23.9 .1-45.1 0 3.3 0 7.5 0 8.9 0 8 0 33.2 .1-69.8 0 10.4 0 23.3 0 8.7 0 28.6 .1-56 0 14.5 0 16.2 0 10.7 0 4.8 .1-30.2 0 5.4 0 5.1 0 1.5 0 3.7 0 9.4 0 .1 0 12.3 0 3.2 .1-46 0 3.8 0 14.2 0 4.7 .1-28.6 0 5.3 0 6.1 0 2.3 0 9.3 0 1.3 0 4 0 3 0 19.5 .1-61.1 0 .3 0 12.6 0 4.4 0 6.3 0 14.8 0 14.8 .1-92.8 0 38.4 0 41.3 0 1.2 0 16.2 .1-45 0 7 0 3.9 0 5 0 11.7 0 2.8 0 1.1 0 .8 0 4.7 0 1.4 .1-48.9 0 6 0 7.1 0 15 0 3.4 0 7 0 .1 0 3.7 .1-59.8 0 18.1 0 3.2 0 8.2 0 3.3 0 2.2 0 7.1 0 44.2 .1-60.3 0 6.6 0 5.9 0 5.2 0 3.9 0 13.1 0 2.2 0 8.7 0 .7 0 9.5 .1-50.5 0 26 0 6.6 .1-26.7 0 6.7 0 .5 0 2.4 0 5.1 0 10.2 0 5.4 .1-52.4 0 38.6 0 14.2 0 6.9 0 21.5 .1-65.4 0 11.2 0 26.4 0 .2 .1-44.6 0 13.5 0 1.2 0 4.3 0 5.9 0 6.5 0 30.6 .1-80 0 8.2 0 11.7 0 4.2 0 8.4 0 9.4 0 9.3 .1-16.4 0 4.3 0 1.5 0 17.9 0 .4 0 12.4 .1-76 0 14.5 0 1.4 0 6.4 0 1.8 0 .3 0 4.8 0 22.5 .1-26.6 0 6.8 0 11.3 0 7.2 0 4.2 0 9.4 0 8.3 0 2.6 0 7.2 .1-33.3 0 5.9 0 .6 0 3.2 0 9.2 .1-58.7 0 7.7 0 2.2 0 25 0 1.3 0 3.6 0 9.3 0 1.1 0 5.3 0 21.5 .1-61.7 0 26.9 0 2.7 0 10 0 12.2 .1-42.5 0 8.2 0 4.3 0 6.5 0 13.8 0 5.5 .1-66.2 0 15.1 0 .4 0 13.1 0 6.3 0 1.1 0 .5 0 10.1 0 .6 .1-23.7 0 10.5 0 1.3 0 3 0 4.9 0 2.9 .1-42.3 0 2.7 0 23.9 0 11 0 4.6 .1-40.5 0 5.9 0 2.6 0 .9 0 17.6 .1-23 0 11.3 0 15.7 0 .7 0 2.2 0 .8 0 3.1 0 7.7 0 5.2 0 6.6 0 1.9 0 4.1 0 3.7 .1-66.3 0 2.7 0 9.6 0 5.3 0 5.1 0 1.3 0 6.8 0 20.6 .1-26.8 0 9.7 0 7.3 0 14.2 0 4.8 0 2.1 0 13.3 .1-59.9 0 23.8 0 5.8 0 1.4 0 6.5 .1-59.8 0 21.4 0 .3 0 3.1 0 22 0 5.7 0 6.5 0 4.6 .1-33 0 2.4 0 .5 0 7.7 0 13.3 0 1.4 .1-78.4 0 16.8 0 17.9 0 1 0 15.1 0 5.2 0 4.2 0 .1 0 .9 0 21 .1-8.8 0 2.4 0 .8 0 3.3 0 4.9 .1-52.4 0 10.4 0 3.4 0 14.7 0 14 0 .1 0 17.1 0 .1 .1-52.7 0 10 0 11.9 0 4 0 6.3 0 15.9 .1-59.2 0 6.8 0 4.1 0 29.1 0 1.6 0 10.6 0 4.2 0 7.7 0 .4 .1-56.4 0 27.5 0 18.4 0 2.7 .1-59.4 0 33.2 0 4.6 0 15.3 0 1.9 0 20.6 .1-62.3 0 12.3 0 .8 0 2.8 0 17.5 0 4 .1-46 0 8.1 0 25.2 0 11.1 0 4.8 0 18 0 1.4 .1-60.1 0 30.6 0 14.4 0 .8 .1-64.5 0 47.2 0 2.7 0 .5 0 14.6 0 15.8 .1-77 0 25.2 0 19.8 0 6.1 0 5.2 0 .6 0 14.5 .1-40.2 0 2.6 0 11 0 .9 0 13.9 0 9.5 .1-59.7 0 10.2 0 9.1 0 3.2 0 17.7 0 7.7 0 5.5 .1-53.8 0 23 0 11.3 0 3.4 0 22.5 .1-59.8 0 2.8 0 5.9 0 3.6 0 5.4 0 13.9 0 7.3 0 4 0 5.9 0 1.2 .1-61.8 0 6 0 8.7 0 1.8 0 5.8 0 3.4 0 0 0 7 0 7.7 0 15.8 0 3.3 0 10.1 .1-55.9 0 .4 0 14.8 0 4.8 0 8.1 0 .9 0 .3 .1-18.9 0 1.6 0 3.3 0 6 0 9.7 0 1.3 0 2.8 0 5.4 0 1 .1-49.6 0 11.1 0 16.1 0 8.5 0 7.2 0 4.3 0 6.9 .1-73.5 0 44.3 0 5 0 8.5 0 2 0 3.3 .1-56.8 0 32.7 0 2.1 0 4.6 0 9.6 0 5.8 .1-35.9 0 3 0 10.3 0 9.4 0 7.9 0 4.1 0 2.5 0 11.9 0 2.4 0 40.6 .1-125.6 0 30.9 0 2.1 0 7.5 0 .3 0 2.6 0 13.9 0 22.4 0 13 0 .8 .1-50.4 0 4.4 0 20.8 0 30.6 .1-61.3 0 1.2 0 7.7 0 12.9 0 31.6 .1-47.6 0 8.3 0 13.3 .1-34.8 0 23.3 0 2 0 1 0 7.6 0 9.1 0 21.2 .1-41.6 0 14.7 0 5.8 0 9 0 2.2 .1-85.9 0 52.4 0 6.3 0 5.6 0 3.1 0 2.2 0 8.4 0 .4 0 1.4 0 5 0 10.6 .1-57.6 0 15.4 0 9.3 0 4.3 0 .7 0 1.5 0 2.7 0 5.7 0 .4 0 4.2 .1-44.1 0 3.7 0 3.8 0 2.8 0 1.7 0 1.8 0 4 0 9.8 .1-12.8 0 20.1 0 1.1 0 19.3 0 13.7 .1-69.2 0 9.9 0 26.9 0 14.3 0 .6 .1-53 0 4.6 0 7.8 0 1.2 0 .4 0 5.4 0 13.6 0 1.5 0 4.2 0 19.5 .1-57 0 22 0 25.9 0 6.2 0 4.9 .1-60.4 0 3.9 0 9.4 0 .2 0 10.8 0 25.3 .1-63.2 0 11.6 0 1.2 0 3.8 0 2.5 0 7.1 0 4.6 0 .7 0 10.6 0 8.3 0 11.2 0 13.6 .1-61.4 0 6.2 0 25.1 0 15 0 1.5 0 5.9 .1-31.7 0 1 0 .9 0 1.5 0 6.9 0 11.6 0 .9 .1-23.7 0 16.7 0 9.9 0 7.3 .1-94.9 0 4.4 0 15.8 0 16.7 0 11.5 0 7.2 0 2.8 0 9.5 0 1.9 0 6.7 0 .3 0 13.3 .1-63.2 0 23.4 0 14.7 .1-45.4 0 9.8 0 12.9 0 3.9 0 27.1 0 3.2 0 7 .1-81.2 0 31.3 0 6.5 0 9.8 0 3.5 0 7 0 8.3 0 8.3 0 10.6 0 .5 .1-81.1 0 40.3 0 12.8 0 8.9 0 1.2 0 20.7 .1-18.6 0 5.5 0 4 .1-43.7 0 10.5 0 32.5 .1-41.7 .1 48 0 .7 0 3.8 0 3.1 .1-12.3 0 1.8 .1-11.7 0 .6 0 25.1 .1-66.7 0 .5 0 2.6 0 1.1 0 2.1 0 1.8 0 14.4 0 10.5 0 1.8 0 1.3 0 1.9 0 1.5 0 4.5 0 .3 0 1 .1-33.5 0 8.4 0 33 0 10 0 6.7 .1-62.3 0 26 0 17.8 0 10.9 0 1.5 .1-48.7 0 21.2 0 9.6 0 3 0 11.1 .1-66.3 0 26.2 0 6.3 0 .5 0 3.9 0 4.4 0 7.9 0 2.5 0 2.5 0 5.2 0 2.4 .1-41.3 0 9.7 0 4 0 2.2 0 20.1 0 .8 .1-37 0 13 0 45 0 9.4 .1-92.9 0 8.5 0 20.5 0 7.2 0 3.6 0 16.1 0 13.9 0 4.9 .1-42.3 0 3.8 0 5.9 0 3.4 0 12.8 .1-37.6 0 12.9 0 16.5 0 1.6 0 .2 .1-4.4 0 .7 0 5.9 0 5.7 0 5.5 0 8.1 .1-65.7 0 2 0 6.9 0 .8 0 2.8 0 22.5 0 9.6 0 2.2 0 5.3 .1-73.2 0 25.9 0 36.7 0 12.1 0 2.2 0 10.8 .1-41.4 0 2.5 0 13 0 7 0 2.1 0 7.9 .1-45.8 0 3.6 0 3.3 0 31.6 0 1.2 0 5.6 0 13.3 .1-56.2 0 1 0 12.3 0 9.6 0 2.2 0 6.6 0 11.9 0 .7 0 5.9 .1-52.2 0 5.4 0 13.7 0 .1 0 8.2 0 1.2 0 8.5 0 4.6 0 .5 0 6.4 .1-45.5 0 6.2 0 .5 0 46.9 .1-63.8 0 9.1 0 18.7 0 29.2 0 2.6 .1-53.3 0 4.9 0 41.1 0 10.3 .1-35.5 0 10.6 0 1.7 0 9.4 0 10.5 0 7.8 .1-49.8 0 5.7 0 11.9 0 1.5 0 2 0 1.3 0 17.4 .1-59.6 0 23.9 0 2.9 0 1.6 0 3.4 0 7.8 0 .1 0 11.5 0 6.7 0 1.6 .1-38.3 0 4.7 0 .7 0 .6 0 3 .1-19.8 0 .2 0 23 0 1.7 0 1 0 2.8 0 6.1 0 3.7 .1-59.1 0 14.4 0 11.3 0 8 0 3.6 0 1.9 0 6.7 0 1.1 .1-29.8 0 13.5 0 11 0 4 0 30.5 0 11.4 .1-45.4 0 14.7 0 7.1 .1-67.3 0 25.7 0 13.2 0 8 0 1.8 0 1.2 0 13.4 .1-53.2 0 6.3 0 10.7 0 31 0 10 0 8.7 0 3.5 .1-60 0 20.1 0 8.5 0 6.8 .1-24.2 0 7.3 0 8.8 0 4.9 0 1.6 .1-24.8 0 14.8 0 1.1 0 13.8 0 11 0 15.1 .1-54.5 0 6 0 13.5 0 1.6 .1-47.1 0 30.9 0 4.9 0 3.5 0 7.8 0 4.1 0 1.5 .1-60.7 0 28.8 0 31.8 0 2.1 0 17.1 0 1.2 0 1 .1-46.7 0 8.3 0 5.5 0 2 0 1.3 0 5.2 0 7 0 6.4 0 11.8 .1-68.4 0 14.9 0 17 0 4.8 0 3.1 .1-32.9 0 .9 0 3.7 0 .3 0 22.7 0 27.2 0 4.8 0 2.2 0 13.1 .1-81.3 0 13.9 0 .2 0 10.7 0 4.1 0 18.8 .1-35.3 0 5.4 0 1.4 0 21.6 0 4 0 8.2 0 .6 .1-42.4 0 1.1 0 10.6 0 .4 0 8.7 0 13.4 0 3.4 0 7.7 .1-44.7 0 14.7 .1-15.8 0 1.1 0 9.1 0 4.7 0 9.5 0 11.6 0 1.2 0 11.2 0 3.5 0 5 .1-42.4 0 8.9 0 3.7 0 3.3 0 23.8 .1-56.8 0 5.5 0 26.8 0 22.4 0 8.8 .1-62.8 0 15.8 0 .4 0 16.6 0 33.3 .1-71.6 0 20.2 0 2.9 0 .4 0 18.6 0 5.4 0 .2 0 3.5 .1-47.9 0 18.8 0 4 0 10.1 0 9.6 0 12.2 .1-76 0 12.4 0 3.6 0 18.4 0 2.6 0 9.9 0 4 0 11.8 0 7.7 0 1.6 0 12.6 .1-65.7 0 3.6 0 .7 0 10.7 0 8.2 0 8.9 0 10.4 0 .3 0 3.7 .1-35.3 0 14.4 0 13.1 0 24.1 .1-46.7 0 13.2 0 3 0 27.8 .1-54.4 0 5 0 24.1 0 1.9 0 4.3 0 .6 0 11.9 .1-62.8 0 20.1 0 26.5 0 .8 0 8.3 .1-64.1 0 7.9 0 6.2 0 16.7 .1 12 0 8.1 0 1.2 0 .1 0 4.8 0 1.6 0 3.4 0 7 0 7.2 .1-22.2 0 10.5 0 11.4 .1-50.1 0 15.9 0 3.2 0 3.3 0 5 0 6.4 0 2.1 0 11.2 0 5.4 .1-52.1 0 41.7 0 1.1 .1-58.1 0 8 0 18.6 0 16.6 0 6.5 0 12.4 0 3.5 .1-54.9 0 23.2 0 3.9 0 15 .1-24.8 0 17.4 .1-40.8 0 9.7 0 6.5 0 5.3 0 12.9 0 .3 0 7.2 .1-37.4 0 1.5 0 12.7 0 4.7 0 13.3 0 2.6 0 31.4 .1-70.5 0 21 0 2.1 0 8 0 26.3 0 48.5 .1-77 0 5.2 0 5.2 0 13.1 0 7.5 .1-37.1 0 7.3 0 8.4 0 3.4 0 8.5 0 10.4 .1-33.7 0 3.6 0 1.7 0 2.7 0 .4 0 23 .1-45.7 0 13.4 0 8.2 0 4.2 0 1.2 0 19.1 .1-72.2 0 27.8 0 13.1 0 38.6 0 .4 0 .9 .1-68.9 0 4.2 0 12.2 0 21.9 0 16.7 0 1 .1-63.6 0 11.1 0 3.6 0 8.3 0 3 0 .9 0 39.5 .1-46.3 0 17.3 0 17.8 0 1.4 0 .6 .1-40.4 0 9.1 0 11.1 0 1.5 0 16.4 0 1.2 .1-35.8 0 5.8 0 10.4 0 4 0 .2 .1-41 0 16.8 0 .6 0 19.3 0 4 0 6.3 0 1.6 0 4.2 0 20.4 0 2 .1-37.4 0 6.8 0 2.6 0 9 .1-52.4 0 7.5 0 9.1 0 6.3 0 23.2 0 1.9 .1-20.4 0 7.2 0 8.3 0 1.6 0 4.2 0 14.2 0 9.5 .1-84 0 17.1 0 10.1 0 1 0 5.2 0 1.2 0 2.2 0 23.2 0 9 0 10.8 .1-52.3 0 5.7 0 .5 0 8.2 0 .5 0 9.8 0 1.5 0 1.6 0 7.5 0 9.5 0 15 .1-66.1 0 26.3 0 .9 0 3.7 0 .9 0 2 0 4.5 .1-31.5 0 13.6 0 .5 0 17.2 0 11 0 1.7 .1-62.4 0 10.3 0 20.8 0 1.5 0 6.2 0 4.2 0 1.9 0 2.4 0 1.9 0 4.6 0 3.8 .1-45.7 0 .6 0 2.5 0 52.5 .1-30.7 0 14 0 21.1 0 5.7 .1-41.2 0 5.2 .1-33.3 0 24.2 0 17.6 0 28.8 .1-87.8 0 12.7 0 5.1 0 17.7 0 2.7 0 6.3 0 7.6 .1-33.9 0 7.5 0 5.9 0 10.9 0 3.8 0 8.6 0 9.3 0 12.3 0 8 .1-52.4 0 4 0 7.4 0 16.4 .1-19.4 0 3.7 0 2.7 0 7.7 0 1.6 0 3.8 .1-25.7 0 .2 0 .9 0 9 0 6.7 0 17.3 .1-48.2 0 3.2 0 12.2 0 13.9 0 1.6 0 11.2 0 7.5 .1-51.1 0 20.7 0 2 0 7.1 0 12.2 0 29.8 .1-77.9 0 .6 0 13 0 5.3 0 12.9 0 .5 0 10.3 0 8.7 .1-28.3 0 2.1 0 38.1 0 4.7 0 3.2 .1-34.8 0 15.2 0 4.7 0 10.2 .1-52.1 0 27.4 0 3.2 0 10.6 0 1.6 0 4.7 0 9.8 0 3.6 0 3.5 .1-84.6 0 18.1 0 11.1 0 1.5 0 5.2 0 5.9 0 1.5 0 .5 .1-17.4 0 15.1 0 8 0 11.3 0 4.9 .1-28.8 0 6.8 0 .4 0 12.1 .1-43.4 0 23 0 3.6 0 1.8 0 .2 0 4 0 .7 0 2.1 0 3.5 0 9 0 1.5 0 1.4 0 2.1 .1-57.3 0 12.3 0 .1 0 2.4 0 .9 0 22.6 0 8.9 0 19.1 0 1.9 .1-59.2 0 3.5 0 19 0 2.4 0 3.8 0 .7 0 20.3 .1-48.8 0 0 0 9.5 0 4.8 0 8.4 0 4 0 8.9 0 11.5 0 2.5 .1-33.1 0 4.2 0 17.7 0 19.9 .1-25.6 0 11.9 0 7.5 .1-40.3 0 12.7 0 3.2 0 5.5 0 7.2 0 5.7 0 6.1 .1-58.7 0 41.9 0 .6 0 1.8 0 .6 0 12.5 .1-31.8 0 5.9 0 13.3 .1-34.6 0 7.4 0 3.4 0 5.2 0 7.5 0 20.6 .1-52.5 0 5.8 0 22.9 0 2 0 4.8 0 7.7 0 18.6 .1-62.8 0 8.8 0 14.3 0 22.8 0 8.5 .1-46.9 0 6.1 0 6.2 0 2.8 0 36.4 .1-51.1 0 11.5 0 1.9 0 20.9 .1-21.6 0 5.7 0 13.8 0 .6 0 21.2 .1-68 0 14.2 0 18.9 0 8.7 0 7.5 0 3.2 0 1.4 .1-31.5 0 17.4 0 11.6 0 6.3 .1-48.4 0 13.9 0 24.3 0 24.8 .1-69.6 0 15.5 0 13.4 0 19.3 0 .6 0 15.4 0 7.9 .1-75 0 8.5 0 14.9 0 2.5 0 1 0 4.8 0 10.9 0 5.4 .1-39 0 12 0 17 0 .5 0 14.1 .1-47.1 0 9.1 0 1.5 0 4.6 0 16.9 0 5.5 0 34.6 .1-45.6 0 1 0 .5 0 3 0 17.6 0 .7 0 14.2 0 9.8 .1-58.8 0 4.8 0 6.3 0 2 0 13.1 0 1.2 0 11.9 0 6.6 0 3.4 .1-63.3 0 11.1 0 2.1 0 9.2 0 5.7 .1-46.8 0 13.6 0 18.3 0 19.6 0 .1 0 7.5 0 3.6 .1-53.5 0 29.6 0 18.1 .1-26.3 0 6.7 0 5.1 0 16.6 0 16.1 .1-72.8 0 15.8 0 5.5 0 2.6 0 3.8 0 4.9 0 6.7 0 26.6 0 5.7 .1-51 0 4.4 0 .4 0 3.5 0 1.4 0 15.1 0 4.5 0 4.3 0 10.8 0 5.2 .1-50.8 0 .8 0 .1 0 2.4 0 2.2 0 3.8 0 9.1 0 13.3 0 3.8 0 7.6 .1-52.6 0 2 0 6.5 0 5.8 0 3.7 0 25.8 0 3.2 0 6.5 0 4 0 6 0 2.7 .1-58.9 0 7.3 0 5 0 4.3 0 1.5 0 14.7 0 3.4 0 .7 0 14.5 0 11.6 0 .1 .1-66.5 0 20.1 0 9 0 19.9 0 10.2 0 11.7 .1-53.8 0 17.1 0 6 0 8.4 0 3.1 0 5.5 0 5.7 .1-50.9 0 .5 0 1.6 0 27 0 1.4 0 12.2 0 1.4 0 6.7 0 11.9 .1-67.5 0 5.1 0 2.7 0 12.9 0 .6 0 1.7 0 3.3 0 .6 .1-56.6 0 33.6 0 5.3 0 4.7 0 1.9 0 17 0 10.1 0 1.6 .1-40.3 0 1 0 8.7 0 14.6 0 .1 0 .9 0 13.2 0 2.3 0 9.8 .1-44.1 0 18.7 0 1.4 0 2.3 0 2.8 0 6.3 0 .3 0 5.4 0 6.3 .1-41.1 0 6.2 0 2.4 .1-22.6 0 1.2 0 8.3 0 10.2 0 3.7 0 7.4 0 2.6 0 2.5 0 8.1 0 4.2 0 1.3 0 12.3 .1-37.5 .1-8.8 0 4.6 0 .4 0 12 0 25.2 0 8.6 .1-52.1 0 4.2 0 3.1 .1-19.5 0 3.9 0 25.6 0 2.4 0 8.2 0 1.2 0 1.3 0 3.6 0 7.4 .1-60.2 0 .4 0 7.2 0 7.1 0 14.8 0 2.3 .1-47.6 0 3 0 15.2 0 1.1 0 3 0 .6 0 2.5 0 10 0 5.6 0 10.6 0 7.1 .1-31.5 0 26.7 0 22.1 0 10.4 .1-64.3 0 4.1 0 .4 0 6.2 0 22 0 6.4 .1-50.1 0 12.2 0 14.8 0 1.3 0 6.6 0 .2 0 7.6 0 6 0 8 .1-91.6 0 15.6 0 1.8 0 30.5 0 24.4 0 5.8 0 4.3 .1-40.9 0 11 0 1.1 0 4.8 0 12.5 0 1.4 0 .8 0 7.3 0 3.3 0 12.2 .1-44.5 0 10 0 2.9 0 2.6 0 7.2 0 7.5 0 1.7 .1-46.3 0 19 0 11.2 0 23.4 0 3.5 0 7.8 .1-54.6 0 26.8 0 .9 0 2 0 .6 0 8.1 0 16.5 .1-57.4 0 5.7 0 9.3 0 14.9 0 15.9 0 7.2 .1-50.9 0 8.1 0 7.1 0 15.2 0 11.6 .1-48.1 0 3.7 0 17.1 0 9.5 0 .9 0 12.7 .1-12.6 0 25.7 .1-47.4 0 25.1 0 15.1 0 5.6 0 .7 .1-60.6 0 3.5 0 31.6 0 3.3 0 5.8 0 6.8 .1-40.6 0 9.5 0 12.7 0 10.4 0 15.6 0 3.6 .1-56.3 0 13.9 0 19.6 0 14.9 0 8.9 .1-54.9 0 7.3 0 5.2 0 28.5 0 7.8 0 12.1 0 .3 .1-48.2 0 9.6 0 3.4 0 1.7 0 8.6 0 5 0 9.9 .1-45.8 0 21.3 0 8.4 0 1.8 0 7.8 .1-46.9 0 .3 0 11.3 0 1.6 0 17.8 0 3.9 0 1.8 0 24 0 15.2 .1-50.4 0 .5 0 27.6 .1-35 0 1 0 2.3 0 3.1 0 6.6 0 8.3 0 36.6 .1-56 0 13.7 0 2 0 8.5 0 8.4 .1-34.5 0 .1 0 3.1 0 14.4 0 5.3 0 3.2 .1-38.9 0 .9 0 22.2 0 2.2 0 .8 0 4.2 0 5.4 0 .8 0 10.3 .1-50 0 31 0 12.1 .1-32.5 0 .8 0 9.1 0 4.1 0 5.1 0 6.9 .1-18.7 0 24.7 0 2.6 .1-54.1 0 20.1 0 11 0 6.5 0 6.4 0 3.3 .1-35.3 0 2.8 0 19.6 0 1.5 0 4.3 0 .4 0 9.2 0 5.3 .1-12.8 0 .9 0 12.4 0 18.8 .1-42.1 0 7.5 0 10.2 0 11.7 0 11.4 .1-86.9 0 17.1 0 5.8 0 15.6 0 32.3 0 7 0 12.4 .1-68.7 0 2.7 0 3.2 0 14.6 0 13.4 0 .6 0 .3 .1-34.1 0 15.1 0 22.9 0 17 .1-61.9 0 37.6 0 1.9 0 .2 0 12.8 0 16.1 .1-81.3 0 23.7 0 3.3 0 6.7 0 8.7 0 4.1 0 .7 0 11.3 0 .9 0 8.2 0 .8 0 21.5 .1-63.9 0 1.5 0 6.6 0 3.8 0 1.9 0 3.5 0 10.6 .1-77.7 0 65.2 0 4.6 0 12.4 0 13.1 .1-52.8 0 27.8 0 7.5 0 7.6 0 19 .1-64.4 0 .5 0 21.5 0 22.6 0 26.7 .1-63.8 0 1.9 0 22.3 0 4.2 0 20.7 0 10.7 .1-40.2 0 3.5 0 6.6 0 21.4 .1-62.6 0 3.2 0 15.2 0 13.8 0 6.2 0 11.5 .1-52.2 0 3.5 0 23.1 0 2.2 0 1.2 0 5.5 0 .3 0 3.6 0 1 0 4.9 0 3 0 1.5 .1-65.5 0 21 0 4.5 0 5.4 0 1.1 0 1.1 0 12.5 0 9.1 0 2.1 0 18.6 0 5.8 0 5.7 .1-72.4 0 28.6 0 3.5 0 6.2 0 .4 0 .7 .1-33.7 0 6.3 0 32.3 0 6.3 0 2.6 0 3.9 0 4.5 0 25.2 .1-58.9 0 1.4 0 16.1 0 5.5 0 .8 0 23.8 .1-54.3 0 12.5 0 .6 0 5.9 0 5.4 0 3.6 0 6.8 0 4.4 0 2.6 0 20.1 .1-67.4 0 4.2 0 14.3 0 2.5 0 21.3 0 8.3 .1-66.5 0 13.3 0 4.2 0 15.6 0 3.9 0 5.2 0 4.4 0 0 0 9.5 0 1.3 .1-27.9 0 1.1 0 12.8 0 1.6 0 10.3 .1-45.5 0 19.1 0 3.6 0 8.7 .1-29.9 0 .4 0 2.3 0 2.7 0 15.5 0 .4 0 .9 0 6.1 0 23.2 .1-55.4 0 1.7 0 16.9 0 7.2 0 12.2 0 22.1 0 18 .1-82.1 0 20.1 .1-.7 0 11.3 0 1.7 0 4.2 0 5.4 0 8.2 0 1.5 0 8.8 .1-38.5 0 10.2 0 15.2 0 3.2 0 26.8 .1-68.5 0 9.7 0 20.6 .1-44.2 0 31.3 0 11 0 27.6 0 7.7 .1-71 0 8 0 1.5 0 10.9 0 5.6 0 36.1 0 3.8 0 6.6 .1-21.8 .1-29.1 0 10.9 0 8.7 0 2.5 0 26.2 .1-46.8 0 35.5 .1-41.8 0 .9 0 5.7 0 17.2 0 4.7 0 3.8 0 20.1 .1-62.5 0 29.1 0 .3 0 15 .1-47.4 0 1.3 0 10.4 0 14.3 0 0 0 8.2 0 4.2 0 12.5 0 .6 0 16.3 .1-34.3 0 6.8 0 18.7 .1-53.6 0 4.7 0 21.8 0 4.2 0 5 0 2.4 0 8 0 3.8 0 .4 0 1.9 .1-35 0 3.2 0 4.1 0 3.1 0 12.3 0 20.2 0 9.8 .1-80.6 0 18 0 14 0 15 0 12 .1-51.2 0 2.7 0 3 0 16.8 0 7.7 0 .1 0 .3 0 7.3 0 8 0 3.1 0 8.3 0 1.1 .1-53.2 0 30.9 .1-32 0 22.2 0 13.8 0 11.3 .1-55.2 0 .5 0 11.4 0 19.5 0 4.3 0 12.3 0 16.1 .1-53.9 0 3.7 0 7.8 0 4.5 0 4.3 0 1.5 0 5.9 0 1.3 0 .1 0 23.5 0 24.2 .1-91.7 0 12.6 0 3.2 0 .1 0 5.4 0 1.5 0 13.3 0 .1 0 1.2 0 3.2 0 2.7 0 11.5 0 2 .1-48.7 0 10.5 0 8.2 0 14 0 4.5 0 13.9 .1-64.6 0 7.5 0 21.2 0 4.8 0 9.1 0 3.4 0 4.9 0 2.3 .1-33.6 0 17.6 0 2.7 0 7.8 0 .2 0 0 0 13.1 0 3 .1-27.1 0 5.7 .1-52.8 0 28.7 0 7.6 0 4 0 13.3 0 .5 0 9.7 0 4.7 .1-15.5 0 4.5 0 6.7 0 4.3 0 4.3 0 8.3 0 10.5 .1-76.3 0 25.7 0 18.2 0 4.4 .1-73.1 0 42 0 2.2 0 .7 0 31 0 .2 0 4.1 0 4.2 0 4.2 0 2.2 .1-40.1 0 5.9 0 4.3 0 6.9 0 14 .1-52.4 0 24.4 0 1.6 0 7.1 0 18.4 0 6.4 0 3.2 0 .4 0 7.4 .1-61.2 0 23.6 0 2.5 0 .6 0 4.8 0 4.8 0 7.9 0 2.6 .1-43.9 0 3.7 0 7.7 0 11.1 0 4 0 15.5 0 .7 0 4 0 3.4 0 11.8 .1-73.6 0 21.8 0 21.3 0 8.9 0 19.7 .1-56.6 0 6.1 0 14.1 .1-5 0 .4 0 8.5 0 1.2 0 1.7 0 .6 0 6.5 0 4.6 0 11.2 .1-34.4 0 .1 0 5.5 0 3.9 0 8.1 .1-4.2 0 15.9 0 10.3 .1-75.2 0 24.8 0 .3 0 4.5 0 5.7 0 1.5 0 13.2 .1-34.3 0 9.6 0 4 0 .5 0 18 0 .5 0 .2 0 3.3 0 11.4 0 4.5 .1-63 0 .9 0 1.2 0 15.5 0 13.2 0 .8 0 22.9 .1-37.9 0 12.3 0 10.4 0 .4 0 1 0 2.3 0 14 .1-43.6 0 11.5 0 0 0 .2 0 .7 0 10.9 0 2.1 0 7.1 .1-19 0 .7 0 11 0 2 0 8.9 0 10.3 .1-48.7 0 6.1 0 17 0 5.1 0 1.5 0 4.7 0 6.5 0 1.6 .1-20.7 0 3.2 0 2.8 0 18.7 0 14.9 .1-44.6 0 13.3 0 5.1 0 17.5 0 1.7 .1-55.2 0 9.4 0 5.9 0 10.3 0 7.1 0 5.6 .1-36.7 0 15.9 0 2.2 0 2.1 0 1.7 0 .4 0 29.1 .1-47.1 0 4.7 0 4.7 0 8.2 0 1.2 0 6.9 0 .8 0 6.6 .1-43.3 0 6.5 0 2.8 0 .3 0 11.9 0 27.8 .1-91.4 0 23.7 0 39.3 0 .1 0 21.5 0 .6 .1-48.1 0 .2 0 4.6 0 5.1 0 13.7 0 5.4 0 3.7 0 31.9 .1-58.9 0 18.6 0 19.6 0 4.2 .1-47.9 0 4.4 0 2.1 0 17.1 0 .6 0 3 0 4.8 0 4.2 0 3.5 0 8.1 0 2.5 0 7.7 .1-37.5 0 10.2 0 3.6 0 .4 0 4.8 0 26.6 .1-74.2 0 19.5 0 3 0 9.6 0 8.2 0 4.6 0 35.8 .1-54.2 0 8.5 0 2.7 0 3 0 10.1 0 4.4 .1-49.5 0 15.7 0 2.3 0 5.2 0 1.1 0 5 0 15.2 0 17.2 0 13.5 .1-74.6 0 27.2 0 16.2 0 3.6 0 3.1 0 1.5 0 6.2 .1-61.1 0 25.8 0 25.9 0 18.9 .1-61.9 0 28.1 0 12.6 0 13.1 .1-49.4 0 16.6 .1-16.5 0 22.3 0 5.3 0 8.1 0 13.7 0 9.7 0 10.8 .1-97.8 0 47.5 0 13.8 0 5 0 11.3 .1-58.8 0 4.9 0 6.1 0 8.5 0 4.7 0 12.3 .1-26.9 0 2.2 0 14.6 0 5.1 0 5.7 0 9.9 0 19.4 0 8.7 .1-48.6 0 20.8 0 5.2 0 3.7" marker-start="url(#m1)" marker-mid="url(#m1)" marker-end="url(#m1)"/>
</g>
<path d="M42.0 98.50H682.2" stroke="#3a3a3a" stroke-width="1" stroke-dasharray="5.2 2.8" fill="none"/>
<path d="M42.2 71.5H682.2" stroke="#e31fd0" stroke-width="2.8" stroke-dasharray="7 3.15" fill="none"/>
<polyline points="54.1,93.1 54.9,93.4 55.7,94.3 56.5,93.6 57.3,93.9 58.1,94.2 58.9,93.6 59.7,94.5 60.5,95.0 61.3,95.7 62.1,94.8 62.9,95.6 63.7,95.6 64.5,97.3 65.3,97.5 66.1,96.7 66.9,99.2 67.7,99.9 68.5,100.1 69.3,100.7 70.1,100.6 70.9,101.1 71.7,102.8 72.5,102.7 73.3,103.7 74.1,104.6 74.9,105.0 75.7,106.6 76.5,107.4 77.3,109.0 78.1,109.1 78.9,110.2 79.7,110.7 80.5,111.9 81.3,112.3 82.1,112.7 82.9,114.9 83.7,115.7 84.5,115.0 85.3,113.8 86.1,112.2 86.9,111.1 87.7,110.5 88.5,109.3 89.3,109.9 90.1,108.7 90.9,110.4 91.7,110.4 92.5,112.3 93.3,112.9 94.1,112.2 94.9,113.6 95.7,116.0 96.5,116.2 97.3,118.2 98.1,117.9 98.9,116.2 99.7,116.2 100.5,115.5 101.3,113.5 102.1,112.1 102.9,111.8 103.7,112.2 104.5,111.1 105.3,109.1 106.1,108.6 106.9,107.5 107.7,106.9 108.5,108.0 109.3,106.6 110.1,107.1 110.9,106.6 111.7,105.9 112.5,106.7 113.3,105.3 114.1,106.0 114.9,104.8 115.7,105.2 116.5,104.7 117.3,104.7 118.1,105.9 118.9,105.5 119.7,104.4 120.5,105.4 121.3,104.0 122.1,104.2 122.9,105.0 123.7,104.4 124.5,103.3 125.3,104.6 126.1,102.8 126.9,102.5 127.7,103.1 128.5,101.9 129.3,101.4 130.1,100.6 130.9,100.2 131.7,100.8 132.5,99.7 133.3,100.0 134.1,99.1 134.9,99.0 135.7,99.7 136.5,98.5 137.3,98.4 137.8,98.1" fill="none" stroke="#000" stroke-width="2.5" stroke-linejoin="round" stroke-linecap="round"/>
<polyline points="142.9,107.2 143.7,102.1 144.5,98.7 145.3,98.3 146.1,97.3 146.9,95.5 147.7,94.6 148.5,94.8 149.3,94.4 150.1,92.5 150.9,94.0 151.7,94.0 152.5,93.5 153.3,93.2 154.1,92.6 154.9,92.6 155.7,94.4 156.5,93.1 157.3,94.0 158.1,93.1 158.9,94.1 159.7,93.6 160.5,93.0 161.3,92.7 162.1,93.7 162.9,92.4 163.7,92.7 164.5,93.3 165.3,93.8 166.1,93.0 166.9,91.9 167.7,92.8 168.5,91.0 169.3,90.3 170.1,90.3 170.9,90.3 171.7,89.2 172.5,89.5 173.3,90.0 174.1,90.6 174.9,89.9 175.7,90.5 176.5,91.7 177.3,92.0 178.1,91.6 178.9,91.9 179.7,91.8 180.5,91.2 181.3,91.3 182.1,91.8 182.9,94.0 183.7,94.2 184.5,95.2 185.3,93.9 186.1,95.6 186.9,95.8 187.7,96.7 188.5,96.1 189.3,97.6 190.1,96.0 190.9,97.0 191.7,97.6 192.5,98.0 193.3,97.8 194.1,97.8 194.9,98.1 195.7,98.5 196.5,97.5 197.3,97.9 198.1,97.8 198.9,97.3 199.7,96.0 200.5,96.3 201.3,96.1 202.1,95.2 202.9,95.0 203.7,94.0 204.5,93.9 205.3,93.5 206.1,92.0 206.9,92.5 207.0,92.2" fill="none" stroke="#000" stroke-width="2.5" stroke-linejoin="round" stroke-linecap="round"/>
<polyline points="211.9,98.7 212.7,100.2 213.5,100.6 214.3,100.8 215.1,102.2 215.9,102.6 216.7,103.1 217.5,104.6 218.3,103.8 219.1,105.7 219.9,105.0 220.7,106.7 221.5,107.1 222.3,107.2 223.1,108.5 223.9,108.6 224.7,109.2 225.5,110.3 226.3,109.4 227.1,109.4 227.9,110.0 228.7,110.8 229.5,110.0 230.3,110.0 231.1,111.5 231.9,111.1 232.7,110.9 233.5,112.0 234.3,111.1 235.1,112.0 235.9,111.3 236.7,111.7 237.5,111.8 238.3,111.5 239.1,110.8 239.9,109.3 240.7,109.2 241.5,109.2 242.3,110.0 243.1,111.9 243.9,113.7 244.7,114.0 245.5,113.6 246.3,113.9 247.1,112.4 247.9,112.0 248.7,112.4 249.5,111.9 250.3,111.7 251.1,112.0 251.9,112.3 252.7,111.6 253.5,110.8 254.3,111.3 255.1,111.1 255.9,110.5 256.7,111.0 257.5,112.1 258.3,114.9 259.1,114.5 259.9,117.0 260.7,115.7 261.5,114.1 262.3,113.9 263.1,111.4 263.9,110.5 264.7,110.1 265.5,108.4 266.3,109.1 267.1,107.0 267.9,106.0 268.7,105.0 269.5,105.3 270.3,104.3 271.1,103.9 271.9,103.2 272.7,102.7 273.5,101.9 274.3,100.3 275.1,98.3 275.9,97.7 276.7,96.1 277.5,94.6 277.7,95.3" fill="none" stroke="#000" stroke-width="2.5" stroke-linejoin="round" stroke-linecap="round"/>
<polyline points="282.8,90.0 283.6,90.9 284.4,90.3 285.2,91.0 286.0,91.6 286.8,92.7 287.6,92.8 288.4,93.3 289.2,93.4 290.0,92.6 290.8,93.2 291.6,93.3 292.4,91.8 293.2,93.5 294.0,93.2 294.8,92.2 295.6,93.0 296.4,93.6 297.2,94.6 298.0,94.1 298.8,95.0 299.6,96.0 300.4,95.4 301.2,95.2 302.0,93.9 302.8,93.8 303.6,92.5 304.4,93.1 305.2,92.9 306.0,92.1 306.8,91.9 307.6,90.5 308.4,91.4 309.2,91.1 310.0,90.7 310.8,89.5 311.6,89.6 312.4,88.6 313.2,89.7 314.0,89.5 314.8,88.5 315.6,87.9 316.4,88.4 317.2,88.4 318.0,88.6 318.8,87.9 319.6,87.1 320.4,89.9 321.2,89.9 322.0,92.6 322.8,92.6 323.6,93.5 324.4,94.9 325.2,94.3 326.0,94.8 326.8,95.8 327.6,96.5 328.4,97.1 329.2,97.1 330.0,97.9 330.8,97.3 331.6,98.3 332.4,96.8 333.2,97.2 334.0,97.9 334.8,97.6 335.6,98.5 336.4,98.5 337.2,98.4 338.0,99.1 338.8,98.7 339.6,98.3 340.4,98.8 341.2,100.2 342.0,100.8 342.8,100.0 343.6,101.7 344.4,102.4 345.2,101.2 346.0,100.7 346.8,99.4 347.6,99.5 348.4,98.8 348.6,98.7" fill="none" stroke="#000" stroke-width="2.5" stroke-linejoin="round" stroke-linecap="round"/>
<polyline points="354.4,97.8 355.2,96.6 356.0,98.2 356.8,97.0 357.6,96.6 358.4,97.1 359.2,96.6 360.0,97.1 360.8,98.1 361.6,97.6 362.4,99.1 363.2,99.4 364.0,100.7 364.8,101.0 365.6,100.0 366.4,100.7 367.2,100.2 368.0,100.6 368.8,101.2 369.6,101.1 370.4,100.1 371.2,99.6 372.0,99.2 372.8,99.8 373.6,100.2 374.4,98.5 375.2,99.5 376.0,97.9 376.8,97.9 377.6,97.5 378.4,98.0 379.2,96.8 380.0,96.5 380.8,96.5 381.6,95.1 382.4,95.8 383.2,95.1 384.0,96.4 384.8,96.5 385.6,97.1 386.4,97.7 387.2,97.2 388.0,96.9 388.8,96.7 389.6,96.7 390.4,95.8 391.2,95.7 392.0,96.3 392.8,96.1 393.6,95.7 394.4,96.1 395.2,95.4 396.0,95.7 396.8,94.2 397.6,94.9 398.4,94.8 399.2,94.7 400.0,93.4 400.8,93.1 401.6,94.0 402.4,92.4 403.2,93.6 404.0,93.1 404.8,91.5 405.6,91.5 406.4,92.3 407.2,91.2 408.0,90.8 408.8,92.0 409.6,91.1 410.4,91.6 411.2,90.5 412.0,91.7 412.8,92.9 413.6,92.3 414.4,93.3 414.6,94.0" fill="none" stroke="#000" stroke-width="2.5" stroke-linejoin="round" stroke-linecap="round"/>
<polyline points="420.3,84.6 421.1,85.1 421.9,84.8 422.7,82.9 423.5,83.3 424.3,83.5 425.1,82.6 425.9,81.9 426.7,80.0 427.5,78.8 428.3,77.8 429.1,76.5 429.9,76.3 430.7,75.1 431.5,74.2 432.3,72.8 433.1,72.3 433.9,71.7 434.7,72.4 435.5,72.2 436.3,71.6 437.1,69.6 437.9,69.0 438.7,70.7 439.5,70.4 440.3,71.7 441.1,71.5 441.9,72.4 442.7,73.3 443.5,74.1 444.3,75.3 445.1,75.1 445.9,77.4 446.7,78.8 447.5,78.6 448.3,80.2 449.1,81.8 449.9,82.3 450.7,82.9 451.5,83.9 452.3,85.6 453.1,85.7 453.9,88.7 454.7,89.7 455.5,90.8 456.3,92.4 457.1,93.3 457.9,94.2 458.7,96.0 459.5,97.2 460.3,98.5 461.1,98.6 461.9,98.0 462.7,99.6 463.5,99.6 464.3,100.0 465.1,100.3 465.9,99.8 466.7,100.3" fill="none" stroke="#000" stroke-width="2.5" stroke-linejoin="round" stroke-linecap="round"/>
<polyline points="472.0,98.7 472.8,99.3 473.6,98.8 474.4,98.8 475.2,98.6 476.0,97.8 476.8,98.3 477.6,96.9 478.4,97.4 479.2,97.5 480.0,96.6 480.8,97.1 481.6,97.6 482.4,97.5 483.2,96.7 484.0,98.0 484.8,97.4 485.6,96.7 486.4,97.3 487.2,97.1 488.0,96.9 488.8,96.6 489.6,97.6 490.4,96.7 491.2,96.7 492.0,96.6 492.8,96.8 493.6,94.8 494.4,95.8 495.2,95.8 496.0,95.0 496.8,95.6 497.6,95.3 498.4,95.9 499.2,96.5 500.0,96.3 500.8,96.9 501.6,98.5 502.4,97.6 503.2,97.2 504.0,97.7 504.8,96.6 505.6,97.1 506.4,96.1 507.2,96.1 508.0,94.4 508.8,95.1 509.6,95.1 510.4,93.4 511.2,94.8 512.0,93.3 512.8,93.9 513.6,93.3 514.4,93.9 515.2,94.0 516.0,93.0 516.8,94.8 517.6,94.0 518.4,94.3 519.2,94.6 520.0,95.1 520.8,96.4 521.0,97.2" fill="none" stroke="#000" stroke-width="2.5" stroke-linejoin="round" stroke-linecap="round"/>
<polyline points="526.3,101.6 527.1,100.3 527.9,98.3 528.7,98.2 529.5,96.7 530.3,95.4 531.1,95.8 531.9,95.5 532.7,95.9 533.5,97.1 534.3,96.5 535.1,97.6 535.9,97.5 536.7,96.2 537.5,98.2 538.3,98.2 539.1,96.6 539.9,98.3 540.7,97.6 541.5,97.7 542.3,98.0 543.1,95.9 543.9,95.8 544.7,96.3 545.5,96.6 546.3,96.9 547.1,98.5 547.9,98.9 548.7,99.0 549.5,98.7 550.3,100.2 551.1,100.2 551.9,99.8 552.7,99.6 553.5,100.5 554.3,99.8 555.1,100.5 555.9,101.0 556.7,100.6 557.5,100.3 558.3,101.0 559.1,100.8 559.9,101.5 560.7,100.4 561.5,100.4 562.3,99.8 563.1,99.9 563.9,99.3 564.7,99.6 565.5,101.5 566.3,101.5 567.1,101.0 567.9,100.3 568.7,99.9 569.5,100.5 570.3,100.0 571.1,99.9 571.9,99.8 572.7,99.8 573.5,98.5 574.3,98.4 575.0,98.7" fill="none" stroke="#000" stroke-width="2.5" stroke-linejoin="round" stroke-linecap="round"/>
<polyline points="580.5,101.0 581.3,102.5 582.1,103.2 582.9,102.4 583.7,103.2 584.5,104.8 585.3,106.3 586.1,107.9 586.9,107.8 587.7,109.6 588.5,109.6 589.3,110.3 590.1,112.1 590.9,112.5 591.7,113.3 592.5,113.0 593.3,112.7 594.1,111.6 594.9,111.3 595.7,111.7 596.5,111.5 597.3,109.7 598.1,109.6 598.9,110.9 599.7,110.5 600.5,110.8 601.3,109.8 602.1,110.2 602.9,109.8 603.7,110.9 604.5,110.0 605.3,110.4 606.1,111.0 606.9,109.6 607.7,109.9 608.5,110.1 609.3,110.3 610.1,109.1 610.9,108.8 611.7,108.1 612.5,108.8 613.3,106.2 614.1,105.2 614.9,105.1 615.7,103.8 616.5,103.0 617.3,101.6 618.1,101.9 618.9,100.0 619.7,99.7 620.5,100.1 621.3,98.6 622.1,98.7 622.9,99.1 622.9,98.7" fill="none" stroke="#000" stroke-width="2.5" stroke-linejoin="round" stroke-linecap="round"/>
<polyline points="629.2,104.0 630.0,102.2 630.8,100.9 631.6,100.6 632.4,100.7 633.2,99.9 634.0,99.2 634.8,100.2 635.6,99.7 636.4,100.2 637.2,100.1 638.0,100.0 638.8,99.0 639.6,99.5 640.4,98.5 641.2,98.4 642.0,98.5 642.8,99.4 643.6,99.2 644.4,97.8 645.2,97.9 646.0,97.8 646.8,97.7 647.6,97.7 648.4,97.5 649.2,97.1 650.0,97.7 650.8,98.1 651.6,97.5 652.4,98.0 653.2,97.4 654.0,96.6 654.8,97.6 655.6,97.8 656.4,96.6 657.2,96.0 658.0,96.9 658.8,96.9 659.6,96.9 660.4,97.6 661.2,96.9 662.0,97.2 662.8,95.7 663.6,96.6 664.4,97.2 665.2,96.1 666.0,96.3 666.8,97.7 667.6,98.3 668.4,97.1 669.2,98.4 670.0,97.8 670.5,98.7" fill="none" stroke="#000" stroke-width="2.5" stroke-linejoin="round" stroke-linecap="round"/>
<path d="M39.1 21.05H42M39.1 59.77H42M39.1 98.50H42M39.1 137.22H42M39.1 175.95H42M95.50 183.6V187.4M175.20 183.6V187.4M245.40 183.6V187.4M316.50 183.6V187.4M384.70 183.6V187.4M443.40 183.6V187.4M496.50 183.6V187.4M550.60 183.6V187.4M601.20 183.6V187.4M649.50 183.6V187.4" stroke="#555" stroke-width=".9" fill="none"/>
<g font-size="6.9" fill="#555" text-anchor="end" opacity=".99">
<text x="37.1" y="23.5">1.0</text>
<text x="37.1" y="62.3">0.5</text>
<text x="37.1" y="101.0">0.0</text>
<text x="37.1" y="139.7">-0.5</text>
<text x="37.1" y="178.4">-1.0</text>
</g>
<g font-size="7" fill="#555" text-anchor="end" opacity=".99">
<text transform="translate(99.2 195) rotate(-45)">chr1</text>
<text transform="translate(178.9 195) rotate(-45)">chr2</text>
<text transform="translate(249.1 195) rotate(-45)">chr3</text>
<text transform="translate(320.2 195) rotate(-45)">chr4</text>
<text transform="translate(388.4 195) rotate(-45)">chr5</text>
<text transform="translate(447.1 195) rotate(-45)">chr6</text>
<text transform="translate(500.2 195) rotate(-45)">chr7</text>
<text transform="translate(554.3 195) rotate(-45)">chr8</text>
<text transform="translate(604.9 195) rotate(-45)">chr9</text>
<text transform="translate(653.2 195) rotate(-45)">chr10</text>
</g>
<text transform="translate(23.4 98.7) rotate(-90)" font-size="7.8" text-anchor="middle" textLength="49.5" lengthAdjust="spacingAndGlyphs" fill="#222">ΔSNP-index</text>
<text x="362.1" y="9.9" font-size="10.4" font-weight="bold" text-anchor="middle" textLength="52.2" lengthAdjust="spacingAndGlyphs" fill="#000" stroke="#000" stroke-width=".15">aui-auj bulk</text>
<g font-family="Liberation Serif, serif" font-weight="bold" font-size="20.6" fill="#000">
<text x="3.2" y="25.8">A</text><text x="1.4" y="230.8">B</text><text x="0.8" y="456.3">C</text></g>
<path d="M150.4 216V397.6M218.2 216V397.6M285.6 216V397.6M354.2 216V397.6M417.2 216V397.6M466.8 216V397.6M519.6 216V397.6M570.6 216V397.6M617.2 216V397.6" stroke="#d8d8d8" stroke-width=".7" stroke-dasharray="2.4 2.4" fill="none"/>
<path d="M66.3 242.6H664" stroke="#f01cf0" stroke-width="2.1" stroke-dasharray="7.4 5.167" fill="none"/>
<path d="M67.9 353.2C69.4 356.4 74.5 372.7 77.2 373.5C79.9 374.3 82.8 361.0 84.5 358.1C86.2 355.2 86.9 357.1 88.0 355.4C89.1 353.7 90.5 351.4 91.5 347.6C92.5 343.8 93.5 335.7 94.2 331.8C94.9 327.9 95.3 324.8 95.9 323.0C96.5 321.2 97.1 320.5 97.7 320.4C98.3 320.3 98.8 320.4 99.9 322.2C101.0 324.0 103.7 330.7 104.7 331.8C105.7 332.9 105.7 332.3 106.4 329.2C107.1 326.1 108.4 315.9 109.1 312.5C109.8 309.1 110.2 308.1 110.8 308.1C111.4 308.1 111.9 309.6 112.6 312.5C113.3 315.4 114.5 322.9 115.2 326.5C115.9 330.1 116.3 332.4 116.9 335.3C117.5 338.2 118.0 342.6 118.7 344.9C119.4 347.2 120.3 348.8 121.3 349.7C122.3 350.6 123.8 349.9 124.8 350.7C125.8 351.5 126.3 353.1 127.4 354.6C128.5 356.1 130.4 359.6 131.8 360.2C133.2 360.8 135.1 358.0 136.2 358.1C137.3 358.2 137.7 359.2 138.8 360.7C139.9 362.2 141.6 366.0 143.2 367.7C144.8 369.4 147.7 370.6 148.5 371.2" fill="none" stroke="#c4504f" stroke-width="2.6" stroke-linejoin="round" stroke-linecap="round"/>
<path d="M152.4 367.2C153.6 368.5 158.0 374.4 159.9 375.2C161.8 376.0 162.8 374.3 164.3 372.1C165.8 369.9 168.0 365.4 169.5 361.6C171.0 357.8 172.8 350.7 173.9 348.4C175.0 346.1 175.5 347.0 176.2 347.2C176.9 347.4 177.5 348.2 178.3 349.7C179.1 351.2 179.9 354.0 180.9 356.3C181.9 358.6 183.5 363.4 184.4 364.2C185.3 365.0 186.1 360.9 186.7 361.6C187.3 362.3 187.3 366.1 187.9 368.6C188.5 371.1 189.5 375.4 190.2 377.0C190.9 378.6 191.1 378.7 192.3 378.7C193.5 378.7 195.5 377.6 197.6 377.0C199.7 376.4 203.6 376.5 205.4 375.2C207.2 373.9 207.8 371.3 208.9 368.6C210.0 365.9 211.4 361.5 212.5 358.1C213.6 354.7 215.4 348.9 216.0 347.2" fill="none" stroke="#f6d416" stroke-width="2.6" stroke-linejoin="round" stroke-linecap="round"/>
<path d="M221.1 335.6C221.7 337.8 223.6 345.6 224.6 349.3C225.6 353.0 226.7 359.2 227.6 358.9C228.5 358.6 229.5 352.2 230.4 347.6C231.3 343.0 232.6 333.4 233.4 330.0C234.2 326.6 234.4 326.2 235.1 326.2C235.8 326.2 237.0 330.2 237.8 330.0C238.6 329.8 239.6 325.5 240.4 325.1C241.2 324.7 242.2 325.6 243.0 327.4C243.8 329.2 244.9 337.2 245.7 336.2C246.5 335.2 247.7 324.0 248.3 321.3C248.9 318.6 249.1 317.8 249.7 319.5C250.3 321.2 251.0 331.0 251.8 331.8C252.6 332.6 253.6 326.9 254.4 324.8C255.2 322.7 256.3 319.3 257.0 318.7C257.7 318.1 258.1 318.7 258.8 321.3C259.5 323.9 260.6 334.9 261.4 334.9C262.2 334.9 263.3 325.9 264.1 321.3C264.9 316.7 265.6 308.1 266.2 306.4C266.8 304.7 267.1 307.0 267.6 310.8C268.1 314.6 268.7 323.8 269.3 330.0C269.9 336.2 270.4 344.8 271.1 349.3C271.8 353.8 272.7 354.3 273.7 358.1C274.7 361.9 276.2 371.9 277.2 373.0C278.2 374.1 279.0 367.9 279.8 365.1C280.6 362.3 282.0 357.0 282.4 355.4" fill="none" stroke="#5f8c22" stroke-width="2.6" stroke-linejoin="round" stroke-linecap="round"/>
<path d="M287.7 360.7C288.7 361.7 291.7 365.1 293.8 366.8C295.9 368.5 298.8 370.9 300.8 371.2C302.8 371.5 304.4 370.3 306.1 368.6C307.8 366.9 309.7 362.6 311.4 360.7C313.1 358.8 315.1 357.1 316.6 356.7C318.1 356.3 319.3 356.8 321.0 358.1C322.7 359.4 324.6 362.7 327.0 364.9C329.4 367.1 333.3 370.9 335.8 371.9C338.3 372.9 340.1 372.0 342.8 371.4C345.5 370.8 350.9 368.9 352.4 368.4" fill="none" stroke="#1fa6a4" stroke-width="2.4" stroke-linejoin="round" stroke-linecap="round"/>
<path d="M356.8 366.7C361.6 368.1 381.4 374.1 386.6 375.4C391.8 376.7 384.7 378.5 389.2 374.9C393.7 371.3 410.5 356.3 414.6 352.7" fill="none" stroke="#5a8fdb" stroke-width="2.3" stroke-linejoin="round" stroke-linecap="round"/>
<path d="M419.9 336.0C420.6 332.6 423.2 320.8 424.2 315.0C425.2 309.2 424.9 304.8 426.0 300.0C427.1 295.2 430.2 290.5 431.3 285.3C432.4 280.1 432.4 274.2 433.0 267.8C433.6 261.4 434.4 251.2 434.8 245.0C435.2 238.8 435.4 232.9 435.7 229.3C436.0 225.7 436.2 222.3 436.5 222.3C436.8 222.3 437.0 225.7 437.4 229.3C437.8 232.9 438.6 240.1 439.2 245.0C439.8 249.9 440.2 257.2 440.9 259.9C441.6 262.6 442.8 259.0 443.5 261.7C444.2 264.4 444.6 270.9 445.3 276.6C446.0 282.3 446.9 290.7 447.9 297.6C448.9 304.5 450.4 313.9 451.5 320.0C452.6 326.1 453.9 329.5 455.0 336.0C456.1 342.5 457.0 353.6 458.5 360.5C460.0 367.4 463.6 376.0 464.6 378.9" fill="none" stroke="#8b2be2" stroke-width="2.5" stroke-linejoin="round" stroke-linecap="round"/>
<path d="M469.9 384.7C473.7 383.1 485.9 377.3 493.5 374.9C501.1 372.5 513.4 370.5 517.2 369.7" fill="none" stroke="#7f007c" stroke-width="2.3" stroke-linejoin="round" stroke-linecap="round"/>
<path d="M521.6 371.9C523.0 372.2 528.1 373.0 530.3 373.7C532.5 374.4 533.9 376.1 535.6 376.0C537.3 375.9 538.8 373.3 540.8 372.8C542.8 372.3 545.4 372.4 547.9 372.8C550.4 373.2 553.4 374.1 556.6 375.4C559.8 376.7 566.2 380.3 568.0 381.2" fill="none" stroke="#d06fce" stroke-width="2.1" stroke-linejoin="round" stroke-linecap="round"/>
<path d="M573.4 371.4C573.9 369.4 575.4 363.6 576.4 358.8C577.4 354.0 578.9 344.7 579.9 341.3C580.9 337.9 581.7 340.0 582.5 337.8C583.3 335.6 584.1 329.0 585.1 327.3C586.1 325.6 587.6 326.6 588.7 326.9C589.8 327.2 591.2 327.8 592.2 329.0C593.2 330.2 594.1 332.1 594.8 334.3C595.5 336.5 595.9 339.9 596.5 343.0C597.1 346.1 597.3 352.4 598.3 353.5C599.3 354.6 601.7 350.1 602.7 350.0C603.7 349.9 603.7 351.1 604.4 352.7C605.1 354.3 605.9 357.7 607.0 359.7C608.1 361.7 610.0 363.7 611.4 364.9C612.8 366.1 615.1 366.8 615.8 367.2" fill="none" stroke="#f2148f" stroke-width="2.6" stroke-linejoin="round" stroke-linecap="round"/>
<path d="M620.2 372.5C621.5 373.8 626.0 378.9 628.1 380.7C630.2 382.5 631.3 383.6 633.3 383.7C635.3 383.8 638.2 381.6 640.3 381.2C642.4 380.8 643.3 379.8 646.5 381.2C649.7 382.6 658.3 388.6 660.5 390.0" fill="none" stroke="#8c4a12" stroke-width="2.3" stroke-linejoin="round" stroke-linecap="round"/>
<path d="M66.3 214V398.2H663.4M62.8 221.2H66.3M62.8 271.7H66.3M62.8 322.3H66.3M62.8 372.8H66.3M108.1 398V400.6M184.4 398V400.6M251.8 398V400.6M319.9 398V400.6M385.7 398V400.6M442.0 398V400.6M493.2 398V400.6M544.6 398V400.6M594.2 398V400.6M640.3 398V400.6" stroke="#3a3a3a" stroke-width="1.1" fill="none"/>
<g font-size="7.5" fill="#1a1a1a" text-anchor="end" stroke="#1a1a1a" stroke-width=".15">
<text transform="translate(60.6 223.0) scale(1 .65)">0.5</text>
<text transform="translate(60.6 273.5) scale(1 .65)">0.4</text>
<text transform="translate(60.6 324.1) scale(1 .65)">0.3</text>
<text transform="translate(60.6 374.6) scale(1 .65)">0.2</text>
</g><g font-size="7.2" fill="#1a1a1a" text-anchor="end" stroke="#1a1a1a" stroke-width=".3">
<text transform="translate(111.4 404.3) scale(1 .66) rotate(-45)">chr1</text>
<text transform="translate(187.7 404.3) scale(1 .66) rotate(-45)">chr2</text>
<text transform="translate(255.1 404.3) scale(1 .66) rotate(-45)">chr3</text>
<text transform="translate(323.2 404.3) scale(1 .66) rotate(-45)">chr4</text>
<text transform="translate(389.0 404.3) scale(1 .66) rotate(-45)">chr5</text>
<text transform="translate(445.3 404.3) scale(1 .66) rotate(-45)">chr6</text>
<text transform="translate(496.5 404.3) scale(1 .66) rotate(-45)">chr7</text>
<text transform="translate(547.9 404.3) scale(1 .66) rotate(-45)">chr8</text>
<text transform="translate(597.5 404.3) scale(1 .66) rotate(-45)">chr9</text>
<text transform="translate(643.6 404.3) scale(1 .66) rotate(-45)">chr10</text>
</g>
<text transform="translate(46.9 306.2) rotate(-90)" font-size="9.4" text-anchor="middle" textLength="51.5" lengthAdjust="spacingAndGlyphs" fill="#111" stroke="#111" stroke-width=".25">Euclidean Distance</text>
<g stroke="#000" fill="none"><path d="M492.2 236.3L448.5 247.4" stroke-width="4.4" stroke-linecap="butt"/><path d="M460 234.9L447.6 247.6L464.1 252.4" stroke-width="4.7" stroke-linecap="round" stroke-linejoin="miter"/></g>
<g stroke="#b2b2b2" stroke-width=".95" fill="none">
<path d="M190.4 464.3H527.8A4.1 4.1 0 0 1 527.8 472.5H190.4A4.1 4.1 0 0 1 190.4 464.3Z"/>
</g><g stroke="#a6a6a6" stroke-width=".7" fill="none">
<path d="M190.1 454.6V482.3M527.5 455.6V483M447.6 455.6V483.2M432.1 483.2H463"/>
<path d="M268.2 454.2Q270.6 459 270.9 464.3V472.5Q270.6 477.5 268.4 482.4M280.6 454.2Q278.6 459 278.3 464.3V472.5Q278.6 477.5 280.8 482.4"/>
</g>
<g font-size="10.3" font-weight="bold" fill="#111" stroke="#111" stroke-width=".25">
<g font-size="9.3">
<text transform="translate(186.5 437.2) rotate(90)" textLength="12.5" lengthAdjust="spacingAndGlyphs" xml:space="preserve">4.6</text>
<text transform="translate(264.2 437.2) rotate(90)" textLength="12.5" lengthAdjust="spacingAndGlyphs" xml:space="preserve">3.5</text>
<text transform="translate(276.0 437.2) rotate(90)" textLength="12.5" lengthAdjust="spacingAndGlyphs" xml:space="preserve">3.4</text>
<text transform="translate(442.5 437.2) rotate(90)" textLength="12.5" lengthAdjust="spacingAndGlyphs" xml:space="preserve">1.1</text>
<text transform="translate(523.6 437.2) rotate(90)" textLength="12.5" lengthAdjust="spacingAndGlyphs" xml:space="preserve">0.0</text>
</g>
<text transform="translate(186.1 487.3) rotate(90)" textLength="38.6" lengthAdjust="spacingAndGlyphs" xml:space="preserve">6F23R23</text>
<text transform="translate(265.0 487.3) rotate(90)" textLength="39.3" lengthAdjust="spacingAndGlyphs" xml:space="preserve">6F29R29</text>
<text transform="translate(276.9 487.3) rotate(90)" textLength="38.3" lengthAdjust="spacingAndGlyphs" xml:space="preserve">6F34R34</text>
<text transform="translate(431.5 486.8) rotate(90)" textLength="75.3" lengthAdjust="spacingAndGlyphs" xml:space="preserve">6F20R20  6F8R8</text>
<text transform="translate(443.2 486.8) rotate(90)" textLength="85.0" lengthAdjust="spacingAndGlyphs" xml:space="preserve">6F11R11  6F13R13</text>
<text transform="translate(455.1 486.8) rotate(90)" textLength="85.0" lengthAdjust="spacingAndGlyphs" xml:space="preserve">6F19R19  6F17R17</text>
<text transform="translate(523.2 486.8) rotate(90)" textLength="74.6" lengthAdjust="spacingAndGlyphs" xml:space="preserve">6F15R15  6F6R6</text>
</g>
<path d="M274.9 531.2L280.1 540.6H276.8V561.7H273.1V540.6H269.8Z" fill="#000"/>
</svg>
</body></html>
